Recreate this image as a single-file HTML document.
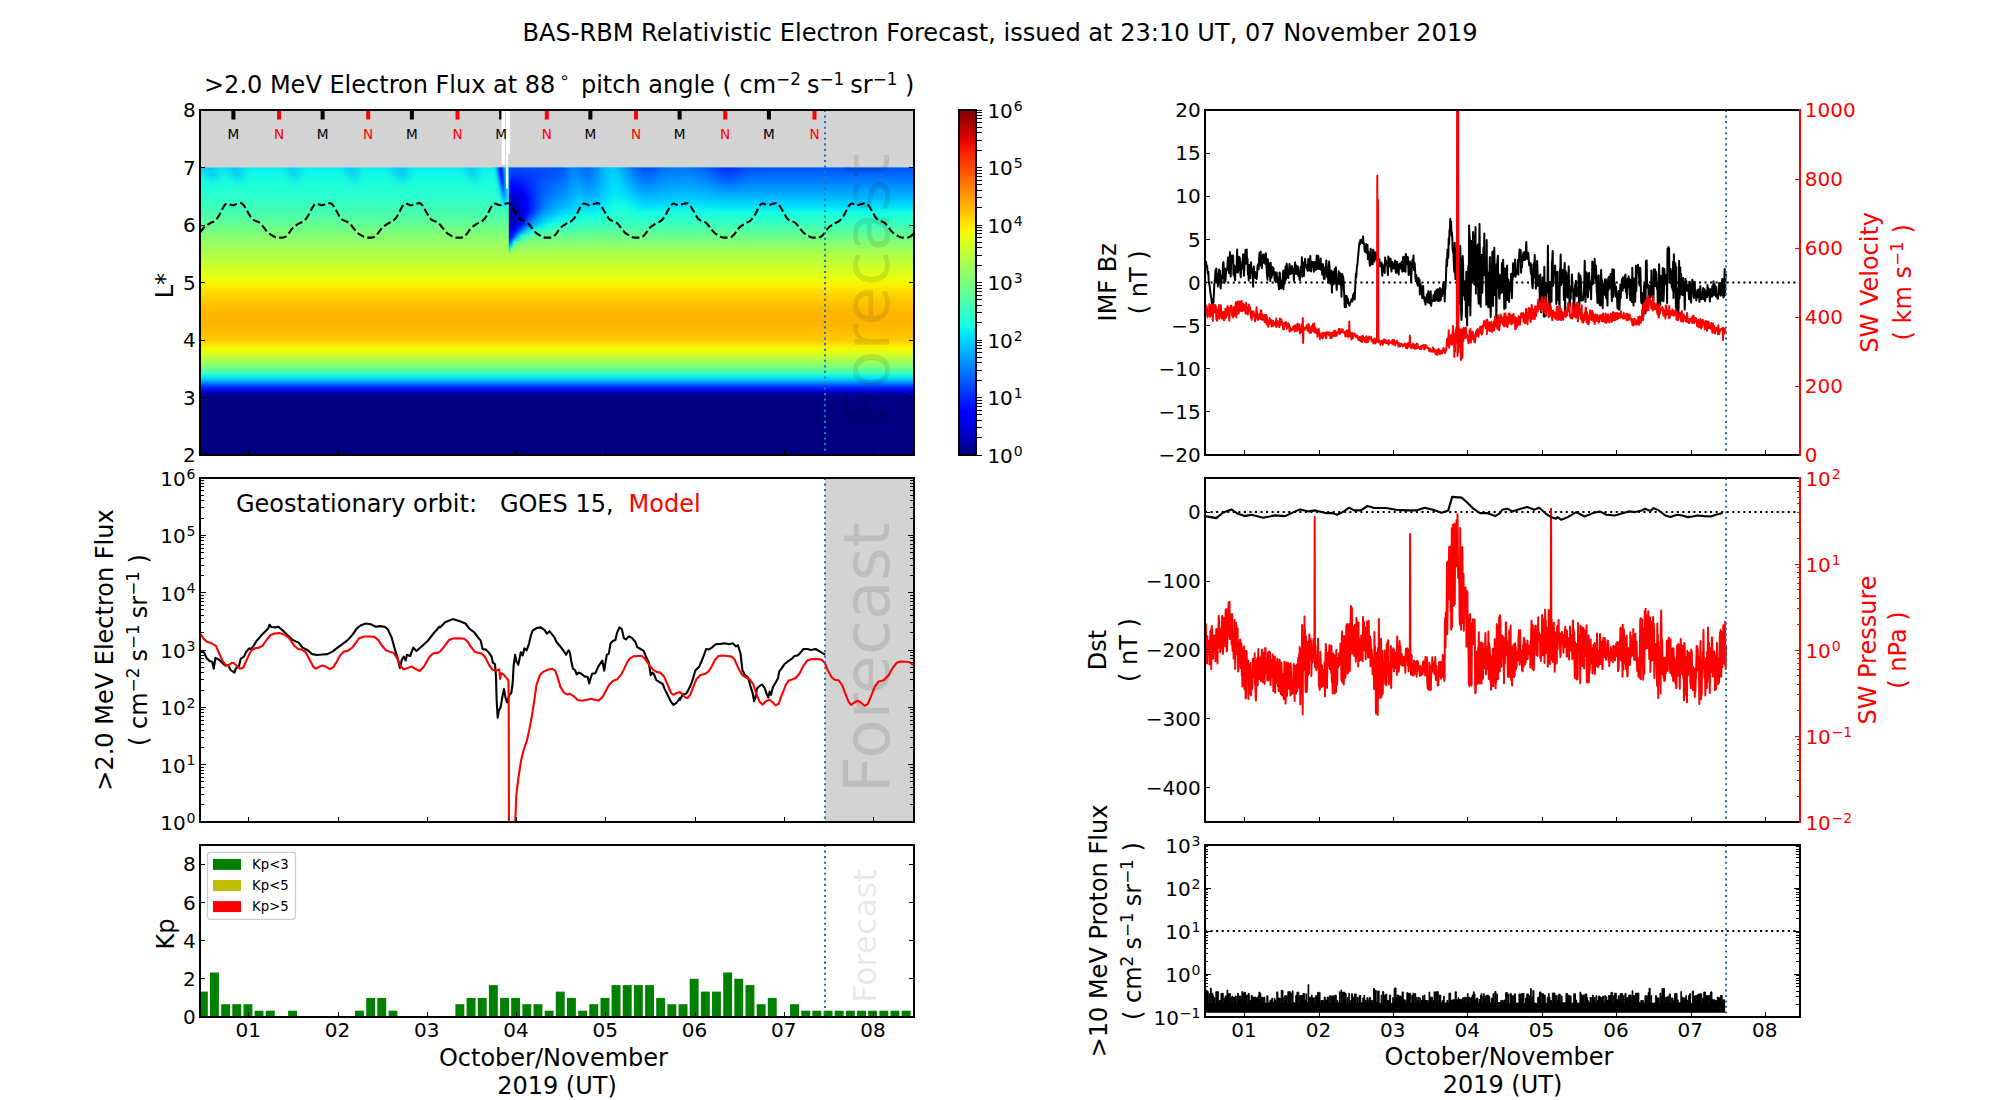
<!DOCTYPE html>
<html><head><meta charset="utf-8"><title>BAS-RBM Relativistic Electron Forecast</title>
<style>html,body{margin:0;padding:0;background:#fff}svg{display:block}text{font-family:"DejaVu Sans","Liberation Sans",sans-serif;white-space:pre}</style>
</head><body>
<svg width="2000" height="1100" viewBox="0 0 2000 1100">
<text x="1000" y="41" font-size="24.1" text-anchor="middle" fill="#000">BAS-RBM Relativistic Electron Forecast, issued at 23:10 UT, 07 November 2019</text>
<defs>
<linearGradient id="gb" x1="0" y1="0" x2="0" y2="1">
<stop offset="0.0000" stop-color="#08f0ef"/>
<stop offset="0.0167" stop-color="#0ef6e9"/>
<stop offset="0.0333" stop-color="#13fde4"/>
<stop offset="0.0500" stop-color="#19ffde"/>
<stop offset="0.0667" stop-color="#1effd9"/>
<stop offset="0.0833" stop-color="#24ffd3"/>
<stop offset="0.1000" stop-color="#29ffce"/>
<stop offset="0.1167" stop-color="#32ffc5"/>
<stop offset="0.1333" stop-color="#3affbd"/>
<stop offset="0.1500" stop-color="#43ffb4"/>
<stop offset="0.1667" stop-color="#4cffab"/>
<stop offset="0.1833" stop-color="#59ff9d"/>
<stop offset="0.2000" stop-color="#67ff90"/>
<stop offset="0.2167" stop-color="#73ff83"/>
<stop offset="0.2333" stop-color="#80ff77"/>
<stop offset="0.2500" stop-color="#8dff6a"/>
<stop offset="0.2667" stop-color="#98ff5f"/>
<stop offset="0.2833" stop-color="#a2ff54"/>
<stop offset="0.3000" stop-color="#adff4a"/>
<stop offset="0.3167" stop-color="#b7ff40"/>
<stop offset="0.3333" stop-color="#c3ff34"/>
<stop offset="0.3500" stop-color="#cfff28"/>
<stop offset="0.3667" stop-color="#dbff1c"/>
<stop offset="0.3833" stop-color="#e7ff0f"/>
<stop offset="0.4000" stop-color="#f4f903"/>
<stop offset="0.4167" stop-color="#ffeb00"/>
<stop offset="0.4333" stop-color="#ffdc00"/>
<stop offset="0.4500" stop-color="#ffcf00"/>
<stop offset="0.4667" stop-color="#ffc700"/>
<stop offset="0.4833" stop-color="#ffc000"/>
<stop offset="0.5000" stop-color="#ffb800"/>
<stop offset="0.5167" stop-color="#ffb600"/>
<stop offset="0.5333" stop-color="#ffb500"/>
<stop offset="0.5500" stop-color="#ffb600"/>
<stop offset="0.5667" stop-color="#ffbd00"/>
<stop offset="0.5833" stop-color="#ffc400"/>
<stop offset="0.6000" stop-color="#ffcb00"/>
<stop offset="0.6167" stop-color="#ffe400"/>
<stop offset="0.6333" stop-color="#f0fd06"/>
<stop offset="0.6500" stop-color="#d3ff24"/>
<stop offset="0.6667" stop-color="#b2ff45"/>
<stop offset="0.6833" stop-color="#91ff66"/>
<stop offset="0.7000" stop-color="#68ff8f"/>
<stop offset="0.7167" stop-color="#32ffc5"/>
<stop offset="0.7333" stop-color="#00defd"/>
<stop offset="0.7500" stop-color="#0082ff"/>
<stop offset="0.7667" stop-color="#001dff"/>
<stop offset="0.7833" stop-color="#0000bd"/>
<stop offset="0.8000" stop-color="#000080"/>
<stop offset="0.8167" stop-color="#000080"/>
<stop offset="0.8333" stop-color="#000080"/>
<stop offset="0.8500" stop-color="#000080"/>
<stop offset="0.8667" stop-color="#000080"/>
<stop offset="0.8833" stop-color="#000080"/>
<stop offset="0.9000" stop-color="#000080"/>
<stop offset="0.9167" stop-color="#000080"/>
<stop offset="0.9333" stop-color="#000080"/>
<stop offset="0.9500" stop-color="#000080"/>
<stop offset="0.9667" stop-color="#000080"/>
<stop offset="0.9833" stop-color="#000080"/>
<stop offset="1.0000" stop-color="#000080"/>
</linearGradient>
<linearGradient id="gcb" x1="0" y1="0" x2="0" y2="1">
<stop offset="0.000" stop-color="#800000"/>
<stop offset="0.025" stop-color="#9c0000"/>
<stop offset="0.050" stop-color="#b90000"/>
<stop offset="0.075" stop-color="#d60000"/>
<stop offset="0.100" stop-color="#f30900"/>
<stop offset="0.125" stop-color="#ff2100"/>
<stop offset="0.150" stop-color="#ff3900"/>
<stop offset="0.175" stop-color="#ff5000"/>
<stop offset="0.200" stop-color="#ff6800"/>
<stop offset="0.225" stop-color="#ff8000"/>
<stop offset="0.250" stop-color="#ff9700"/>
<stop offset="0.275" stop-color="#ffaf00"/>
<stop offset="0.300" stop-color="#ffc600"/>
<stop offset="0.325" stop-color="#ffde00"/>
<stop offset="0.350" stop-color="#f7f600"/>
<stop offset="0.375" stop-color="#e2ff15"/>
<stop offset="0.400" stop-color="#ceff29"/>
<stop offset="0.425" stop-color="#b9ff3e"/>
<stop offset="0.450" stop-color="#a5ff52"/>
<stop offset="0.475" stop-color="#90ff67"/>
<stop offset="0.500" stop-color="#7bff7b"/>
<stop offset="0.525" stop-color="#67ff90"/>
<stop offset="0.550" stop-color="#52ffa5"/>
<stop offset="0.575" stop-color="#3effb9"/>
<stop offset="0.600" stop-color="#29ffce"/>
<stop offset="0.625" stop-color="#15ffe2"/>
<stop offset="0.650" stop-color="#00e5f7"/>
<stop offset="0.675" stop-color="#00ccff"/>
<stop offset="0.700" stop-color="#00b3ff"/>
<stop offset="0.725" stop-color="#0099ff"/>
<stop offset="0.750" stop-color="#0080ff"/>
<stop offset="0.775" stop-color="#0066ff"/>
<stop offset="0.800" stop-color="#004cff"/>
<stop offset="0.825" stop-color="#0033ff"/>
<stop offset="0.850" stop-color="#001aff"/>
<stop offset="0.875" stop-color="#0000ff"/>
<stop offset="0.900" stop-color="#0000f3"/>
<stop offset="0.925" stop-color="#0000d6"/>
<stop offset="0.950" stop-color="#0000b9"/>
<stop offset="0.975" stop-color="#00009c"/>
<stop offset="1.000" stop-color="#000080"/>
</linearGradient>
</defs>
<rect x="200" y="110" width="714" height="58" fill="#d3d3d3"/>
<rect x="200" y="167.5" width="714" height="287.5" fill="url(#gb)"/>
<filter id="bl" x="-50%" y="-50%" width="200%" height="200%"><feGaussianBlur stdDeviation="4"/></filter>
<clipPath id="ch"><rect x="200" y="167.5" width="714" height="287.5"/></clipPath>
<g clip-path="url(#ch)" filter="url(#bl)" fill="#00a8ff" fill-opacity="0.6">
<ellipse cx="210" cy="169.5" rx="7" ry="13" transform="rotate(-30 210 169.5)"/>
<ellipse cx="235" cy="169.5" rx="7" ry="13" transform="rotate(-30 235 169.5)"/>
<ellipse cx="292" cy="169.5" rx="5" ry="13" transform="rotate(-30 292 169.5)"/>
<ellipse cx="351" cy="169.5" rx="5" ry="13" transform="rotate(-30 351 169.5)"/>
<ellipse cx="400" cy="169.5" rx="8" ry="13" transform="rotate(-30 400 169.5)"/>
<ellipse cx="471" cy="169.5" rx="5" ry="13" transform="rotate(-30 471 169.5)"/>
</g>
<defs><linearGradient id="s1" x1="0" y1="0" x2="0" y2="1"><stop offset="0.000" stop-color="#07eef0"/><stop offset="0.062" stop-color="#0ef7e8"/><stop offset="0.125" stop-color="#15ffe2"/><stop offset="0.187" stop-color="#1cffdb"/><stop offset="0.250" stop-color="#23ffd4"/><stop offset="0.312" stop-color="#29ffce"/><stop offset="0.375" stop-color="#33ffc3"/><stop offset="0.438" stop-color="#3effb9"/><stop offset="0.500" stop-color="#48ffaf"/><stop offset="0.563" stop-color="#57ffa0"/><stop offset="0.625" stop-color="#67ff90"/><stop offset="0.687" stop-color="#76ff81"/><stop offset="0.750" stop-color="#85ff72"/><stop offset="0.812" stop-color="#94ff63"/><stop offset="0.875" stop-color="#a0ff56"/><stop offset="0.938" stop-color="#adff4a"/><stop offset="1.000" stop-color="#b9ff3e"/></linearGradient><linearGradient id="s2" x1="0" y1="0" x2="0" y2="1"><stop offset="0.000" stop-color="#04ebf3"/><stop offset="0.062" stop-color="#0df6ea"/><stop offset="0.125" stop-color="#15ffe2"/><stop offset="0.187" stop-color="#1cffdb"/><stop offset="0.250" stop-color="#22ffd4"/><stop offset="0.312" stop-color="#29ffce"/><stop offset="0.375" stop-color="#33ffc3"/><stop offset="0.438" stop-color="#3effb9"/><stop offset="0.500" stop-color="#48ffaf"/><stop offset="0.563" stop-color="#57ffa0"/><stop offset="0.625" stop-color="#67ff90"/><stop offset="0.687" stop-color="#76ff81"/><stop offset="0.750" stop-color="#85ff72"/><stop offset="0.812" stop-color="#94ff63"/><stop offset="0.875" stop-color="#a0ff56"/><stop offset="0.938" stop-color="#adff4a"/><stop offset="1.000" stop-color="#b9ff3e"/></linearGradient><linearGradient id="s3" x1="0" y1="0" x2="0" y2="1"><stop offset="0.000" stop-color="#00e2fa"/><stop offset="0.062" stop-color="#09f1ee"/><stop offset="0.125" stop-color="#13fde4"/><stop offset="0.187" stop-color="#1bffdc"/><stop offset="0.250" stop-color="#22ffd5"/><stop offset="0.312" stop-color="#29ffce"/><stop offset="0.375" stop-color="#33ffc3"/><stop offset="0.438" stop-color="#3effb9"/><stop offset="0.500" stop-color="#48ffaf"/><stop offset="0.563" stop-color="#57ffa0"/><stop offset="0.625" stop-color="#67ff90"/><stop offset="0.687" stop-color="#76ff81"/><stop offset="0.750" stop-color="#85ff72"/><stop offset="0.812" stop-color="#94ff63"/><stop offset="0.875" stop-color="#a0ff56"/><stop offset="0.938" stop-color="#adff4a"/><stop offset="1.000" stop-color="#b9ff3e"/></linearGradient><linearGradient id="s4" x1="0" y1="0" x2="0" y2="1"><stop offset="0.000" stop-color="#00cfff"/><stop offset="0.062" stop-color="#00e6f7"/><stop offset="0.125" stop-color="#0ef7e9"/><stop offset="0.187" stop-color="#19ffde"/><stop offset="0.250" stop-color="#21ffd5"/><stop offset="0.312" stop-color="#29ffce"/><stop offset="0.375" stop-color="#33ffc3"/><stop offset="0.438" stop-color="#3effb9"/><stop offset="0.500" stop-color="#48ffaf"/><stop offset="0.563" stop-color="#57ffa0"/><stop offset="0.625" stop-color="#67ff90"/><stop offset="0.687" stop-color="#76ff81"/><stop offset="0.750" stop-color="#85ff72"/><stop offset="0.812" stop-color="#94ff63"/><stop offset="0.875" stop-color="#a0ff56"/><stop offset="0.938" stop-color="#adff4a"/><stop offset="1.000" stop-color="#b9ff3e"/></linearGradient><linearGradient id="s5" x1="0" y1="0" x2="0" y2="1"><stop offset="0.000" stop-color="#00aeff"/><stop offset="0.062" stop-color="#00cfff"/><stop offset="0.125" stop-color="#03eaf3"/><stop offset="0.187" stop-color="#14fee3"/><stop offset="0.250" stop-color="#1fffd8"/><stop offset="0.312" stop-color="#28ffcf"/><stop offset="0.375" stop-color="#33ffc4"/><stop offset="0.438" stop-color="#3effb9"/><stop offset="0.500" stop-color="#48ffaf"/><stop offset="0.563" stop-color="#57ffa0"/><stop offset="0.625" stop-color="#67ff90"/><stop offset="0.687" stop-color="#76ff81"/><stop offset="0.750" stop-color="#85ff72"/><stop offset="0.812" stop-color="#94ff63"/><stop offset="0.875" stop-color="#a0ff56"/><stop offset="0.938" stop-color="#adff4a"/><stop offset="1.000" stop-color="#b9ff3e"/></linearGradient><linearGradient id="s6" x1="0" y1="0" x2="0" y2="1"><stop offset="0.000" stop-color="#0080ff"/><stop offset="0.062" stop-color="#00aaff"/><stop offset="0.125" stop-color="#00d1ff"/><stop offset="0.187" stop-color="#08f0ef"/><stop offset="0.250" stop-color="#19ffdd"/><stop offset="0.312" stop-color="#25ffd1"/><stop offset="0.375" stop-color="#32ffc5"/><stop offset="0.438" stop-color="#3dffb9"/><stop offset="0.500" stop-color="#48ffaf"/><stop offset="0.563" stop-color="#57ffa0"/><stop offset="0.625" stop-color="#67ff90"/><stop offset="0.687" stop-color="#76ff81"/><stop offset="0.750" stop-color="#85ff72"/><stop offset="0.812" stop-color="#94ff63"/><stop offset="0.875" stop-color="#a0ff56"/><stop offset="0.938" stop-color="#adff4a"/><stop offset="1.000" stop-color="#b9ff3e"/></linearGradient><linearGradient id="s7" x1="0" y1="0" x2="0" y2="1"><stop offset="0.000" stop-color="#004bff"/><stop offset="0.062" stop-color="#0078ff"/><stop offset="0.125" stop-color="#00a9ff"/><stop offset="0.187" stop-color="#00d6ff"/><stop offset="0.250" stop-color="#0ef6e9"/><stop offset="0.312" stop-color="#20ffd7"/><stop offset="0.375" stop-color="#30ffc7"/><stop offset="0.438" stop-color="#3dffba"/><stop offset="0.500" stop-color="#48ffaf"/><stop offset="0.563" stop-color="#57ffa0"/><stop offset="0.625" stop-color="#67ff90"/><stop offset="0.687" stop-color="#76ff81"/><stop offset="0.750" stop-color="#85ff72"/><stop offset="0.812" stop-color="#94ff63"/><stop offset="0.875" stop-color="#a0ff56"/><stop offset="0.938" stop-color="#adff4a"/><stop offset="1.000" stop-color="#b9ff3e"/></linearGradient><linearGradient id="s8" x1="0" y1="0" x2="0" y2="1"><stop offset="0.000" stop-color="#0020ff"/><stop offset="0.062" stop-color="#0044ff"/><stop offset="0.125" stop-color="#0079ff"/><stop offset="0.187" stop-color="#00b1ff"/><stop offset="0.250" stop-color="#00defd"/><stop offset="0.312" stop-color="#15ffe2"/><stop offset="0.375" stop-color="#2bffcc"/><stop offset="0.438" stop-color="#3cffbb"/><stop offset="0.500" stop-color="#48ffaf"/><stop offset="0.563" stop-color="#57ffa0"/><stop offset="0.625" stop-color="#67ff90"/><stop offset="0.687" stop-color="#76ff81"/><stop offset="0.750" stop-color="#85ff72"/><stop offset="0.812" stop-color="#94ff63"/><stop offset="0.875" stop-color="#a0ff56"/><stop offset="0.938" stop-color="#adff4a"/><stop offset="1.000" stop-color="#b9ff3e"/></linearGradient><linearGradient id="s9" x1="0" y1="0" x2="0" y2="1"><stop offset="0.000" stop-color="#000fff"/><stop offset="0.062" stop-color="#0020ff"/><stop offset="0.125" stop-color="#004bff"/><stop offset="0.187" stop-color="#0086ff"/><stop offset="0.250" stop-color="#00bcff"/><stop offset="0.312" stop-color="#03e9f4"/><stop offset="0.375" stop-color="#22ffd5"/><stop offset="0.438" stop-color="#39ffbe"/><stop offset="0.500" stop-color="#48ffaf"/><stop offset="0.563" stop-color="#57ffa0"/><stop offset="0.625" stop-color="#67ff90"/><stop offset="0.687" stop-color="#76ff81"/><stop offset="0.750" stop-color="#85ff72"/><stop offset="0.812" stop-color="#94ff63"/><stop offset="0.875" stop-color="#a0ff56"/><stop offset="0.938" stop-color="#adff4a"/><stop offset="1.000" stop-color="#b9ff3e"/></linearGradient><linearGradient id="s10" x1="0" y1="0" x2="0" y2="1"><stop offset="0.000" stop-color="#0020ff"/><stop offset="0.062" stop-color="#0019ff"/><stop offset="0.125" stop-color="#002fff"/><stop offset="0.187" stop-color="#0061ff"/><stop offset="0.250" stop-color="#0099ff"/><stop offset="0.312" stop-color="#00cdff"/><stop offset="0.375" stop-color="#14ffe2"/><stop offset="0.438" stop-color="#34ffc3"/><stop offset="0.500" stop-color="#48ffaf"/><stop offset="0.563" stop-color="#57ffa0"/><stop offset="0.625" stop-color="#67ff90"/><stop offset="0.687" stop-color="#76ff81"/><stop offset="0.750" stop-color="#85ff72"/><stop offset="0.812" stop-color="#94ff63"/><stop offset="0.875" stop-color="#a0ff56"/><stop offset="0.938" stop-color="#adff4a"/><stop offset="1.000" stop-color="#b9ff3e"/></linearGradient><linearGradient id="s11" x1="0" y1="0" x2="0" y2="1"><stop offset="0.000" stop-color="#004bff"/><stop offset="0.062" stop-color="#0033ff"/><stop offset="0.125" stop-color="#0033ff"/><stop offset="0.187" stop-color="#0051ff"/><stop offset="0.250" stop-color="#007eff"/><stop offset="0.312" stop-color="#00b2ff"/><stop offset="0.375" stop-color="#04ebf3"/><stop offset="0.438" stop-color="#2dffca"/><stop offset="0.500" stop-color="#48ffaf"/><stop offset="0.563" stop-color="#57ffa0"/><stop offset="0.625" stop-color="#67ff90"/><stop offset="0.687" stop-color="#76ff81"/><stop offset="0.750" stop-color="#85ff72"/><stop offset="0.812" stop-color="#94ff63"/><stop offset="0.875" stop-color="#a0ff56"/><stop offset="0.938" stop-color="#adff4a"/><stop offset="1.000" stop-color="#b9ff3e"/></linearGradient><linearGradient id="s12" x1="0" y1="0" x2="0" y2="1"><stop offset="0.000" stop-color="#0080ff"/><stop offset="0.062" stop-color="#0063ff"/><stop offset="0.125" stop-color="#0053ff"/><stop offset="0.187" stop-color="#005cff"/><stop offset="0.250" stop-color="#0077ff"/><stop offset="0.312" stop-color="#00a1ff"/><stop offset="0.375" stop-color="#00d9ff"/><stop offset="0.438" stop-color="#26ffd1"/><stop offset="0.500" stop-color="#48ffaf"/><stop offset="0.563" stop-color="#57ffa0"/><stop offset="0.625" stop-color="#67ff90"/><stop offset="0.687" stop-color="#76ff81"/><stop offset="0.750" stop-color="#85ff72"/><stop offset="0.812" stop-color="#94ff63"/><stop offset="0.875" stop-color="#a0ff56"/><stop offset="0.938" stop-color="#adff4a"/><stop offset="1.000" stop-color="#b9ff3e"/></linearGradient><linearGradient id="s13" x1="0" y1="0" x2="0" y2="1"><stop offset="0.000" stop-color="#00aeff"/><stop offset="0.062" stop-color="#0097ff"/><stop offset="0.125" stop-color="#0083ff"/><stop offset="0.187" stop-color="#007dff"/><stop offset="0.250" stop-color="#0087ff"/><stop offset="0.312" stop-color="#00a1ff"/><stop offset="0.375" stop-color="#00d0ff"/><stop offset="0.438" stop-color="#20ffd7"/><stop offset="0.500" stop-color="#48ffaf"/><stop offset="0.563" stop-color="#57ffa0"/><stop offset="0.625" stop-color="#67ff90"/><stop offset="0.687" stop-color="#76ff81"/><stop offset="0.750" stop-color="#85ff72"/><stop offset="0.812" stop-color="#94ff63"/><stop offset="0.875" stop-color="#a0ff56"/><stop offset="0.938" stop-color="#adff4a"/><stop offset="1.000" stop-color="#b9ff3e"/></linearGradient><linearGradient id="s14" x1="0" y1="0" x2="0" y2="1"><stop offset="0.000" stop-color="#00cfff"/><stop offset="0.062" stop-color="#00c2ff"/><stop offset="0.125" stop-color="#00b2ff"/><stop offset="0.187" stop-color="#00a8ff"/><stop offset="0.250" stop-color="#00a6ff"/><stop offset="0.312" stop-color="#00b2ff"/><stop offset="0.375" stop-color="#00d4ff"/><stop offset="0.438" stop-color="#1effd9"/><stop offset="0.500" stop-color="#48ffaf"/><stop offset="0.563" stop-color="#57ffa0"/><stop offset="0.625" stop-color="#67ff90"/><stop offset="0.687" stop-color="#76ff81"/><stop offset="0.750" stop-color="#85ff72"/><stop offset="0.812" stop-color="#94ff63"/><stop offset="0.875" stop-color="#a0ff56"/><stop offset="0.938" stop-color="#adff4a"/><stop offset="1.000" stop-color="#b9ff3e"/></linearGradient><linearGradient id="s15" x1="0" y1="0" x2="0" y2="1"><stop offset="0.000" stop-color="#00e2fa"/><stop offset="0.062" stop-color="#00defd"/><stop offset="0.125" stop-color="#00d7ff"/><stop offset="0.187" stop-color="#00cfff"/><stop offset="0.250" stop-color="#00cbff"/><stop offset="0.312" stop-color="#00cdff"/><stop offset="0.375" stop-color="#00e3f9"/><stop offset="0.438" stop-color="#21ffd6"/><stop offset="0.500" stop-color="#48ffaf"/><stop offset="0.563" stop-color="#57ffa0"/><stop offset="0.625" stop-color="#67ff90"/><stop offset="0.687" stop-color="#76ff81"/><stop offset="0.750" stop-color="#85ff72"/><stop offset="0.812" stop-color="#94ff63"/><stop offset="0.875" stop-color="#a0ff56"/><stop offset="0.938" stop-color="#adff4a"/><stop offset="1.000" stop-color="#b9ff3e"/></linearGradient><linearGradient id="s16" x1="0" y1="0" x2="0" y2="1"><stop offset="0.000" stop-color="#04ebf3"/><stop offset="0.062" stop-color="#06edf0"/><stop offset="0.125" stop-color="#06edf1"/><stop offset="0.187" stop-color="#05ebf2"/><stop offset="0.250" stop-color="#03e9f4"/><stop offset="0.312" stop-color="#03e9f4"/><stop offset="0.375" stop-color="#0ef7e9"/><stop offset="0.438" stop-color="#27ffd0"/><stop offset="0.500" stop-color="#48ffaf"/><stop offset="0.563" stop-color="#57ffa0"/><stop offset="0.625" stop-color="#67ff90"/><stop offset="0.687" stop-color="#76ff81"/><stop offset="0.750" stop-color="#85ff72"/><stop offset="0.812" stop-color="#94ff63"/><stop offset="0.875" stop-color="#a0ff56"/><stop offset="0.938" stop-color="#adff4a"/><stop offset="1.000" stop-color="#b9ff3e"/></linearGradient><linearGradient id="s17" x1="0" y1="0" x2="0" y2="1"><stop offset="0.000" stop-color="#07eef0"/><stop offset="0.062" stop-color="#0bf4eb"/><stop offset="0.125" stop-color="#0ff8e8"/><stop offset="0.187" stop-color="#11fae6"/><stop offset="0.250" stop-color="#12fce5"/><stop offset="0.312" stop-color="#13fde4"/><stop offset="0.375" stop-color="#1cffdb"/><stop offset="0.438" stop-color="#2effc9"/><stop offset="0.500" stop-color="#48ffaf"/><stop offset="0.563" stop-color="#57ffa0"/><stop offset="0.625" stop-color="#67ff90"/><stop offset="0.687" stop-color="#76ff81"/><stop offset="0.750" stop-color="#85ff72"/><stop offset="0.812" stop-color="#94ff63"/><stop offset="0.875" stop-color="#a0ff56"/><stop offset="0.938" stop-color="#adff4a"/><stop offset="1.000" stop-color="#b9ff3e"/></linearGradient><linearGradient id="s18" x1="0" y1="0" x2="0" y2="1"><stop offset="0.000" stop-color="#004dff"/><stop offset="0.062" stop-color="#0038ff"/><stop offset="0.125" stop-color="#0024ff"/><stop offset="0.187" stop-color="#0009ff"/><stop offset="0.250" stop-color="#0000f6"/><stop offset="0.312" stop-color="#0000d1"/><stop offset="0.375" stop-color="#0000be"/><stop offset="0.438" stop-color="#0000ac"/><stop offset="0.500" stop-color="#0000a7"/><stop offset="0.563" stop-color="#0000b0"/><stop offset="0.625" stop-color="#0000ba"/><stop offset="0.687" stop-color="#0000e8"/><stop offset="0.750" stop-color="#0005ff"/><stop offset="0.812" stop-color="#0058ff"/><stop offset="0.875" stop-color="#00d5ff"/><stop offset="0.938" stop-color="#adff4a"/><stop offset="1.000" stop-color="#b9ff3e"/></linearGradient><linearGradient id="s19" x1="0" y1="0" x2="0" y2="1"><stop offset="0.000" stop-color="#004dff"/><stop offset="0.062" stop-color="#0038ff"/><stop offset="0.125" stop-color="#0024ff"/><stop offset="0.187" stop-color="#0009ff"/><stop offset="0.250" stop-color="#0000f6"/><stop offset="0.312" stop-color="#0000d1"/><stop offset="0.375" stop-color="#0000be"/><stop offset="0.438" stop-color="#0000ac"/><stop offset="0.500" stop-color="#0000a7"/><stop offset="0.563" stop-color="#0000b1"/><stop offset="0.625" stop-color="#0000ba"/><stop offset="0.687" stop-color="#0000e9"/><stop offset="0.750" stop-color="#000aff"/><stop offset="0.812" stop-color="#0068ff"/><stop offset="0.875" stop-color="#17ffe0"/><stop offset="0.938" stop-color="#adff4a"/><stop offset="1.000" stop-color="#b9ff3e"/></linearGradient><linearGradient id="s20" x1="0" y1="0" x2="0" y2="1"><stop offset="0.000" stop-color="#004dff"/><stop offset="0.062" stop-color="#0038ff"/><stop offset="0.125" stop-color="#0024ff"/><stop offset="0.187" stop-color="#0009ff"/><stop offset="0.250" stop-color="#0000f6"/><stop offset="0.312" stop-color="#0000d1"/><stop offset="0.375" stop-color="#0000bf"/><stop offset="0.438" stop-color="#0000ac"/><stop offset="0.500" stop-color="#0000a8"/><stop offset="0.563" stop-color="#0000b2"/><stop offset="0.625" stop-color="#0000bc"/><stop offset="0.687" stop-color="#0000ed"/><stop offset="0.750" stop-color="#0014ff"/><stop offset="0.812" stop-color="#0088ff"/><stop offset="0.875" stop-color="#44ffb2"/><stop offset="0.938" stop-color="#adff4a"/><stop offset="1.000" stop-color="#b9ff3e"/></linearGradient><linearGradient id="s21" x1="0" y1="0" x2="0" y2="1"><stop offset="0.000" stop-color="#004dff"/><stop offset="0.062" stop-color="#0038ff"/><stop offset="0.125" stop-color="#0024ff"/><stop offset="0.187" stop-color="#000aff"/><stop offset="0.250" stop-color="#0000f7"/><stop offset="0.312" stop-color="#0000d2"/><stop offset="0.375" stop-color="#0000c0"/><stop offset="0.438" stop-color="#0000ae"/><stop offset="0.500" stop-color="#0000aa"/><stop offset="0.563" stop-color="#0000b4"/><stop offset="0.625" stop-color="#0000bf"/><stop offset="0.687" stop-color="#0000f4"/><stop offset="0.750" stop-color="#0026ff"/><stop offset="0.812" stop-color="#00b4ff"/><stop offset="0.875" stop-color="#65ff92"/><stop offset="0.938" stop-color="#adff4a"/><stop offset="1.000" stop-color="#b9ff3e"/></linearGradient><linearGradient id="s22" x1="0" y1="0" x2="0" y2="1"><stop offset="0.000" stop-color="#004dff"/><stop offset="0.062" stop-color="#0038ff"/><stop offset="0.125" stop-color="#0024ff"/><stop offset="0.187" stop-color="#000aff"/><stop offset="0.250" stop-color="#0000f8"/><stop offset="0.312" stop-color="#0000d3"/><stop offset="0.375" stop-color="#0000c1"/><stop offset="0.438" stop-color="#0000af"/><stop offset="0.500" stop-color="#0000ac"/><stop offset="0.563" stop-color="#0000b7"/><stop offset="0.625" stop-color="#0000c4"/><stop offset="0.687" stop-color="#0000fe"/><stop offset="0.750" stop-color="#003eff"/><stop offset="0.812" stop-color="#00e0fb"/><stop offset="0.875" stop-color="#78ff7f"/><stop offset="0.938" stop-color="#adff4a"/><stop offset="1.000" stop-color="#b9ff3e"/></linearGradient><linearGradient id="s23" x1="0" y1="0" x2="0" y2="1"><stop offset="0.000" stop-color="#004dff"/><stop offset="0.062" stop-color="#0038ff"/><stop offset="0.125" stop-color="#0025ff"/><stop offset="0.187" stop-color="#000bff"/><stop offset="0.250" stop-color="#0000f9"/><stop offset="0.312" stop-color="#0000d5"/><stop offset="0.375" stop-color="#0000c4"/><stop offset="0.438" stop-color="#0000b2"/><stop offset="0.500" stop-color="#0000af"/><stop offset="0.563" stop-color="#0000bc"/><stop offset="0.625" stop-color="#0000ca"/><stop offset="0.687" stop-color="#0000ff"/><stop offset="0.750" stop-color="#005aff"/><stop offset="0.812" stop-color="#1affdc"/><stop offset="0.875" stop-color="#83ff74"/><stop offset="0.938" stop-color="#adff4a"/><stop offset="1.000" stop-color="#b9ff3e"/></linearGradient><linearGradient id="s24" x1="0" y1="0" x2="0" y2="1"><stop offset="0.000" stop-color="#004dff"/><stop offset="0.062" stop-color="#0039ff"/><stop offset="0.125" stop-color="#0025ff"/><stop offset="0.187" stop-color="#000cff"/><stop offset="0.250" stop-color="#0000fb"/><stop offset="0.312" stop-color="#0000d8"/><stop offset="0.375" stop-color="#0000c6"/><stop offset="0.438" stop-color="#0000b5"/><stop offset="0.500" stop-color="#0000b3"/><stop offset="0.563" stop-color="#0000c1"/><stop offset="0.625" stop-color="#0000d2"/><stop offset="0.687" stop-color="#000aff"/><stop offset="0.750" stop-color="#0078ff"/><stop offset="0.812" stop-color="#32ffc4"/><stop offset="0.875" stop-color="#89ff6e"/><stop offset="0.938" stop-color="#adff4a"/><stop offset="1.000" stop-color="#b9ff3e"/></linearGradient><linearGradient id="s25" x1="0" y1="0" x2="0" y2="1"><stop offset="0.000" stop-color="#004dff"/><stop offset="0.062" stop-color="#0039ff"/><stop offset="0.125" stop-color="#0026ff"/><stop offset="0.187" stop-color="#000dff"/><stop offset="0.250" stop-color="#0000fd"/><stop offset="0.312" stop-color="#0000db"/><stop offset="0.375" stop-color="#0000ca"/><stop offset="0.438" stop-color="#0000b9"/><stop offset="0.500" stop-color="#0000b8"/><stop offset="0.563" stop-color="#0000c8"/><stop offset="0.625" stop-color="#0000dd"/><stop offset="0.687" stop-color="#001aff"/><stop offset="0.750" stop-color="#0096ff"/><stop offset="0.812" stop-color="#44ffb2"/><stop offset="0.875" stop-color="#8dff6a"/><stop offset="0.938" stop-color="#adff4a"/><stop offset="1.000" stop-color="#b9ff3e"/></linearGradient><linearGradient id="s26" x1="0" y1="0" x2="0" y2="1"><stop offset="0.000" stop-color="#004dff"/><stop offset="0.062" stop-color="#0039ff"/><stop offset="0.125" stop-color="#0026ff"/><stop offset="0.187" stop-color="#000fff"/><stop offset="0.250" stop-color="#0000ff"/><stop offset="0.312" stop-color="#0000de"/><stop offset="0.375" stop-color="#0000ce"/><stop offset="0.438" stop-color="#0000be"/><stop offset="0.500" stop-color="#0000be"/><stop offset="0.563" stop-color="#0000d1"/><stop offset="0.625" stop-color="#0000e8"/><stop offset="0.687" stop-color="#002cff"/><stop offset="0.750" stop-color="#00b2ff"/><stop offset="0.812" stop-color="#52ffa5"/><stop offset="0.875" stop-color="#90ff67"/><stop offset="0.938" stop-color="#adff4a"/><stop offset="1.000" stop-color="#b9ff3e"/></linearGradient><linearGradient id="s27" x1="0" y1="0" x2="0" y2="1"><stop offset="0.000" stop-color="#004dff"/><stop offset="0.062" stop-color="#0039ff"/><stop offset="0.125" stop-color="#0027ff"/><stop offset="0.187" stop-color="#0010ff"/><stop offset="0.250" stop-color="#0000ff"/><stop offset="0.312" stop-color="#0000e2"/><stop offset="0.375" stop-color="#0000d3"/><stop offset="0.438" stop-color="#0000c4"/><stop offset="0.500" stop-color="#0000c5"/><stop offset="0.563" stop-color="#0000da"/><stop offset="0.625" stop-color="#0000f5"/><stop offset="0.687" stop-color="#003fff"/><stop offset="0.750" stop-color="#00cbff"/><stop offset="0.812" stop-color="#5cff9b"/><stop offset="0.875" stop-color="#92ff65"/><stop offset="0.938" stop-color="#adff4a"/><stop offset="1.000" stop-color="#b9ff3e"/></linearGradient><linearGradient id="s28" x1="0" y1="0" x2="0" y2="1"><stop offset="0.000" stop-color="#004dff"/><stop offset="0.062" stop-color="#003aff"/><stop offset="0.125" stop-color="#0028ff"/><stop offset="0.187" stop-color="#0012ff"/><stop offset="0.250" stop-color="#0000ff"/><stop offset="0.312" stop-color="#0000e7"/><stop offset="0.375" stop-color="#0000d9"/><stop offset="0.438" stop-color="#0000ca"/><stop offset="0.500" stop-color="#0000cd"/><stop offset="0.563" stop-color="#0000e5"/><stop offset="0.625" stop-color="#0000ff"/><stop offset="0.687" stop-color="#0053ff"/><stop offset="0.750" stop-color="#00e2fa"/><stop offset="0.812" stop-color="#63ff93"/><stop offset="0.875" stop-color="#93ff64"/><stop offset="0.938" stop-color="#adff4a"/><stop offset="1.000" stop-color="#b9ff3e"/></linearGradient><linearGradient id="s29" x1="0" y1="0" x2="0" y2="1"><stop offset="0.000" stop-color="#004dff"/><stop offset="0.062" stop-color="#003aff"/><stop offset="0.125" stop-color="#0029ff"/><stop offset="0.187" stop-color="#0014ff"/><stop offset="0.250" stop-color="#0000ff"/><stop offset="0.312" stop-color="#0000ec"/><stop offset="0.375" stop-color="#0000df"/><stop offset="0.438" stop-color="#0000d1"/><stop offset="0.500" stop-color="#0000d6"/><stop offset="0.563" stop-color="#0000f1"/><stop offset="0.625" stop-color="#0002ff"/><stop offset="0.687" stop-color="#0067ff"/><stop offset="0.750" stop-color="#0cf5eb"/><stop offset="0.812" stop-color="#69ff8e"/><stop offset="0.875" stop-color="#94ff63"/><stop offset="0.938" stop-color="#adff4a"/><stop offset="1.000" stop-color="#b9ff3e"/></linearGradient><linearGradient id="s30" x1="0" y1="0" x2="0" y2="1"><stop offset="0.000" stop-color="#004dff"/><stop offset="0.062" stop-color="#003aff"/><stop offset="0.125" stop-color="#002aff"/><stop offset="0.187" stop-color="#0017ff"/><stop offset="0.250" stop-color="#0000ff"/><stop offset="0.312" stop-color="#0000f2"/><stop offset="0.375" stop-color="#0000e6"/><stop offset="0.438" stop-color="#0000d9"/><stop offset="0.500" stop-color="#0000df"/><stop offset="0.563" stop-color="#0000fd"/><stop offset="0.625" stop-color="#0011ff"/><stop offset="0.687" stop-color="#0079ff"/><stop offset="0.750" stop-color="#19ffdd"/><stop offset="0.812" stop-color="#6dff89"/><stop offset="0.875" stop-color="#94ff62"/><stop offset="0.938" stop-color="#adff4a"/><stop offset="1.000" stop-color="#b9ff3e"/></linearGradient><linearGradient id="s31" x1="0" y1="0" x2="0" y2="1"><stop offset="0.000" stop-color="#004dff"/><stop offset="0.062" stop-color="#003bff"/><stop offset="0.125" stop-color="#002cff"/><stop offset="0.187" stop-color="#0019ff"/><stop offset="0.250" stop-color="#0001ff"/><stop offset="0.312" stop-color="#0000f8"/><stop offset="0.375" stop-color="#0000ed"/><stop offset="0.438" stop-color="#0000e2"/><stop offset="0.500" stop-color="#0000ea"/><stop offset="0.563" stop-color="#0000ff"/><stop offset="0.625" stop-color="#001fff"/><stop offset="0.687" stop-color="#008bff"/><stop offset="0.750" stop-color="#24ffd2"/><stop offset="0.812" stop-color="#71ff86"/><stop offset="0.875" stop-color="#95ff62"/><stop offset="0.938" stop-color="#adff4a"/><stop offset="1.000" stop-color="#b9ff3e"/></linearGradient><linearGradient id="s32" x1="0" y1="0" x2="0" y2="1"><stop offset="0.000" stop-color="#004dff"/><stop offset="0.062" stop-color="#003bff"/><stop offset="0.125" stop-color="#002dff"/><stop offset="0.187" stop-color="#001cff"/><stop offset="0.250" stop-color="#0006ff"/><stop offset="0.312" stop-color="#0000ff"/><stop offset="0.375" stop-color="#0000f5"/><stop offset="0.438" stop-color="#0000eb"/><stop offset="0.500" stop-color="#0000f5"/><stop offset="0.563" stop-color="#0006ff"/><stop offset="0.625" stop-color="#002eff"/><stop offset="0.687" stop-color="#009cff"/><stop offset="0.750" stop-color="#2effc9"/><stop offset="0.812" stop-color="#74ff83"/><stop offset="0.875" stop-color="#95ff61"/><stop offset="0.938" stop-color="#adff4a"/><stop offset="1.000" stop-color="#b9ff3e"/></linearGradient><linearGradient id="s33" x1="0" y1="0" x2="0" y2="1"><stop offset="0.000" stop-color="#004dff"/><stop offset="0.062" stop-color="#003cff"/><stop offset="0.125" stop-color="#002fff"/><stop offset="0.187" stop-color="#001fff"/><stop offset="0.250" stop-color="#000aff"/><stop offset="0.312" stop-color="#0000ff"/><stop offset="0.375" stop-color="#0000fd"/><stop offset="0.438" stop-color="#0000f4"/><stop offset="0.500" stop-color="#0000ff"/><stop offset="0.563" stop-color="#0013ff"/><stop offset="0.625" stop-color="#003dff"/><stop offset="0.687" stop-color="#00acff"/><stop offset="0.750" stop-color="#36ffc1"/><stop offset="0.812" stop-color="#76ff81"/><stop offset="0.875" stop-color="#96ff61"/><stop offset="0.938" stop-color="#adff4a"/><stop offset="1.000" stop-color="#b9ff3e"/></linearGradient><linearGradient id="s34" x1="0" y1="0" x2="0" y2="1"><stop offset="0.000" stop-color="#004dff"/><stop offset="0.062" stop-color="#003dff"/><stop offset="0.125" stop-color="#0030ff"/><stop offset="0.187" stop-color="#0022ff"/><stop offset="0.250" stop-color="#000fff"/><stop offset="0.312" stop-color="#0000ff"/><stop offset="0.375" stop-color="#0000ff"/><stop offset="0.438" stop-color="#0000fe"/><stop offset="0.500" stop-color="#0000ff"/><stop offset="0.563" stop-color="#001fff"/><stop offset="0.625" stop-color="#004bff"/><stop offset="0.687" stop-color="#00bbff"/><stop offset="0.750" stop-color="#3cffba"/><stop offset="0.812" stop-color="#77ff7f"/><stop offset="0.875" stop-color="#96ff61"/><stop offset="0.938" stop-color="#adff4a"/><stop offset="1.000" stop-color="#b9ff3e"/></linearGradient><linearGradient id="s35" x1="0" y1="0" x2="0" y2="1"><stop offset="0.000" stop-color="#004dff"/><stop offset="0.062" stop-color="#003dff"/><stop offset="0.125" stop-color="#0032ff"/><stop offset="0.187" stop-color="#0025ff"/><stop offset="0.250" stop-color="#0013ff"/><stop offset="0.312" stop-color="#0004ff"/><stop offset="0.375" stop-color="#0000ff"/><stop offset="0.438" stop-color="#0000ff"/><stop offset="0.500" stop-color="#0006ff"/><stop offset="0.563" stop-color="#002bff"/><stop offset="0.625" stop-color="#0059ff"/><stop offset="0.687" stop-color="#00c8ff"/><stop offset="0.750" stop-color="#42ffb5"/><stop offset="0.812" stop-color="#79ff7e"/><stop offset="0.875" stop-color="#96ff61"/><stop offset="0.938" stop-color="#adff4a"/><stop offset="1.000" stop-color="#b9ff3e"/></linearGradient><linearGradient id="s36" x1="0" y1="0" x2="0" y2="1"><stop offset="0.000" stop-color="#004dff"/><stop offset="0.062" stop-color="#003eff"/><stop offset="0.125" stop-color="#0034ff"/><stop offset="0.187" stop-color="#0028ff"/><stop offset="0.250" stop-color="#0018ff"/><stop offset="0.312" stop-color="#000aff"/><stop offset="0.375" stop-color="#0006ff"/><stop offset="0.438" stop-color="#0002ff"/><stop offset="0.500" stop-color="#0010ff"/><stop offset="0.563" stop-color="#0037ff"/><stop offset="0.625" stop-color="#0067ff"/><stop offset="0.687" stop-color="#00d4ff"/><stop offset="0.750" stop-color="#47ffb0"/><stop offset="0.812" stop-color="#7aff7d"/><stop offset="0.875" stop-color="#96ff60"/><stop offset="0.938" stop-color="#adff4a"/><stop offset="1.000" stop-color="#b9ff3e"/></linearGradient><linearGradient id="s37" x1="0" y1="0" x2="0" y2="1"><stop offset="0.000" stop-color="#004dff"/><stop offset="0.062" stop-color="#003fff"/><stop offset="0.125" stop-color="#0035ff"/><stop offset="0.187" stop-color="#002cff"/><stop offset="0.250" stop-color="#001dff"/><stop offset="0.312" stop-color="#0011ff"/><stop offset="0.375" stop-color="#000eff"/><stop offset="0.438" stop-color="#000bff"/><stop offset="0.500" stop-color="#001bff"/><stop offset="0.563" stop-color="#0043ff"/><stop offset="0.625" stop-color="#0074ff"/><stop offset="0.687" stop-color="#00dffc"/><stop offset="0.750" stop-color="#4bffac"/><stop offset="0.812" stop-color="#7bff7c"/><stop offset="0.875" stop-color="#96ff60"/><stop offset="0.938" stop-color="#adff4a"/><stop offset="1.000" stop-color="#b9ff3e"/></linearGradient><linearGradient id="s38" x1="0" y1="0" x2="0" y2="1"><stop offset="0.000" stop-color="#004dff"/><stop offset="0.062" stop-color="#003fff"/><stop offset="0.125" stop-color="#0037ff"/><stop offset="0.187" stop-color="#002fff"/><stop offset="0.250" stop-color="#0022ff"/><stop offset="0.312" stop-color="#0017ff"/><stop offset="0.375" stop-color="#0016ff"/><stop offset="0.438" stop-color="#0014ff"/><stop offset="0.500" stop-color="#0025ff"/><stop offset="0.563" stop-color="#004fff"/><stop offset="0.625" stop-color="#0080ff"/><stop offset="0.687" stop-color="#02e8f4"/><stop offset="0.750" stop-color="#4fffa8"/><stop offset="0.812" stop-color="#7cff7b"/><stop offset="0.875" stop-color="#97ff60"/><stop offset="0.938" stop-color="#adff4a"/><stop offset="1.000" stop-color="#b9ff3e"/></linearGradient><linearGradient id="s39" x1="0" y1="0" x2="0" y2="1"><stop offset="0.000" stop-color="#004dff"/><stop offset="0.062" stop-color="#0040ff"/><stop offset="0.125" stop-color="#0039ff"/><stop offset="0.187" stop-color="#0033ff"/><stop offset="0.250" stop-color="#0027ff"/><stop offset="0.312" stop-color="#001eff"/><stop offset="0.375" stop-color="#001dff"/><stop offset="0.438" stop-color="#001dff"/><stop offset="0.500" stop-color="#002fff"/><stop offset="0.563" stop-color="#005aff"/><stop offset="0.625" stop-color="#008bff"/><stop offset="0.687" stop-color="#09f1ed"/><stop offset="0.750" stop-color="#52ffa5"/><stop offset="0.812" stop-color="#7dff7a"/><stop offset="0.875" stop-color="#97ff60"/><stop offset="0.938" stop-color="#adff4a"/><stop offset="1.000" stop-color="#b9ff3e"/></linearGradient><linearGradient id="s40" x1="0" y1="0" x2="0" y2="1"><stop offset="0.000" stop-color="#004dff"/><stop offset="0.062" stop-color="#0041ff"/><stop offset="0.125" stop-color="#003bff"/><stop offset="0.187" stop-color="#0036ff"/><stop offset="0.250" stop-color="#002cff"/><stop offset="0.312" stop-color="#0024ff"/><stop offset="0.375" stop-color="#0025ff"/><stop offset="0.438" stop-color="#0026ff"/><stop offset="0.500" stop-color="#0039ff"/><stop offset="0.563" stop-color="#0065ff"/><stop offset="0.625" stop-color="#0096ff"/><stop offset="0.687" stop-color="#10f9e7"/><stop offset="0.750" stop-color="#54ffa2"/><stop offset="0.812" stop-color="#7dff7a"/><stop offset="0.875" stop-color="#97ff60"/><stop offset="0.938" stop-color="#adff4a"/><stop offset="1.000" stop-color="#b9ff3e"/></linearGradient><linearGradient id="s41" x1="0" y1="0" x2="0" y2="1"><stop offset="0.000" stop-color="#004dff"/><stop offset="0.062" stop-color="#0042ff"/><stop offset="0.125" stop-color="#003dff"/><stop offset="0.187" stop-color="#0039ff"/><stop offset="0.250" stop-color="#0031ff"/><stop offset="0.312" stop-color="#002bff"/><stop offset="0.375" stop-color="#002cff"/><stop offset="0.438" stop-color="#002eff"/><stop offset="0.500" stop-color="#0043ff"/><stop offset="0.563" stop-color="#006fff"/><stop offset="0.625" stop-color="#00a1ff"/><stop offset="0.687" stop-color="#16ffe1"/><stop offset="0.750" stop-color="#57ffa0"/><stop offset="0.812" stop-color="#7eff79"/><stop offset="0.875" stop-color="#97ff60"/><stop offset="0.938" stop-color="#adff4a"/><stop offset="1.000" stop-color="#b9ff3e"/></linearGradient><linearGradient id="s42" x1="0" y1="0" x2="0" y2="1"><stop offset="0.000" stop-color="#004dff"/><stop offset="0.062" stop-color="#0043ff"/><stop offset="0.125" stop-color="#003fff"/><stop offset="0.187" stop-color="#003cff"/><stop offset="0.250" stop-color="#0035ff"/><stop offset="0.312" stop-color="#0031ff"/><stop offset="0.375" stop-color="#0034ff"/><stop offset="0.438" stop-color="#0037ff"/><stop offset="0.500" stop-color="#004cff"/><stop offset="0.563" stop-color="#0079ff"/><stop offset="0.625" stop-color="#00aaff"/><stop offset="0.687" stop-color="#1bffdc"/><stop offset="0.750" stop-color="#59ff9e"/><stop offset="0.812" stop-color="#7eff79"/><stop offset="0.875" stop-color="#97ff60"/><stop offset="0.938" stop-color="#adff4a"/><stop offset="1.000" stop-color="#b9ff3e"/></linearGradient><linearGradient id="s43" x1="0" y1="0" x2="0" y2="1"><stop offset="0.000" stop-color="#004dff"/><stop offset="0.062" stop-color="#0043ff"/><stop offset="0.125" stop-color="#0041ff"/><stop offset="0.187" stop-color="#0040ff"/><stop offset="0.250" stop-color="#003aff"/><stop offset="0.312" stop-color="#0037ff"/><stop offset="0.375" stop-color="#003bff"/><stop offset="0.438" stop-color="#003fff"/><stop offset="0.500" stop-color="#0055ff"/><stop offset="0.563" stop-color="#0082ff"/><stop offset="0.625" stop-color="#00b3ff"/><stop offset="0.687" stop-color="#1fffd7"/><stop offset="0.750" stop-color="#5aff9c"/><stop offset="0.812" stop-color="#7eff78"/><stop offset="0.875" stop-color="#97ff60"/><stop offset="0.938" stop-color="#adff4a"/><stop offset="1.000" stop-color="#b9ff3e"/></linearGradient><linearGradient id="s44" x1="0" y1="0" x2="0" y2="1"><stop offset="0.000" stop-color="#004eff"/><stop offset="0.062" stop-color="#0044ff"/><stop offset="0.125" stop-color="#0043ff"/><stop offset="0.187" stop-color="#0043ff"/><stop offset="0.250" stop-color="#003eff"/><stop offset="0.312" stop-color="#003dff"/><stop offset="0.375" stop-color="#0042ff"/><stop offset="0.438" stop-color="#0047ff"/><stop offset="0.500" stop-color="#005eff"/><stop offset="0.563" stop-color="#008bff"/><stop offset="0.625" stop-color="#00bbff"/><stop offset="0.687" stop-color="#24ffd3"/><stop offset="0.750" stop-color="#5cff9b"/><stop offset="0.812" stop-color="#7fff78"/><stop offset="0.875" stop-color="#97ff60"/><stop offset="0.938" stop-color="#adff4a"/><stop offset="1.000" stop-color="#b9ff3e"/></linearGradient><linearGradient id="s45" x1="0" y1="0" x2="0" y2="1"><stop offset="0.000" stop-color="#004eff"/><stop offset="0.062" stop-color="#0045ff"/><stop offset="0.125" stop-color="#0045ff"/><stop offset="0.187" stop-color="#0046ff"/><stop offset="0.250" stop-color="#0043ff"/><stop offset="0.312" stop-color="#0042ff"/><stop offset="0.375" stop-color="#0048ff"/><stop offset="0.438" stop-color="#004eff"/><stop offset="0.500" stop-color="#0066ff"/><stop offset="0.563" stop-color="#0093ff"/><stop offset="0.625" stop-color="#00c3ff"/><stop offset="0.687" stop-color="#27ffcf"/><stop offset="0.750" stop-color="#5dff99"/><stop offset="0.812" stop-color="#7fff78"/><stop offset="0.875" stop-color="#97ff60"/><stop offset="0.938" stop-color="#adff4a"/><stop offset="1.000" stop-color="#b9ff3e"/></linearGradient><linearGradient id="s46" x1="0" y1="0" x2="0" y2="1"><stop offset="0.000" stop-color="#004eff"/><stop offset="0.062" stop-color="#0046ff"/><stop offset="0.125" stop-color="#0046ff"/><stop offset="0.187" stop-color="#0049ff"/><stop offset="0.250" stop-color="#0047ff"/><stop offset="0.312" stop-color="#0048ff"/><stop offset="0.375" stop-color="#004fff"/><stop offset="0.438" stop-color="#0056ff"/><stop offset="0.500" stop-color="#006eff"/><stop offset="0.563" stop-color="#009bff"/><stop offset="0.625" stop-color="#00caff"/><stop offset="0.687" stop-color="#2bffcc"/><stop offset="0.750" stop-color="#5fff98"/><stop offset="0.812" stop-color="#7fff77"/><stop offset="0.875" stop-color="#97ff60"/><stop offset="0.938" stop-color="#adff4a"/><stop offset="1.000" stop-color="#b9ff3e"/></linearGradient><linearGradient id="s47" x1="0" y1="0" x2="0" y2="1"><stop offset="0.000" stop-color="#004eff"/><stop offset="0.062" stop-color="#0047ff"/><stop offset="0.125" stop-color="#0048ff"/><stop offset="0.187" stop-color="#004cff"/><stop offset="0.250" stop-color="#004bff"/><stop offset="0.312" stop-color="#004dff"/><stop offset="0.375" stop-color="#0055ff"/><stop offset="0.438" stop-color="#005dff"/><stop offset="0.500" stop-color="#0076ff"/><stop offset="0.563" stop-color="#00a2ff"/><stop offset="0.625" stop-color="#00d1ff"/><stop offset="0.687" stop-color="#2effc9"/><stop offset="0.750" stop-color="#60ff97"/><stop offset="0.812" stop-color="#80ff77"/><stop offset="0.875" stop-color="#97ff60"/><stop offset="0.938" stop-color="#adff4a"/><stop offset="1.000" stop-color="#b9ff3e"/></linearGradient><linearGradient id="s48" x1="0" y1="0" x2="0" y2="1"><stop offset="0.000" stop-color="#004eff"/><stop offset="0.062" stop-color="#0048ff"/><stop offset="0.125" stop-color="#004aff"/><stop offset="0.187" stop-color="#004eff"/><stop offset="0.250" stop-color="#004fff"/><stop offset="0.312" stop-color="#0052ff"/><stop offset="0.375" stop-color="#005bff"/><stop offset="0.438" stop-color="#0064ff"/><stop offset="0.500" stop-color="#007dff"/><stop offset="0.563" stop-color="#00a9ff"/><stop offset="0.625" stop-color="#00d7ff"/><stop offset="0.687" stop-color="#31ffc6"/><stop offset="0.750" stop-color="#61ff96"/><stop offset="0.812" stop-color="#80ff77"/><stop offset="0.875" stop-color="#97ff60"/><stop offset="0.938" stop-color="#adff4a"/><stop offset="1.000" stop-color="#b9ff3e"/></linearGradient><linearGradient id="s49" x1="0" y1="0" x2="0" y2="1"><stop offset="0.000" stop-color="#004eff"/><stop offset="0.062" stop-color="#0049ff"/><stop offset="0.125" stop-color="#004cff"/><stop offset="0.187" stop-color="#0051ff"/><stop offset="0.250" stop-color="#0052ff"/><stop offset="0.312" stop-color="#0057ff"/><stop offset="0.375" stop-color="#0060ff"/><stop offset="0.438" stop-color="#006aff"/><stop offset="0.500" stop-color="#0084ff"/><stop offset="0.563" stop-color="#00afff"/><stop offset="0.625" stop-color="#00ddfe"/><stop offset="0.687" stop-color="#33ffc3"/><stop offset="0.750" stop-color="#61ff95"/><stop offset="0.812" stop-color="#80ff77"/><stop offset="0.875" stop-color="#97ff60"/><stop offset="0.938" stop-color="#adff4a"/><stop offset="1.000" stop-color="#b9ff3e"/></linearGradient><linearGradient id="s50" x1="0" y1="0" x2="0" y2="1"><stop offset="0.000" stop-color="#004eff"/><stop offset="0.062" stop-color="#0049ff"/><stop offset="0.125" stop-color="#004dff"/><stop offset="0.187" stop-color="#0054ff"/><stop offset="0.250" stop-color="#0056ff"/><stop offset="0.312" stop-color="#005bff"/><stop offset="0.375" stop-color="#0066ff"/><stop offset="0.438" stop-color="#0070ff"/><stop offset="0.500" stop-color="#008aff"/><stop offset="0.563" stop-color="#00b5ff"/><stop offset="0.625" stop-color="#00e2fa"/><stop offset="0.687" stop-color="#36ffc1"/><stop offset="0.750" stop-color="#62ff95"/><stop offset="0.812" stop-color="#80ff77"/><stop offset="0.875" stop-color="#97ff60"/><stop offset="0.938" stop-color="#adff4a"/><stop offset="1.000" stop-color="#b9ff3e"/></linearGradient><linearGradient id="s51" x1="0" y1="0" x2="0" y2="1"><stop offset="0.000" stop-color="#004eff"/><stop offset="0.062" stop-color="#004aff"/><stop offset="0.125" stop-color="#004fff"/><stop offset="0.187" stop-color="#0056ff"/><stop offset="0.250" stop-color="#0059ff"/><stop offset="0.312" stop-color="#005fff"/><stop offset="0.375" stop-color="#006bff"/><stop offset="0.438" stop-color="#0076ff"/><stop offset="0.500" stop-color="#0090ff"/><stop offset="0.563" stop-color="#00bbff"/><stop offset="0.625" stop-color="#01e7f6"/><stop offset="0.687" stop-color="#38ffbf"/><stop offset="0.750" stop-color="#63ff94"/><stop offset="0.812" stop-color="#80ff77"/><stop offset="0.875" stop-color="#97ff60"/><stop offset="0.938" stop-color="#adff4a"/><stop offset="1.000" stop-color="#b9ff3e"/></linearGradient><linearGradient id="s52" x1="0" y1="0" x2="0" y2="1"><stop offset="0.000" stop-color="#004eff"/><stop offset="0.062" stop-color="#004bff"/><stop offset="0.125" stop-color="#0051ff"/><stop offset="0.187" stop-color="#0058ff"/><stop offset="0.250" stop-color="#005dff"/><stop offset="0.312" stop-color="#0063ff"/><stop offset="0.375" stop-color="#006fff"/><stop offset="0.438" stop-color="#007bff"/><stop offset="0.500" stop-color="#0096ff"/><stop offset="0.563" stop-color="#00c0ff"/><stop offset="0.625" stop-color="#05ebf2"/><stop offset="0.687" stop-color="#3affbd"/><stop offset="0.750" stop-color="#64ff93"/><stop offset="0.812" stop-color="#80ff76"/><stop offset="0.875" stop-color="#97ff60"/><stop offset="0.938" stop-color="#adff4a"/><stop offset="1.000" stop-color="#b9ff3e"/></linearGradient><linearGradient id="s53" x1="0" y1="0" x2="0" y2="1"><stop offset="0.000" stop-color="#004eff"/><stop offset="0.062" stop-color="#004cff"/><stop offset="0.125" stop-color="#0052ff"/><stop offset="0.187" stop-color="#005bff"/><stop offset="0.250" stop-color="#0060ff"/><stop offset="0.312" stop-color="#0067ff"/><stop offset="0.375" stop-color="#0074ff"/><stop offset="0.438" stop-color="#0081ff"/><stop offset="0.500" stop-color="#009bff"/><stop offset="0.563" stop-color="#00c5ff"/><stop offset="0.625" stop-color="#08efef"/><stop offset="0.687" stop-color="#3bffbb"/><stop offset="0.750" stop-color="#64ff93"/><stop offset="0.812" stop-color="#80ff76"/><stop offset="0.875" stop-color="#97ff60"/><stop offset="0.938" stop-color="#adff4a"/><stop offset="1.000" stop-color="#b9ff3e"/></linearGradient><linearGradient id="s54" x1="0" y1="0" x2="0" y2="1"><stop offset="0.000" stop-color="#004eff"/><stop offset="0.062" stop-color="#004dff"/><stop offset="0.125" stop-color="#0054ff"/><stop offset="0.187" stop-color="#005dff"/><stop offset="0.250" stop-color="#0063ff"/><stop offset="0.312" stop-color="#006bff"/><stop offset="0.375" stop-color="#0078ff"/><stop offset="0.438" stop-color="#0086ff"/><stop offset="0.500" stop-color="#00a0ff"/><stop offset="0.563" stop-color="#00c9ff"/><stop offset="0.625" stop-color="#0bf3ec"/><stop offset="0.687" stop-color="#3dffba"/><stop offset="0.750" stop-color="#65ff92"/><stop offset="0.812" stop-color="#81ff76"/><stop offset="0.875" stop-color="#97ff60"/><stop offset="0.938" stop-color="#adff4a"/><stop offset="1.000" stop-color="#b9ff3e"/></linearGradient><linearGradient id="s55" x1="0" y1="0" x2="0" y2="1"><stop offset="0.000" stop-color="#004fff"/><stop offset="0.062" stop-color="#004dff"/><stop offset="0.125" stop-color="#0055ff"/><stop offset="0.187" stop-color="#005fff"/><stop offset="0.250" stop-color="#0065ff"/><stop offset="0.312" stop-color="#006eff"/><stop offset="0.375" stop-color="#007cff"/><stop offset="0.438" stop-color="#008aff"/><stop offset="0.500" stop-color="#00a5ff"/><stop offset="0.563" stop-color="#00ceff"/><stop offset="0.625" stop-color="#0ef7e9"/><stop offset="0.687" stop-color="#3fffb8"/><stop offset="0.750" stop-color="#65ff92"/><stop offset="0.812" stop-color="#81ff76"/><stop offset="0.875" stop-color="#97ff60"/><stop offset="0.938" stop-color="#adff4a"/><stop offset="1.000" stop-color="#b9ff3e"/></linearGradient><linearGradient id="s56" x1="0" y1="0" x2="0" y2="1"><stop offset="0.000" stop-color="#004fff"/><stop offset="0.062" stop-color="#004eff"/><stop offset="0.125" stop-color="#0056ff"/><stop offset="0.187" stop-color="#0061ff"/><stop offset="0.250" stop-color="#0068ff"/><stop offset="0.312" stop-color="#0071ff"/><stop offset="0.375" stop-color="#0080ff"/><stop offset="0.438" stop-color="#008fff"/><stop offset="0.500" stop-color="#00aaff"/><stop offset="0.563" stop-color="#00d2ff"/><stop offset="0.625" stop-color="#11fae6"/><stop offset="0.687" stop-color="#40ffb7"/><stop offset="0.750" stop-color="#66ff91"/><stop offset="0.812" stop-color="#81ff76"/><stop offset="0.875" stop-color="#97ff60"/><stop offset="0.938" stop-color="#adff4a"/><stop offset="1.000" stop-color="#b9ff3e"/></linearGradient><linearGradient id="s57" x1="0" y1="0" x2="0" y2="1"><stop offset="0.000" stop-color="#004fff"/><stop offset="0.062" stop-color="#004fff"/><stop offset="0.125" stop-color="#0058ff"/><stop offset="0.187" stop-color="#0063ff"/><stop offset="0.250" stop-color="#006aff"/><stop offset="0.312" stop-color="#0075ff"/><stop offset="0.375" stop-color="#0084ff"/><stop offset="0.438" stop-color="#0093ff"/><stop offset="0.500" stop-color="#00aeff"/><stop offset="0.563" stop-color="#00d5ff"/><stop offset="0.625" stop-color="#13fde4"/><stop offset="0.687" stop-color="#41ffb6"/><stop offset="0.750" stop-color="#66ff91"/><stop offset="0.812" stop-color="#81ff76"/><stop offset="0.875" stop-color="#97ff60"/><stop offset="0.938" stop-color="#adff4a"/><stop offset="1.000" stop-color="#b9ff3e"/></linearGradient><linearGradient id="s58" x1="0" y1="0" x2="0" y2="1"><stop offset="0.000" stop-color="#004fff"/><stop offset="0.062" stop-color="#0050ff"/><stop offset="0.125" stop-color="#0059ff"/><stop offset="0.187" stop-color="#0064ff"/><stop offset="0.250" stop-color="#006dff"/><stop offset="0.312" stop-color="#0077ff"/><stop offset="0.375" stop-color="#0087ff"/><stop offset="0.438" stop-color="#0097ff"/><stop offset="0.500" stop-color="#00b2ff"/><stop offset="0.563" stop-color="#00d9ff"/><stop offset="0.625" stop-color="#15ffe1"/><stop offset="0.687" stop-color="#42ffb4"/><stop offset="0.750" stop-color="#66ff90"/><stop offset="0.812" stop-color="#81ff76"/><stop offset="0.875" stop-color="#97ff60"/><stop offset="0.938" stop-color="#adff4a"/><stop offset="1.000" stop-color="#b9ff3e"/></linearGradient><linearGradient id="s59" x1="0" y1="0" x2="0" y2="1"><stop offset="0.000" stop-color="#004fff"/><stop offset="0.062" stop-color="#0050ff"/><stop offset="0.125" stop-color="#005aff"/><stop offset="0.187" stop-color="#0066ff"/><stop offset="0.250" stop-color="#006fff"/><stop offset="0.312" stop-color="#007aff"/><stop offset="0.375" stop-color="#008aff"/><stop offset="0.438" stop-color="#009bff"/><stop offset="0.500" stop-color="#00b6ff"/><stop offset="0.563" stop-color="#00dcfe"/><stop offset="0.625" stop-color="#18ffdf"/><stop offset="0.687" stop-color="#43ffb3"/><stop offset="0.750" stop-color="#67ff90"/><stop offset="0.812" stop-color="#81ff76"/><stop offset="0.875" stop-color="#97ff60"/><stop offset="0.938" stop-color="#adff4a"/><stop offset="1.000" stop-color="#b9ff3e"/></linearGradient><linearGradient id="s60" x1="0" y1="0" x2="0" y2="1"><stop offset="0.000" stop-color="#004fff"/><stop offset="0.062" stop-color="#0051ff"/><stop offset="0.125" stop-color="#005bff"/><stop offset="0.187" stop-color="#0067ff"/><stop offset="0.250" stop-color="#0071ff"/><stop offset="0.312" stop-color="#007dff"/><stop offset="0.375" stop-color="#008dff"/><stop offset="0.438" stop-color="#009eff"/><stop offset="0.500" stop-color="#00b9ff"/><stop offset="0.563" stop-color="#00dffc"/><stop offset="0.625" stop-color="#1affdd"/><stop offset="0.687" stop-color="#44ffb2"/><stop offset="0.750" stop-color="#67ff90"/><stop offset="0.812" stop-color="#81ff76"/><stop offset="0.875" stop-color="#97ff60"/><stop offset="0.938" stop-color="#adff4a"/><stop offset="1.000" stop-color="#b9ff3e"/></linearGradient><linearGradient id="s61" x1="0" y1="0" x2="0" y2="1"><stop offset="0.000" stop-color="#004fff"/><stop offset="0.062" stop-color="#0052ff"/><stop offset="0.125" stop-color="#005cff"/><stop offset="0.187" stop-color="#0069ff"/><stop offset="0.250" stop-color="#0073ff"/><stop offset="0.312" stop-color="#007fff"/><stop offset="0.375" stop-color="#0090ff"/><stop offset="0.438" stop-color="#00a2ff"/><stop offset="0.500" stop-color="#00bdff"/><stop offset="0.563" stop-color="#00e2f9"/><stop offset="0.625" stop-color="#1bffdb"/><stop offset="0.687" stop-color="#45ffb2"/><stop offset="0.750" stop-color="#67ff90"/><stop offset="0.812" stop-color="#81ff76"/><stop offset="0.875" stop-color="#97ff60"/><stop offset="0.938" stop-color="#adff4a"/><stop offset="1.000" stop-color="#b9ff3e"/></linearGradient><linearGradient id="s62" x1="0" y1="0" x2="0" y2="1"><stop offset="0.000" stop-color="#004fff"/><stop offset="0.062" stop-color="#0052ff"/><stop offset="0.125" stop-color="#005dff"/><stop offset="0.187" stop-color="#006aff"/><stop offset="0.250" stop-color="#0075ff"/><stop offset="0.312" stop-color="#0082ff"/><stop offset="0.375" stop-color="#0093ff"/><stop offset="0.438" stop-color="#00a5ff"/><stop offset="0.500" stop-color="#00c0ff"/><stop offset="0.563" stop-color="#00e5f7"/><stop offset="0.625" stop-color="#1dffda"/><stop offset="0.687" stop-color="#46ffb1"/><stop offset="0.750" stop-color="#67ff8f"/><stop offset="0.812" stop-color="#81ff76"/><stop offset="0.875" stop-color="#97ff60"/><stop offset="0.938" stop-color="#adff4a"/><stop offset="1.000" stop-color="#b9ff3e"/></linearGradient><linearGradient id="s63" x1="0" y1="0" x2="0" y2="1"><stop offset="0.000" stop-color="#0050ff"/><stop offset="0.062" stop-color="#0053ff"/><stop offset="0.125" stop-color="#005eff"/><stop offset="0.187" stop-color="#006cff"/><stop offset="0.250" stop-color="#0077ff"/><stop offset="0.312" stop-color="#0084ff"/><stop offset="0.375" stop-color="#0096ff"/><stop offset="0.438" stop-color="#00a8ff"/><stop offset="0.500" stop-color="#00c3ff"/><stop offset="0.563" stop-color="#02e7f5"/><stop offset="0.625" stop-color="#1fffd8"/><stop offset="0.687" stop-color="#47ffb0"/><stop offset="0.750" stop-color="#68ff8f"/><stop offset="0.812" stop-color="#81ff76"/><stop offset="0.875" stop-color="#97ff60"/><stop offset="0.938" stop-color="#adff4a"/><stop offset="1.000" stop-color="#b9ff3e"/></linearGradient><linearGradient id="s64" x1="0" y1="0" x2="0" y2="1"><stop offset="0.000" stop-color="#0050ff"/><stop offset="0.062" stop-color="#0054ff"/><stop offset="0.125" stop-color="#005fff"/><stop offset="0.187" stop-color="#006dff"/><stop offset="0.250" stop-color="#0079ff"/><stop offset="0.312" stop-color="#0086ff"/><stop offset="0.375" stop-color="#0098ff"/><stop offset="0.438" stop-color="#00abff"/><stop offset="0.500" stop-color="#00c6ff"/><stop offset="0.563" stop-color="#04eaf3"/><stop offset="0.625" stop-color="#20ffd6"/><stop offset="0.687" stop-color="#48ffaf"/><stop offset="0.750" stop-color="#68ff8f"/><stop offset="0.812" stop-color="#81ff76"/><stop offset="0.875" stop-color="#97ff60"/><stop offset="0.938" stop-color="#adff4a"/><stop offset="1.000" stop-color="#b9ff3e"/></linearGradient><linearGradient id="s65" x1="0" y1="0" x2="0" y2="1"><stop offset="0.000" stop-color="#0051ff"/><stop offset="0.062" stop-color="#0055ff"/><stop offset="0.125" stop-color="#0061ff"/><stop offset="0.187" stop-color="#006eff"/><stop offset="0.250" stop-color="#007aff"/><stop offset="0.312" stop-color="#0088ff"/><stop offset="0.375" stop-color="#009aff"/><stop offset="0.438" stop-color="#00adff"/><stop offset="0.500" stop-color="#00c8ff"/><stop offset="0.563" stop-color="#05ecf1"/><stop offset="0.625" stop-color="#22ffd5"/><stop offset="0.687" stop-color="#48ffae"/><stop offset="0.750" stop-color="#68ff8f"/><stop offset="0.812" stop-color="#81ff76"/><stop offset="0.875" stop-color="#97ff60"/><stop offset="0.938" stop-color="#adff4a"/><stop offset="1.000" stop-color="#b9ff3e"/></linearGradient><linearGradient id="s66" x1="0" y1="0" x2="0" y2="1"><stop offset="0.000" stop-color="#0052ff"/><stop offset="0.062" stop-color="#0056ff"/><stop offset="0.125" stop-color="#0062ff"/><stop offset="0.187" stop-color="#0070ff"/><stop offset="0.250" stop-color="#007cff"/><stop offset="0.312" stop-color="#008aff"/><stop offset="0.375" stop-color="#009dff"/><stop offset="0.438" stop-color="#00b0ff"/><stop offset="0.500" stop-color="#00cbff"/><stop offset="0.563" stop-color="#07eef0"/><stop offset="0.625" stop-color="#23ffd4"/><stop offset="0.687" stop-color="#49ffae"/><stop offset="0.750" stop-color="#68ff8e"/><stop offset="0.812" stop-color="#81ff75"/><stop offset="0.875" stop-color="#97ff60"/><stop offset="0.938" stop-color="#adff4a"/><stop offset="1.000" stop-color="#b9ff3e"/></linearGradient><linearGradient id="s67" x1="0" y1="0" x2="0" y2="1"><stop offset="0.000" stop-color="#0053ff"/><stop offset="0.062" stop-color="#0057ff"/><stop offset="0.125" stop-color="#0063ff"/><stop offset="0.187" stop-color="#0071ff"/><stop offset="0.250" stop-color="#007eff"/><stop offset="0.312" stop-color="#008cff"/><stop offset="0.375" stop-color="#009fff"/><stop offset="0.438" stop-color="#00b2ff"/><stop offset="0.500" stop-color="#00cdff"/><stop offset="0.563" stop-color="#09f0ee"/><stop offset="0.625" stop-color="#24ffd2"/><stop offset="0.687" stop-color="#4affad"/><stop offset="0.750" stop-color="#68ff8e"/><stop offset="0.812" stop-color="#81ff75"/><stop offset="0.875" stop-color="#97ff60"/><stop offset="0.938" stop-color="#adff4a"/><stop offset="1.000" stop-color="#b9ff3e"/></linearGradient><linearGradient id="s68" x1="0" y1="0" x2="0" y2="1"><stop offset="0.000" stop-color="#0055ff"/><stop offset="0.062" stop-color="#0059ff"/><stop offset="0.125" stop-color="#0064ff"/><stop offset="0.187" stop-color="#0073ff"/><stop offset="0.250" stop-color="#007fff"/><stop offset="0.312" stop-color="#008dff"/><stop offset="0.375" stop-color="#00a1ff"/><stop offset="0.438" stop-color="#00b4ff"/><stop offset="0.500" stop-color="#00d0ff"/><stop offset="0.563" stop-color="#0af2ed"/><stop offset="0.625" stop-color="#26ffd1"/><stop offset="0.687" stop-color="#4affad"/><stop offset="0.750" stop-color="#69ff8e"/><stop offset="0.812" stop-color="#81ff75"/><stop offset="0.875" stop-color="#97ff5f"/><stop offset="0.938" stop-color="#adff4a"/><stop offset="1.000" stop-color="#b9ff3e"/></linearGradient><linearGradient id="s69" x1="0" y1="0" x2="0" y2="1"><stop offset="0.000" stop-color="#0057ff"/><stop offset="0.062" stop-color="#005aff"/><stop offset="0.125" stop-color="#0066ff"/><stop offset="0.187" stop-color="#0074ff"/><stop offset="0.250" stop-color="#0081ff"/><stop offset="0.312" stop-color="#008fff"/><stop offset="0.375" stop-color="#00a3ff"/><stop offset="0.438" stop-color="#00b7ff"/><stop offset="0.500" stop-color="#00d2ff"/><stop offset="0.563" stop-color="#0cf4eb"/><stop offset="0.625" stop-color="#27ffd0"/><stop offset="0.687" stop-color="#4bffac"/><stop offset="0.750" stop-color="#69ff8e"/><stop offset="0.812" stop-color="#81ff75"/><stop offset="0.875" stop-color="#97ff5f"/><stop offset="0.938" stop-color="#adff4a"/><stop offset="1.000" stop-color="#b9ff3e"/></linearGradient><linearGradient id="s70" x1="0" y1="0" x2="0" y2="1"><stop offset="0.000" stop-color="#0059ff"/><stop offset="0.062" stop-color="#005dff"/><stop offset="0.125" stop-color="#0068ff"/><stop offset="0.187" stop-color="#0076ff"/><stop offset="0.250" stop-color="#0082ff"/><stop offset="0.312" stop-color="#0091ff"/><stop offset="0.375" stop-color="#00a5ff"/><stop offset="0.438" stop-color="#00b9ff"/><stop offset="0.500" stop-color="#00d4ff"/><stop offset="0.563" stop-color="#0df5ea"/><stop offset="0.625" stop-color="#28ffcf"/><stop offset="0.687" stop-color="#4bffac"/><stop offset="0.750" stop-color="#69ff8e"/><stop offset="0.812" stop-color="#81ff75"/><stop offset="0.875" stop-color="#97ff5f"/><stop offset="0.938" stop-color="#adff4a"/><stop offset="1.000" stop-color="#b9ff3e"/></linearGradient><linearGradient id="s71" x1="0" y1="0" x2="0" y2="1"><stop offset="0.000" stop-color="#005cff"/><stop offset="0.062" stop-color="#005fff"/><stop offset="0.125" stop-color="#006aff"/><stop offset="0.187" stop-color="#0078ff"/><stop offset="0.250" stop-color="#0084ff"/><stop offset="0.312" stop-color="#0093ff"/><stop offset="0.375" stop-color="#00a7ff"/><stop offset="0.438" stop-color="#00bbff"/><stop offset="0.500" stop-color="#00d6ff"/><stop offset="0.563" stop-color="#0ef7e9"/><stop offset="0.625" stop-color="#29ffce"/><stop offset="0.687" stop-color="#4bffab"/><stop offset="0.750" stop-color="#69ff8e"/><stop offset="0.812" stop-color="#81ff75"/><stop offset="0.875" stop-color="#97ff5f"/><stop offset="0.938" stop-color="#adff4a"/><stop offset="1.000" stop-color="#b9ff3e"/></linearGradient><linearGradient id="s72" x1="0" y1="0" x2="0" y2="1"><stop offset="0.000" stop-color="#0062ff"/><stop offset="0.062" stop-color="#0064ff"/><stop offset="0.125" stop-color="#006eff"/><stop offset="0.187" stop-color="#007bff"/><stop offset="0.250" stop-color="#0087ff"/><stop offset="0.312" stop-color="#0095ff"/><stop offset="0.375" stop-color="#00a9ff"/><stop offset="0.438" stop-color="#00beff"/><stop offset="0.500" stop-color="#00d8ff"/><stop offset="0.563" stop-color="#10f9e7"/><stop offset="0.625" stop-color="#2affcd"/><stop offset="0.687" stop-color="#4cffab"/><stop offset="0.750" stop-color="#69ff8e"/><stop offset="0.812" stop-color="#81ff75"/><stop offset="0.875" stop-color="#97ff5f"/><stop offset="0.938" stop-color="#adff4a"/><stop offset="1.000" stop-color="#b9ff3e"/></linearGradient><linearGradient id="s73" x1="0" y1="0" x2="0" y2="1"><stop offset="0.000" stop-color="#006bff"/><stop offset="0.062" stop-color="#006dff"/><stop offset="0.125" stop-color="#0075ff"/><stop offset="0.187" stop-color="#0081ff"/><stop offset="0.250" stop-color="#008cff"/><stop offset="0.312" stop-color="#009aff"/><stop offset="0.375" stop-color="#00adff"/><stop offset="0.438" stop-color="#00c2ff"/><stop offset="0.500" stop-color="#00dcff"/><stop offset="0.563" stop-color="#12fce5"/><stop offset="0.625" stop-color="#2cffcb"/><stop offset="0.687" stop-color="#4dffaa"/><stop offset="0.750" stop-color="#69ff8d"/><stop offset="0.812" stop-color="#82ff75"/><stop offset="0.875" stop-color="#97ff5f"/><stop offset="0.938" stop-color="#adff4a"/><stop offset="1.000" stop-color="#b9ff3e"/></linearGradient><linearGradient id="s74" x1="0" y1="0" x2="0" y2="1"><stop offset="0.000" stop-color="#0075ff"/><stop offset="0.062" stop-color="#0076ff"/><stop offset="0.125" stop-color="#007dff"/><stop offset="0.187" stop-color="#0088ff"/><stop offset="0.250" stop-color="#0092ff"/><stop offset="0.312" stop-color="#009fff"/><stop offset="0.375" stop-color="#00b2ff"/><stop offset="0.438" stop-color="#00c6ff"/><stop offset="0.500" stop-color="#00dffc"/><stop offset="0.563" stop-color="#14fee3"/><stop offset="0.625" stop-color="#2dffca"/><stop offset="0.687" stop-color="#4effa9"/><stop offset="0.750" stop-color="#6aff8d"/><stop offset="0.812" stop-color="#82ff75"/><stop offset="0.875" stop-color="#97ff5f"/><stop offset="0.938" stop-color="#adff4a"/><stop offset="1.000" stop-color="#b9ff3e"/></linearGradient><linearGradient id="s75" x1="0" y1="0" x2="0" y2="1"><stop offset="0.000" stop-color="#007eff"/><stop offset="0.062" stop-color="#007fff"/><stop offset="0.125" stop-color="#0086ff"/><stop offset="0.187" stop-color="#0090ff"/><stop offset="0.250" stop-color="#0099ff"/><stop offset="0.312" stop-color="#00a5ff"/><stop offset="0.375" stop-color="#00b7ff"/><stop offset="0.438" stop-color="#00caff"/><stop offset="0.500" stop-color="#00e3f9"/><stop offset="0.563" stop-color="#16ffe1"/><stop offset="0.625" stop-color="#2effc8"/><stop offset="0.687" stop-color="#4effa9"/><stop offset="0.750" stop-color="#6aff8d"/><stop offset="0.812" stop-color="#82ff75"/><stop offset="0.875" stop-color="#97ff5f"/><stop offset="0.938" stop-color="#adff4a"/><stop offset="1.000" stop-color="#b9ff3e"/></linearGradient><linearGradient id="s76" x1="0" y1="0" x2="0" y2="1"><stop offset="0.000" stop-color="#0083ff"/><stop offset="0.062" stop-color="#0086ff"/><stop offset="0.125" stop-color="#008eff"/><stop offset="0.187" stop-color="#0097ff"/><stop offset="0.250" stop-color="#00a0ff"/><stop offset="0.312" stop-color="#00abff"/><stop offset="0.375" stop-color="#00bcff"/><stop offset="0.438" stop-color="#00cfff"/><stop offset="0.500" stop-color="#01e6f6"/><stop offset="0.563" stop-color="#18ffdf"/><stop offset="0.625" stop-color="#30ffc7"/><stop offset="0.687" stop-color="#4fffa8"/><stop offset="0.750" stop-color="#6aff8d"/><stop offset="0.812" stop-color="#82ff75"/><stop offset="0.875" stop-color="#97ff5f"/><stop offset="0.938" stop-color="#adff4a"/><stop offset="1.000" stop-color="#b9ff3e"/></linearGradient><linearGradient id="s77" x1="0" y1="0" x2="0" y2="1"><stop offset="0.000" stop-color="#0084ff"/><stop offset="0.062" stop-color="#008aff"/><stop offset="0.125" stop-color="#0093ff"/><stop offset="0.187" stop-color="#009eff"/><stop offset="0.250" stop-color="#00a7ff"/><stop offset="0.312" stop-color="#00b2ff"/><stop offset="0.375" stop-color="#00c2ff"/><stop offset="0.438" stop-color="#00d4ff"/><stop offset="0.500" stop-color="#04eaf3"/><stop offset="0.563" stop-color="#1affdd"/><stop offset="0.625" stop-color="#31ffc6"/><stop offset="0.687" stop-color="#4fffa8"/><stop offset="0.750" stop-color="#6aff8d"/><stop offset="0.812" stop-color="#82ff75"/><stop offset="0.875" stop-color="#97ff5f"/><stop offset="0.938" stop-color="#adff4a"/><stop offset="1.000" stop-color="#b9ff3e"/></linearGradient><linearGradient id="s78" x1="0" y1="0" x2="0" y2="1"><stop offset="0.000" stop-color="#0080ff"/><stop offset="0.062" stop-color="#0089ff"/><stop offset="0.125" stop-color="#0095ff"/><stop offset="0.187" stop-color="#00a1ff"/><stop offset="0.250" stop-color="#00acff"/><stop offset="0.312" stop-color="#00b7ff"/><stop offset="0.375" stop-color="#00c7ff"/><stop offset="0.438" stop-color="#00d9ff"/><stop offset="0.500" stop-color="#07eef0"/><stop offset="0.563" stop-color="#1cffdb"/><stop offset="0.625" stop-color="#32ffc5"/><stop offset="0.687" stop-color="#4fffa7"/><stop offset="0.750" stop-color="#6aff8d"/><stop offset="0.812" stop-color="#82ff75"/><stop offset="0.875" stop-color="#97ff5f"/><stop offset="0.938" stop-color="#adff4a"/><stop offset="1.000" stop-color="#b9ff3e"/></linearGradient><linearGradient id="s79" x1="0" y1="0" x2="0" y2="1"><stop offset="0.000" stop-color="#007aff"/><stop offset="0.062" stop-color="#0085ff"/><stop offset="0.125" stop-color="#0093ff"/><stop offset="0.187" stop-color="#00a1ff"/><stop offset="0.250" stop-color="#00aeff"/><stop offset="0.312" stop-color="#00baff"/><stop offset="0.375" stop-color="#00ccff"/><stop offset="0.438" stop-color="#00ddfe"/><stop offset="0.500" stop-color="#0af2ed"/><stop offset="0.563" stop-color="#1effd9"/><stop offset="0.625" stop-color="#32ffc4"/><stop offset="0.687" stop-color="#50ffa7"/><stop offset="0.750" stop-color="#6aff8c"/><stop offset="0.812" stop-color="#82ff75"/><stop offset="0.875" stop-color="#97ff5f"/><stop offset="0.938" stop-color="#adff4a"/><stop offset="1.000" stop-color="#b9ff3e"/></linearGradient><linearGradient id="s80" x1="0" y1="0" x2="0" y2="1"><stop offset="0.000" stop-color="#0072ff"/><stop offset="0.062" stop-color="#007eff"/><stop offset="0.125" stop-color="#008eff"/><stop offset="0.187" stop-color="#009eff"/><stop offset="0.250" stop-color="#00adff"/><stop offset="0.312" stop-color="#00bbff"/><stop offset="0.375" stop-color="#00ceff"/><stop offset="0.438" stop-color="#00e0fb"/><stop offset="0.500" stop-color="#0cf5ea"/><stop offset="0.563" stop-color="#20ffd7"/><stop offset="0.625" stop-color="#33ffc4"/><stop offset="0.687" stop-color="#50ffa7"/><stop offset="0.750" stop-color="#6aff8c"/><stop offset="0.812" stop-color="#82ff75"/><stop offset="0.875" stop-color="#97ff5f"/><stop offset="0.938" stop-color="#adff4a"/><stop offset="1.000" stop-color="#b9ff3e"/></linearGradient><linearGradient id="s81" x1="0" y1="0" x2="0" y2="1"><stop offset="0.000" stop-color="#006bff"/><stop offset="0.062" stop-color="#0078ff"/><stop offset="0.125" stop-color="#0089ff"/><stop offset="0.187" stop-color="#009aff"/><stop offset="0.250" stop-color="#00aaff"/><stop offset="0.312" stop-color="#00baff"/><stop offset="0.375" stop-color="#00ceff"/><stop offset="0.438" stop-color="#00e1fa"/><stop offset="0.500" stop-color="#0ef7e9"/><stop offset="0.563" stop-color="#21ffd6"/><stop offset="0.625" stop-color="#34ffc3"/><stop offset="0.687" stop-color="#51ffa6"/><stop offset="0.750" stop-color="#6bff8c"/><stop offset="0.812" stop-color="#82ff75"/><stop offset="0.875" stop-color="#97ff5f"/><stop offset="0.938" stop-color="#adff4a"/><stop offset="1.000" stop-color="#b9ff3e"/></linearGradient><linearGradient id="s82" x1="0" y1="0" x2="0" y2="1"><stop offset="0.000" stop-color="#0067ff"/><stop offset="0.062" stop-color="#0074ff"/><stop offset="0.125" stop-color="#0084ff"/><stop offset="0.187" stop-color="#0095ff"/><stop offset="0.250" stop-color="#00a6ff"/><stop offset="0.312" stop-color="#00b7ff"/><stop offset="0.375" stop-color="#00ccff"/><stop offset="0.438" stop-color="#00e1fa"/><stop offset="0.500" stop-color="#0ef7e8"/><stop offset="0.563" stop-color="#22ffd5"/><stop offset="0.625" stop-color="#35ffc2"/><stop offset="0.687" stop-color="#51ffa6"/><stop offset="0.750" stop-color="#6bff8c"/><stop offset="0.812" stop-color="#82ff75"/><stop offset="0.875" stop-color="#97ff5f"/><stop offset="0.938" stop-color="#adff4a"/><stop offset="1.000" stop-color="#b9ff3e"/></linearGradient><linearGradient id="s83" x1="0" y1="0" x2="0" y2="1"><stop offset="0.000" stop-color="#0067ff"/><stop offset="0.062" stop-color="#0072ff"/><stop offset="0.125" stop-color="#0081ff"/><stop offset="0.187" stop-color="#0092ff"/><stop offset="0.250" stop-color="#00a3ff"/><stop offset="0.312" stop-color="#00b4ff"/><stop offset="0.375" stop-color="#00caff"/><stop offset="0.438" stop-color="#00e0fb"/><stop offset="0.500" stop-color="#0ef7e8"/><stop offset="0.563" stop-color="#22ffd5"/><stop offset="0.625" stop-color="#35ffc2"/><stop offset="0.687" stop-color="#51ffa6"/><stop offset="0.750" stop-color="#6bff8c"/><stop offset="0.812" stop-color="#82ff75"/><stop offset="0.875" stop-color="#97ff5f"/><stop offset="0.938" stop-color="#adff4a"/><stop offset="1.000" stop-color="#b9ff3e"/></linearGradient><linearGradient id="s84" x1="0" y1="0" x2="0" y2="1"><stop offset="0.000" stop-color="#006aff"/><stop offset="0.062" stop-color="#0073ff"/><stop offset="0.125" stop-color="#0081ff"/><stop offset="0.187" stop-color="#0091ff"/><stop offset="0.250" stop-color="#00a1ff"/><stop offset="0.312" stop-color="#00b2ff"/><stop offset="0.375" stop-color="#00c9ff"/><stop offset="0.438" stop-color="#00dffc"/><stop offset="0.500" stop-color="#0ef7e9"/><stop offset="0.563" stop-color="#22ffd4"/><stop offset="0.625" stop-color="#36ffc1"/><stop offset="0.687" stop-color="#51ffa5"/><stop offset="0.750" stop-color="#6bff8c"/><stop offset="0.812" stop-color="#82ff75"/><stop offset="0.875" stop-color="#97ff5f"/><stop offset="0.938" stop-color="#adff4a"/><stop offset="1.000" stop-color="#b9ff3e"/></linearGradient><linearGradient id="s85" x1="0" y1="0" x2="0" y2="1"><stop offset="0.000" stop-color="#006fff"/><stop offset="0.062" stop-color="#0077ff"/><stop offset="0.125" stop-color="#0083ff"/><stop offset="0.187" stop-color="#0092ff"/><stop offset="0.250" stop-color="#00a1ff"/><stop offset="0.312" stop-color="#00b1ff"/><stop offset="0.375" stop-color="#00c8ff"/><stop offset="0.438" stop-color="#00defd"/><stop offset="0.500" stop-color="#0ef7e9"/><stop offset="0.563" stop-color="#22ffd4"/><stop offset="0.625" stop-color="#36ffc1"/><stop offset="0.687" stop-color="#52ffa5"/><stop offset="0.750" stop-color="#6bff8c"/><stop offset="0.812" stop-color="#82ff75"/><stop offset="0.875" stop-color="#97ff5f"/><stop offset="0.938" stop-color="#adff4a"/><stop offset="1.000" stop-color="#b9ff3e"/></linearGradient><linearGradient id="s86" x1="0" y1="0" x2="0" y2="1"><stop offset="0.000" stop-color="#0077ff"/><stop offset="0.062" stop-color="#007dff"/><stop offset="0.125" stop-color="#0088ff"/><stop offset="0.187" stop-color="#0095ff"/><stop offset="0.250" stop-color="#00a3ff"/><stop offset="0.312" stop-color="#00b2ff"/><stop offset="0.375" stop-color="#00c8ff"/><stop offset="0.438" stop-color="#00defd"/><stop offset="0.500" stop-color="#0ef7e9"/><stop offset="0.563" stop-color="#23ffd4"/><stop offset="0.625" stop-color="#37ffc0"/><stop offset="0.687" stop-color="#52ffa5"/><stop offset="0.750" stop-color="#6bff8c"/><stop offset="0.812" stop-color="#82ff75"/><stop offset="0.875" stop-color="#97ff5f"/><stop offset="0.938" stop-color="#adff4a"/><stop offset="1.000" stop-color="#b9ff3e"/></linearGradient><linearGradient id="s87" x1="0" y1="0" x2="0" y2="1"><stop offset="0.000" stop-color="#0080ff"/><stop offset="0.062" stop-color="#0085ff"/><stop offset="0.125" stop-color="#008eff"/><stop offset="0.187" stop-color="#009aff"/><stop offset="0.250" stop-color="#00a6ff"/><stop offset="0.312" stop-color="#00b5ff"/><stop offset="0.375" stop-color="#00caff"/><stop offset="0.438" stop-color="#00dffc"/><stop offset="0.500" stop-color="#0ef7e9"/><stop offset="0.563" stop-color="#23ffd4"/><stop offset="0.625" stop-color="#37ffc0"/><stop offset="0.687" stop-color="#52ffa5"/><stop offset="0.750" stop-color="#6bff8c"/><stop offset="0.812" stop-color="#82ff75"/><stop offset="0.875" stop-color="#97ff5f"/><stop offset="0.938" stop-color="#adff4a"/><stop offset="1.000" stop-color="#b9ff3e"/></linearGradient><linearGradient id="s88" x1="0" y1="0" x2="0" y2="1"><stop offset="0.000" stop-color="#008bff"/><stop offset="0.062" stop-color="#008eff"/><stop offset="0.125" stop-color="#0096ff"/><stop offset="0.187" stop-color="#00a0ff"/><stop offset="0.250" stop-color="#00abff"/><stop offset="0.312" stop-color="#00b8ff"/><stop offset="0.375" stop-color="#00ccff"/><stop offset="0.438" stop-color="#00e1fa"/><stop offset="0.500" stop-color="#0ff8e8"/><stop offset="0.563" stop-color="#23ffd3"/><stop offset="0.625" stop-color="#37ffbf"/><stop offset="0.687" stop-color="#52ffa5"/><stop offset="0.750" stop-color="#6bff8c"/><stop offset="0.812" stop-color="#82ff75"/><stop offset="0.875" stop-color="#97ff5f"/><stop offset="0.938" stop-color="#adff4a"/><stop offset="1.000" stop-color="#b9ff3e"/></linearGradient><linearGradient id="s89" x1="0" y1="0" x2="0" y2="1"><stop offset="0.000" stop-color="#0096ff"/><stop offset="0.062" stop-color="#0098ff"/><stop offset="0.125" stop-color="#009fff"/><stop offset="0.187" stop-color="#00a7ff"/><stop offset="0.250" stop-color="#00b1ff"/><stop offset="0.312" stop-color="#00bdff"/><stop offset="0.375" stop-color="#00d0ff"/><stop offset="0.438" stop-color="#00e4f8"/><stop offset="0.500" stop-color="#10fae6"/><stop offset="0.563" stop-color="#24ffd3"/><stop offset="0.625" stop-color="#38ffbf"/><stop offset="0.687" stop-color="#52ffa5"/><stop offset="0.750" stop-color="#6bff8c"/><stop offset="0.812" stop-color="#82ff75"/><stop offset="0.875" stop-color="#97ff5f"/><stop offset="0.938" stop-color="#adff4a"/><stop offset="1.000" stop-color="#b9ff3e"/></linearGradient><linearGradient id="s90" x1="0" y1="0" x2="0" y2="1"><stop offset="0.000" stop-color="#00a2ff"/><stop offset="0.062" stop-color="#00a3ff"/><stop offset="0.125" stop-color="#00a8ff"/><stop offset="0.187" stop-color="#00afff"/><stop offset="0.250" stop-color="#00b8ff"/><stop offset="0.312" stop-color="#00c3ff"/><stop offset="0.375" stop-color="#00d4ff"/><stop offset="0.438" stop-color="#01e7f6"/><stop offset="0.500" stop-color="#12fce5"/><stop offset="0.563" stop-color="#25ffd2"/><stop offset="0.625" stop-color="#38ffbf"/><stop offset="0.687" stop-color="#52ffa4"/><stop offset="0.750" stop-color="#6bff8c"/><stop offset="0.812" stop-color="#82ff75"/><stop offset="0.875" stop-color="#97ff5f"/><stop offset="0.938" stop-color="#adff4a"/><stop offset="1.000" stop-color="#b9ff3e"/></linearGradient><linearGradient id="s91" x1="0" y1="0" x2="0" y2="1"><stop offset="0.000" stop-color="#00aeff"/><stop offset="0.062" stop-color="#00aeff"/><stop offset="0.125" stop-color="#00b2ff"/><stop offset="0.187" stop-color="#00b8ff"/><stop offset="0.250" stop-color="#00bfff"/><stop offset="0.312" stop-color="#00c9ff"/><stop offset="0.375" stop-color="#00d9ff"/><stop offset="0.438" stop-color="#04eaf3"/><stop offset="0.500" stop-color="#14fee3"/><stop offset="0.563" stop-color="#26ffd1"/><stop offset="0.625" stop-color="#38ffbe"/><stop offset="0.687" stop-color="#52ffa4"/><stop offset="0.750" stop-color="#6bff8c"/><stop offset="0.812" stop-color="#82ff75"/><stop offset="0.875" stop-color="#97ff5f"/><stop offset="0.938" stop-color="#adff4a"/><stop offset="1.000" stop-color="#b9ff3e"/></linearGradient><linearGradient id="s92" x1="0" y1="0" x2="0" y2="1"><stop offset="0.000" stop-color="#00b8ff"/><stop offset="0.062" stop-color="#00b8ff"/><stop offset="0.125" stop-color="#00bbff"/><stop offset="0.187" stop-color="#00c0ff"/><stop offset="0.250" stop-color="#00c7ff"/><stop offset="0.312" stop-color="#00cfff"/><stop offset="0.375" stop-color="#00defd"/><stop offset="0.438" stop-color="#07eef0"/><stop offset="0.500" stop-color="#16ffe0"/><stop offset="0.563" stop-color="#27ffd0"/><stop offset="0.625" stop-color="#39ffbe"/><stop offset="0.687" stop-color="#53ffa4"/><stop offset="0.750" stop-color="#6bff8c"/><stop offset="0.812" stop-color="#82ff75"/><stop offset="0.875" stop-color="#97ff5f"/><stop offset="0.938" stop-color="#adff4a"/><stop offset="1.000" stop-color="#b9ff3e"/></linearGradient><linearGradient id="s93" x1="0" y1="0" x2="0" y2="1"><stop offset="0.000" stop-color="#00c1ff"/><stop offset="0.062" stop-color="#00c1ff"/><stop offset="0.125" stop-color="#00c4ff"/><stop offset="0.187" stop-color="#00c8ff"/><stop offset="0.250" stop-color="#00ceff"/><stop offset="0.312" stop-color="#00d5ff"/><stop offset="0.375" stop-color="#00e3f9"/><stop offset="0.438" stop-color="#0af2ec"/><stop offset="0.500" stop-color="#19ffde"/><stop offset="0.563" stop-color="#28ffce"/><stop offset="0.625" stop-color="#39ffbe"/><stop offset="0.687" stop-color="#53ffa4"/><stop offset="0.750" stop-color="#6bff8c"/><stop offset="0.812" stop-color="#82ff75"/><stop offset="0.875" stop-color="#97ff5f"/><stop offset="0.938" stop-color="#adff4a"/><stop offset="1.000" stop-color="#b9ff3e"/></linearGradient><linearGradient id="s94" x1="0" y1="0" x2="0" y2="1"><stop offset="0.000" stop-color="#00c7ff"/><stop offset="0.062" stop-color="#00c8ff"/><stop offset="0.125" stop-color="#00cbff"/><stop offset="0.187" stop-color="#00cfff"/><stop offset="0.250" stop-color="#00d5ff"/><stop offset="0.312" stop-color="#00dbff"/><stop offset="0.375" stop-color="#02e8f5"/><stop offset="0.438" stop-color="#0ef7e9"/><stop offset="0.500" stop-color="#1bffdc"/><stop offset="0.563" stop-color="#2affcd"/><stop offset="0.625" stop-color="#39ffbe"/><stop offset="0.687" stop-color="#53ffa4"/><stop offset="0.750" stop-color="#6bff8c"/><stop offset="0.812" stop-color="#82ff75"/><stop offset="0.875" stop-color="#97ff5f"/><stop offset="0.938" stop-color="#adff4a"/><stop offset="1.000" stop-color="#b9ff3e"/></linearGradient><linearGradient id="s95" x1="0" y1="0" x2="0" y2="1"><stop offset="0.000" stop-color="#00cbff"/><stop offset="0.062" stop-color="#00cdff"/><stop offset="0.125" stop-color="#00d0ff"/><stop offset="0.187" stop-color="#00d5ff"/><stop offset="0.250" stop-color="#00daff"/><stop offset="0.312" stop-color="#00e0fb"/><stop offset="0.375" stop-color="#06edf1"/><stop offset="0.438" stop-color="#11fae6"/><stop offset="0.500" stop-color="#1dffda"/><stop offset="0.563" stop-color="#2bffcc"/><stop offset="0.625" stop-color="#39ffbd"/><stop offset="0.687" stop-color="#53ffa4"/><stop offset="0.750" stop-color="#6bff8c"/><stop offset="0.812" stop-color="#82ff75"/><stop offset="0.875" stop-color="#97ff5f"/><stop offset="0.938" stop-color="#adff4a"/><stop offset="1.000" stop-color="#b9ff3e"/></linearGradient><linearGradient id="s96" x1="0" y1="0" x2="0" y2="1"><stop offset="0.000" stop-color="#00ccff"/><stop offset="0.062" stop-color="#00cfff"/><stop offset="0.125" stop-color="#00d4ff"/><stop offset="0.187" stop-color="#00d9ff"/><stop offset="0.250" stop-color="#00dffc"/><stop offset="0.312" stop-color="#00e5f7"/><stop offset="0.375" stop-color="#09f1ee"/><stop offset="0.438" stop-color="#14fee3"/><stop offset="0.500" stop-color="#1fffd8"/><stop offset="0.563" stop-color="#2cffcb"/><stop offset="0.625" stop-color="#3affbd"/><stop offset="0.687" stop-color="#53ffa4"/><stop offset="0.750" stop-color="#6bff8c"/><stop offset="0.812" stop-color="#82ff75"/><stop offset="0.875" stop-color="#97ff5f"/><stop offset="0.938" stop-color="#adff4a"/><stop offset="1.000" stop-color="#b9ff3e"/></linearGradient><linearGradient id="s97" x1="0" y1="0" x2="0" y2="1"><stop offset="0.000" stop-color="#00caff"/><stop offset="0.062" stop-color="#00cfff"/><stop offset="0.125" stop-color="#00d5ff"/><stop offset="0.187" stop-color="#00dbff"/><stop offset="0.250" stop-color="#00e1fa"/><stop offset="0.312" stop-color="#02e8f5"/><stop offset="0.375" stop-color="#0cf4eb"/><stop offset="0.438" stop-color="#16ffe1"/><stop offset="0.500" stop-color="#21ffd6"/><stop offset="0.563" stop-color="#2dffca"/><stop offset="0.625" stop-color="#3affbd"/><stop offset="0.687" stop-color="#53ffa4"/><stop offset="0.750" stop-color="#6bff8b"/><stop offset="0.812" stop-color="#82ff75"/><stop offset="0.875" stop-color="#97ff5f"/><stop offset="0.938" stop-color="#adff4a"/><stop offset="1.000" stop-color="#b9ff3e"/></linearGradient><linearGradient id="s98" x1="0" y1="0" x2="0" y2="1"><stop offset="0.000" stop-color="#00c4ff"/><stop offset="0.062" stop-color="#00ccff"/><stop offset="0.125" stop-color="#00d3ff"/><stop offset="0.187" stop-color="#00dbff"/><stop offset="0.250" stop-color="#00e2f9"/><stop offset="0.312" stop-color="#03eaf4"/><stop offset="0.375" stop-color="#0df6e9"/><stop offset="0.438" stop-color="#18ffdf"/><stop offset="0.500" stop-color="#23ffd4"/><stop offset="0.563" stop-color="#2effc9"/><stop offset="0.625" stop-color="#3affbd"/><stop offset="0.687" stop-color="#53ffa4"/><stop offset="0.750" stop-color="#6bff8b"/><stop offset="0.812" stop-color="#82ff75"/><stop offset="0.875" stop-color="#97ff5f"/><stop offset="0.938" stop-color="#adff4a"/><stop offset="1.000" stop-color="#b9ff3e"/></linearGradient><linearGradient id="s99" x1="0" y1="0" x2="0" y2="1"><stop offset="0.000" stop-color="#00bdff"/><stop offset="0.062" stop-color="#00c6ff"/><stop offset="0.125" stop-color="#00d0ff"/><stop offset="0.187" stop-color="#00d9ff"/><stop offset="0.250" stop-color="#00e2fa"/><stop offset="0.312" stop-color="#03eaf3"/><stop offset="0.375" stop-color="#0ef7e9"/><stop offset="0.438" stop-color="#19ffde"/><stop offset="0.500" stop-color="#24ffd3"/><stop offset="0.563" stop-color="#2fffc8"/><stop offset="0.625" stop-color="#3affbd"/><stop offset="0.687" stop-color="#53ffa4"/><stop offset="0.750" stop-color="#6bff8b"/><stop offset="0.812" stop-color="#82ff75"/><stop offset="0.875" stop-color="#97ff5f"/><stop offset="0.938" stop-color="#adff4a"/><stop offset="1.000" stop-color="#b9ff3e"/></linearGradient><linearGradient id="s100" x1="0" y1="0" x2="0" y2="1"><stop offset="0.000" stop-color="#00b3ff"/><stop offset="0.062" stop-color="#00bfff"/><stop offset="0.125" stop-color="#00caff"/><stop offset="0.187" stop-color="#00d5ff"/><stop offset="0.250" stop-color="#00dffc"/><stop offset="0.312" stop-color="#02e8f4"/><stop offset="0.375" stop-color="#0ef7e9"/><stop offset="0.438" stop-color="#19ffde"/><stop offset="0.500" stop-color="#24ffd3"/><stop offset="0.563" stop-color="#2fffc8"/><stop offset="0.625" stop-color="#3affbc"/><stop offset="0.687" stop-color="#53ffa3"/><stop offset="0.750" stop-color="#6bff8b"/><stop offset="0.812" stop-color="#82ff75"/><stop offset="0.875" stop-color="#97ff5f"/><stop offset="0.938" stop-color="#adff4a"/><stop offset="1.000" stop-color="#b9ff3e"/></linearGradient><linearGradient id="s101" x1="0" y1="0" x2="0" y2="1"><stop offset="0.000" stop-color="#00a9ff"/><stop offset="0.062" stop-color="#00b6ff"/><stop offset="0.125" stop-color="#00c2ff"/><stop offset="0.187" stop-color="#00cfff"/><stop offset="0.250" stop-color="#00dbff"/><stop offset="0.312" stop-color="#00e6f7"/><stop offset="0.375" stop-color="#0df5ea"/><stop offset="0.438" stop-color="#19ffde"/><stop offset="0.500" stop-color="#24ffd3"/><stop offset="0.563" stop-color="#2fffc7"/><stop offset="0.625" stop-color="#3affbc"/><stop offset="0.687" stop-color="#53ffa3"/><stop offset="0.750" stop-color="#6bff8b"/><stop offset="0.812" stop-color="#82ff75"/><stop offset="0.875" stop-color="#97ff5f"/><stop offset="0.938" stop-color="#adff4a"/><stop offset="1.000" stop-color="#b9ff3e"/></linearGradient><linearGradient id="s102" x1="0" y1="0" x2="0" y2="1"><stop offset="0.000" stop-color="#009dff"/><stop offset="0.062" stop-color="#00acff"/><stop offset="0.125" stop-color="#00baff"/><stop offset="0.187" stop-color="#00c8ff"/><stop offset="0.250" stop-color="#00d6ff"/><stop offset="0.312" stop-color="#00e2fa"/><stop offset="0.375" stop-color="#0bf3ec"/><stop offset="0.438" stop-color="#17ffdf"/><stop offset="0.500" stop-color="#24ffd3"/><stop offset="0.563" stop-color="#2fffc7"/><stop offset="0.625" stop-color="#3bffbc"/><stop offset="0.687" stop-color="#53ffa3"/><stop offset="0.750" stop-color="#6bff8b"/><stop offset="0.812" stop-color="#82ff75"/><stop offset="0.875" stop-color="#97ff5f"/><stop offset="0.938" stop-color="#adff4a"/><stop offset="1.000" stop-color="#b9ff3e"/></linearGradient><linearGradient id="s103" x1="0" y1="0" x2="0" y2="1"><stop offset="0.000" stop-color="#0092ff"/><stop offset="0.062" stop-color="#00a2ff"/><stop offset="0.125" stop-color="#00b1ff"/><stop offset="0.187" stop-color="#00c1ff"/><stop offset="0.250" stop-color="#00cfff"/><stop offset="0.312" stop-color="#00ddfe"/><stop offset="0.375" stop-color="#08efef"/><stop offset="0.438" stop-color="#16ffe1"/><stop offset="0.500" stop-color="#23ffd4"/><stop offset="0.563" stop-color="#2fffc8"/><stop offset="0.625" stop-color="#3bffbc"/><stop offset="0.687" stop-color="#53ffa3"/><stop offset="0.750" stop-color="#6bff8b"/><stop offset="0.812" stop-color="#82ff75"/><stop offset="0.875" stop-color="#97ff5f"/><stop offset="0.938" stop-color="#adff4a"/><stop offset="1.000" stop-color="#b9ff3e"/></linearGradient><linearGradient id="s104" x1="0" y1="0" x2="0" y2="1"><stop offset="0.000" stop-color="#0087ff"/><stop offset="0.062" stop-color="#0098ff"/><stop offset="0.125" stop-color="#00a8ff"/><stop offset="0.187" stop-color="#00b9ff"/><stop offset="0.250" stop-color="#00c9ff"/><stop offset="0.312" stop-color="#00d8ff"/><stop offset="0.375" stop-color="#05ebf2"/><stop offset="0.438" stop-color="#14fee3"/><stop offset="0.500" stop-color="#22ffd5"/><stop offset="0.563" stop-color="#2fffc8"/><stop offset="0.625" stop-color="#3bffbc"/><stop offset="0.687" stop-color="#54ffa3"/><stop offset="0.750" stop-color="#6bff8b"/><stop offset="0.812" stop-color="#82ff75"/><stop offset="0.875" stop-color="#97ff5f"/><stop offset="0.938" stop-color="#adff4a"/><stop offset="1.000" stop-color="#b9ff3e"/></linearGradient><linearGradient id="s105" x1="0" y1="0" x2="0" y2="1"><stop offset="0.000" stop-color="#007dff"/><stop offset="0.062" stop-color="#008eff"/><stop offset="0.125" stop-color="#00a0ff"/><stop offset="0.187" stop-color="#00b1ff"/><stop offset="0.250" stop-color="#00c2ff"/><stop offset="0.312" stop-color="#00d2ff"/><stop offset="0.375" stop-color="#01e7f5"/><stop offset="0.438" stop-color="#11fbe6"/><stop offset="0.500" stop-color="#20ffd7"/><stop offset="0.563" stop-color="#2effc9"/><stop offset="0.625" stop-color="#3bffbc"/><stop offset="0.687" stop-color="#54ffa3"/><stop offset="0.750" stop-color="#6bff8b"/><stop offset="0.812" stop-color="#82ff75"/><stop offset="0.875" stop-color="#97ff5f"/><stop offset="0.938" stop-color="#adff4a"/><stop offset="1.000" stop-color="#b9ff3e"/></linearGradient><linearGradient id="s106" x1="0" y1="0" x2="0" y2="1"><stop offset="0.000" stop-color="#0075ff"/><stop offset="0.062" stop-color="#0086ff"/><stop offset="0.125" stop-color="#0097ff"/><stop offset="0.187" stop-color="#00aaff"/><stop offset="0.250" stop-color="#00bcff"/><stop offset="0.312" stop-color="#00cdff"/><stop offset="0.375" stop-color="#00e3f9"/><stop offset="0.438" stop-color="#0ff8e8"/><stop offset="0.500" stop-color="#1effd8"/><stop offset="0.563" stop-color="#2dffc9"/><stop offset="0.625" stop-color="#3bffbc"/><stop offset="0.687" stop-color="#54ffa3"/><stop offset="0.750" stop-color="#6bff8b"/><stop offset="0.812" stop-color="#82ff75"/><stop offset="0.875" stop-color="#97ff5f"/><stop offset="0.938" stop-color="#adff4a"/><stop offset="1.000" stop-color="#b9ff3e"/></linearGradient><linearGradient id="s107" x1="0" y1="0" x2="0" y2="1"><stop offset="0.000" stop-color="#006cff"/><stop offset="0.062" stop-color="#007eff"/><stop offset="0.125" stop-color="#0090ff"/><stop offset="0.187" stop-color="#00a3ff"/><stop offset="0.250" stop-color="#00b6ff"/><stop offset="0.312" stop-color="#00c8ff"/><stop offset="0.375" stop-color="#00dffc"/><stop offset="0.438" stop-color="#0cf5eb"/><stop offset="0.500" stop-color="#1dffda"/><stop offset="0.563" stop-color="#2dffca"/><stop offset="0.625" stop-color="#3bffbc"/><stop offset="0.687" stop-color="#54ffa3"/><stop offset="0.750" stop-color="#6bff8b"/><stop offset="0.812" stop-color="#82ff75"/><stop offset="0.875" stop-color="#97ff5f"/><stop offset="0.938" stop-color="#adff4a"/><stop offset="1.000" stop-color="#b9ff3e"/></linearGradient><linearGradient id="s108" x1="0" y1="0" x2="0" y2="1"><stop offset="0.000" stop-color="#0065ff"/><stop offset="0.062" stop-color="#0077ff"/><stop offset="0.125" stop-color="#0089ff"/><stop offset="0.187" stop-color="#009dff"/><stop offset="0.250" stop-color="#00b0ff"/><stop offset="0.312" stop-color="#00c3ff"/><stop offset="0.375" stop-color="#00dbff"/><stop offset="0.438" stop-color="#0af2ed"/><stop offset="0.500" stop-color="#1bffdc"/><stop offset="0.563" stop-color="#2cffcb"/><stop offset="0.625" stop-color="#3bffbb"/><stop offset="0.687" stop-color="#54ffa3"/><stop offset="0.750" stop-color="#6bff8b"/><stop offset="0.812" stop-color="#82ff75"/><stop offset="0.875" stop-color="#97ff5f"/><stop offset="0.938" stop-color="#adff4a"/><stop offset="1.000" stop-color="#b9ff3e"/></linearGradient><linearGradient id="s109" x1="0" y1="0" x2="0" y2="1"><stop offset="0.000" stop-color="#005eff"/><stop offset="0.062" stop-color="#0070ff"/><stop offset="0.125" stop-color="#0083ff"/><stop offset="0.187" stop-color="#0097ff"/><stop offset="0.250" stop-color="#00acff"/><stop offset="0.312" stop-color="#00c0ff"/><stop offset="0.375" stop-color="#00d8ff"/><stop offset="0.438" stop-color="#08efef"/><stop offset="0.500" stop-color="#1affdd"/><stop offset="0.563" stop-color="#2bffcc"/><stop offset="0.625" stop-color="#3bffbb"/><stop offset="0.687" stop-color="#54ffa3"/><stop offset="0.750" stop-color="#6bff8b"/><stop offset="0.812" stop-color="#82ff75"/><stop offset="0.875" stop-color="#97ff5f"/><stop offset="0.938" stop-color="#adff4a"/><stop offset="1.000" stop-color="#b9ff3e"/></linearGradient><linearGradient id="s110" x1="0" y1="0" x2="0" y2="1"><stop offset="0.000" stop-color="#0058ff"/><stop offset="0.062" stop-color="#006aff"/><stop offset="0.125" stop-color="#007eff"/><stop offset="0.187" stop-color="#0093ff"/><stop offset="0.250" stop-color="#00a8ff"/><stop offset="0.312" stop-color="#00bdff"/><stop offset="0.375" stop-color="#00d5ff"/><stop offset="0.438" stop-color="#06edf1"/><stop offset="0.500" stop-color="#19ffde"/><stop offset="0.563" stop-color="#2affcc"/><stop offset="0.625" stop-color="#3bffbb"/><stop offset="0.687" stop-color="#54ffa3"/><stop offset="0.750" stop-color="#6bff8b"/><stop offset="0.812" stop-color="#82ff75"/><stop offset="0.875" stop-color="#97ff5f"/><stop offset="0.938" stop-color="#adff4a"/><stop offset="1.000" stop-color="#b9ff3e"/></linearGradient><linearGradient id="s111" x1="0" y1="0" x2="0" y2="1"><stop offset="0.000" stop-color="#0052ff"/><stop offset="0.062" stop-color="#0065ff"/><stop offset="0.125" stop-color="#0079ff"/><stop offset="0.187" stop-color="#008fff"/><stop offset="0.250" stop-color="#00a4ff"/><stop offset="0.312" stop-color="#00baff"/><stop offset="0.375" stop-color="#00d3ff"/><stop offset="0.438" stop-color="#04ebf2"/><stop offset="0.500" stop-color="#18ffdf"/><stop offset="0.563" stop-color="#2affcd"/><stop offset="0.625" stop-color="#3cffbb"/><stop offset="0.687" stop-color="#54ffa3"/><stop offset="0.750" stop-color="#6cff8b"/><stop offset="0.812" stop-color="#82ff75"/><stop offset="0.875" stop-color="#97ff5f"/><stop offset="0.938" stop-color="#adff4a"/><stop offset="1.000" stop-color="#b9ff3e"/></linearGradient><linearGradient id="s112" x1="0" y1="0" x2="0" y2="1"><stop offset="0.000" stop-color="#004eff"/><stop offset="0.062" stop-color="#0062ff"/><stop offset="0.125" stop-color="#0076ff"/><stop offset="0.187" stop-color="#008cff"/><stop offset="0.250" stop-color="#00a2ff"/><stop offset="0.312" stop-color="#00b9ff"/><stop offset="0.375" stop-color="#00d1ff"/><stop offset="0.438" stop-color="#03eaf3"/><stop offset="0.500" stop-color="#17ffe0"/><stop offset="0.563" stop-color="#29ffcd"/><stop offset="0.625" stop-color="#3cffbb"/><stop offset="0.687" stop-color="#54ffa3"/><stop offset="0.750" stop-color="#6cff8b"/><stop offset="0.812" stop-color="#82ff75"/><stop offset="0.875" stop-color="#97ff5f"/><stop offset="0.938" stop-color="#adff4a"/><stop offset="1.000" stop-color="#b9ff3e"/></linearGradient><linearGradient id="s113" x1="0" y1="0" x2="0" y2="1"><stop offset="0.000" stop-color="#004cff"/><stop offset="0.062" stop-color="#0060ff"/><stop offset="0.125" stop-color="#0074ff"/><stop offset="0.187" stop-color="#008aff"/><stop offset="0.250" stop-color="#00a1ff"/><stop offset="0.312" stop-color="#00b8ff"/><stop offset="0.375" stop-color="#00d0ff"/><stop offset="0.438" stop-color="#03e9f4"/><stop offset="0.500" stop-color="#16ffe1"/><stop offset="0.563" stop-color="#29ffce"/><stop offset="0.625" stop-color="#3cffbb"/><stop offset="0.687" stop-color="#54ffa3"/><stop offset="0.750" stop-color="#6cff8b"/><stop offset="0.812" stop-color="#82ff75"/><stop offset="0.875" stop-color="#97ff5f"/><stop offset="0.938" stop-color="#adff4a"/><stop offset="1.000" stop-color="#b9ff3e"/></linearGradient><linearGradient id="s114" x1="0" y1="0" x2="0" y2="1"><stop offset="0.000" stop-color="#004dff"/><stop offset="0.062" stop-color="#0060ff"/><stop offset="0.125" stop-color="#0074ff"/><stop offset="0.187" stop-color="#008aff"/><stop offset="0.250" stop-color="#00a0ff"/><stop offset="0.312" stop-color="#00b7ff"/><stop offset="0.375" stop-color="#00d0ff"/><stop offset="0.438" stop-color="#02e8f5"/><stop offset="0.500" stop-color="#16ffe1"/><stop offset="0.563" stop-color="#29ffce"/><stop offset="0.625" stop-color="#3cffbb"/><stop offset="0.687" stop-color="#54ffa3"/><stop offset="0.750" stop-color="#6cff8b"/><stop offset="0.812" stop-color="#82ff75"/><stop offset="0.875" stop-color="#97ff5f"/><stop offset="0.938" stop-color="#adff4a"/><stop offset="1.000" stop-color="#b9ff3e"/></linearGradient><linearGradient id="s115" x1="0" y1="0" x2="0" y2="1"><stop offset="0.000" stop-color="#0050ff"/><stop offset="0.062" stop-color="#0062ff"/><stop offset="0.125" stop-color="#0076ff"/><stop offset="0.187" stop-color="#008bff"/><stop offset="0.250" stop-color="#00a1ff"/><stop offset="0.312" stop-color="#00b7ff"/><stop offset="0.375" stop-color="#00cfff"/><stop offset="0.438" stop-color="#02e8f5"/><stop offset="0.500" stop-color="#16ffe1"/><stop offset="0.563" stop-color="#29ffce"/><stop offset="0.625" stop-color="#3cffbb"/><stop offset="0.687" stop-color="#54ffa3"/><stop offset="0.750" stop-color="#6cff8b"/><stop offset="0.812" stop-color="#82ff75"/><stop offset="0.875" stop-color="#97ff5f"/><stop offset="0.938" stop-color="#adff4a"/><stop offset="1.000" stop-color="#b9ff3e"/></linearGradient><linearGradient id="s116" x1="0" y1="0" x2="0" y2="1"><stop offset="0.000" stop-color="#0054ff"/><stop offset="0.062" stop-color="#0066ff"/><stop offset="0.125" stop-color="#0079ff"/><stop offset="0.187" stop-color="#008dff"/><stop offset="0.250" stop-color="#00a2ff"/><stop offset="0.312" stop-color="#00b7ff"/><stop offset="0.375" stop-color="#00d0ff"/><stop offset="0.438" stop-color="#02e8f5"/><stop offset="0.500" stop-color="#16ffe1"/><stop offset="0.563" stop-color="#29ffce"/><stop offset="0.625" stop-color="#3cffbb"/><stop offset="0.687" stop-color="#54ffa3"/><stop offset="0.750" stop-color="#6cff8b"/><stop offset="0.812" stop-color="#82ff75"/><stop offset="0.875" stop-color="#97ff5f"/><stop offset="0.938" stop-color="#adff4a"/><stop offset="1.000" stop-color="#b9ff3e"/></linearGradient><linearGradient id="s117" x1="0" y1="0" x2="0" y2="1"><stop offset="0.000" stop-color="#005aff"/><stop offset="0.062" stop-color="#006bff"/><stop offset="0.125" stop-color="#007cff"/><stop offset="0.187" stop-color="#008fff"/><stop offset="0.250" stop-color="#00a3ff"/><stop offset="0.312" stop-color="#00b8ff"/><stop offset="0.375" stop-color="#00d0ff"/><stop offset="0.438" stop-color="#02e8f5"/><stop offset="0.500" stop-color="#16ffe1"/><stop offset="0.563" stop-color="#29ffce"/><stop offset="0.625" stop-color="#3cffbb"/><stop offset="0.687" stop-color="#54ffa3"/><stop offset="0.750" stop-color="#6cff8b"/><stop offset="0.812" stop-color="#82ff75"/><stop offset="0.875" stop-color="#97ff5f"/><stop offset="0.938" stop-color="#adff4a"/><stop offset="1.000" stop-color="#b9ff3e"/></linearGradient><linearGradient id="s118" x1="0" y1="0" x2="0" y2="1"><stop offset="0.000" stop-color="#005fff"/><stop offset="0.062" stop-color="#006fff"/><stop offset="0.125" stop-color="#0080ff"/><stop offset="0.187" stop-color="#0092ff"/><stop offset="0.250" stop-color="#00a5ff"/><stop offset="0.312" stop-color="#00b8ff"/><stop offset="0.375" stop-color="#00d0ff"/><stop offset="0.438" stop-color="#02e9f4"/><stop offset="0.500" stop-color="#16ffe1"/><stop offset="0.563" stop-color="#29ffce"/><stop offset="0.625" stop-color="#3cffbb"/><stop offset="0.687" stop-color="#54ffa3"/><stop offset="0.750" stop-color="#6cff8b"/><stop offset="0.812" stop-color="#82ff75"/><stop offset="0.875" stop-color="#97ff5f"/><stop offset="0.938" stop-color="#adff4a"/><stop offset="1.000" stop-color="#b9ff3e"/></linearGradient><linearGradient id="s119" x1="0" y1="0" x2="0" y2="1"><stop offset="0.000" stop-color="#0064ff"/><stop offset="0.062" stop-color="#0073ff"/><stop offset="0.125" stop-color="#0083ff"/><stop offset="0.187" stop-color="#0094ff"/><stop offset="0.250" stop-color="#00a7ff"/><stop offset="0.312" stop-color="#00b9ff"/><stop offset="0.375" stop-color="#00d1ff"/><stop offset="0.438" stop-color="#03e9f4"/><stop offset="0.500" stop-color="#16ffe1"/><stop offset="0.563" stop-color="#29ffce"/><stop offset="0.625" stop-color="#3cffbb"/><stop offset="0.687" stop-color="#54ffa3"/><stop offset="0.750" stop-color="#6cff8b"/><stop offset="0.812" stop-color="#82ff75"/><stop offset="0.875" stop-color="#97ff5f"/><stop offset="0.938" stop-color="#adff4a"/><stop offset="1.000" stop-color="#b9ff3e"/></linearGradient><linearGradient id="s120" x1="0" y1="0" x2="0" y2="1"><stop offset="0.000" stop-color="#0068ff"/><stop offset="0.062" stop-color="#0077ff"/><stop offset="0.125" stop-color="#0086ff"/><stop offset="0.187" stop-color="#0097ff"/><stop offset="0.250" stop-color="#00a8ff"/><stop offset="0.312" stop-color="#00baff"/><stop offset="0.375" stop-color="#00d2ff"/><stop offset="0.438" stop-color="#03eaf3"/><stop offset="0.500" stop-color="#16ffe0"/><stop offset="0.563" stop-color="#29ffce"/><stop offset="0.625" stop-color="#3cffbb"/><stop offset="0.687" stop-color="#54ffa3"/><stop offset="0.750" stop-color="#6cff8b"/><stop offset="0.812" stop-color="#82ff75"/><stop offset="0.875" stop-color="#97ff5f"/><stop offset="0.938" stop-color="#adff4a"/><stop offset="1.000" stop-color="#b9ff3e"/></linearGradient><linearGradient id="s121" x1="0" y1="0" x2="0" y2="1"><stop offset="0.000" stop-color="#006bff"/><stop offset="0.062" stop-color="#0079ff"/><stop offset="0.125" stop-color="#0088ff"/><stop offset="0.187" stop-color="#0098ff"/><stop offset="0.250" stop-color="#00aaff"/><stop offset="0.312" stop-color="#00bbff"/><stop offset="0.375" stop-color="#00d3ff"/><stop offset="0.438" stop-color="#04eaf3"/><stop offset="0.500" stop-color="#17ffe0"/><stop offset="0.563" stop-color="#29ffcd"/><stop offset="0.625" stop-color="#3cffbb"/><stop offset="0.687" stop-color="#54ffa3"/><stop offset="0.750" stop-color="#6cff8b"/><stop offset="0.812" stop-color="#82ff75"/><stop offset="0.875" stop-color="#97ff5f"/><stop offset="0.938" stop-color="#adff4a"/><stop offset="1.000" stop-color="#b9ff3e"/></linearGradient><linearGradient id="s122" x1="0" y1="0" x2="0" y2="1"><stop offset="0.000" stop-color="#006eff"/><stop offset="0.062" stop-color="#007cff"/><stop offset="0.125" stop-color="#008aff"/><stop offset="0.187" stop-color="#009aff"/><stop offset="0.250" stop-color="#00abff"/><stop offset="0.312" stop-color="#00bcff"/><stop offset="0.375" stop-color="#00d3ff"/><stop offset="0.438" stop-color="#04ebf2"/><stop offset="0.500" stop-color="#17ffe0"/><stop offset="0.563" stop-color="#2affcd"/><stop offset="0.625" stop-color="#3cffbb"/><stop offset="0.687" stop-color="#54ffa3"/><stop offset="0.750" stop-color="#6cff8b"/><stop offset="0.812" stop-color="#82ff75"/><stop offset="0.875" stop-color="#97ff5f"/><stop offset="0.938" stop-color="#adff4a"/><stop offset="1.000" stop-color="#b9ff3e"/></linearGradient><linearGradient id="s123" x1="0" y1="0" x2="0" y2="1"><stop offset="0.000" stop-color="#0070ff"/><stop offset="0.062" stop-color="#007dff"/><stop offset="0.125" stop-color="#008cff"/><stop offset="0.187" stop-color="#009cff"/><stop offset="0.250" stop-color="#00acff"/><stop offset="0.312" stop-color="#00bdff"/><stop offset="0.375" stop-color="#00d4ff"/><stop offset="0.438" stop-color="#05ecf2"/><stop offset="0.500" stop-color="#17ffdf"/><stop offset="0.563" stop-color="#2affcd"/><stop offset="0.625" stop-color="#3cffba"/><stop offset="0.687" stop-color="#54ffa3"/><stop offset="0.750" stop-color="#6cff8b"/><stop offset="0.812" stop-color="#82ff75"/><stop offset="0.875" stop-color="#97ff5f"/><stop offset="0.938" stop-color="#adff4a"/><stop offset="1.000" stop-color="#b9ff3e"/></linearGradient><linearGradient id="s124" x1="0" y1="0" x2="0" y2="1"><stop offset="0.000" stop-color="#0071ff"/><stop offset="0.062" stop-color="#007fff"/><stop offset="0.125" stop-color="#008dff"/><stop offset="0.187" stop-color="#009dff"/><stop offset="0.250" stop-color="#00adff"/><stop offset="0.312" stop-color="#00beff"/><stop offset="0.375" stop-color="#00d5ff"/><stop offset="0.438" stop-color="#05ecf1"/><stop offset="0.500" stop-color="#18ffdf"/><stop offset="0.563" stop-color="#2affcd"/><stop offset="0.625" stop-color="#3cffba"/><stop offset="0.687" stop-color="#54ffa3"/><stop offset="0.750" stop-color="#6cff8b"/><stop offset="0.812" stop-color="#82ff75"/><stop offset="0.875" stop-color="#97ff5f"/><stop offset="0.938" stop-color="#adff4a"/><stop offset="1.000" stop-color="#b9ff3e"/></linearGradient><linearGradient id="s125" x1="0" y1="0" x2="0" y2="1"><stop offset="0.000" stop-color="#0073ff"/><stop offset="0.062" stop-color="#0080ff"/><stop offset="0.125" stop-color="#008fff"/><stop offset="0.187" stop-color="#009eff"/><stop offset="0.250" stop-color="#00aeff"/><stop offset="0.312" stop-color="#00bfff"/><stop offset="0.375" stop-color="#00d6ff"/><stop offset="0.438" stop-color="#06edf1"/><stop offset="0.500" stop-color="#18ffdf"/><stop offset="0.563" stop-color="#2affcd"/><stop offset="0.625" stop-color="#3cffba"/><stop offset="0.687" stop-color="#54ffa3"/><stop offset="0.750" stop-color="#6cff8b"/><stop offset="0.812" stop-color="#82ff75"/><stop offset="0.875" stop-color="#97ff5f"/><stop offset="0.938" stop-color="#adff4a"/><stop offset="1.000" stop-color="#b9ff3e"/></linearGradient><linearGradient id="s126" x1="0" y1="0" x2="0" y2="1"><stop offset="0.000" stop-color="#0074ff"/><stop offset="0.062" stop-color="#0081ff"/><stop offset="0.125" stop-color="#0090ff"/><stop offset="0.187" stop-color="#009fff"/><stop offset="0.250" stop-color="#00afff"/><stop offset="0.312" stop-color="#00c0ff"/><stop offset="0.375" stop-color="#00d7ff"/><stop offset="0.438" stop-color="#06edf0"/><stop offset="0.500" stop-color="#19ffde"/><stop offset="0.563" stop-color="#2affcc"/><stop offset="0.625" stop-color="#3cffba"/><stop offset="0.687" stop-color="#54ffa3"/><stop offset="0.750" stop-color="#6cff8b"/><stop offset="0.812" stop-color="#82ff75"/><stop offset="0.875" stop-color="#97ff5f"/><stop offset="0.938" stop-color="#adff4a"/><stop offset="1.000" stop-color="#b9ff3e"/></linearGradient><linearGradient id="s127" x1="0" y1="0" x2="0" y2="1"><stop offset="0.000" stop-color="#0074ff"/><stop offset="0.062" stop-color="#0082ff"/><stop offset="0.125" stop-color="#0090ff"/><stop offset="0.187" stop-color="#00a0ff"/><stop offset="0.250" stop-color="#00b0ff"/><stop offset="0.312" stop-color="#00c1ff"/><stop offset="0.375" stop-color="#00d7ff"/><stop offset="0.438" stop-color="#07eef0"/><stop offset="0.500" stop-color="#19ffde"/><stop offset="0.563" stop-color="#2bffcc"/><stop offset="0.625" stop-color="#3cffba"/><stop offset="0.687" stop-color="#54ffa3"/><stop offset="0.750" stop-color="#6cff8b"/><stop offset="0.812" stop-color="#82ff75"/><stop offset="0.875" stop-color="#97ff5f"/><stop offset="0.938" stop-color="#adff4a"/><stop offset="1.000" stop-color="#b9ff3e"/></linearGradient><linearGradient id="s128" x1="0" y1="0" x2="0" y2="1"><stop offset="0.000" stop-color="#0075ff"/><stop offset="0.062" stop-color="#0083ff"/><stop offset="0.125" stop-color="#0091ff"/><stop offset="0.187" stop-color="#00a1ff"/><stop offset="0.250" stop-color="#00b1ff"/><stop offset="0.312" stop-color="#00c1ff"/><stop offset="0.375" stop-color="#00d8ff"/><stop offset="0.438" stop-color="#07eff0"/><stop offset="0.500" stop-color="#19ffde"/><stop offset="0.563" stop-color="#2bffcc"/><stop offset="0.625" stop-color="#3dffba"/><stop offset="0.687" stop-color="#54ffa3"/><stop offset="0.750" stop-color="#6cff8b"/><stop offset="0.812" stop-color="#82ff75"/><stop offset="0.875" stop-color="#97ff5f"/><stop offset="0.938" stop-color="#adff4a"/><stop offset="1.000" stop-color="#b9ff3e"/></linearGradient><linearGradient id="s129" x1="0" y1="0" x2="0" y2="1"><stop offset="0.000" stop-color="#0075ff"/><stop offset="0.062" stop-color="#0083ff"/><stop offset="0.125" stop-color="#0092ff"/><stop offset="0.187" stop-color="#00a1ff"/><stop offset="0.250" stop-color="#00b1ff"/><stop offset="0.312" stop-color="#00c2ff"/><stop offset="0.375" stop-color="#00d8ff"/><stop offset="0.438" stop-color="#08efef"/><stop offset="0.500" stop-color="#1affdd"/><stop offset="0.563" stop-color="#2bffcc"/><stop offset="0.625" stop-color="#3dffba"/><stop offset="0.687" stop-color="#54ffa3"/><stop offset="0.750" stop-color="#6cff8b"/><stop offset="0.812" stop-color="#82ff75"/><stop offset="0.875" stop-color="#97ff5f"/><stop offset="0.938" stop-color="#adff4a"/><stop offset="1.000" stop-color="#b9ff3e"/></linearGradient><linearGradient id="s130" x1="0" y1="0" x2="0" y2="1"><stop offset="0.000" stop-color="#0075ff"/><stop offset="0.062" stop-color="#0083ff"/><stop offset="0.125" stop-color="#0092ff"/><stop offset="0.187" stop-color="#00a1ff"/><stop offset="0.250" stop-color="#00b2ff"/><stop offset="0.312" stop-color="#00c2ff"/><stop offset="0.375" stop-color="#00d9ff"/><stop offset="0.438" stop-color="#08efef"/><stop offset="0.500" stop-color="#1affdd"/><stop offset="0.563" stop-color="#2bffcc"/><stop offset="0.625" stop-color="#3dffba"/><stop offset="0.687" stop-color="#54ffa3"/><stop offset="0.750" stop-color="#6cff8b"/><stop offset="0.812" stop-color="#82ff75"/><stop offset="0.875" stop-color="#97ff5f"/><stop offset="0.938" stop-color="#adff4a"/><stop offset="1.000" stop-color="#b9ff3e"/></linearGradient><linearGradient id="s131" x1="0" y1="0" x2="0" y2="1"><stop offset="0.000" stop-color="#0075ff"/><stop offset="0.062" stop-color="#0083ff"/><stop offset="0.125" stop-color="#0092ff"/><stop offset="0.187" stop-color="#00a1ff"/><stop offset="0.250" stop-color="#00b2ff"/><stop offset="0.312" stop-color="#00c2ff"/><stop offset="0.375" stop-color="#00d9ff"/><stop offset="0.438" stop-color="#08f0ef"/><stop offset="0.500" stop-color="#1affdd"/><stop offset="0.563" stop-color="#2bffcc"/><stop offset="0.625" stop-color="#3dffba"/><stop offset="0.687" stop-color="#54ffa3"/><stop offset="0.750" stop-color="#6cff8b"/><stop offset="0.812" stop-color="#82ff75"/><stop offset="0.875" stop-color="#97ff5f"/><stop offset="0.938" stop-color="#adff4a"/><stop offset="1.000" stop-color="#b9ff3e"/></linearGradient><linearGradient id="s132" x1="0" y1="0" x2="0" y2="1"><stop offset="0.000" stop-color="#0074ff"/><stop offset="0.062" stop-color="#0083ff"/><stop offset="0.125" stop-color="#0091ff"/><stop offset="0.187" stop-color="#00a1ff"/><stop offset="0.250" stop-color="#00b2ff"/><stop offset="0.312" stop-color="#00c3ff"/><stop offset="0.375" stop-color="#00d9ff"/><stop offset="0.438" stop-color="#08f0ee"/><stop offset="0.500" stop-color="#1affdd"/><stop offset="0.563" stop-color="#2bffcb"/><stop offset="0.625" stop-color="#3dffba"/><stop offset="0.687" stop-color="#54ffa2"/><stop offset="0.750" stop-color="#6cff8b"/><stop offset="0.812" stop-color="#82ff75"/><stop offset="0.875" stop-color="#97ff5f"/><stop offset="0.938" stop-color="#adff4a"/><stop offset="1.000" stop-color="#b9ff3e"/></linearGradient><linearGradient id="s133" x1="0" y1="0" x2="0" y2="1"><stop offset="0.000" stop-color="#0073ff"/><stop offset="0.062" stop-color="#0082ff"/><stop offset="0.125" stop-color="#0091ff"/><stop offset="0.187" stop-color="#00a1ff"/><stop offset="0.250" stop-color="#00b2ff"/><stop offset="0.312" stop-color="#00c3ff"/><stop offset="0.375" stop-color="#00d9ff"/><stop offset="0.438" stop-color="#08f0ee"/><stop offset="0.500" stop-color="#1affdd"/><stop offset="0.563" stop-color="#2bffcb"/><stop offset="0.625" stop-color="#3dffba"/><stop offset="0.687" stop-color="#54ffa2"/><stop offset="0.750" stop-color="#6cff8b"/><stop offset="0.812" stop-color="#82ff75"/><stop offset="0.875" stop-color="#97ff5f"/><stop offset="0.938" stop-color="#adff4a"/><stop offset="1.000" stop-color="#b9ff3e"/></linearGradient><linearGradient id="s134" x1="0" y1="0" x2="0" y2="1"><stop offset="0.000" stop-color="#0072ff"/><stop offset="0.062" stop-color="#0081ff"/><stop offset="0.125" stop-color="#0090ff"/><stop offset="0.187" stop-color="#00a1ff"/><stop offset="0.250" stop-color="#00b1ff"/><stop offset="0.312" stop-color="#00c2ff"/><stop offset="0.375" stop-color="#00d9ff"/><stop offset="0.438" stop-color="#08f0ee"/><stop offset="0.500" stop-color="#1affdd"/><stop offset="0.563" stop-color="#2bffcb"/><stop offset="0.625" stop-color="#3dffba"/><stop offset="0.687" stop-color="#54ffa2"/><stop offset="0.750" stop-color="#6cff8b"/><stop offset="0.812" stop-color="#82ff75"/><stop offset="0.875" stop-color="#97ff5f"/><stop offset="0.938" stop-color="#adff4a"/><stop offset="1.000" stop-color="#b9ff3e"/></linearGradient><linearGradient id="s135" x1="0" y1="0" x2="0" y2="1"><stop offset="0.000" stop-color="#0070ff"/><stop offset="0.062" stop-color="#0080ff"/><stop offset="0.125" stop-color="#008fff"/><stop offset="0.187" stop-color="#00a0ff"/><stop offset="0.250" stop-color="#00b1ff"/><stop offset="0.312" stop-color="#00c2ff"/><stop offset="0.375" stop-color="#00d9ff"/><stop offset="0.438" stop-color="#08f0ee"/><stop offset="0.500" stop-color="#1affdd"/><stop offset="0.563" stop-color="#2cffcb"/><stop offset="0.625" stop-color="#3dffba"/><stop offset="0.687" stop-color="#54ffa2"/><stop offset="0.750" stop-color="#6cff8b"/><stop offset="0.812" stop-color="#82ff75"/><stop offset="0.875" stop-color="#97ff5f"/><stop offset="0.938" stop-color="#adff4a"/><stop offset="1.000" stop-color="#b9ff3e"/></linearGradient><linearGradient id="s136" x1="0" y1="0" x2="0" y2="1"><stop offset="0.000" stop-color="#006fff"/><stop offset="0.062" stop-color="#007eff"/><stop offset="0.125" stop-color="#008eff"/><stop offset="0.187" stop-color="#009fff"/><stop offset="0.250" stop-color="#00b0ff"/><stop offset="0.312" stop-color="#00c2ff"/><stop offset="0.375" stop-color="#00d9ff"/><stop offset="0.438" stop-color="#08f0ef"/><stop offset="0.500" stop-color="#1affdd"/><stop offset="0.563" stop-color="#2cffcb"/><stop offset="0.625" stop-color="#3dffba"/><stop offset="0.687" stop-color="#54ffa2"/><stop offset="0.750" stop-color="#6cff8b"/><stop offset="0.812" stop-color="#82ff75"/><stop offset="0.875" stop-color="#97ff5f"/><stop offset="0.938" stop-color="#adff4a"/><stop offset="1.000" stop-color="#b9ff3e"/></linearGradient><linearGradient id="s137" x1="0" y1="0" x2="0" y2="1"><stop offset="0.000" stop-color="#006dff"/><stop offset="0.062" stop-color="#007dff"/><stop offset="0.125" stop-color="#008dff"/><stop offset="0.187" stop-color="#009eff"/><stop offset="0.250" stop-color="#00afff"/><stop offset="0.312" stop-color="#00c1ff"/><stop offset="0.375" stop-color="#00d8ff"/><stop offset="0.438" stop-color="#08efef"/><stop offset="0.500" stop-color="#1affdd"/><stop offset="0.563" stop-color="#2cffcb"/><stop offset="0.625" stop-color="#3dffba"/><stop offset="0.687" stop-color="#54ffa2"/><stop offset="0.750" stop-color="#6cff8b"/><stop offset="0.812" stop-color="#82ff75"/><stop offset="0.875" stop-color="#97ff5f"/><stop offset="0.938" stop-color="#adff4a"/><stop offset="1.000" stop-color="#b9ff3e"/></linearGradient><linearGradient id="s138" x1="0" y1="0" x2="0" y2="1"><stop offset="0.000" stop-color="#006bff"/><stop offset="0.062" stop-color="#007bff"/><stop offset="0.125" stop-color="#008bff"/><stop offset="0.187" stop-color="#009dff"/><stop offset="0.250" stop-color="#00afff"/><stop offset="0.312" stop-color="#00c0ff"/><stop offset="0.375" stop-color="#00d8ff"/><stop offset="0.438" stop-color="#08efef"/><stop offset="0.500" stop-color="#1affdd"/><stop offset="0.563" stop-color="#2bffcb"/><stop offset="0.625" stop-color="#3dffba"/><stop offset="0.687" stop-color="#54ffa2"/><stop offset="0.750" stop-color="#6cff8b"/><stop offset="0.812" stop-color="#82ff75"/><stop offset="0.875" stop-color="#97ff5f"/><stop offset="0.938" stop-color="#adff4a"/><stop offset="1.000" stop-color="#b9ff3e"/></linearGradient><linearGradient id="s139" x1="0" y1="0" x2="0" y2="1"><stop offset="0.000" stop-color="#0068ff"/><stop offset="0.062" stop-color="#0079ff"/><stop offset="0.125" stop-color="#008aff"/><stop offset="0.187" stop-color="#009bff"/><stop offset="0.250" stop-color="#00adff"/><stop offset="0.312" stop-color="#00c0ff"/><stop offset="0.375" stop-color="#00d7ff"/><stop offset="0.438" stop-color="#07efef"/><stop offset="0.500" stop-color="#1affdd"/><stop offset="0.563" stop-color="#2bffcb"/><stop offset="0.625" stop-color="#3dffba"/><stop offset="0.687" stop-color="#54ffa2"/><stop offset="0.750" stop-color="#6cff8b"/><stop offset="0.812" stop-color="#82ff75"/><stop offset="0.875" stop-color="#97ff5f"/><stop offset="0.938" stop-color="#adff4a"/><stop offset="1.000" stop-color="#b9ff3e"/></linearGradient><linearGradient id="s140" x1="0" y1="0" x2="0" y2="1"><stop offset="0.000" stop-color="#0066ff"/><stop offset="0.062" stop-color="#0077ff"/><stop offset="0.125" stop-color="#0088ff"/><stop offset="0.187" stop-color="#009aff"/><stop offset="0.250" stop-color="#00acff"/><stop offset="0.312" stop-color="#00bfff"/><stop offset="0.375" stop-color="#00d7ff"/><stop offset="0.438" stop-color="#07eef0"/><stop offset="0.500" stop-color="#1affdd"/><stop offset="0.563" stop-color="#2bffcb"/><stop offset="0.625" stop-color="#3dffba"/><stop offset="0.687" stop-color="#54ffa2"/><stop offset="0.750" stop-color="#6cff8b"/><stop offset="0.812" stop-color="#82ff75"/><stop offset="0.875" stop-color="#97ff5f"/><stop offset="0.938" stop-color="#adff4a"/><stop offset="1.000" stop-color="#b9ff3e"/></linearGradient><linearGradient id="s141" x1="0" y1="0" x2="0" y2="1"><stop offset="0.000" stop-color="#0063ff"/><stop offset="0.062" stop-color="#0074ff"/><stop offset="0.125" stop-color="#0086ff"/><stop offset="0.187" stop-color="#0098ff"/><stop offset="0.250" stop-color="#00abff"/><stop offset="0.312" stop-color="#00beff"/><stop offset="0.375" stop-color="#00d6ff"/><stop offset="0.438" stop-color="#07eef0"/><stop offset="0.500" stop-color="#19ffdd"/><stop offset="0.563" stop-color="#2bffcc"/><stop offset="0.625" stop-color="#3dffba"/><stop offset="0.687" stop-color="#54ffa2"/><stop offset="0.750" stop-color="#6cff8b"/><stop offset="0.812" stop-color="#82ff75"/><stop offset="0.875" stop-color="#97ff5f"/><stop offset="0.938" stop-color="#adff4a"/><stop offset="1.000" stop-color="#b9ff3e"/></linearGradient><linearGradient id="s142" x1="0" y1="0" x2="0" y2="1"><stop offset="0.000" stop-color="#0060ff"/><stop offset="0.062" stop-color="#0071ff"/><stop offset="0.125" stop-color="#0083ff"/><stop offset="0.187" stop-color="#0096ff"/><stop offset="0.250" stop-color="#00aaff"/><stop offset="0.312" stop-color="#00bdff"/><stop offset="0.375" stop-color="#00d5ff"/><stop offset="0.438" stop-color="#06edf0"/><stop offset="0.500" stop-color="#19ffde"/><stop offset="0.563" stop-color="#2bffcc"/><stop offset="0.625" stop-color="#3dffba"/><stop offset="0.687" stop-color="#54ffa2"/><stop offset="0.750" stop-color="#6cff8b"/><stop offset="0.812" stop-color="#82ff75"/><stop offset="0.875" stop-color="#97ff5f"/><stop offset="0.938" stop-color="#adff4a"/><stop offset="1.000" stop-color="#b9ff3e"/></linearGradient><linearGradient id="s143" x1="0" y1="0" x2="0" y2="1"><stop offset="0.000" stop-color="#005cff"/><stop offset="0.062" stop-color="#006eff"/><stop offset="0.125" stop-color="#0081ff"/><stop offset="0.187" stop-color="#0094ff"/><stop offset="0.250" stop-color="#00a8ff"/><stop offset="0.312" stop-color="#00bcff"/><stop offset="0.375" stop-color="#00d4ff"/><stop offset="0.438" stop-color="#06edf1"/><stop offset="0.500" stop-color="#19ffde"/><stop offset="0.563" stop-color="#2bffcc"/><stop offset="0.625" stop-color="#3dffba"/><stop offset="0.687" stop-color="#54ffa2"/><stop offset="0.750" stop-color="#6cff8b"/><stop offset="0.812" stop-color="#82ff75"/><stop offset="0.875" stop-color="#97ff5f"/><stop offset="0.938" stop-color="#adff4a"/><stop offset="1.000" stop-color="#b9ff3e"/></linearGradient><linearGradient id="s144" x1="0" y1="0" x2="0" y2="1"><stop offset="0.000" stop-color="#0057ff"/><stop offset="0.062" stop-color="#006aff"/><stop offset="0.125" stop-color="#007dff"/><stop offset="0.187" stop-color="#0092ff"/><stop offset="0.250" stop-color="#00a6ff"/><stop offset="0.312" stop-color="#00bbff"/><stop offset="0.375" stop-color="#00d4ff"/><stop offset="0.438" stop-color="#05ecf1"/><stop offset="0.500" stop-color="#19ffde"/><stop offset="0.563" stop-color="#2bffcc"/><stop offset="0.625" stop-color="#3dffba"/><stop offset="0.687" stop-color="#54ffa2"/><stop offset="0.750" stop-color="#6cff8b"/><stop offset="0.812" stop-color="#82ff75"/><stop offset="0.875" stop-color="#97ff5f"/><stop offset="0.938" stop-color="#adff4a"/><stop offset="1.000" stop-color="#b9ff3e"/></linearGradient><linearGradient id="s145" x1="0" y1="0" x2="0" y2="1"><stop offset="0.000" stop-color="#0052ff"/><stop offset="0.062" stop-color="#0066ff"/><stop offset="0.125" stop-color="#007aff"/><stop offset="0.187" stop-color="#008fff"/><stop offset="0.250" stop-color="#00a5ff"/><stop offset="0.312" stop-color="#00baff"/><stop offset="0.375" stop-color="#00d3ff"/><stop offset="0.438" stop-color="#05ecf2"/><stop offset="0.500" stop-color="#18ffdf"/><stop offset="0.563" stop-color="#2bffcc"/><stop offset="0.625" stop-color="#3dffba"/><stop offset="0.687" stop-color="#54ffa2"/><stop offset="0.750" stop-color="#6cff8b"/><stop offset="0.812" stop-color="#82ff75"/><stop offset="0.875" stop-color="#97ff5f"/><stop offset="0.938" stop-color="#adff4a"/><stop offset="1.000" stop-color="#b9ff3e"/></linearGradient><linearGradient id="s146" x1="0" y1="0" x2="0" y2="1"><stop offset="0.000" stop-color="#004cff"/><stop offset="0.062" stop-color="#0061ff"/><stop offset="0.125" stop-color="#0076ff"/><stop offset="0.187" stop-color="#008cff"/><stop offset="0.250" stop-color="#00a3ff"/><stop offset="0.312" stop-color="#00b9ff"/><stop offset="0.375" stop-color="#00d2ff"/><stop offset="0.438" stop-color="#05ebf2"/><stop offset="0.500" stop-color="#18ffdf"/><stop offset="0.563" stop-color="#2bffcc"/><stop offset="0.625" stop-color="#3dffba"/><stop offset="0.687" stop-color="#54ffa2"/><stop offset="0.750" stop-color="#6cff8b"/><stop offset="0.812" stop-color="#82ff75"/><stop offset="0.875" stop-color="#97ff5f"/><stop offset="0.938" stop-color="#adff4a"/><stop offset="1.000" stop-color="#b9ff3e"/></linearGradient><linearGradient id="s147" x1="0" y1="0" x2="0" y2="1"><stop offset="0.000" stop-color="#0046ff"/><stop offset="0.062" stop-color="#005cff"/><stop offset="0.125" stop-color="#0072ff"/><stop offset="0.187" stop-color="#0089ff"/><stop offset="0.250" stop-color="#00a1ff"/><stop offset="0.312" stop-color="#00b8ff"/><stop offset="0.375" stop-color="#00d2ff"/><stop offset="0.438" stop-color="#04ebf3"/><stop offset="0.500" stop-color="#18ffdf"/><stop offset="0.563" stop-color="#2affcc"/><stop offset="0.625" stop-color="#3dffba"/><stop offset="0.687" stop-color="#54ffa2"/><stop offset="0.750" stop-color="#6cff8b"/><stop offset="0.812" stop-color="#82ff75"/><stop offset="0.875" stop-color="#97ff5f"/><stop offset="0.938" stop-color="#adff4a"/><stop offset="1.000" stop-color="#b9ff3e"/></linearGradient><linearGradient id="s148" x1="0" y1="0" x2="0" y2="1"><stop offset="0.000" stop-color="#0040ff"/><stop offset="0.062" stop-color="#0057ff"/><stop offset="0.125" stop-color="#006eff"/><stop offset="0.187" stop-color="#0086ff"/><stop offset="0.250" stop-color="#009fff"/><stop offset="0.312" stop-color="#00b7ff"/><stop offset="0.375" stop-color="#00d1ff"/><stop offset="0.438" stop-color="#04eaf3"/><stop offset="0.500" stop-color="#17ffdf"/><stop offset="0.563" stop-color="#2affcc"/><stop offset="0.625" stop-color="#3dffba"/><stop offset="0.687" stop-color="#54ffa2"/><stop offset="0.750" stop-color="#6cff8b"/><stop offset="0.812" stop-color="#82ff75"/><stop offset="0.875" stop-color="#97ff5f"/><stop offset="0.938" stop-color="#adff4a"/><stop offset="1.000" stop-color="#b9ff3e"/></linearGradient><linearGradient id="s149" x1="0" y1="0" x2="0" y2="1"><stop offset="0.000" stop-color="#003aff"/><stop offset="0.062" stop-color="#0052ff"/><stop offset="0.125" stop-color="#006aff"/><stop offset="0.187" stop-color="#0083ff"/><stop offset="0.250" stop-color="#009dff"/><stop offset="0.312" stop-color="#00b7ff"/><stop offset="0.375" stop-color="#00d0ff"/><stop offset="0.438" stop-color="#03eaf3"/><stop offset="0.500" stop-color="#17ffe0"/><stop offset="0.563" stop-color="#2affcd"/><stop offset="0.625" stop-color="#3dffba"/><stop offset="0.687" stop-color="#54ffa2"/><stop offset="0.750" stop-color="#6cff8b"/><stop offset="0.812" stop-color="#82ff75"/><stop offset="0.875" stop-color="#97ff5f"/><stop offset="0.938" stop-color="#adff4a"/><stop offset="1.000" stop-color="#b9ff3e"/></linearGradient><linearGradient id="s150" x1="0" y1="0" x2="0" y2="1"><stop offset="0.000" stop-color="#0034ff"/><stop offset="0.062" stop-color="#004dff"/><stop offset="0.125" stop-color="#0066ff"/><stop offset="0.187" stop-color="#0080ff"/><stop offset="0.250" stop-color="#009bff"/><stop offset="0.312" stop-color="#00b6ff"/><stop offset="0.375" stop-color="#00d0ff"/><stop offset="0.438" stop-color="#03e9f4"/><stop offset="0.500" stop-color="#17ffe0"/><stop offset="0.563" stop-color="#2affcd"/><stop offset="0.625" stop-color="#3dffba"/><stop offset="0.687" stop-color="#54ffa2"/><stop offset="0.750" stop-color="#6cff8b"/><stop offset="0.812" stop-color="#82ff75"/><stop offset="0.875" stop-color="#97ff5f"/><stop offset="0.938" stop-color="#adff4a"/><stop offset="1.000" stop-color="#b9ff3e"/></linearGradient><linearGradient id="s151" x1="0" y1="0" x2="0" y2="1"><stop offset="0.000" stop-color="#002eff"/><stop offset="0.062" stop-color="#0048ff"/><stop offset="0.125" stop-color="#0062ff"/><stop offset="0.187" stop-color="#007eff"/><stop offset="0.250" stop-color="#009aff"/><stop offset="0.312" stop-color="#00b5ff"/><stop offset="0.375" stop-color="#00cfff"/><stop offset="0.438" stop-color="#03e9f4"/><stop offset="0.500" stop-color="#17ffe0"/><stop offset="0.563" stop-color="#2affcd"/><stop offset="0.625" stop-color="#3dffba"/><stop offset="0.687" stop-color="#54ffa2"/><stop offset="0.750" stop-color="#6cff8b"/><stop offset="0.812" stop-color="#82ff75"/><stop offset="0.875" stop-color="#97ff5f"/><stop offset="0.938" stop-color="#adff4a"/><stop offset="1.000" stop-color="#b9ff3e"/></linearGradient><linearGradient id="s152" x1="0" y1="0" x2="0" y2="1"><stop offset="0.000" stop-color="#002aff"/><stop offset="0.062" stop-color="#0045ff"/><stop offset="0.125" stop-color="#0060ff"/><stop offset="0.187" stop-color="#007cff"/><stop offset="0.250" stop-color="#0098ff"/><stop offset="0.312" stop-color="#00b5ff"/><stop offset="0.375" stop-color="#00cfff"/><stop offset="0.438" stop-color="#02e9f4"/><stop offset="0.500" stop-color="#17ffe0"/><stop offset="0.563" stop-color="#2affcd"/><stop offset="0.625" stop-color="#3dffba"/><stop offset="0.687" stop-color="#54ffa2"/><stop offset="0.750" stop-color="#6cff8b"/><stop offset="0.812" stop-color="#82ff75"/><stop offset="0.875" stop-color="#97ff5f"/><stop offset="0.938" stop-color="#adff4a"/><stop offset="1.000" stop-color="#b9ff3e"/></linearGradient><linearGradient id="s153" x1="0" y1="0" x2="0" y2="1"><stop offset="0.000" stop-color="#0028ff"/><stop offset="0.062" stop-color="#0043ff"/><stop offset="0.125" stop-color="#005eff"/><stop offset="0.187" stop-color="#007aff"/><stop offset="0.250" stop-color="#0097ff"/><stop offset="0.312" stop-color="#00b4ff"/><stop offset="0.375" stop-color="#00ceff"/><stop offset="0.438" stop-color="#02e8f5"/><stop offset="0.500" stop-color="#16ffe0"/><stop offset="0.563" stop-color="#2affcd"/><stop offset="0.625" stop-color="#3dffba"/><stop offset="0.687" stop-color="#54ffa2"/><stop offset="0.750" stop-color="#6cff8b"/><stop offset="0.812" stop-color="#82ff75"/><stop offset="0.875" stop-color="#97ff5f"/><stop offset="0.938" stop-color="#adff4a"/><stop offset="1.000" stop-color="#b9ff3e"/></linearGradient><linearGradient id="s154" x1="0" y1="0" x2="0" y2="1"><stop offset="0.000" stop-color="#0027ff"/><stop offset="0.062" stop-color="#0042ff"/><stop offset="0.125" stop-color="#005dff"/><stop offset="0.187" stop-color="#0079ff"/><stop offset="0.250" stop-color="#0097ff"/><stop offset="0.312" stop-color="#00b4ff"/><stop offset="0.375" stop-color="#00ceff"/><stop offset="0.438" stop-color="#02e8f5"/><stop offset="0.500" stop-color="#16ffe1"/><stop offset="0.563" stop-color="#2affcd"/><stop offset="0.625" stop-color="#3dffba"/><stop offset="0.687" stop-color="#54ffa2"/><stop offset="0.750" stop-color="#6cff8b"/><stop offset="0.812" stop-color="#82ff75"/><stop offset="0.875" stop-color="#97ff5f"/><stop offset="0.938" stop-color="#adff4a"/><stop offset="1.000" stop-color="#b9ff3e"/></linearGradient><linearGradient id="s155" x1="0" y1="0" x2="0" y2="1"><stop offset="0.000" stop-color="#0027ff"/><stop offset="0.062" stop-color="#0042ff"/><stop offset="0.125" stop-color="#005dff"/><stop offset="0.187" stop-color="#0079ff"/><stop offset="0.250" stop-color="#0097ff"/><stop offset="0.312" stop-color="#00b4ff"/><stop offset="0.375" stop-color="#00ceff"/><stop offset="0.438" stop-color="#02e8f5"/><stop offset="0.500" stop-color="#16ffe1"/><stop offset="0.563" stop-color="#2affcd"/><stop offset="0.625" stop-color="#3dffba"/><stop offset="0.687" stop-color="#54ffa2"/><stop offset="0.750" stop-color="#6cff8b"/><stop offset="0.812" stop-color="#82ff75"/><stop offset="0.875" stop-color="#97ff5f"/><stop offset="0.938" stop-color="#adff4a"/><stop offset="1.000" stop-color="#b9ff3e"/></linearGradient><linearGradient id="s156" x1="0" y1="0" x2="0" y2="1"><stop offset="0.000" stop-color="#0029ff"/><stop offset="0.062" stop-color="#0044ff"/><stop offset="0.125" stop-color="#005eff"/><stop offset="0.187" stop-color="#007aff"/><stop offset="0.250" stop-color="#0097ff"/><stop offset="0.312" stop-color="#00b3ff"/><stop offset="0.375" stop-color="#00cdff"/><stop offset="0.438" stop-color="#02e7f5"/><stop offset="0.500" stop-color="#16ffe1"/><stop offset="0.563" stop-color="#2affcd"/><stop offset="0.625" stop-color="#3dffba"/><stop offset="0.687" stop-color="#54ffa2"/><stop offset="0.750" stop-color="#6cff8b"/><stop offset="0.812" stop-color="#82ff75"/><stop offset="0.875" stop-color="#97ff5f"/><stop offset="0.938" stop-color="#adff4a"/><stop offset="1.000" stop-color="#b9ff3e"/></linearGradient><linearGradient id="s157" x1="0" y1="0" x2="0" y2="1"><stop offset="0.000" stop-color="#002dff"/><stop offset="0.062" stop-color="#0047ff"/><stop offset="0.125" stop-color="#0060ff"/><stop offset="0.187" stop-color="#007bff"/><stop offset="0.250" stop-color="#0097ff"/><stop offset="0.312" stop-color="#00b3ff"/><stop offset="0.375" stop-color="#00cdff"/><stop offset="0.438" stop-color="#01e7f5"/><stop offset="0.500" stop-color="#16ffe1"/><stop offset="0.563" stop-color="#2affcd"/><stop offset="0.625" stop-color="#3dffba"/><stop offset="0.687" stop-color="#54ffa2"/><stop offset="0.750" stop-color="#6cff8b"/><stop offset="0.812" stop-color="#82ff75"/><stop offset="0.875" stop-color="#97ff5f"/><stop offset="0.938" stop-color="#adff4a"/><stop offset="1.000" stop-color="#b9ff3e"/></linearGradient><linearGradient id="s158" x1="0" y1="0" x2="0" y2="1"><stop offset="0.000" stop-color="#0031ff"/><stop offset="0.062" stop-color="#004aff"/><stop offset="0.125" stop-color="#0063ff"/><stop offset="0.187" stop-color="#007dff"/><stop offset="0.250" stop-color="#0098ff"/><stop offset="0.312" stop-color="#00b3ff"/><stop offset="0.375" stop-color="#00cdff"/><stop offset="0.438" stop-color="#01e7f5"/><stop offset="0.500" stop-color="#16ffe1"/><stop offset="0.563" stop-color="#2affcd"/><stop offset="0.625" stop-color="#3dffba"/><stop offset="0.687" stop-color="#55ffa2"/><stop offset="0.750" stop-color="#6cff8b"/><stop offset="0.812" stop-color="#82ff75"/><stop offset="0.875" stop-color="#97ff5f"/><stop offset="0.938" stop-color="#adff4a"/><stop offset="1.000" stop-color="#b9ff3e"/></linearGradient><linearGradient id="s159" x1="0" y1="0" x2="0" y2="1"><stop offset="0.000" stop-color="#0036ff"/><stop offset="0.062" stop-color="#004eff"/><stop offset="0.125" stop-color="#0066ff"/><stop offset="0.187" stop-color="#007fff"/><stop offset="0.250" stop-color="#0099ff"/><stop offset="0.312" stop-color="#00b2ff"/><stop offset="0.375" stop-color="#00cdff"/><stop offset="0.438" stop-color="#01e7f6"/><stop offset="0.500" stop-color="#16ffe1"/><stop offset="0.563" stop-color="#29ffcd"/><stop offset="0.625" stop-color="#3dffba"/><stop offset="0.687" stop-color="#55ffa2"/><stop offset="0.750" stop-color="#6cff8b"/><stop offset="0.812" stop-color="#82ff75"/><stop offset="0.875" stop-color="#97ff5f"/><stop offset="0.938" stop-color="#adff4a"/><stop offset="1.000" stop-color="#b9ff3e"/></linearGradient><linearGradient id="s160" x1="0" y1="0" x2="0" y2="1"><stop offset="0.000" stop-color="#003bff"/><stop offset="0.062" stop-color="#0052ff"/><stop offset="0.125" stop-color="#0069ff"/><stop offset="0.187" stop-color="#0081ff"/><stop offset="0.250" stop-color="#0099ff"/><stop offset="0.312" stop-color="#00b2ff"/><stop offset="0.375" stop-color="#00cdff"/><stop offset="0.438" stop-color="#01e7f6"/><stop offset="0.500" stop-color="#16ffe1"/><stop offset="0.563" stop-color="#29ffcd"/><stop offset="0.625" stop-color="#3dffba"/><stop offset="0.687" stop-color="#55ffa2"/><stop offset="0.750" stop-color="#6cff8b"/><stop offset="0.812" stop-color="#82ff75"/><stop offset="0.875" stop-color="#97ff5f"/><stop offset="0.938" stop-color="#adff4a"/><stop offset="1.000" stop-color="#b9ff3e"/></linearGradient><linearGradient id="s161" x1="0" y1="0" x2="0" y2="1"><stop offset="0.000" stop-color="#0040ff"/><stop offset="0.062" stop-color="#0055ff"/><stop offset="0.125" stop-color="#006bff"/><stop offset="0.187" stop-color="#0082ff"/><stop offset="0.250" stop-color="#009aff"/><stop offset="0.312" stop-color="#00b2ff"/><stop offset="0.375" stop-color="#00cdff"/><stop offset="0.438" stop-color="#01e7f6"/><stop offset="0.500" stop-color="#16ffe1"/><stop offset="0.563" stop-color="#29ffcd"/><stop offset="0.625" stop-color="#3dffba"/><stop offset="0.687" stop-color="#55ffa2"/><stop offset="0.750" stop-color="#6cff8b"/><stop offset="0.812" stop-color="#82ff75"/><stop offset="0.875" stop-color="#97ff5f"/><stop offset="0.938" stop-color="#adff4a"/><stop offset="1.000" stop-color="#b9ff3e"/></linearGradient><linearGradient id="s162" x1="0" y1="0" x2="0" y2="1"><stop offset="0.000" stop-color="#0044ff"/><stop offset="0.062" stop-color="#0059ff"/><stop offset="0.125" stop-color="#006eff"/><stop offset="0.187" stop-color="#0084ff"/><stop offset="0.250" stop-color="#009bff"/><stop offset="0.312" stop-color="#00b2ff"/><stop offset="0.375" stop-color="#00ccff"/><stop offset="0.438" stop-color="#01e7f6"/><stop offset="0.500" stop-color="#16ffe1"/><stop offset="0.563" stop-color="#29ffcd"/><stop offset="0.625" stop-color="#3dffba"/><stop offset="0.687" stop-color="#55ffa2"/><stop offset="0.750" stop-color="#6cff8b"/><stop offset="0.812" stop-color="#82ff75"/><stop offset="0.875" stop-color="#97ff5f"/><stop offset="0.938" stop-color="#adff4a"/><stop offset="1.000" stop-color="#b9ff3e"/></linearGradient><linearGradient id="s163" x1="0" y1="0" x2="0" y2="1"><stop offset="0.000" stop-color="#0048ff"/><stop offset="0.062" stop-color="#005cff"/><stop offset="0.125" stop-color="#0070ff"/><stop offset="0.187" stop-color="#0085ff"/><stop offset="0.250" stop-color="#009cff"/><stop offset="0.312" stop-color="#00b2ff"/><stop offset="0.375" stop-color="#00ccff"/><stop offset="0.438" stop-color="#01e7f6"/><stop offset="0.500" stop-color="#16ffe1"/><stop offset="0.563" stop-color="#29ffcd"/><stop offset="0.625" stop-color="#3dffba"/><stop offset="0.687" stop-color="#55ffa2"/><stop offset="0.750" stop-color="#6cff8b"/><stop offset="0.812" stop-color="#82ff75"/><stop offset="0.875" stop-color="#97ff5f"/><stop offset="0.938" stop-color="#adff4a"/><stop offset="1.000" stop-color="#b9ff3e"/></linearGradient><linearGradient id="s164" x1="0" y1="0" x2="0" y2="1"><stop offset="0.000" stop-color="#004aff"/><stop offset="0.062" stop-color="#005eff"/><stop offset="0.125" stop-color="#0072ff"/><stop offset="0.187" stop-color="#0087ff"/><stop offset="0.250" stop-color="#009cff"/><stop offset="0.312" stop-color="#00b2ff"/><stop offset="0.375" stop-color="#00ccff"/><stop offset="0.438" stop-color="#01e7f6"/><stop offset="0.500" stop-color="#16ffe1"/><stop offset="0.563" stop-color="#29ffcd"/><stop offset="0.625" stop-color="#3dffba"/><stop offset="0.687" stop-color="#55ffa2"/><stop offset="0.750" stop-color="#6cff8b"/><stop offset="0.812" stop-color="#82ff75"/><stop offset="0.875" stop-color="#97ff5f"/><stop offset="0.938" stop-color="#adff4a"/><stop offset="1.000" stop-color="#b9ff3e"/></linearGradient><linearGradient id="s165" x1="0" y1="0" x2="0" y2="1"><stop offset="0.000" stop-color="#004dff"/><stop offset="0.062" stop-color="#0060ff"/><stop offset="0.125" stop-color="#0073ff"/><stop offset="0.187" stop-color="#0087ff"/><stop offset="0.250" stop-color="#009dff"/><stop offset="0.312" stop-color="#00b2ff"/><stop offset="0.375" stop-color="#00ccff"/><stop offset="0.438" stop-color="#01e7f6"/><stop offset="0.500" stop-color="#16ffe1"/><stop offset="0.563" stop-color="#29ffcd"/><stop offset="0.625" stop-color="#3dffba"/><stop offset="0.687" stop-color="#55ffa2"/><stop offset="0.750" stop-color="#6cff8b"/><stop offset="0.812" stop-color="#82ff75"/><stop offset="0.875" stop-color="#97ff5f"/><stop offset="0.938" stop-color="#adff4a"/><stop offset="1.000" stop-color="#b9ff3e"/></linearGradient><linearGradient id="s166" x1="0" y1="0" x2="0" y2="1"><stop offset="0.000" stop-color="#004eff"/><stop offset="0.062" stop-color="#0061ff"/><stop offset="0.125" stop-color="#0074ff"/><stop offset="0.187" stop-color="#0088ff"/><stop offset="0.250" stop-color="#009dff"/><stop offset="0.312" stop-color="#00b2ff"/><stop offset="0.375" stop-color="#00ccff"/><stop offset="0.438" stop-color="#01e7f6"/><stop offset="0.500" stop-color="#15ffe1"/><stop offset="0.563" stop-color="#29ffcd"/><stop offset="0.625" stop-color="#3dffba"/><stop offset="0.687" stop-color="#55ffa2"/><stop offset="0.750" stop-color="#6cff8b"/><stop offset="0.812" stop-color="#82ff75"/><stop offset="0.875" stop-color="#97ff5f"/><stop offset="0.938" stop-color="#adff4a"/><stop offset="1.000" stop-color="#b9ff3e"/></linearGradient><linearGradient id="s167" x1="0" y1="0" x2="0" y2="1"><stop offset="0.000" stop-color="#004fff"/><stop offset="0.062" stop-color="#0062ff"/><stop offset="0.125" stop-color="#0075ff"/><stop offset="0.187" stop-color="#0088ff"/><stop offset="0.250" stop-color="#009dff"/><stop offset="0.312" stop-color="#00b2ff"/><stop offset="0.375" stop-color="#00ccff"/><stop offset="0.438" stop-color="#01e7f6"/><stop offset="0.500" stop-color="#15ffe1"/><stop offset="0.563" stop-color="#29ffcd"/><stop offset="0.625" stop-color="#3dffba"/><stop offset="0.687" stop-color="#55ffa2"/><stop offset="0.750" stop-color="#6cff8b"/><stop offset="0.812" stop-color="#82ff75"/><stop offset="0.875" stop-color="#97ff5f"/><stop offset="0.938" stop-color="#adff4a"/><stop offset="1.000" stop-color="#b9ff3e"/></linearGradient><linearGradient id="s168" x1="0" y1="0" x2="0" y2="1"><stop offset="0.000" stop-color="#0050ff"/><stop offset="0.062" stop-color="#0063ff"/><stop offset="0.125" stop-color="#0075ff"/><stop offset="0.187" stop-color="#0089ff"/><stop offset="0.250" stop-color="#009dff"/><stop offset="0.312" stop-color="#00b2ff"/><stop offset="0.375" stop-color="#00ccff"/><stop offset="0.438" stop-color="#01e7f6"/><stop offset="0.500" stop-color="#15ffe1"/><stop offset="0.563" stop-color="#29ffcd"/><stop offset="0.625" stop-color="#3dffba"/><stop offset="0.687" stop-color="#55ffa2"/><stop offset="0.750" stop-color="#6cff8b"/><stop offset="0.812" stop-color="#82ff75"/><stop offset="0.875" stop-color="#97ff5f"/><stop offset="0.938" stop-color="#adff4a"/><stop offset="1.000" stop-color="#b9ff3e"/></linearGradient><linearGradient id="s169" x1="0" y1="0" x2="0" y2="1"><stop offset="0.000" stop-color="#0051ff"/><stop offset="0.062" stop-color="#0063ff"/><stop offset="0.125" stop-color="#0075ff"/><stop offset="0.187" stop-color="#0089ff"/><stop offset="0.250" stop-color="#009dff"/><stop offset="0.312" stop-color="#00b2ff"/><stop offset="0.375" stop-color="#00ccff"/><stop offset="0.438" stop-color="#01e7f6"/><stop offset="0.500" stop-color="#16ffe1"/><stop offset="0.563" stop-color="#29ffcd"/><stop offset="0.625" stop-color="#3dffb9"/><stop offset="0.687" stop-color="#55ffa2"/><stop offset="0.750" stop-color="#6cff8b"/><stop offset="0.812" stop-color="#82ff75"/><stop offset="0.875" stop-color="#97ff5f"/><stop offset="0.938" stop-color="#adff4a"/><stop offset="1.000" stop-color="#b9ff3e"/></linearGradient><linearGradient id="s170" x1="0" y1="0" x2="0" y2="1"><stop offset="0.000" stop-color="#0051ff"/><stop offset="0.062" stop-color="#0063ff"/><stop offset="0.125" stop-color="#0076ff"/><stop offset="0.187" stop-color="#0089ff"/><stop offset="0.250" stop-color="#009eff"/><stop offset="0.312" stop-color="#00b2ff"/><stop offset="0.375" stop-color="#00ccff"/><stop offset="0.438" stop-color="#01e7f6"/><stop offset="0.500" stop-color="#16ffe1"/><stop offset="0.563" stop-color="#29ffcd"/><stop offset="0.625" stop-color="#3dffb9"/><stop offset="0.687" stop-color="#55ffa2"/><stop offset="0.750" stop-color="#6cff8b"/><stop offset="0.812" stop-color="#82ff75"/><stop offset="0.875" stop-color="#97ff5f"/><stop offset="0.938" stop-color="#adff4a"/><stop offset="1.000" stop-color="#b9ff3e"/></linearGradient><linearGradient id="s171" x1="0" y1="0" x2="0" y2="1"><stop offset="0.000" stop-color="#0052ff"/><stop offset="0.062" stop-color="#0064ff"/><stop offset="0.125" stop-color="#0076ff"/><stop offset="0.187" stop-color="#0089ff"/><stop offset="0.250" stop-color="#009eff"/><stop offset="0.312" stop-color="#00b2ff"/><stop offset="0.375" stop-color="#00ccff"/><stop offset="0.438" stop-color="#01e7f6"/><stop offset="0.500" stop-color="#16ffe1"/><stop offset="0.563" stop-color="#29ffcd"/><stop offset="0.625" stop-color="#3dffb9"/><stop offset="0.687" stop-color="#55ffa2"/><stop offset="0.750" stop-color="#6cff8b"/><stop offset="0.812" stop-color="#82ff75"/><stop offset="0.875" stop-color="#97ff5f"/><stop offset="0.938" stop-color="#adff4a"/><stop offset="1.000" stop-color="#b9ff3e"/></linearGradient><linearGradient id="s172" x1="0" y1="0" x2="0" y2="1"><stop offset="0.000" stop-color="#0052ff"/><stop offset="0.062" stop-color="#0064ff"/><stop offset="0.125" stop-color="#0076ff"/><stop offset="0.187" stop-color="#0089ff"/><stop offset="0.250" stop-color="#009eff"/><stop offset="0.312" stop-color="#00b2ff"/><stop offset="0.375" stop-color="#00ccff"/><stop offset="0.438" stop-color="#01e7f6"/><stop offset="0.500" stop-color="#16ffe1"/><stop offset="0.563" stop-color="#29ffcd"/><stop offset="0.625" stop-color="#3dffb9"/><stop offset="0.687" stop-color="#55ffa2"/><stop offset="0.750" stop-color="#6cff8b"/><stop offset="0.812" stop-color="#82ff75"/><stop offset="0.875" stop-color="#97ff5f"/><stop offset="0.938" stop-color="#adff4a"/><stop offset="1.000" stop-color="#b9ff3e"/></linearGradient><linearGradient id="s173" x1="0" y1="0" x2="0" y2="1"><stop offset="0.000" stop-color="#0052ff"/><stop offset="0.062" stop-color="#0064ff"/><stop offset="0.125" stop-color="#0076ff"/><stop offset="0.187" stop-color="#0089ff"/><stop offset="0.250" stop-color="#009eff"/><stop offset="0.312" stop-color="#00b2ff"/><stop offset="0.375" stop-color="#00ccff"/><stop offset="0.438" stop-color="#01e7f6"/><stop offset="0.500" stop-color="#16ffe1"/><stop offset="0.563" stop-color="#29ffcd"/><stop offset="0.625" stop-color="#3dffb9"/><stop offset="0.687" stop-color="#55ffa2"/><stop offset="0.750" stop-color="#6cff8b"/><stop offset="0.812" stop-color="#82ff75"/><stop offset="0.875" stop-color="#97ff5f"/><stop offset="0.938" stop-color="#adff4a"/><stop offset="1.000" stop-color="#b9ff3e"/></linearGradient><linearGradient id="s174" x1="0" y1="0" x2="0" y2="1"><stop offset="0.000" stop-color="#0052ff"/><stop offset="0.062" stop-color="#0064ff"/><stop offset="0.125" stop-color="#0076ff"/><stop offset="0.187" stop-color="#0089ff"/><stop offset="0.250" stop-color="#009eff"/><stop offset="0.312" stop-color="#00b2ff"/><stop offset="0.375" stop-color="#00ccff"/><stop offset="0.438" stop-color="#01e7f6"/><stop offset="0.500" stop-color="#16ffe1"/><stop offset="0.563" stop-color="#2affcd"/><stop offset="0.625" stop-color="#3dffb9"/><stop offset="0.687" stop-color="#55ffa2"/><stop offset="0.750" stop-color="#6cff8b"/><stop offset="0.812" stop-color="#82ff75"/><stop offset="0.875" stop-color="#97ff5f"/><stop offset="0.938" stop-color="#adff4a"/><stop offset="1.000" stop-color="#b9ff3e"/></linearGradient><linearGradient id="s175" x1="0" y1="0" x2="0" y2="1"><stop offset="0.000" stop-color="#0052ff"/><stop offset="0.062" stop-color="#0064ff"/><stop offset="0.125" stop-color="#0076ff"/><stop offset="0.187" stop-color="#0089ff"/><stop offset="0.250" stop-color="#009eff"/><stop offset="0.312" stop-color="#00b2ff"/><stop offset="0.375" stop-color="#00ccff"/><stop offset="0.438" stop-color="#01e7f6"/><stop offset="0.500" stop-color="#16ffe1"/><stop offset="0.563" stop-color="#2affcd"/><stop offset="0.625" stop-color="#3dffb9"/><stop offset="0.687" stop-color="#55ffa2"/><stop offset="0.750" stop-color="#6cff8b"/><stop offset="0.812" stop-color="#82ff75"/><stop offset="0.875" stop-color="#97ff5f"/><stop offset="0.938" stop-color="#adff4a"/><stop offset="1.000" stop-color="#b9ff3e"/></linearGradient><linearGradient id="s176" x1="0" y1="0" x2="0" y2="1"><stop offset="0.000" stop-color="#0052ff"/><stop offset="0.062" stop-color="#0064ff"/><stop offset="0.125" stop-color="#0076ff"/><stop offset="0.187" stop-color="#0089ff"/><stop offset="0.250" stop-color="#009eff"/><stop offset="0.312" stop-color="#00b2ff"/><stop offset="0.375" stop-color="#00ccff"/><stop offset="0.438" stop-color="#01e7f6"/><stop offset="0.500" stop-color="#16ffe1"/><stop offset="0.563" stop-color="#2affcd"/><stop offset="0.625" stop-color="#3dffb9"/><stop offset="0.687" stop-color="#55ffa2"/><stop offset="0.750" stop-color="#6cff8b"/><stop offset="0.812" stop-color="#82ff75"/><stop offset="0.875" stop-color="#97ff5f"/><stop offset="0.938" stop-color="#adff4a"/><stop offset="1.000" stop-color="#b9ff3e"/></linearGradient><linearGradient id="s177" x1="0" y1="0" x2="0" y2="1"><stop offset="0.000" stop-color="#0052ff"/><stop offset="0.062" stop-color="#0064ff"/><stop offset="0.125" stop-color="#0076ff"/><stop offset="0.187" stop-color="#0089ff"/><stop offset="0.250" stop-color="#009eff"/><stop offset="0.312" stop-color="#00b2ff"/><stop offset="0.375" stop-color="#00ccff"/><stop offset="0.438" stop-color="#01e7f6"/><stop offset="0.500" stop-color="#16ffe1"/><stop offset="0.563" stop-color="#2affcd"/><stop offset="0.625" stop-color="#3dffb9"/><stop offset="0.687" stop-color="#55ffa2"/><stop offset="0.750" stop-color="#6cff8b"/><stop offset="0.812" stop-color="#82ff75"/><stop offset="0.875" stop-color="#97ff5f"/><stop offset="0.938" stop-color="#adff4a"/><stop offset="1.000" stop-color="#b9ff3e"/></linearGradient><linearGradient id="s178" x1="0" y1="0" x2="0" y2="1"><stop offset="0.000" stop-color="#0052ff"/><stop offset="0.062" stop-color="#0064ff"/><stop offset="0.125" stop-color="#0076ff"/><stop offset="0.187" stop-color="#0089ff"/><stop offset="0.250" stop-color="#009eff"/><stop offset="0.312" stop-color="#00b2ff"/><stop offset="0.375" stop-color="#00cdff"/><stop offset="0.438" stop-color="#01e7f6"/><stop offset="0.500" stop-color="#16ffe1"/><stop offset="0.563" stop-color="#2affcd"/><stop offset="0.625" stop-color="#3dffb9"/><stop offset="0.687" stop-color="#55ffa2"/><stop offset="0.750" stop-color="#6cff8b"/><stop offset="0.812" stop-color="#82ff75"/><stop offset="0.875" stop-color="#97ff5f"/><stop offset="0.938" stop-color="#adff4a"/><stop offset="1.000" stop-color="#b9ff3e"/></linearGradient><linearGradient id="s179" x1="0" y1="0" x2="0" y2="1"><stop offset="0.000" stop-color="#0052ff"/><stop offset="0.062" stop-color="#0064ff"/><stop offset="0.125" stop-color="#0076ff"/><stop offset="0.187" stop-color="#0089ff"/><stop offset="0.250" stop-color="#009eff"/><stop offset="0.312" stop-color="#00b2ff"/><stop offset="0.375" stop-color="#00cdff"/><stop offset="0.438" stop-color="#01e7f6"/><stop offset="0.500" stop-color="#16ffe1"/><stop offset="0.563" stop-color="#2affcd"/><stop offset="0.625" stop-color="#3dffb9"/><stop offset="0.687" stop-color="#55ffa2"/><stop offset="0.750" stop-color="#6cff8b"/><stop offset="0.812" stop-color="#82ff75"/><stop offset="0.875" stop-color="#97ff5f"/><stop offset="0.938" stop-color="#adff4a"/><stop offset="1.000" stop-color="#b9ff3e"/></linearGradient><linearGradient id="s180" x1="0" y1="0" x2="0" y2="1"><stop offset="0.000" stop-color="#0052ff"/><stop offset="0.062" stop-color="#0064ff"/><stop offset="0.125" stop-color="#0076ff"/><stop offset="0.187" stop-color="#0089ff"/><stop offset="0.250" stop-color="#009eff"/><stop offset="0.312" stop-color="#00b2ff"/><stop offset="0.375" stop-color="#00cdff"/><stop offset="0.438" stop-color="#01e7f6"/><stop offset="0.500" stop-color="#16ffe1"/><stop offset="0.563" stop-color="#2affcd"/><stop offset="0.625" stop-color="#3dffb9"/><stop offset="0.687" stop-color="#55ffa2"/><stop offset="0.750" stop-color="#6cff8b"/><stop offset="0.812" stop-color="#82ff75"/><stop offset="0.875" stop-color="#97ff5f"/><stop offset="0.938" stop-color="#adff4a"/><stop offset="1.000" stop-color="#b9ff3e"/></linearGradient><linearGradient id="s181" x1="0" y1="0" x2="0" y2="1"><stop offset="0.000" stop-color="#0052ff"/><stop offset="0.062" stop-color="#0064ff"/><stop offset="0.125" stop-color="#0076ff"/><stop offset="0.187" stop-color="#0089ff"/><stop offset="0.250" stop-color="#009eff"/><stop offset="0.312" stop-color="#00b2ff"/><stop offset="0.375" stop-color="#00cdff"/><stop offset="0.438" stop-color="#01e7f6"/><stop offset="0.500" stop-color="#16ffe1"/><stop offset="0.563" stop-color="#2affcd"/><stop offset="0.625" stop-color="#3dffb9"/><stop offset="0.687" stop-color="#55ffa2"/><stop offset="0.750" stop-color="#6cff8b"/><stop offset="0.812" stop-color="#82ff75"/><stop offset="0.875" stop-color="#97ff5f"/><stop offset="0.938" stop-color="#adff4a"/><stop offset="1.000" stop-color="#b9ff3e"/></linearGradient><linearGradient id="s182" x1="0" y1="0" x2="0" y2="1"><stop offset="0.000" stop-color="#0052ff"/><stop offset="0.062" stop-color="#0064ff"/><stop offset="0.125" stop-color="#0076ff"/><stop offset="0.187" stop-color="#0089ff"/><stop offset="0.250" stop-color="#009eff"/><stop offset="0.312" stop-color="#00b2ff"/><stop offset="0.375" stop-color="#00cdff"/><stop offset="0.438" stop-color="#01e7f6"/><stop offset="0.500" stop-color="#16ffe1"/><stop offset="0.563" stop-color="#2affcd"/><stop offset="0.625" stop-color="#3dffb9"/><stop offset="0.687" stop-color="#55ffa2"/><stop offset="0.750" stop-color="#6cff8b"/><stop offset="0.812" stop-color="#82ff75"/><stop offset="0.875" stop-color="#97ff5f"/><stop offset="0.938" stop-color="#adff4a"/><stop offset="1.000" stop-color="#b9ff3e"/></linearGradient><linearGradient id="s183" x1="0" y1="0" x2="0" y2="1"><stop offset="0.000" stop-color="#0052ff"/><stop offset="0.062" stop-color="#0064ff"/><stop offset="0.125" stop-color="#0076ff"/><stop offset="0.187" stop-color="#0089ff"/><stop offset="0.250" stop-color="#009eff"/><stop offset="0.312" stop-color="#00b2ff"/><stop offset="0.375" stop-color="#00cdff"/><stop offset="0.438" stop-color="#01e7f6"/><stop offset="0.500" stop-color="#16ffe1"/><stop offset="0.563" stop-color="#2affcd"/><stop offset="0.625" stop-color="#3dffb9"/><stop offset="0.687" stop-color="#55ffa2"/><stop offset="0.750" stop-color="#6cff8b"/><stop offset="0.812" stop-color="#82ff75"/><stop offset="0.875" stop-color="#97ff5f"/><stop offset="0.938" stop-color="#adff4a"/><stop offset="1.000" stop-color="#b9ff3e"/></linearGradient><linearGradient id="s184" x1="0" y1="0" x2="0" y2="1"><stop offset="0.000" stop-color="#0052ff"/><stop offset="0.062" stop-color="#0064ff"/><stop offset="0.125" stop-color="#0076ff"/><stop offset="0.187" stop-color="#0089ff"/><stop offset="0.250" stop-color="#009eff"/><stop offset="0.312" stop-color="#00b2ff"/><stop offset="0.375" stop-color="#00cdff"/><stop offset="0.438" stop-color="#01e7f5"/><stop offset="0.500" stop-color="#16ffe1"/><stop offset="0.563" stop-color="#2affcd"/><stop offset="0.625" stop-color="#3effb9"/><stop offset="0.687" stop-color="#55ffa2"/><stop offset="0.750" stop-color="#6cff8b"/><stop offset="0.812" stop-color="#82ff75"/><stop offset="0.875" stop-color="#97ff5f"/><stop offset="0.938" stop-color="#adff4a"/><stop offset="1.000" stop-color="#b9ff3e"/></linearGradient><linearGradient id="s185" x1="0" y1="0" x2="0" y2="1"><stop offset="0.000" stop-color="#0052ff"/><stop offset="0.062" stop-color="#0064ff"/><stop offset="0.125" stop-color="#0076ff"/><stop offset="0.187" stop-color="#0089ff"/><stop offset="0.250" stop-color="#009eff"/><stop offset="0.312" stop-color="#00b2ff"/><stop offset="0.375" stop-color="#00cdff"/><stop offset="0.438" stop-color="#01e7f5"/><stop offset="0.500" stop-color="#16ffe1"/><stop offset="0.563" stop-color="#2affcd"/><stop offset="0.625" stop-color="#3effb9"/><stop offset="0.687" stop-color="#55ffa2"/><stop offset="0.750" stop-color="#6cff8b"/><stop offset="0.812" stop-color="#82ff75"/><stop offset="0.875" stop-color="#97ff5f"/><stop offset="0.938" stop-color="#adff4a"/><stop offset="1.000" stop-color="#b9ff3e"/></linearGradient><linearGradient id="s186" x1="0" y1="0" x2="0" y2="1"><stop offset="0.000" stop-color="#0052ff"/><stop offset="0.062" stop-color="#0064ff"/><stop offset="0.125" stop-color="#0076ff"/><stop offset="0.187" stop-color="#008aff"/><stop offset="0.250" stop-color="#009eff"/><stop offset="0.312" stop-color="#00b2ff"/><stop offset="0.375" stop-color="#00cdff"/><stop offset="0.438" stop-color="#01e7f5"/><stop offset="0.500" stop-color="#16ffe1"/><stop offset="0.563" stop-color="#2affcd"/><stop offset="0.625" stop-color="#3effb9"/><stop offset="0.687" stop-color="#55ffa2"/><stop offset="0.750" stop-color="#6cff8b"/><stop offset="0.812" stop-color="#82ff75"/><stop offset="0.875" stop-color="#97ff5f"/><stop offset="0.938" stop-color="#adff4a"/><stop offset="1.000" stop-color="#b9ff3e"/></linearGradient><linearGradient id="s187" x1="0" y1="0" x2="0" y2="1"><stop offset="0.000" stop-color="#0052ff"/><stop offset="0.062" stop-color="#0064ff"/><stop offset="0.125" stop-color="#0076ff"/><stop offset="0.187" stop-color="#008aff"/><stop offset="0.250" stop-color="#009eff"/><stop offset="0.312" stop-color="#00b2ff"/><stop offset="0.375" stop-color="#00cdff"/><stop offset="0.438" stop-color="#01e7f5"/><stop offset="0.500" stop-color="#16ffe1"/><stop offset="0.563" stop-color="#2affcd"/><stop offset="0.625" stop-color="#3effb9"/><stop offset="0.687" stop-color="#55ffa2"/><stop offset="0.750" stop-color="#6cff8b"/><stop offset="0.812" stop-color="#82ff75"/><stop offset="0.875" stop-color="#97ff5f"/><stop offset="0.938" stop-color="#adff4a"/><stop offset="1.000" stop-color="#b9ff3e"/></linearGradient><linearGradient id="s188" x1="0" y1="0" x2="0" y2="1"><stop offset="0.000" stop-color="#0052ff"/><stop offset="0.062" stop-color="#0064ff"/><stop offset="0.125" stop-color="#0076ff"/><stop offset="0.187" stop-color="#008aff"/><stop offset="0.250" stop-color="#009eff"/><stop offset="0.312" stop-color="#00b2ff"/><stop offset="0.375" stop-color="#00cdff"/><stop offset="0.438" stop-color="#01e7f5"/><stop offset="0.500" stop-color="#16ffe1"/><stop offset="0.563" stop-color="#2affcd"/><stop offset="0.625" stop-color="#3effb9"/><stop offset="0.687" stop-color="#55ffa2"/><stop offset="0.750" stop-color="#6cff8b"/><stop offset="0.812" stop-color="#82ff75"/><stop offset="0.875" stop-color="#97ff5f"/><stop offset="0.938" stop-color="#adff4a"/><stop offset="1.000" stop-color="#b9ff3e"/></linearGradient><linearGradient id="s189" x1="0" y1="0" x2="0" y2="1"><stop offset="0.000" stop-color="#0052ff"/><stop offset="0.062" stop-color="#0064ff"/><stop offset="0.125" stop-color="#0076ff"/><stop offset="0.187" stop-color="#008aff"/><stop offset="0.250" stop-color="#009eff"/><stop offset="0.312" stop-color="#00b2ff"/><stop offset="0.375" stop-color="#00cdff"/><stop offset="0.438" stop-color="#01e7f5"/><stop offset="0.500" stop-color="#16ffe1"/><stop offset="0.563" stop-color="#2affcd"/><stop offset="0.625" stop-color="#3effb9"/><stop offset="0.687" stop-color="#55ffa2"/><stop offset="0.750" stop-color="#6cff8b"/><stop offset="0.812" stop-color="#82ff75"/><stop offset="0.875" stop-color="#97ff5f"/><stop offset="0.938" stop-color="#adff4a"/><stop offset="1.000" stop-color="#b9ff3e"/></linearGradient><linearGradient id="s190" x1="0" y1="0" x2="0" y2="1"><stop offset="0.000" stop-color="#0052ff"/><stop offset="0.062" stop-color="#0064ff"/><stop offset="0.125" stop-color="#0076ff"/><stop offset="0.187" stop-color="#008aff"/><stop offset="0.250" stop-color="#009eff"/><stop offset="0.312" stop-color="#00b2ff"/><stop offset="0.375" stop-color="#00cdff"/><stop offset="0.438" stop-color="#01e7f5"/><stop offset="0.500" stop-color="#16ffe1"/><stop offset="0.563" stop-color="#2affcd"/><stop offset="0.625" stop-color="#3effb9"/><stop offset="0.687" stop-color="#55ffa2"/><stop offset="0.750" stop-color="#6cff8b"/><stop offset="0.812" stop-color="#82ff75"/><stop offset="0.875" stop-color="#97ff5f"/><stop offset="0.938" stop-color="#adff4a"/><stop offset="1.000" stop-color="#b9ff3e"/></linearGradient><linearGradient id="s191" x1="0" y1="0" x2="0" y2="1"><stop offset="0.000" stop-color="#0052ff"/><stop offset="0.062" stop-color="#0064ff"/><stop offset="0.125" stop-color="#0076ff"/><stop offset="0.187" stop-color="#008aff"/><stop offset="0.250" stop-color="#009eff"/><stop offset="0.312" stop-color="#00b2ff"/><stop offset="0.375" stop-color="#00cdff"/><stop offset="0.438" stop-color="#01e7f5"/><stop offset="0.500" stop-color="#16ffe1"/><stop offset="0.563" stop-color="#2affcd"/><stop offset="0.625" stop-color="#3effb9"/><stop offset="0.687" stop-color="#55ffa2"/><stop offset="0.750" stop-color="#6cff8b"/><stop offset="0.812" stop-color="#82ff75"/><stop offset="0.875" stop-color="#97ff5f"/><stop offset="0.938" stop-color="#adff4a"/><stop offset="1.000" stop-color="#b9ff3e"/></linearGradient><linearGradient id="s192" x1="0" y1="0" x2="0" y2="1"><stop offset="0.000" stop-color="#0052ff"/><stop offset="0.062" stop-color="#0064ff"/><stop offset="0.125" stop-color="#0076ff"/><stop offset="0.187" stop-color="#008aff"/><stop offset="0.250" stop-color="#009eff"/><stop offset="0.312" stop-color="#00b2ff"/><stop offset="0.375" stop-color="#00cdff"/><stop offset="0.438" stop-color="#01e7f5"/><stop offset="0.500" stop-color="#16ffe1"/><stop offset="0.563" stop-color="#2affcd"/><stop offset="0.625" stop-color="#3effb9"/><stop offset="0.687" stop-color="#55ffa2"/><stop offset="0.750" stop-color="#6cff8b"/><stop offset="0.812" stop-color="#82ff75"/><stop offset="0.875" stop-color="#97ff5f"/><stop offset="0.938" stop-color="#adff4a"/><stop offset="1.000" stop-color="#b9ff3e"/></linearGradient><linearGradient id="s193" x1="0" y1="0" x2="0" y2="1"><stop offset="0.000" stop-color="#0052ff"/><stop offset="0.062" stop-color="#0064ff"/><stop offset="0.125" stop-color="#0076ff"/><stop offset="0.187" stop-color="#008aff"/><stop offset="0.250" stop-color="#009eff"/><stop offset="0.312" stop-color="#00b2ff"/><stop offset="0.375" stop-color="#00cdff"/><stop offset="0.438" stop-color="#01e7f5"/><stop offset="0.500" stop-color="#16ffe1"/><stop offset="0.563" stop-color="#2affcd"/><stop offset="0.625" stop-color="#3effb9"/><stop offset="0.687" stop-color="#55ffa2"/><stop offset="0.750" stop-color="#6cff8b"/><stop offset="0.812" stop-color="#82ff75"/><stop offset="0.875" stop-color="#97ff5f"/><stop offset="0.938" stop-color="#adff4a"/><stop offset="1.000" stop-color="#b9ff3e"/></linearGradient><linearGradient id="s194" x1="0" y1="0" x2="0" y2="1"><stop offset="0.000" stop-color="#0052ff"/><stop offset="0.062" stop-color="#0064ff"/><stop offset="0.125" stop-color="#0076ff"/><stop offset="0.187" stop-color="#008aff"/><stop offset="0.250" stop-color="#009eff"/><stop offset="0.312" stop-color="#00b2ff"/><stop offset="0.375" stop-color="#00cdff"/><stop offset="0.438" stop-color="#01e7f5"/><stop offset="0.500" stop-color="#16ffe1"/><stop offset="0.563" stop-color="#2affcd"/><stop offset="0.625" stop-color="#3effb9"/><stop offset="0.687" stop-color="#55ffa2"/><stop offset="0.750" stop-color="#6cff8b"/><stop offset="0.812" stop-color="#82ff75"/><stop offset="0.875" stop-color="#97ff5f"/><stop offset="0.938" stop-color="#adff4a"/><stop offset="1.000" stop-color="#b9ff3e"/></linearGradient><linearGradient id="s195" x1="0" y1="0" x2="0" y2="1"><stop offset="0.000" stop-color="#0052ff"/><stop offset="0.062" stop-color="#0064ff"/><stop offset="0.125" stop-color="#0076ff"/><stop offset="0.187" stop-color="#008aff"/><stop offset="0.250" stop-color="#009eff"/><stop offset="0.312" stop-color="#00b2ff"/><stop offset="0.375" stop-color="#00cdff"/><stop offset="0.438" stop-color="#01e7f5"/><stop offset="0.500" stop-color="#16ffe1"/><stop offset="0.563" stop-color="#2affcd"/><stop offset="0.625" stop-color="#3effb9"/><stop offset="0.687" stop-color="#55ffa2"/><stop offset="0.750" stop-color="#6cff8b"/><stop offset="0.812" stop-color="#82ff75"/><stop offset="0.875" stop-color="#97ff5f"/><stop offset="0.938" stop-color="#adff4a"/><stop offset="1.000" stop-color="#b9ff3e"/></linearGradient></defs>
<rect x="492" y="167.5" width="1.5" height="92" fill="url(#s1)"/>
<rect x="493" y="167.5" width="1.5" height="92" fill="url(#s2)"/>
<rect x="494" y="167.5" width="1.5" height="92" fill="url(#s3)"/>
<rect x="495" y="167.5" width="1.5" height="92" fill="url(#s4)"/>
<rect x="496" y="167.5" width="1.5" height="92" fill="url(#s5)"/>
<rect x="497" y="167.5" width="1.5" height="92" fill="url(#s6)"/>
<rect x="498" y="167.5" width="1.5" height="92" fill="url(#s7)"/>
<rect x="499" y="167.5" width="1.5" height="92" fill="url(#s8)"/>
<rect x="500" y="167.5" width="1.5" height="92" fill="url(#s9)"/>
<rect x="501" y="167.5" width="1.5" height="92" fill="url(#s10)"/>
<rect x="502" y="167.5" width="1.5" height="92" fill="url(#s11)"/>
<rect x="503" y="167.5" width="1.5" height="92" fill="url(#s12)"/>
<rect x="504" y="167.5" width="1.5" height="92" fill="url(#s13)"/>
<rect x="505" y="167.5" width="1.5" height="92" fill="url(#s14)"/>
<rect x="506" y="167.5" width="1.5" height="92" fill="url(#s15)"/>
<rect x="507" y="167.5" width="1.5" height="92" fill="url(#s16)"/>
<rect x="508" y="167.5" width="1.3" height="92" fill="url(#s17)"/>
<rect x="508.8" y="167.5" width="1.7" height="92" fill="url(#s18)"/>
<rect x="510" y="167.5" width="1.5" height="92" fill="url(#s19)"/>
<rect x="511" y="167.5" width="1.5" height="92" fill="url(#s20)"/>
<rect x="512" y="167.5" width="1.5" height="92" fill="url(#s21)"/>
<rect x="513" y="167.5" width="1.5" height="92" fill="url(#s22)"/>
<rect x="514" y="167.5" width="1.5" height="92" fill="url(#s23)"/>
<rect x="515" y="167.5" width="1.5" height="92" fill="url(#s24)"/>
<rect x="516" y="167.5" width="1.5" height="92" fill="url(#s25)"/>
<rect x="517" y="167.5" width="1.5" height="92" fill="url(#s26)"/>
<rect x="518" y="167.5" width="1.5" height="92" fill="url(#s27)"/>
<rect x="519" y="167.5" width="1.5" height="92" fill="url(#s28)"/>
<rect x="520" y="167.5" width="1.5" height="92" fill="url(#s29)"/>
<rect x="521" y="167.5" width="1.5" height="92" fill="url(#s30)"/>
<rect x="522" y="167.5" width="1.5" height="92" fill="url(#s31)"/>
<rect x="523" y="167.5" width="1.5" height="92" fill="url(#s32)"/>
<rect x="524" y="167.5" width="1.5" height="92" fill="url(#s33)"/>
<rect x="525" y="167.5" width="1.5" height="92" fill="url(#s34)"/>
<rect x="526" y="167.5" width="1.5" height="92" fill="url(#s35)"/>
<rect x="527" y="167.5" width="1.5" height="92" fill="url(#s36)"/>
<rect x="528" y="167.5" width="1.5" height="92" fill="url(#s37)"/>
<rect x="529" y="167.5" width="1.5" height="92" fill="url(#s38)"/>
<rect x="530" y="167.5" width="1.5" height="92" fill="url(#s39)"/>
<rect x="531" y="167.5" width="1.5" height="92" fill="url(#s40)"/>
<rect x="532" y="167.5" width="1.5" height="92" fill="url(#s41)"/>
<rect x="533" y="167.5" width="1.5" height="92" fill="url(#s42)"/>
<rect x="534" y="167.5" width="1.5" height="92" fill="url(#s43)"/>
<rect x="535" y="167.5" width="1.5" height="92" fill="url(#s44)"/>
<rect x="536" y="167.5" width="1.5" height="92" fill="url(#s45)"/>
<rect x="537" y="167.5" width="1.5" height="92" fill="url(#s46)"/>
<rect x="538" y="167.5" width="1.5" height="92" fill="url(#s47)"/>
<rect x="539" y="167.5" width="1.5" height="92" fill="url(#s48)"/>
<rect x="540" y="167.5" width="1.5" height="92" fill="url(#s49)"/>
<rect x="541" y="167.5" width="1.5" height="92" fill="url(#s50)"/>
<rect x="542" y="167.5" width="1.5" height="92" fill="url(#s51)"/>
<rect x="543" y="167.5" width="1.5" height="92" fill="url(#s52)"/>
<rect x="544" y="167.5" width="1.5" height="92" fill="url(#s53)"/>
<rect x="545" y="167.5" width="1.5" height="92" fill="url(#s54)"/>
<rect x="546" y="167.5" width="1.5" height="92" fill="url(#s55)"/>
<rect x="547" y="167.5" width="1.5" height="92" fill="url(#s56)"/>
<rect x="548" y="167.5" width="1.5" height="92" fill="url(#s57)"/>
<rect x="549" y="167.5" width="1.5" height="92" fill="url(#s58)"/>
<rect x="550" y="167.5" width="1.5" height="92" fill="url(#s59)"/>
<rect x="551" y="167.5" width="1.5" height="92" fill="url(#s60)"/>
<rect x="552" y="167.5" width="1.5" height="92" fill="url(#s61)"/>
<rect x="553" y="167.5" width="1.5" height="92" fill="url(#s62)"/>
<rect x="554" y="167.5" width="1.5" height="92" fill="url(#s63)"/>
<rect x="555" y="167.5" width="1.5" height="92" fill="url(#s64)"/>
<rect x="556" y="167.5" width="1.5" height="92" fill="url(#s65)"/>
<rect x="557" y="167.5" width="1.5" height="92" fill="url(#s66)"/>
<rect x="558" y="167.5" width="1.5" height="92" fill="url(#s67)"/>
<rect x="559" y="167.5" width="1.5" height="92" fill="url(#s68)"/>
<rect x="560" y="167.5" width="1.5" height="92" fill="url(#s69)"/>
<rect x="561" y="167.5" width="1.5" height="92" fill="url(#s70)"/>
<rect x="562" y="167.5" width="1.5" height="92" fill="url(#s71)"/>
<rect x="563" y="167.5" width="2.5" height="92" fill="url(#s72)"/>
<rect x="565" y="167.5" width="2.5" height="92" fill="url(#s73)"/>
<rect x="567" y="167.5" width="2.5" height="92" fill="url(#s74)"/>
<rect x="569" y="167.5" width="2.5" height="92" fill="url(#s75)"/>
<rect x="571" y="167.5" width="2.5" height="92" fill="url(#s76)"/>
<rect x="573" y="167.5" width="2.5" height="92" fill="url(#s77)"/>
<rect x="575" y="167.5" width="2.5" height="92" fill="url(#s78)"/>
<rect x="577" y="167.5" width="2.5" height="92" fill="url(#s79)"/>
<rect x="579" y="167.5" width="2.5" height="92" fill="url(#s80)"/>
<rect x="581" y="167.5" width="2.5" height="92" fill="url(#s81)"/>
<rect x="583" y="167.5" width="2.5" height="92" fill="url(#s82)"/>
<rect x="585" y="167.5" width="2.5" height="92" fill="url(#s83)"/>
<rect x="587" y="167.5" width="2.5" height="92" fill="url(#s84)"/>
<rect x="589" y="167.5" width="2.5" height="92" fill="url(#s85)"/>
<rect x="591" y="167.5" width="2.5" height="92" fill="url(#s86)"/>
<rect x="593" y="167.5" width="2.5" height="92" fill="url(#s87)"/>
<rect x="595" y="167.5" width="2.5" height="92" fill="url(#s88)"/>
<rect x="597" y="167.5" width="2.5" height="92" fill="url(#s89)"/>
<rect x="599" y="167.5" width="2.5" height="92" fill="url(#s90)"/>
<rect x="601" y="167.5" width="2.5" height="92" fill="url(#s91)"/>
<rect x="603" y="167.5" width="2.5" height="92" fill="url(#s92)"/>
<rect x="605" y="167.5" width="2.5" height="92" fill="url(#s93)"/>
<rect x="607" y="167.5" width="2.5" height="92" fill="url(#s94)"/>
<rect x="609" y="167.5" width="2.5" height="92" fill="url(#s95)"/>
<rect x="611" y="167.5" width="2.5" height="92" fill="url(#s96)"/>
<rect x="613" y="167.5" width="2.5" height="92" fill="url(#s97)"/>
<rect x="615" y="167.5" width="2.5" height="92" fill="url(#s98)"/>
<rect x="617" y="167.5" width="2.5" height="92" fill="url(#s99)"/>
<rect x="619" y="167.5" width="2.5" height="92" fill="url(#s100)"/>
<rect x="621" y="167.5" width="2.5" height="92" fill="url(#s101)"/>
<rect x="623" y="167.5" width="2.5" height="92" fill="url(#s102)"/>
<rect x="625" y="167.5" width="2.5" height="92" fill="url(#s103)"/>
<rect x="627" y="167.5" width="2.5" height="92" fill="url(#s104)"/>
<rect x="629" y="167.5" width="2.5" height="92" fill="url(#s105)"/>
<rect x="631" y="167.5" width="2.5" height="92" fill="url(#s106)"/>
<rect x="633" y="167.5" width="2.5" height="92" fill="url(#s107)"/>
<rect x="635" y="167.5" width="2.5" height="92" fill="url(#s108)"/>
<rect x="637" y="167.5" width="2.5" height="92" fill="url(#s109)"/>
<rect x="639" y="167.5" width="2.5" height="92" fill="url(#s110)"/>
<rect x="641" y="167.5" width="2.5" height="92" fill="url(#s111)"/>
<rect x="643" y="167.5" width="2.5" height="92" fill="url(#s112)"/>
<rect x="645" y="167.5" width="2.5" height="92" fill="url(#s113)"/>
<rect x="647" y="167.5" width="2.5" height="92" fill="url(#s114)"/>
<rect x="649" y="167.5" width="2.5" height="92" fill="url(#s115)"/>
<rect x="651" y="167.5" width="2.5" height="92" fill="url(#s116)"/>
<rect x="653" y="167.5" width="2.5" height="92" fill="url(#s117)"/>
<rect x="655" y="167.5" width="2.5" height="92" fill="url(#s118)"/>
<rect x="657" y="167.5" width="2.5" height="92" fill="url(#s119)"/>
<rect x="659" y="167.5" width="2.5" height="92" fill="url(#s120)"/>
<rect x="661" y="167.5" width="2.5" height="92" fill="url(#s121)"/>
<rect x="663" y="167.5" width="2.5" height="92" fill="url(#s122)"/>
<rect x="665" y="167.5" width="2.5" height="92" fill="url(#s123)"/>
<rect x="667" y="167.5" width="2.5" height="92" fill="url(#s124)"/>
<rect x="669" y="167.5" width="2.5" height="92" fill="url(#s125)"/>
<rect x="671" y="167.5" width="2.5" height="92" fill="url(#s126)"/>
<rect x="673" y="167.5" width="2.5" height="92" fill="url(#s127)"/>
<rect x="675" y="167.5" width="2.5" height="92" fill="url(#s128)"/>
<rect x="677" y="167.5" width="2.5" height="92" fill="url(#s129)"/>
<rect x="679" y="167.5" width="2.5" height="92" fill="url(#s130)"/>
<rect x="681" y="167.5" width="2.5" height="92" fill="url(#s131)"/>
<rect x="683" y="167.5" width="2.5" height="92" fill="url(#s132)"/>
<rect x="685" y="167.5" width="2.5" height="92" fill="url(#s133)"/>
<rect x="687" y="167.5" width="2.5" height="92" fill="url(#s134)"/>
<rect x="689" y="167.5" width="2.5" height="92" fill="url(#s135)"/>
<rect x="691" y="167.5" width="2.5" height="92" fill="url(#s136)"/>
<rect x="693" y="167.5" width="2.5" height="92" fill="url(#s137)"/>
<rect x="695" y="167.5" width="2.5" height="92" fill="url(#s138)"/>
<rect x="697" y="167.5" width="2.5" height="92" fill="url(#s139)"/>
<rect x="699" y="167.5" width="2.5" height="92" fill="url(#s140)"/>
<rect x="701" y="167.5" width="2.5" height="92" fill="url(#s141)"/>
<rect x="703" y="167.5" width="2.5" height="92" fill="url(#s142)"/>
<rect x="705" y="167.5" width="2.5" height="92" fill="url(#s143)"/>
<rect x="707" y="167.5" width="2.5" height="92" fill="url(#s144)"/>
<rect x="709" y="167.5" width="2.5" height="92" fill="url(#s145)"/>
<rect x="711" y="167.5" width="2.5" height="92" fill="url(#s146)"/>
<rect x="713" y="167.5" width="2.5" height="92" fill="url(#s147)"/>
<rect x="715" y="167.5" width="2.5" height="92" fill="url(#s148)"/>
<rect x="717" y="167.5" width="2.5" height="92" fill="url(#s149)"/>
<rect x="719" y="167.5" width="2.5" height="92" fill="url(#s150)"/>
<rect x="721" y="167.5" width="2.5" height="92" fill="url(#s151)"/>
<rect x="723" y="167.5" width="2.5" height="92" fill="url(#s152)"/>
<rect x="725" y="167.5" width="2.5" height="92" fill="url(#s153)"/>
<rect x="727" y="167.5" width="2.5" height="92" fill="url(#s154)"/>
<rect x="729" y="167.5" width="2.5" height="92" fill="url(#s155)"/>
<rect x="731" y="167.5" width="2.5" height="92" fill="url(#s156)"/>
<rect x="733" y="167.5" width="2.5" height="92" fill="url(#s157)"/>
<rect x="735" y="167.5" width="2.5" height="92" fill="url(#s158)"/>
<rect x="737" y="167.5" width="2.5" height="92" fill="url(#s159)"/>
<rect x="739" y="167.5" width="2.5" height="92" fill="url(#s160)"/>
<rect x="741" y="167.5" width="2.5" height="92" fill="url(#s161)"/>
<rect x="743" y="167.5" width="2.5" height="92" fill="url(#s162)"/>
<rect x="745" y="167.5" width="2.5" height="92" fill="url(#s163)"/>
<rect x="747" y="167.5" width="2.5" height="92" fill="url(#s164)"/>
<rect x="749" y="167.5" width="2.5" height="92" fill="url(#s165)"/>
<rect x="751" y="167.5" width="2.5" height="92" fill="url(#s166)"/>
<rect x="753" y="167.5" width="2.5" height="92" fill="url(#s167)"/>
<rect x="755" y="167.5" width="2.5" height="92" fill="url(#s168)"/>
<rect x="757" y="167.5" width="2.5" height="92" fill="url(#s169)"/>
<rect x="759" y="167.5" width="6.5" height="92" fill="url(#s170)"/>
<rect x="765" y="167.5" width="6.5" height="92" fill="url(#s171)"/>
<rect x="771" y="167.5" width="6.5" height="92" fill="url(#s172)"/>
<rect x="777" y="167.5" width="6.5" height="92" fill="url(#s173)"/>
<rect x="783" y="167.5" width="6.5" height="92" fill="url(#s174)"/>
<rect x="789" y="167.5" width="6.5" height="92" fill="url(#s175)"/>
<rect x="795" y="167.5" width="6.5" height="92" fill="url(#s176)"/>
<rect x="801" y="167.5" width="6.5" height="92" fill="url(#s177)"/>
<rect x="807" y="167.5" width="6.5" height="92" fill="url(#s178)"/>
<rect x="813" y="167.5" width="6.5" height="92" fill="url(#s179)"/>
<rect x="819" y="167.5" width="6.5" height="92" fill="url(#s180)"/>
<rect x="825" y="167.5" width="6.5" height="92" fill="url(#s181)"/>
<rect x="831" y="167.5" width="6.5" height="92" fill="url(#s182)"/>
<rect x="837" y="167.5" width="6.5" height="92" fill="url(#s183)"/>
<rect x="843" y="167.5" width="6.5" height="92" fill="url(#s184)"/>
<rect x="849" y="167.5" width="6.5" height="92" fill="url(#s185)"/>
<rect x="855" y="167.5" width="6.5" height="92" fill="url(#s186)"/>
<rect x="861" y="167.5" width="6.5" height="92" fill="url(#s187)"/>
<rect x="867" y="167.5" width="6.5" height="92" fill="url(#s188)"/>
<rect x="873" y="167.5" width="6.5" height="92" fill="url(#s189)"/>
<rect x="879" y="167.5" width="6.5" height="92" fill="url(#s190)"/>
<rect x="885" y="167.5" width="6.5" height="92" fill="url(#s191)"/>
<rect x="891" y="167.5" width="6.5" height="92" fill="url(#s192)"/>
<rect x="897" y="167.5" width="6.5" height="92" fill="url(#s193)"/>
<rect x="903" y="167.5" width="6.5" height="92" fill="url(#s194)"/>
<rect x="909" y="167.5" width="5" height="92" fill="url(#s195)"/>
<rect x="501.7" y="110" width="3.5" height="54.7" fill="#fff"/>
<rect x="506" y="110" width="4" height="43.8" fill="#fff"/>
<rect x="506" y="110" width="2.1" height="78.7" fill="#fff"/>
<rect x="236.2" y="110" width="0" height="0" fill="#fff"/>
<rect x="231.4" y="110" width="4" height="9.5" fill="#000"/>
<rect x="277" y="110" width="4" height="9.5" fill="#f00"/>
<text x="233.4" y="138.8" font-size="13.6" text-anchor="middle" fill="#000">M</text>
<text x="279" y="138.8" font-size="13.6" text-anchor="middle" fill="#f00">N</text>
<rect x="320.6" y="110" width="4" height="9.5" fill="#000"/>
<rect x="366.2" y="110" width="4" height="9.5" fill="#f00"/>
<text x="322.6" y="138.8" font-size="13.6" text-anchor="middle" fill="#000">M</text>
<text x="368.2" y="138.8" font-size="13.6" text-anchor="middle" fill="#f00">N</text>
<rect x="409.9" y="110" width="4" height="9.5" fill="#000"/>
<rect x="455.5" y="110" width="4" height="9.5" fill="#f00"/>
<text x="411.9" y="138.8" font-size="13.6" text-anchor="middle" fill="#000">M</text>
<text x="457.5" y="138.8" font-size="13.6" text-anchor="middle" fill="#f00">N</text>
<rect x="499.1" y="110" width="2.3" height="9.5" fill="#000"/>
<rect x="544.8" y="110" width="4" height="9.5" fill="#f00"/>
<text x="501.1" y="138.8" font-size="13.6" text-anchor="middle" fill="#000">M</text>
<text x="546.8" y="138.8" font-size="13.6" text-anchor="middle" fill="#f00">N</text>
<rect x="588.4" y="110" width="4" height="9.5" fill="#000"/>
<rect x="634" y="110" width="4" height="9.5" fill="#f00"/>
<text x="590.4" y="138.8" font-size="13.6" text-anchor="middle" fill="#000">M</text>
<text x="636" y="138.8" font-size="13.6" text-anchor="middle" fill="#f00">N</text>
<rect x="677.6" y="110" width="4" height="9.5" fill="#000"/>
<rect x="723.2" y="110" width="4" height="9.5" fill="#f00"/>
<text x="679.6" y="138.8" font-size="13.6" text-anchor="middle" fill="#000">M</text>
<text x="725.2" y="138.8" font-size="13.6" text-anchor="middle" fill="#f00">N</text>
<rect x="766.9" y="110" width="4" height="9.5" fill="#000"/>
<rect x="812.5" y="110" width="4" height="9.5" fill="#f00"/>
<text x="768.9" y="138.8" font-size="13.6" text-anchor="middle" fill="#000">M</text>
<text x="814.5" y="138.8" font-size="13.6" text-anchor="middle" fill="#f00">N</text>
<path d="M200,232.7 L201.5,230.5 L203,228.5 L204.5,226.9 L206,225.8 L207.5,224.8 L209,223.9 L210.5,223 L212,222.3 L213.5,221.7 L215,220.6 L216.5,219.1 L218,217.2 L219.5,214.7 L221,211.8 L222.5,208.7 L224,206.1 L225.5,204.2 L227,203.6 L228.5,203.8 L230,204.6 L231.5,205.1 L233,205.2 L234.5,204.8 L236,204.3 L237.5,203.8 L239,203.4 L240.5,203.1 L242,203.5 L243.5,204.9 L245,207.2 L246.5,209.7 L248,212.4 L249.5,215 L251,217.6 L252.5,219.3 L254,220.3 L255.5,220.9 L257,221.4 L258.5,222 L260,223 L261.5,224.6 L263,226.5 L264.5,228.4 L266,230.4 L267.5,232.2 L269,233.5 L270.5,234.4 L272,235.3 L273.5,236.2 L275,237 L276.5,237.5 L278,237.6 L279.5,237.6 L281,237.6 L282.5,237.6 L284,237.3 L285.5,236.7 L287,235.5 L288.5,233.7 L290,231.6 L291.5,229.4 L293,227.6 L294.5,226.3 L296,225.3 L297.5,224.3 L299,223.4 L300.5,222.7 L302,222 L303.5,221.2 L305,219.9 L306.5,218.2 L308,216 L309.5,213.3 L311,210.2 L312.5,207.3 L314,205.1 L315.5,203.8 L317,203.6 L318.5,204.2 L320,204.9 L321.5,205.2 L323,205 L324.5,204.5 L326,204 L327.5,203.6 L329,203.3 L330.5,203.2 L332,204.1 L333.5,206 L335,208.4 L336.5,211 L338,213.7 L339.5,216.4 L341,218.6 L342.5,219.9 L344,220.6 L345.5,221.1 L347,221.7 L348.5,222.4 L350,223.7 L351.5,225.5 L353,227.5 L354.5,229.4 L356,231.3 L357.5,232.9 L359,234 L360.5,234.9 L362,235.7 L363.5,236.6 L365,237.3 L366.5,237.6 L368,237.6 L369.5,237.6 L371,237.6 L372.5,237.5 L374,237 L375.5,236.1 L377,234.7 L378.5,232.7 L380,230.5 L381.5,228.5 L383,226.9 L384.5,225.8 L386,224.8 L387.5,223.9 L389,223 L390.5,222.3 L392,221.7 L393.5,220.6 L395,219.1 L396.5,217.2 L398,214.7 L399.5,211.8 L401,208.7 L402.5,206.1 L404,204.2 L405.5,203.6 L407,203.8 L408.5,204.6 L410,205.1 L411.5,205.2 L413,204.8 L414.5,204.3 L416,203.8 L417.5,203.4 L419,203.1 L420.5,203.5 L422,204.9 L423.5,207.2 L425,209.7 L426.5,212.4 L428,215 L429.5,217.6 L431,219.3 L432.5,220.3 L434,220.9 L435.5,221.4 L437,222 L438.5,223 L440,224.6 L441.5,226.5 L443,228.4 L444.5,230.4 L446,232.2 L447.5,233.5 L449,234.4 L450.5,235.3 L452,236.2 L453.5,237 L455,237.5 L456.5,237.6 L458,237.6 L459.5,237.6 L461,237.6 L462.5,237.3 L464,236.7 L465.5,235.5 L467,233.7 L468.5,231.6 L470,229.4 L471.5,227.6 L473,226.3 L474.5,225.3 L476,224.3 L477.5,223.4 L479,222.7 L480.5,222 L482,221.2 L483.5,219.9 L485,218.2 L486.5,216 L488,213.3 L489.5,210.2 L491,207.3 L492.5,205.1 L494,203.8 L495.5,203.6 L497,204.2 L498.5,204.9 L500,205.2 L501.5,205 L503,204.5 L504.5,204 L506,203.6 L507.5,203.3 L509,203.2 L510.5,204.1 L512,206 L513.5,208.4 L515,211 L516.5,213.7 L518,216.4 L519.5,218.6 L521,219.9 L522.5,220.6 L524,221.1 L525.5,221.7 L527,222.4 L528.5,223.7 L530,225.5 L531.5,227.5 L533,229.4 L534.5,231.3 L536,232.9 L537.5,234 L539,234.9 L540.5,235.7 L542,236.6 L543.5,237.3 L545,237.6 L546.5,237.6 L548,237.6 L549.5,237.6 L551,237.5 L552.5,237 L554,236.1 L555.5,234.7 L557,232.7 L558.5,230.5 L560,228.5 L561.5,226.9 L563,225.8 L564.5,224.8 L566,223.9 L567.5,223 L569,222.3 L570.5,221.7 L572,220.6 L573.5,219.1 L575,217.2 L576.5,214.7 L578,211.8 L579.5,208.6 L581,206.1 L582.5,204.2 L584,203.6 L585.5,203.8 L587,204.6 L588.5,205.1 L590,205.2 L591.5,204.8 L593,204.3 L594.5,203.8 L596,203.4 L597.5,203.1 L599,203.5 L600.5,204.9 L602,207.2 L603.5,209.7 L605,212.4 L606.5,215 L608,217.6 L609.5,219.3 L611,220.3 L612.5,220.9 L614,221.4 L615.5,222 L617,223 L618.5,224.6 L620,226.5 L621.5,228.5 L623,230.4 L624.5,232.2 L626,233.5 L627.5,234.4 L629,235.3 L630.5,236.2 L632,237 L633.5,237.5 L635,237.6 L636.5,237.6 L638,237.6 L639.5,237.6 L641,237.3 L642.5,236.7 L644,235.5 L645.5,233.7 L647,231.6 L648.5,229.4 L650,227.6 L651.5,226.3 L653,225.3 L654.5,224.3 L656,223.4 L657.5,222.7 L659,222 L660.5,221.2 L662,219.9 L663.5,218.2 L665,216 L666.5,213.3 L668,210.2 L669.5,207.3 L671,205.1 L672.5,203.8 L674,203.6 L675.5,204.2 L677,204.9 L678.5,205.2 L680,205 L681.5,204.5 L683,204 L684.5,203.6 L686,203.3 L687.5,203.2 L689,204.1 L690.5,206 L692,208.4 L693.5,211 L695,213.7 L696.5,216.4 L698,218.6 L699.5,219.9 L701,220.6 L702.5,221.1 L704,221.7 L705.5,222.4 L707,223.7 L708.5,225.5 L710,227.5 L711.5,229.4 L713,231.3 L714.5,232.9 L716,234 L717.5,234.9 L719,235.7 L720.5,236.6 L722,237.3 L723.5,237.6 L725,237.6 L726.5,237.6 L728,237.6 L729.5,237.5 L731,237 L732.5,236.1 L734,234.7 L735.5,232.7 L737,230.5 L738.5,228.5 L740,226.9 L741.5,225.8 L743,224.8 L744.5,223.9 L746,223 L747.5,222.3 L749,221.7 L750.5,220.6 L752,219.1 L753.5,217.2 L755,214.7 L756.5,211.8 L758,208.6 L759.5,206.1 L761,204.2 L762.5,203.6 L764,203.8 L765.5,204.6 L767,205.1 L768.5,205.2 L770,204.8 L771.5,204.3 L773,203.8 L774.5,203.4 L776,203.1 L777.5,203.5 L779,204.9 L780.5,207.2 L782,209.7 L783.5,212.4 L785,215 L786.5,217.6 L788,219.3 L789.5,220.3 L791,220.9 L792.5,221.4 L794,222 L795.5,223 L797,224.6 L798.5,226.5 L800,228.5 L801.5,230.4 L803,232.2 L804.5,233.5 L806,234.4 L807.5,235.3 L809,236.2 L810.5,237 L812,237.5 L813.5,237.6 L815,237.6 L816.5,237.6 L818,237.6 L819.5,237.3 L821,236.7 L822.5,235.5 L824,233.7 L825.5,231.6 L827,229.4 L828.5,227.6 L830,226.3 L831.5,225.3 L833,224.3 L834.5,223.4 L836,222.7 L837.5,222 L839,221.2 L840.5,219.9 L842,218.2 L843.5,216 L845,213.3 L846.5,210.2 L848,207.3 L849.5,205.1 L851,203.8 L852.5,203.6 L854,204.2 L855.5,204.9 L857,205.2 L858.5,205 L860,204.5 L861.5,204 L863,203.6 L864.5,203.3 L866,203.2 L867.5,204.1 L869,206 L870.5,208.4 L872,211 L873.5,213.7 L875,216.4 L876.5,218.6 L878,219.9 L879.5,220.6 L881,221.1 L882.5,221.7 L884,222.4 L885.5,223.7 L887,225.5 L888.5,227.5 L890,229.4 L891.5,231.3 L893,232.9 L894.5,234 L896,234.9 L897.5,235.7 L899,236.6 L900.5,237.3 L902,237.6 L903.5,237.6 L905,237.6 L906.5,237.6 L908,237.5 L909.5,237 L911,236.1 L912.5,234.7 L914,232.7" fill="none" stroke="#000" stroke-width="2.1" stroke-linejoin="round" stroke-dasharray="7.6 3.3"/>
<line x1="825" y1="110" x2="825" y2="455" stroke="#1f77b4" stroke-width="2.0" stroke-dasharray="2.08 3.47"/>
<text x="0" y="0" font-size="64" fill="#000" fill-opacity="0.1" transform="translate(889,424.3) rotate(-90)">Forecast</text>
<rect x="200" y="110" width="714" height="345" fill="none" stroke="#000" stroke-width="2.0"/>
<rect x="248" y="450" width="1" height="4" fill="#000"/>
<rect x="338" y="450" width="1" height="4" fill="#000"/>
<rect x="427" y="450" width="1" height="4" fill="#000"/>
<rect x="516" y="450" width="1" height="4" fill="#000"/>
<rect x="605" y="450" width="1" height="4" fill="#000"/>
<rect x="695" y="450" width="1" height="4" fill="#000"/>
<rect x="784" y="450" width="1" height="4" fill="#000"/>
<rect x="873" y="450" width="1" height="4" fill="#000"/>
<text x="195.7" y="462.2" font-size="20.0" text-anchor="end" fill="#000">2</text>
<rect x="201" y="397" width="4" height="1" fill="#000"/>
<rect x="909" y="397" width="4" height="1" fill="#000"/>
<text x="195.7" y="404.7" font-size="20.0" text-anchor="end" fill="#000">3</text>
<rect x="201" y="340" width="4" height="1" fill="#000"/>
<rect x="909" y="340" width="4" height="1" fill="#000"/>
<text x="195.7" y="347.2" font-size="20.0" text-anchor="end" fill="#000">4</text>
<rect x="201" y="282" width="4" height="1" fill="#000"/>
<rect x="909" y="282" width="4" height="1" fill="#000"/>
<text x="195.7" y="289.7" font-size="20.0" text-anchor="end" fill="#000">5</text>
<rect x="201" y="225" width="4" height="1" fill="#000"/>
<rect x="909" y="225" width="4" height="1" fill="#000"/>
<text x="195.7" y="232.2" font-size="20.0" text-anchor="end" fill="#000">6</text>
<rect x="201" y="167" width="4" height="1" fill="#000"/>
<rect x="909" y="167" width="4" height="1" fill="#000"/>
<text x="195.7" y="174.7" font-size="20.0" text-anchor="end" fill="#000">7</text>
<text x="195.7" y="117.2" font-size="20.0" text-anchor="end" fill="#000">8</text>
<text x="173" y="285.6" font-size="24.0" text-anchor="middle" fill="#000" transform="rotate(-90 173 285.6)">L*</text>
<text x="204" y="93" font-size="24.0" text-anchor="start" fill="#000">&gt;2.0 MeV Electron Flux at 88<tspan dx="4" dy="-10.5" font-size="16.8">∘</tspan><tspan dx="3.5" dy="10.5"> pitch angle ( cm</tspan><tspan dy="-8.4" font-size="16.8">−2</tspan><tspan dx="-1.5" dy="8.4"> s</tspan><tspan dy="-8.4" font-size="16.8">−1</tspan><tspan dx="-1.5" dy="8.4"> sr</tspan><tspan dy="-8.4" font-size="16.8">−1</tspan><tspan dy="8.4"> )</tspan></text>
<rect x="959" y="110" width="17" height="345" fill="url(#gcb)"/>
<rect x="959" y="110" width="17" height="345" fill="none" stroke="#000" stroke-width="2.0"/>
<rect x="977" y="455" width="5" height="1" fill="#000"/>
<text x="987.4" y="462.8" font-size="20.0" text-anchor="start" fill="#000">10<tspan dx="0.8" dy="-7.2" font-size="14">0</tspan></text>
<rect x="977" y="437" width="5" height="1" fill="#000"/>
<rect x="977" y="427" width="5" height="1" fill="#000"/>
<rect x="977" y="420" width="5" height="1" fill="#000"/>
<rect x="977" y="414" width="5" height="1" fill="#000"/>
<rect x="977" y="410" width="5" height="1" fill="#000"/>
<rect x="977" y="406" width="5" height="1" fill="#000"/>
<rect x="977" y="403" width="5" height="1" fill="#000"/>
<rect x="977" y="400" width="5" height="1" fill="#000"/>
<rect x="977" y="397" width="5" height="1" fill="#000"/>
<text x="987.4" y="405.3" font-size="20.0" text-anchor="start" fill="#000">10<tspan dx="0.8" dy="-7.2" font-size="14">1</tspan></text>
<rect x="977" y="380" width="5" height="1" fill="#000"/>
<rect x="977" y="370" width="5" height="1" fill="#000"/>
<rect x="977" y="362" width="5" height="1" fill="#000"/>
<rect x="977" y="357" width="5" height="1" fill="#000"/>
<rect x="977" y="352" width="5" height="1" fill="#000"/>
<rect x="977" y="348" width="5" height="1" fill="#000"/>
<rect x="977" y="345" width="5" height="1" fill="#000"/>
<rect x="977" y="342" width="5" height="1" fill="#000"/>
<rect x="977" y="340" width="5" height="1" fill="#000"/>
<text x="987.4" y="347.8" font-size="20.0" text-anchor="start" fill="#000">10<tspan dx="0.8" dy="-7.2" font-size="14">2</tspan></text>
<rect x="977" y="322" width="5" height="1" fill="#000"/>
<rect x="977" y="312" width="5" height="1" fill="#000"/>
<rect x="977" y="305" width="5" height="1" fill="#000"/>
<rect x="977" y="299" width="5" height="1" fill="#000"/>
<rect x="977" y="295" width="5" height="1" fill="#000"/>
<rect x="977" y="291" width="5" height="1" fill="#000"/>
<rect x="977" y="288" width="5" height="1" fill="#000"/>
<rect x="977" y="285" width="5" height="1" fill="#000"/>
<rect x="977" y="282" width="5" height="1" fill="#000"/>
<text x="987.4" y="290.3" font-size="20.0" text-anchor="start" fill="#000">10<tspan dx="0.8" dy="-7.2" font-size="14">3</tspan></text>
<rect x="977" y="265" width="5" height="1" fill="#000"/>
<rect x="977" y="255" width="5" height="1" fill="#000"/>
<rect x="977" y="247" width="5" height="1" fill="#000"/>
<rect x="977" y="242" width="5" height="1" fill="#000"/>
<rect x="977" y="237" width="5" height="1" fill="#000"/>
<rect x="977" y="233" width="5" height="1" fill="#000"/>
<rect x="977" y="230" width="5" height="1" fill="#000"/>
<rect x="977" y="227" width="5" height="1" fill="#000"/>
<rect x="977" y="225" width="5" height="1" fill="#000"/>
<text x="987.4" y="232.8" font-size="20.0" text-anchor="start" fill="#000">10<tspan dx="0.8" dy="-7.2" font-size="14">4</tspan></text>
<rect x="977" y="207" width="5" height="1" fill="#000"/>
<rect x="977" y="197" width="5" height="1" fill="#000"/>
<rect x="977" y="190" width="5" height="1" fill="#000"/>
<rect x="977" y="184" width="5" height="1" fill="#000"/>
<rect x="977" y="180" width="5" height="1" fill="#000"/>
<rect x="977" y="176" width="5" height="1" fill="#000"/>
<rect x="977" y="173" width="5" height="1" fill="#000"/>
<rect x="977" y="170" width="5" height="1" fill="#000"/>
<rect x="977" y="167" width="5" height="1" fill="#000"/>
<text x="987.4" y="175.3" font-size="20.0" text-anchor="start" fill="#000">10<tspan dx="0.8" dy="-7.2" font-size="14">5</tspan></text>
<rect x="977" y="150" width="5" height="1" fill="#000"/>
<rect x="977" y="140" width="5" height="1" fill="#000"/>
<rect x="977" y="132" width="5" height="1" fill="#000"/>
<rect x="977" y="127" width="5" height="1" fill="#000"/>
<rect x="977" y="122" width="5" height="1" fill="#000"/>
<rect x="977" y="118" width="5" height="1" fill="#000"/>
<rect x="977" y="115" width="5" height="1" fill="#000"/>
<rect x="977" y="112" width="5" height="1" fill="#000"/>
<rect x="977" y="110" width="5" height="1" fill="#000"/>
<text x="987.4" y="117.8" font-size="20.0" text-anchor="start" fill="#000">10<tspan dx="0.8" dy="-7.2" font-size="14">6</tspan></text>
<rect x="825" y="478" width="89" height="344" fill="#d3d3d3"/>
<clipPath id="cm"><rect x="200" y="478" width="714" height="344"/></clipPath>
<g clip-path="url(#cm)">
<text x="0" y="0" font-size="64" fill="#000" fill-opacity="0.1" transform="translate(889,793) rotate(-90)">Forecast</text>
<path d="M200.7,650.9 L203.9,652.2 L206.5,657.9 L209.6,661.1 L212.2,661.7 L213.8,668.7 L215.4,657.9 L219.2,659.8 L222.4,663 L225.5,665.6 L228.1,664.9 L230.6,670 L234.5,672.6 L235.7,668.7 L238.9,666.2 L240.8,658.6 L244,656.6 L245.9,652.2 L249.1,648.4 L251,649 L253.6,645.8 L256.7,640.7 L261.2,635.6 L265,631.8 L268.2,628.6 L269.5,624.8 L271.4,627 L275.2,627.4 L278.4,626.7 L282.8,630.5 L287.9,635.6 L293,640.1 L298.7,642.6 L302.6,647.7 L307.7,650.3 L312.1,654.1 L317.2,655 L322.3,654.5 L327.4,654.1 L332.5,651.6 L337.6,647.7 L342.7,643.9 L347.7,640.1 L352.8,634.4 L356.7,628.6 L360.5,625.5 L365.6,623.5 L370.7,624.2 L375.8,626.7 L379.6,626.1 L384.7,626.7 L387.8,629.3 L391.7,637.6 L394.2,647.1 L397.4,657.3 L399.9,668.1 L401.8,659.8 L403.8,656.6 L405.7,660.5 L406.9,654.7 L410.1,656 L413.3,647.7 L416.5,650.9 L421.6,646.5 L427.9,640.7 L434.3,632.5 L439.4,626.7 L440,627.4 L445.1,622.3 L452.7,619.1 L459.1,621 L465.5,623.5 L469.3,628.6 L474.4,632.5 L478.2,637.6 L480.7,640.7 L482.6,649 L485.8,649.6 L489,652.8 L491.6,656.6 L492.8,662.4 L495,664.3 L496,676.4 L496.6,699.3 L497.7,717.7 L498.8,710.7 L500.5,707.6 L502.4,696.7 L504,689.1 L505.6,698 L507.1,702.5 L509.4,694.8 L511.3,692.9 L512.6,684 L513.6,666.2 L515.1,654.7 L516.4,661.1 L518.3,664.9 L520.8,652.2 L522.7,655.4 L524.3,648.4 L526.6,650.3 L529.1,643.3 L531,635 L532.7,630.5 L536.7,628 L540.6,627.4 L544.4,629.9 L546.9,633.7 L549.5,631.2 L552,634.4 L554.6,637.6 L556.5,642 L559.7,645.8 L562.8,649.6 L566,654.7 L568.6,650.3 L569.8,652.2 L571.1,660.5 L573,668.7 L574.9,670 L576.8,674.5 L578.7,672.6 L581.3,673.8 L584.5,676.4 L587.7,677 L589.2,683.4 L590.8,677.6 L592.1,673.8 L595.3,673.2 L598.5,666.2 L602.3,660.5 L604.2,670.6 L606.8,654.7 L608.7,654.1 L610.6,643.3 L613.1,640.7 L615.4,640.1 L616.9,633.1 L619.5,627.4 L621.8,629.3 L623.9,638.2 L625.8,639.5 L629,636.3 L632.2,638.2 L635.4,642 L637.3,647.1 L640.5,649 L643.7,650.9 L646.2,657.3 L648.8,662.4 L650.7,675.1 L652.3,672.6 L653.8,673.8 L656.4,680.2 L659.6,682.1 L662.8,684 L664.7,689.1 L667.9,695.5 L671,701.8 L673.6,705 L676.8,702.5 L679.9,698 L680,699.9 L682.5,694.8 L686.4,693.6 L689.5,687.8 L692.1,681.5 L695.3,670.6 L699.1,666.8 L702.9,657.9 L706.1,649 L708.6,649.6 L711.8,647.7 L715.6,644.3 L720.7,643.9 L724.6,643.3 L729,644.3 L732.8,643.3 L736,646.5 L737.9,645.2 L740.5,653.5 L742.4,670 L744.9,675.1 L748.1,677.6 L750.6,686.6 L752.6,692.9 L754.1,701.2 L755.4,698 L757,688.5 L759.6,685.9 L762.1,684.6 L764.6,687.8 L766.6,693.6 L768.2,697.4 L769.7,691.6 L771,694.8 L772.9,687.2 L775.5,682.7 L778,678.3 L779.3,671.3 L781.8,668.1 L784.4,664.3 L788.2,661.1 L792,658.6 L794.6,656 L797.7,655.4 L800.9,652.2 L803.5,649 L807.3,649 L811.1,650 L815.6,649 L820,651.6 L825.1,654.7" fill="none" stroke="#000" stroke-width="2.1" stroke-linejoin="round"/>
<path d="M200.7,634.4 L203.3,638.2 L206.5,641.4 L211.5,643.3 L216,645.8 L219.2,653.5 L222.4,660.5 L225.5,664.9 L228.7,665.6 L231.3,663 L233.8,663 L237,666.2 L240.2,668.7 L243.4,667.5 L247.2,658.6 L251,650.9 L254.8,648.4 L258.6,647.7 L262.5,645.8 L266.9,639.5 L270.7,635 L274.6,633.5 L279,633.1 L284.1,634.4 L289.2,638.2 L294.3,645.8 L298.1,649 L301.9,649.6 L305.7,652.2 L309.6,659.8 L313.4,666.8 L315.9,668.7 L319.1,666.8 L322.3,665.6 L326.1,666.8 L329.9,669.1 L333.1,667.5 L336.3,662.4 L340.1,655.4 L343.9,651.6 L347.7,650.9 L352.2,647.7 L356,642.6 L359.2,638.2 L364.3,636.5 L369.4,636.5 L374.5,636.9 L378.3,640.1 L382.1,645.8 L385.9,650.3 L389.8,651.9 L393.6,652.8 L397.4,658.6 L400.6,666.2 L403.8,669.4 L407.6,668.1 L411.4,666.4 L415.2,668.7 L419.7,671 L424.1,666.2 L429.2,657.3 L433,653.5 L438.1,652.6 L440,651.6 L443.8,647.1 L448.9,640.1 L454,638.2 L459.1,638.4 L464.2,638.8 L467.4,641.4 L471.2,647.1 L475,651.9 L478.2,652.8 L482,653.7 L485.2,657.3 L489,664.9 L492.2,669.4 L496,670.6 L499.2,669.4 L500.1,678.9 L501.1,673.2 L503.6,674.5 L506.2,677.6 L508.4,680.2 L508.7,701.8 L508.9,825 L515.1,825 L516.3,795.4 L518.4,778.2 L521,760.9 L523.5,750.5 L527,740.2 L529.6,728.1 L532.2,714.3 L534.8,697 L536.5,684.9 L539.9,675.1 L543.1,671.9 L547.6,669.8 L552,668.7 L555.2,670.6 L557.7,677.6 L560.3,686.6 L564.1,692.9 L567.3,694.5 L569.8,693.8 L573.7,696.1 L577.5,699.9 L581.3,700.8 L586.4,699.9 L590.8,698.7 L594.7,699.7 L598.5,700.6 L602.3,697.4 L605.5,691.6 L609.3,684.6 L613.1,680.8 L616.9,679.6 L620.8,675.1 L623.9,669.4 L627.1,662.4 L629.7,658.6 L633.5,656.4 L637.9,656 L641.8,656 L644.9,658.6 L648.8,664.3 L652.6,669.4 L656.4,671.9 L660.2,672.6 L664,676.4 L667.9,685.3 L671,692.9 L673.6,694.8 L676.8,692.9 L679.9,691.9 L680,692.3 L682.5,694.2 L685.1,697.4 L687.6,698 L690.2,694.8 L693.4,686.6 L696.5,678.9 L700.4,675.1 L705.5,673.8 L708.6,671.3 L711.8,666.2 L715,659.8 L718.2,656.3 L722,655.5 L727.1,656 L731.6,656.6 L734.7,659.8 L738.6,668.7 L742.4,675.1 L746.2,677.6 L750,679.6 L753.2,684 L756.4,694.2 L759.6,701.8 L762.7,704.6 L765.9,701.2 L769.1,699.7 L772.3,701.8 L775.5,705.4 L778.7,703.7 L781.8,694.8 L785.7,685.3 L788.8,680.4 L792,679.6 L795.8,678 L799.7,673.2 L803.5,665.6 L807.3,660.5 L811.1,659.2 L816.2,658.9 L821.3,659.6 L824.5,662.4 L827.7,670 L831.5,677 L834.7,679.8 L838.5,680.2 L842.3,685.3 L845.5,694.2 L848.7,701.8 L851.2,705 L854.4,702.5 L857.6,700.8 L860.8,702.5 L864.6,705.7 L867.8,704.1 L870.9,696.7 L874.8,686.6 L878.6,681.5 L883.7,680.2 L888.8,675.1 L892.6,668.1 L896.4,663 L900.2,661.5 L905.3,661.7 L909.1,662 L912.9,664.9" fill="none" stroke="#f00" stroke-width="2.1" stroke-linejoin="round"/>
</g>
<line x1="825" y1="478" x2="825" y2="822" stroke="#1f77b4" stroke-width="2.0" stroke-dasharray="2.08 3.47"/>
<rect x="200" y="478" width="714" height="344" fill="none" stroke="#000" stroke-width="2.0"/>
<rect x="248" y="817" width="1" height="4" fill="#000"/>
<rect x="338" y="817" width="1" height="4" fill="#000"/>
<rect x="427" y="817" width="1" height="4" fill="#000"/>
<rect x="516" y="817" width="1" height="4" fill="#000"/>
<rect x="605" y="817" width="1" height="4" fill="#000"/>
<rect x="695" y="817" width="1" height="4" fill="#000"/>
<rect x="784" y="817" width="1" height="4" fill="#000"/>
<rect x="873" y="817" width="1" height="4" fill="#000"/>
<text x="195.4" y="829.8" font-size="20.0" text-anchor="end" fill="#000">10<tspan dx="0.8" dy="-7.2" font-size="14">0</tspan></text>
<rect x="201" y="804" width="3" height="1" fill="#000"/>
<rect x="910" y="804" width="3" height="1" fill="#000"/>
<rect x="201" y="794" width="3" height="1" fill="#000"/>
<rect x="910" y="794" width="3" height="1" fill="#000"/>
<rect x="201" y="787" width="3" height="1" fill="#000"/>
<rect x="910" y="787" width="3" height="1" fill="#000"/>
<rect x="201" y="781" width="3" height="1" fill="#000"/>
<rect x="910" y="781" width="3" height="1" fill="#000"/>
<rect x="201" y="777" width="3" height="1" fill="#000"/>
<rect x="910" y="777" width="3" height="1" fill="#000"/>
<rect x="201" y="773" width="3" height="1" fill="#000"/>
<rect x="910" y="773" width="3" height="1" fill="#000"/>
<rect x="201" y="770" width="3" height="1" fill="#000"/>
<rect x="910" y="770" width="3" height="1" fill="#000"/>
<rect x="201" y="767" width="3" height="1" fill="#000"/>
<rect x="910" y="767" width="3" height="1" fill="#000"/>
<rect x="201" y="764" width="5" height="1" fill="#000"/>
<rect x="908" y="764" width="5" height="1" fill="#000"/>
<text x="195.4" y="772.5" font-size="20.0" text-anchor="end" fill="#000">10<tspan dx="0.8" dy="-7.2" font-size="14">1</tspan></text>
<rect x="201" y="747" width="3" height="1" fill="#000"/>
<rect x="910" y="747" width="3" height="1" fill="#000"/>
<rect x="201" y="737" width="3" height="1" fill="#000"/>
<rect x="910" y="737" width="3" height="1" fill="#000"/>
<rect x="201" y="730" width="3" height="1" fill="#000"/>
<rect x="910" y="730" width="3" height="1" fill="#000"/>
<rect x="201" y="724" width="3" height="1" fill="#000"/>
<rect x="910" y="724" width="3" height="1" fill="#000"/>
<rect x="201" y="720" width="3" height="1" fill="#000"/>
<rect x="910" y="720" width="3" height="1" fill="#000"/>
<rect x="201" y="716" width="3" height="1" fill="#000"/>
<rect x="910" y="716" width="3" height="1" fill="#000"/>
<rect x="201" y="712" width="3" height="1" fill="#000"/>
<rect x="910" y="712" width="3" height="1" fill="#000"/>
<rect x="201" y="709" width="3" height="1" fill="#000"/>
<rect x="910" y="709" width="3" height="1" fill="#000"/>
<rect x="201" y="707" width="5" height="1" fill="#000"/>
<rect x="908" y="707" width="5" height="1" fill="#000"/>
<text x="195.4" y="715.1" font-size="20.0" text-anchor="end" fill="#000">10<tspan dx="0.8" dy="-7.2" font-size="14">2</tspan></text>
<rect x="201" y="690" width="3" height="1" fill="#000"/>
<rect x="910" y="690" width="3" height="1" fill="#000"/>
<rect x="201" y="679" width="3" height="1" fill="#000"/>
<rect x="910" y="679" width="3" height="1" fill="#000"/>
<rect x="201" y="672" width="3" height="1" fill="#000"/>
<rect x="910" y="672" width="3" height="1" fill="#000"/>
<rect x="201" y="667" width="3" height="1" fill="#000"/>
<rect x="910" y="667" width="3" height="1" fill="#000"/>
<rect x="201" y="662" width="3" height="1" fill="#000"/>
<rect x="910" y="662" width="3" height="1" fill="#000"/>
<rect x="201" y="658" width="3" height="1" fill="#000"/>
<rect x="910" y="658" width="3" height="1" fill="#000"/>
<rect x="201" y="655" width="3" height="1" fill="#000"/>
<rect x="910" y="655" width="3" height="1" fill="#000"/>
<rect x="201" y="652" width="3" height="1" fill="#000"/>
<rect x="910" y="652" width="3" height="1" fill="#000"/>
<rect x="201" y="650" width="5" height="1" fill="#000"/>
<rect x="908" y="650" width="5" height="1" fill="#000"/>
<text x="195.4" y="657.8" font-size="20.0" text-anchor="end" fill="#000">10<tspan dx="0.8" dy="-7.2" font-size="14">3</tspan></text>
<rect x="201" y="632" width="3" height="1" fill="#000"/>
<rect x="910" y="632" width="3" height="1" fill="#000"/>
<rect x="201" y="622" width="3" height="1" fill="#000"/>
<rect x="910" y="622" width="3" height="1" fill="#000"/>
<rect x="201" y="615" width="3" height="1" fill="#000"/>
<rect x="910" y="615" width="3" height="1" fill="#000"/>
<rect x="201" y="609" width="3" height="1" fill="#000"/>
<rect x="910" y="609" width="3" height="1" fill="#000"/>
<rect x="201" y="605" width="3" height="1" fill="#000"/>
<rect x="910" y="605" width="3" height="1" fill="#000"/>
<rect x="201" y="601" width="3" height="1" fill="#000"/>
<rect x="910" y="601" width="3" height="1" fill="#000"/>
<rect x="201" y="598" width="3" height="1" fill="#000"/>
<rect x="910" y="598" width="3" height="1" fill="#000"/>
<rect x="201" y="595" width="3" height="1" fill="#000"/>
<rect x="910" y="595" width="3" height="1" fill="#000"/>
<rect x="201" y="592" width="5" height="1" fill="#000"/>
<rect x="908" y="592" width="5" height="1" fill="#000"/>
<text x="195.4" y="600.5" font-size="20.0" text-anchor="end" fill="#000">10<tspan dx="0.8" dy="-7.2" font-size="14">4</tspan></text>
<rect x="201" y="575" width="3" height="1" fill="#000"/>
<rect x="910" y="575" width="3" height="1" fill="#000"/>
<rect x="201" y="565" width="3" height="1" fill="#000"/>
<rect x="910" y="565" width="3" height="1" fill="#000"/>
<rect x="201" y="558" width="3" height="1" fill="#000"/>
<rect x="910" y="558" width="3" height="1" fill="#000"/>
<rect x="201" y="552" width="3" height="1" fill="#000"/>
<rect x="910" y="552" width="3" height="1" fill="#000"/>
<rect x="201" y="548" width="3" height="1" fill="#000"/>
<rect x="910" y="548" width="3" height="1" fill="#000"/>
<rect x="201" y="544" width="3" height="1" fill="#000"/>
<rect x="910" y="544" width="3" height="1" fill="#000"/>
<rect x="201" y="540" width="3" height="1" fill="#000"/>
<rect x="910" y="540" width="3" height="1" fill="#000"/>
<rect x="201" y="537" width="3" height="1" fill="#000"/>
<rect x="910" y="537" width="3" height="1" fill="#000"/>
<rect x="201" y="535" width="5" height="1" fill="#000"/>
<rect x="908" y="535" width="5" height="1" fill="#000"/>
<text x="195.4" y="543.1" font-size="20.0" text-anchor="end" fill="#000">10<tspan dx="0.8" dy="-7.2" font-size="14">5</tspan></text>
<rect x="201" y="518" width="3" height="1" fill="#000"/>
<rect x="910" y="518" width="3" height="1" fill="#000"/>
<rect x="201" y="507" width="3" height="1" fill="#000"/>
<rect x="910" y="507" width="3" height="1" fill="#000"/>
<rect x="201" y="500" width="3" height="1" fill="#000"/>
<rect x="910" y="500" width="3" height="1" fill="#000"/>
<rect x="201" y="495" width="3" height="1" fill="#000"/>
<rect x="910" y="495" width="3" height="1" fill="#000"/>
<rect x="201" y="490" width="3" height="1" fill="#000"/>
<rect x="910" y="490" width="3" height="1" fill="#000"/>
<rect x="201" y="486" width="3" height="1" fill="#000"/>
<rect x="910" y="486" width="3" height="1" fill="#000"/>
<rect x="201" y="483" width="3" height="1" fill="#000"/>
<rect x="910" y="483" width="3" height="1" fill="#000"/>
<rect x="201" y="480" width="3" height="1" fill="#000"/>
<rect x="910" y="480" width="3" height="1" fill="#000"/>
<text x="195.4" y="485.8" font-size="20.0" text-anchor="end" fill="#000">10<tspan dx="0.8" dy="-7.2" font-size="14">6</tspan></text>
<text x="236" y="512.2" font-size="24.0" text-anchor="start" fill="#000">Geostationary orbit:   GOES 15,</text>
<text x="628.5" y="512.2" font-size="24.0" text-anchor="start" fill="#f00">Model</text>
<text x="113" y="650" font-size="24.0" text-anchor="middle" fill="#000" transform="rotate(-90 113 650)">&gt;2.0 MeV Electron Flux</text>
<text x="147" y="650" font-size="24.0" text-anchor="middle" fill="#000" transform="rotate(-90 147 650)">( cm<tspan dy="-8.4" font-size="16.8">−2</tspan><tspan dx="-1.5" dy="8.4"> s</tspan><tspan dy="-8.4" font-size="16.8">−1</tspan><tspan dx="-1.5" dy="8.4"> sr</tspan><tspan dy="-8.4" font-size="16.8">−1</tspan><tspan dy="8.4"> )</tspan></text>
<clipPath id="cb"><rect x="200" y="845" width="714" height="172"/></clipPath>
<g clip-path="url(#cb)" fill="#008000">
<rect x="198.9" y="991.6" width="8.9" height="25.4"/>
<rect x="210" y="972.5" width="8.9" height="44.5"/>
<rect x="221.2" y="1004.2" width="8.9" height="12.8"/>
<rect x="232.3" y="1004.2" width="8.9" height="12.8"/>
<rect x="243.5" y="1004.2" width="8.9" height="12.8"/>
<rect x="254.6" y="1010.7" width="8.9" height="6.3"/>
<rect x="265.8" y="1010.7" width="8.9" height="6.3"/>
<rect x="288.1" y="1010.7" width="8.9" height="6.3"/>
<rect x="355" y="1010.7" width="8.9" height="6.3"/>
<rect x="366.2" y="997.9" width="8.9" height="19.1"/>
<rect x="377.3" y="997.9" width="8.9" height="19.1"/>
<rect x="388.5" y="1010.7" width="8.9" height="6.3"/>
<rect x="455.4" y="1004.2" width="8.9" height="12.8"/>
<rect x="466.6" y="997.9" width="8.9" height="19.1"/>
<rect x="477.8" y="997.9" width="8.9" height="19.1"/>
<rect x="488.9" y="985.1" width="8.9" height="31.9"/>
<rect x="500.1" y="997.9" width="8.9" height="19.1"/>
<rect x="511.2" y="997.9" width="8.9" height="19.1"/>
<rect x="522.4" y="1004.2" width="8.9" height="12.8"/>
<rect x="533.5" y="1004.2" width="8.9" height="12.8"/>
<rect x="544.7" y="1010.7" width="8.9" height="6.3"/>
<rect x="555.8" y="991.6" width="8.9" height="25.4"/>
<rect x="567" y="997.9" width="8.9" height="19.1"/>
<rect x="578.2" y="1010.7" width="8.9" height="6.3"/>
<rect x="589.3" y="1004.2" width="8.9" height="12.8"/>
<rect x="600.5" y="997.9" width="8.9" height="19.1"/>
<rect x="611.6" y="985.1" width="8.9" height="31.9"/>
<rect x="622.8" y="985.1" width="8.9" height="31.9"/>
<rect x="633.9" y="985.1" width="8.9" height="31.9"/>
<rect x="645.1" y="985.1" width="8.9" height="31.9"/>
<rect x="656.2" y="997.9" width="8.9" height="19.1"/>
<rect x="667.4" y="1004.2" width="8.9" height="12.8"/>
<rect x="678.6" y="1004.2" width="8.9" height="12.8"/>
<rect x="689.7" y="978.8" width="8.9" height="38.2"/>
<rect x="700.9" y="991.6" width="8.9" height="25.4"/>
<rect x="712" y="991.6" width="8.9" height="25.4"/>
<rect x="723.2" y="972.5" width="8.9" height="44.5"/>
<rect x="734.3" y="978.8" width="8.9" height="38.2"/>
<rect x="745.5" y="985.1" width="8.9" height="31.9"/>
<rect x="756.7" y="1004.2" width="8.9" height="12.8"/>
<rect x="767.8" y="997.9" width="8.9" height="19.1"/>
<rect x="790.1" y="1004.2" width="8.9" height="12.8"/>
<rect x="801.3" y="1010.7" width="8.9" height="6.3"/>
<rect x="812.4" y="1010.7" width="8.9" height="6.3"/>
<rect x="823.6" y="1010.7" width="8.9" height="6.3"/>
<rect x="834.7" y="1010.7" width="8.9" height="6.3"/>
<rect x="845.9" y="1010.7" width="8.9" height="6.3"/>
<rect x="857.1" y="1010.7" width="8.9" height="6.3"/>
<rect x="868.2" y="1010.7" width="8.9" height="6.3"/>
<rect x="879.4" y="1010.7" width="8.9" height="6.3"/>
<rect x="890.5" y="1010.7" width="8.9" height="6.3"/>
<rect x="901.7" y="1010.7" width="8.9" height="6.3"/>
</g>
<text x="0" y="0" font-size="31.5" fill="#000" fill-opacity="0.1" transform="translate(875.8,1002.7) rotate(-90)">Forecast</text>
<line x1="825" y1="845" x2="825" y2="1017" stroke="#1f77b4" stroke-width="2.0" stroke-dasharray="2.08 3.47"/>
<rect x="200" y="845" width="714" height="172" fill="none" stroke="#000" stroke-width="2.0"/>
<rect x="248" y="1012" width="1" height="4" fill="#000"/>
<text x="248.2" y="1037.4" font-size="20.0" text-anchor="middle" fill="#000">01</text>
<rect x="338" y="1012" width="1" height="4" fill="#000"/>
<text x="337.4" y="1037.4" font-size="20.0" text-anchor="middle" fill="#000">02</text>
<rect x="427" y="1012" width="1" height="4" fill="#000"/>
<text x="426.7" y="1037.4" font-size="20.0" text-anchor="middle" fill="#000">03</text>
<rect x="516" y="1012" width="1" height="4" fill="#000"/>
<text x="515.9" y="1037.4" font-size="20.0" text-anchor="middle" fill="#000">04</text>
<rect x="605" y="1012" width="1" height="4" fill="#000"/>
<text x="605.2" y="1037.4" font-size="20.0" text-anchor="middle" fill="#000">05</text>
<rect x="695" y="1012" width="1" height="4" fill="#000"/>
<text x="694.4" y="1037.4" font-size="20.0" text-anchor="middle" fill="#000">06</text>
<rect x="784" y="1012" width="1" height="4" fill="#000"/>
<text x="783.7" y="1037.4" font-size="20.0" text-anchor="middle" fill="#000">07</text>
<rect x="873" y="1012" width="1" height="4" fill="#000"/>
<text x="872.9" y="1037.4" font-size="20.0" text-anchor="middle" fill="#000">08</text>
<text x="195.7" y="1024.2" font-size="20.0" text-anchor="end" fill="#000">0</text>
<rect x="201" y="978" width="4" height="1" fill="#000"/>
<rect x="909" y="978" width="4" height="1" fill="#000"/>
<text x="195.7" y="986" font-size="20.0" text-anchor="end" fill="#000">2</text>
<rect x="201" y="940" width="4" height="1" fill="#000"/>
<rect x="909" y="940" width="4" height="1" fill="#000"/>
<text x="195.7" y="947.8" font-size="20.0" text-anchor="end" fill="#000">4</text>
<rect x="201" y="902" width="4" height="1" fill="#000"/>
<rect x="909" y="902" width="4" height="1" fill="#000"/>
<text x="195.7" y="909.5" font-size="20.0" text-anchor="end" fill="#000">6</text>
<rect x="201" y="864" width="4" height="1" fill="#000"/>
<rect x="909" y="864" width="4" height="1" fill="#000"/>
<text x="195.7" y="871.3" font-size="20.0" text-anchor="end" fill="#000">8</text>
<text x="173.5" y="934" font-size="24.0" text-anchor="middle" fill="#000" transform="rotate(-90 173.5 934)">Kp</text>
<text x="553.4" y="1066" font-size="24.0" text-anchor="middle" fill="#000">October/November</text>
<text x="557" y="1093.5" font-size="24.0" text-anchor="middle" fill="#000">2019 (UT)</text>
<rect x="207.5" y="852.3" width="88" height="67" rx="2.7" fill="#fff" fill-opacity="0.8" stroke="#ccc" stroke-width="1.2"/>
<rect x="213" y="858.9" width="28" height="11" fill="#008000"/>
<text x="252" y="869.1" font-size="13.3" text-anchor="start" fill="#000">Kp&lt;3</text>
<rect x="213" y="880" width="28" height="11" fill="#bfbf00"/>
<text x="252" y="890.2" font-size="13.3" text-anchor="start" fill="#000">Kp&lt;5</text>
<rect x="213" y="901.1" width="28" height="11" fill="#ff0000"/>
<text x="252" y="911.3" font-size="13.3" text-anchor="start" fill="#000">Kp&gt;5</text>
<clipPath id="ct"><rect x="1205" y="110" width="595" height="345"/></clipPath>
<line x1="1205" y1="282.5" x2="1800" y2="282.5" stroke="#000" stroke-width="2.0" stroke-dasharray="2.08 3.47"/>
<g clip-path="url(#ct)">
<path d="M1205.5,263.6 L1205.9,261.6 L1206.3,263.4 L1206.7,267.5 L1207.1,265.9 L1207.5,270.7 L1207.9,273.8 L1208.3,271.7 L1208.7,280.9 L1209.1,283.5 L1209.5,285.1 L1209.9,287.8 L1210.3,292.3 L1210.7,294.4 L1211.1,297.4 L1211.5,298.8 L1211.9,303.8 L1212.3,304.5 L1212.7,302.4 L1213.1,298.7 L1213.5,302.6 L1213.9,293.7 L1214.3,284.2 L1214.7,283.1 L1215.1,277.2 L1215.5,270 L1215.9,274 L1216.3,268.6 L1216.7,281.8 L1217.1,278 L1217.5,276.1 L1217.9,286.4 L1218.3,273.2 L1218.7,282.3 L1219.1,269.4 L1219.5,273.5 L1219.9,270.8 L1220.3,285.1 L1220.7,288.5 L1221.1,277.4 L1221.5,281.2 L1221.9,275.6 L1222.3,278.2 L1222.7,270.6 L1223.1,263.1 L1223.5,262.1 L1223.9,272.1 L1224.3,282.9 L1224.7,275.5 L1225.1,268.5 L1225.5,281.2 L1225.9,273.4 L1226.3,270.5 L1226.7,270.5 L1227.1,269.8 L1227.5,265.5 L1227.9,257.6 L1228.3,267.8 L1228.7,265.6 L1229.1,273.1 L1229.5,264.6 L1229.9,252.1 L1230.3,262.1 L1230.7,276.6 L1231.1,265 L1231.5,259 L1231.9,255.4 L1232.3,255.6 L1232.7,261.2 L1233.1,255.6 L1233.5,275.1 L1233.9,265.2 L1234.3,266.3 L1234.7,277.3 L1235.1,280.2 L1235.5,266.7 L1235.9,268.5 L1236.3,272.4 L1236.7,264.9 L1237.1,249.5 L1237.5,267.1 L1237.9,272.4 L1238.3,269.1 L1238.7,256.7 L1239.1,260.2 L1239.5,257.2 L1239.9,258.9 L1240.3,272.7 L1240.7,277.2 L1241.1,270.5 L1241.5,267.8 L1241.9,268.2 L1242.3,262 L1242.7,260 L1243.1,254.2 L1243.5,258.1 L1243.9,275.7 L1244.3,270.4 L1244.7,258.1 L1245.1,254.3 L1245.5,250 L1245.9,260.7 L1246.3,263.7 L1246.7,249.5 L1247.1,263.7 L1247.5,258.4 L1247.9,274.7 L1248.3,268.1 L1248.7,280.4 L1249.1,265.6 L1249.5,264.8 L1249.9,270.1 L1250.3,278.1 L1250.7,272.7 L1251.1,262.2 L1251.5,271.5 L1251.9,272.8 L1252.3,270.2 L1252.7,268.7 L1253.1,286.8 L1253.5,273.2 L1253.9,266.6 L1254.3,276.6 L1254.7,274.3 L1255.1,271.9 L1255.5,277.9 L1255.9,276.5 L1256.3,274.8 L1256.7,279 L1257.1,274.1 L1257.5,265.7 L1257.9,265.7 L1258.3,264.1 L1258.7,269.3 L1259.1,259.8 L1259.5,252.8 L1259.9,264.8 L1260.3,263.1 L1260.7,251.6 L1261.1,265.6 L1261.5,260 L1261.9,268.2 L1262.3,262 L1262.7,256.3 L1263.1,254.4 L1263.5,259.7 L1263.9,262.7 L1264.3,259.3 L1264.7,262.8 L1265.1,254.5 L1265.5,264.1 L1265.9,253.3 L1266.3,262.6 L1266.7,270.7 L1267.1,275.1 L1267.5,279.7 L1267.9,259.2 L1268.3,270.6 L1268.7,275.7 L1269.1,275.3 L1269.5,263.5 L1269.9,270.2 L1270.3,280.9 L1270.7,262.8 L1271.1,271.8 L1271.5,277.8 L1271.9,268.7 L1272.3,274.9 L1272.7,267.1 L1273.1,267.6 L1273.5,268.2 L1273.9,274.4 L1274.3,274.6 L1274.7,280.7 L1275.1,272.3 L1275.5,275.4 L1275.9,282.1 L1276.3,281.8 L1276.7,272.6 L1277.1,281.1 L1277.5,277.3 L1277.9,281.3 L1278.3,281.9 L1278.7,287 L1279.1,289.3 L1279.5,272.4 L1279.9,273 L1280.3,284.1 L1280.7,281.6 L1281.1,288.5 L1281.5,285.8 L1281.9,280.2 L1282.3,287.6 L1282.7,278.6 L1283.1,270.9 L1283.5,289.2 L1283.9,270.6 L1284.3,280.5 L1284.7,283.7 L1285.1,279.1 L1285.5,266.6 L1285.9,279.7 L1286.3,266.6 L1286.7,263.7 L1287.1,268.7 L1287.5,276.8 L1287.9,275.2 L1288.3,278 L1288.7,270.3 L1289.1,270.4 L1289.5,264 L1289.9,267.8 L1290.3,274.3 L1290.7,269.7 L1291.1,273.6 L1291.5,267.5 L1291.9,266 L1292.3,269.6 L1292.7,268.6 L1293.1,273.4 L1293.5,271.5 L1293.9,281 L1294.3,270.1 L1294.7,267.8 L1295.1,262.2 L1295.5,268.1 L1295.9,273.7 L1296.3,265.5 L1296.7,268.5 L1297.1,274.3 L1297.5,269.9 L1297.9,266.4 L1298.3,276 L1298.7,272 L1299.1,273.3 L1299.5,279.1 L1299.9,280.2 L1300.3,270.1 L1300.7,266.8 L1301.1,272 L1301.5,270.1 L1301.9,257.3 L1302.3,276.7 L1302.7,271.4 L1303.1,274.9 L1303.5,262.4 L1303.9,275.9 L1304.3,266 L1304.7,266.9 L1305.1,258.7 L1305.5,264.5 L1305.9,264.9 L1306.3,265 L1306.7,268.3 L1307.1,266.4 L1307.5,270.7 L1307.9,268.6 L1308.3,258.9 L1308.7,262.8 L1309.1,266.6 L1309.5,270.6 L1309.9,269.3 L1310.3,256.1 L1310.7,264.3 L1311.1,271.4 L1311.5,265.9 L1311.9,262 L1312.3,265.4 L1312.7,262.1 L1313.1,267.2 L1313.5,265 L1313.9,271.7 L1314.3,268.6 L1314.7,261.9 L1315.1,267.5 L1315.5,270.1 L1315.9,263.2 L1316.3,265.1 L1316.7,255.6 L1317.1,269.1 L1317.5,262.8 L1317.9,255.9 L1318.3,256 L1318.7,262.3 L1319.1,269.1 L1319.5,266.3 L1319.9,268.8 L1320.3,265.2 L1320.7,258.6 L1321.1,270 L1321.5,270.4 L1321.9,267.8 L1322.3,274.6 L1322.7,263.9 L1323.1,264.8 L1323.5,273.2 L1323.9,278.9 L1324.3,270.8 L1324.7,278.7 L1325.1,267.5 L1325.5,270.8 L1325.9,269 L1326.3,260.4 L1326.7,270.4 L1327.1,277.2 L1327.5,272.1 L1327.9,271.9 L1328.3,282.4 L1328.7,266.6 L1329.1,261.4 L1329.5,267.2 L1329.9,270.4 L1330.3,283.7 L1330.7,280.2 L1331.1,270.5 L1331.5,270.8 L1331.9,292.6 L1332.3,277.2 L1332.7,271.8 L1333.1,279.8 L1333.5,284.5 L1333.9,282.3 L1334.3,272.8 L1334.7,269 L1335.1,283.3 L1335.5,281.1 L1335.9,267.3 L1336.3,281.1 L1336.7,290 L1337.1,281.7 L1337.5,280.1 L1337.9,284 L1338.3,277.5 L1338.7,271.3 L1339.1,283.8 L1339.5,272.4 L1339.9,284.4 L1340.3,273.2 L1340.7,281.2 L1341.1,282.7 L1341.5,296.7 L1341.9,279.6 L1342.3,274.1 L1342.7,278.5 L1343.1,276.5 L1343.5,279.8 L1343.9,289.1 L1344.3,295.2 L1344.7,306.9 L1345.1,295.6 L1345.5,306.8 L1345.9,307.1 L1346.3,302.2 L1346.7,296 L1347.1,300.9 L1347.5,303 L1347.9,298.7 L1348.3,303.3 L1348.7,304.2 L1349.1,303.6 L1349.5,305.8 L1349.9,303.6 L1350.3,302.8 L1350.7,301.6 L1351.1,300.6 L1351.5,299.2 L1351.9,300.5 L1352.3,301.4 L1352.7,298.2 L1353.1,294.8 L1353.5,298.4 L1353.9,293.1 L1354.3,296.2 L1354.7,299.5 L1355.1,290.3 L1355.5,280.8 L1355.9,273.8 L1356.3,276.9 L1356.7,269.6 L1357.1,266 L1357.5,264.1 L1357.9,258.6 L1358.3,254.7 L1358.7,250.1 L1359.1,245 L1359.5,242.8 L1359.9,244.6 L1360.3,240.1 L1360.7,242.2 L1361.1,240 L1361.5,240.8 L1361.9,242.9 L1362.3,238.9 L1362.7,239.9 L1363.1,236.3 L1363.5,243.7 L1363.9,243.2 L1364.3,245.6 L1364.7,251.1 L1365.1,251.7 L1365.5,248.3 L1365.9,252.2 L1366.3,244.1 L1366.7,251.9 L1367.1,253.1 L1367.5,245.1 L1367.9,259.1 L1368.3,251.8 L1368.7,258.3 L1369.1,254.1 L1369.5,261.7 L1369.9,265.7 L1370.3,254.7 L1370.7,248.7 L1371.1,256.3 L1371.5,264.4 L1371.9,259.1 L1372.3,256.9 L1372.7,264.1 L1373.1,249.7 L1373.5,254.2 L1373.9,251.6 L1374.3,261.6 L1374.7,257.2 L1375.1,254 L1375.5,258.1 L1375.9,252.2 L1376.3,259.8 L1376.7,257.4 L1377.1,258.6 L1377.5,257 L1377.9,266.1 L1378.3,262.2 L1378.7,265.4 L1379.1,266 L1379.5,259.3 L1379.9,265.9 L1380.3,266.3 L1380.7,266.5 L1381.1,263 L1381.5,262.5 L1381.9,269.1 L1382.3,275.8 L1382.7,264.5 L1383.1,269.1 L1383.5,265.8 L1383.9,270.9 L1384.3,270 L1384.7,272.9 L1385.1,257.4 L1385.5,261.2 L1385.9,260.6 L1386.3,264.8 L1386.7,262.5 L1387.1,262.4 L1387.5,268.9 L1387.9,275 L1388.3,256.6 L1388.7,262 L1389.1,266.7 L1389.5,266 L1389.9,264 L1390.3,258.5 L1390.7,259.3 L1391.1,267.9 L1391.5,271.5 L1391.9,267.3 L1392.3,261.9 L1392.7,265.5 L1393.1,264.6 L1393.5,268.5 L1393.9,267.1 L1394.3,263.2 L1394.7,266.6 L1395.1,260.4 L1395.5,269.3 L1395.9,273 L1396.3,261.9 L1396.7,267.8 L1397.1,261.9 L1397.5,271.2 L1397.9,272.3 L1398.3,266.9 L1398.7,274.5 L1399.1,265.9 L1399.5,263.7 L1399.9,263.7 L1400.3,265.6 L1400.7,264.8 L1401.1,269 L1401.5,262 L1401.9,267.4 L1402.3,271.6 L1402.7,263.8 L1403.1,257.1 L1403.5,266.9 L1403.9,271 L1404.3,264.5 L1404.7,256.8 L1405.1,263.5 L1405.5,271.7 L1405.9,254 L1406.3,263.5 L1406.7,263 L1407.1,256.7 L1407.5,264.5 L1407.9,257.2 L1408.3,266.2 L1408.7,275.1 L1409.1,271.7 L1409.5,266.2 L1409.9,261.5 L1410.3,264.3 L1410.7,264.7 L1411.1,282 L1411.5,273.1 L1411.9,265.3 L1412.3,260.8 L1412.7,259.6 L1413.1,261.5 L1413.5,255.4 L1413.9,270.1 L1414.3,263 L1414.7,263.1 L1415.1,270.1 L1415.5,278.5 L1415.9,281.1 L1416.3,274.9 L1416.7,278.8 L1417.1,280.7 L1417.5,284.4 L1417.9,285.6 L1418.3,281.6 L1418.7,278.1 L1419.1,285.2 L1419.5,279.7 L1419.9,294.4 L1420.3,290.3 L1420.7,284.3 L1421.1,287.8 L1421.5,288.3 L1421.9,291.3 L1422.3,298.3 L1422.7,288.1 L1423.1,286 L1423.5,296 L1423.9,296.5 L1424.3,299 L1424.7,301.5 L1425.1,299.9 L1425.5,304.6 L1425.9,297.6 L1426.3,300.2 L1426.7,296.6 L1427.1,294.3 L1427.5,301.7 L1427.9,302.4 L1428.3,291.3 L1428.7,292.4 L1429.1,298.7 L1429.5,303.2 L1429.9,295.5 L1430.3,296.7 L1430.7,291.2 L1431.1,305.8 L1431.5,301.2 L1431.9,301.7 L1432.3,300.5 L1432.7,301.2 L1433.1,299.8 L1433.5,295 L1433.9,298.6 L1434.3,296.1 L1434.7,301 L1435.1,292.2 L1435.5,291 L1435.9,296.3 L1436.3,300.2 L1436.7,295.2 L1437.1,289.6 L1437.5,291.2 L1437.9,289.2 L1438.3,301.1 L1438.7,298.1 L1439.1,299.2 L1439.5,300.8 L1439.9,288 L1440.3,290.6 L1440.7,300.3 L1441.1,295.1 L1441.5,290.5 L1441.9,296.1 L1442.3,288.4 L1442.7,293.8 L1443.1,285.6 L1443.5,282.1 L1443.9,291.2 L1444.3,291.5 L1444.7,301.5 L1445.1,289.4 L1445.5,288.8 L1445.9,279.3 L1446.3,266.4 L1446.7,258.9 L1447.1,265.9 L1447.5,249.5 L1447.9,258.3 L1448.3,256.9 L1448.7,238.3 L1449.1,244.4 L1449.5,230.4 L1449.9,228.8 L1450.3,218.7 L1450.7,229.6 L1451.1,221.4 L1451.5,235.5 L1451.9,232.5 L1452.3,238.1 L1452.7,250.7 L1453.1,252.1 L1453.5,252.8 L1453.9,265.2 L1454.3,271.8 L1454.7,242.7 L1455.1,268.8 L1455.5,279.1 L1455.9,257.8 L1456.3,276.8 L1456.7,248.2 L1457.1,303.2 L1457.5,280.4 L1457.9,281.5 L1458.3,316.4 L1458.7,290.8 L1459.1,304.1 L1459.5,263.2 L1459.9,267.2 L1460.3,245.8 L1460.7,272.6 L1461.1,310.6 L1461.5,319.9 L1461.9,311 L1462.3,262.3 L1462.7,256 L1463.1,265.6 L1463.5,295.4 L1463.9,295.2 L1464.3,284.7 L1464.7,299.7 L1465.1,281.3 L1465.5,280.8 L1465.9,317 L1466.3,271.7 L1466.7,283.6 L1467.1,325.4 L1467.5,291.5 L1467.9,301.3 L1468.3,266.1 L1468.7,305.3 L1469.1,225.4 L1469.5,235.7 L1469.9,239.9 L1470.3,315.4 L1470.7,295 L1471.1,273.6 L1471.5,240.9 L1471.9,280 L1472.3,280.8 L1472.7,258.5 L1473.1,232 L1473.5,237.4 L1473.9,274.6 L1474.3,284.5 L1474.7,279.9 L1475.1,272.7 L1475.5,227.1 L1475.9,293.5 L1476.3,246 L1476.7,270.8 L1477.1,287.1 L1477.5,259.4 L1477.9,244.5 L1478.3,295.7 L1478.7,303.8 L1479.1,260.5 L1479.5,224.1 L1479.9,256.6 L1480.3,287.6 L1480.7,306.7 L1481.1,262.6 L1481.5,254.7 L1481.9,291.7 L1482.3,292.7 L1482.7,277.2 L1483.1,265.1 L1483.5,247.4 L1483.9,275.1 L1484.3,233.4 L1484.7,275.3 L1485.1,261.6 L1485.5,266.1 L1485.9,285.8 L1486.3,304.8 L1486.7,240.1 L1487.1,292.1 L1487.5,291.9 L1487.9,272.2 L1488.3,307.3 L1488.7,286.7 L1489.1,307.2 L1489.5,269.9 L1489.9,257.1 L1490.3,299.4 L1490.7,317.1 L1491.1,300.7 L1491.5,300.7 L1491.9,273.5 L1492.3,252.1 L1492.7,269.7 L1493.1,305.9 L1493.5,251.1 L1493.9,265.9 L1494.3,247.7 L1494.7,276 L1495.1,295.3 L1495.5,264.4 L1495.9,272.5 L1496.3,320.6 L1496.7,285.6 L1497.1,265.3 L1497.5,260.4 L1497.9,255.7 L1498.3,288.1 L1498.7,273.8 L1499.1,296.9 L1499.5,298.8 L1499.9,277.6 L1500.3,275.4 L1500.7,293.2 L1501.1,288.1 L1501.5,288.7 L1501.9,263.1 L1502.3,292.2 L1502.7,274.5 L1503.1,259.8 L1503.5,270.4 L1503.9,287.4 L1504.3,308.9 L1504.7,285.6 L1505.1,268.6 L1505.5,308 L1505.9,291.7 L1506.3,283.4 L1506.7,272.1 L1507.1,265.5 L1507.5,299.9 L1507.9,285.3 L1508.3,279.4 L1508.7,286.3 L1509.1,302 L1509.5,282.6 L1509.9,291.2 L1510.3,288.2 L1510.7,286.6 L1511.1,273.7 L1511.5,286.6 L1511.9,298.2 L1512.3,282.5 L1512.7,277.5 L1513.1,263.2 L1513.5,275.9 L1513.9,273.1 L1514.3,273.5 L1514.7,274 L1515.1,259.4 L1515.5,276.9 L1515.9,274.5 L1516.3,270.5 L1516.7,271.7 L1517.1,272.4 L1517.5,270 L1517.9,260.1 L1518.3,274.6 L1518.7,263.3 L1519.1,257.9 L1519.5,249.5 L1519.9,259.9 L1520.3,253.1 L1520.7,250.3 L1521.1,272.8 L1521.5,260.8 L1521.9,267.4 L1522.3,262.7 L1522.7,255.9 L1523.1,254.6 L1523.5,252.5 L1523.9,260.1 L1524.3,256.5 L1524.7,252.2 L1525.1,259.8 L1525.5,255.4 L1525.9,250.1 L1526.3,242.1 L1526.7,256 L1527.1,258.6 L1527.5,258.9 L1527.9,255.9 L1528.3,252.8 L1528.7,258.6 L1529.1,265.2 L1529.5,264.3 L1529.9,265 L1530.3,262.9 L1530.7,272.1 L1531.1,274.1 L1531.5,264.5 L1531.9,281.1 L1532.3,286.2 L1532.7,288.3 L1533.1,277.7 L1533.5,275.3 L1533.9,263.1 L1534.3,277.5 L1534.7,255 L1535.1,269.7 L1535.5,274.2 L1535.9,288.6 L1536.3,284.2 L1536.7,270 L1537.1,261.1 L1537.5,269.4 L1537.9,283.4 L1538.3,286 L1538.7,283.4 L1539.1,276.2 L1539.5,282.2 L1539.9,302.1 L1540.3,274.5 L1540.7,285.9 L1541.1,312.2 L1541.5,301.2 L1541.9,283.4 L1542.3,296.9 L1542.7,277.6 L1543.1,285.4 L1543.5,311 L1543.9,316.6 L1544.3,266.8 L1544.7,293.6 L1545.1,316.5 L1545.5,284.1 L1545.9,289.8 L1546.3,310.9 L1546.7,282.8 L1547.1,292.4 L1547.5,285.9 L1547.9,245.7 L1548.3,284.5 L1548.7,281.8 L1549.1,299.5 L1549.5,316 L1549.9,303.4 L1550.3,282 L1550.7,291.3 L1551.1,288.8 L1551.5,301.7 L1551.9,263 L1552.3,259.5 L1552.7,251 L1553.1,285.8 L1553.5,283.5 L1553.9,272.6 L1554.3,269.1 L1554.7,271 L1555.1,265.5 L1555.5,274.5 L1555.9,273.5 L1556.3,304 L1556.7,292.7 L1557.1,272 L1557.5,271.8 L1557.9,300.1 L1558.3,293.8 L1558.7,290.1 L1559.1,295.9 L1559.5,310.4 L1559.9,270 L1560.3,269.3 L1560.7,254.5 L1561.1,285 L1561.5,278 L1561.9,272.2 L1562.3,269.8 L1562.7,281.9 L1563.1,282.8 L1563.5,275.5 L1563.9,299.9 L1564.3,271.6 L1564.7,263 L1565.1,310.2 L1565.5,270.7 L1565.9,276.4 L1566.3,272.6 L1566.7,280.4 L1567.1,294.8 L1567.5,297.4 L1567.9,295.4 L1568.3,284.4 L1568.7,266.6 L1569.1,286.7 L1569.5,306.9 L1569.9,305.3 L1570.3,289.5 L1570.7,298.9 L1571.1,286.2 L1571.5,288.1 L1571.9,274.4 L1572.3,283.3 L1572.7,290.9 L1573.1,289 L1573.5,300 L1573.9,313.7 L1574.3,312 L1574.7,293 L1575.1,284.8 L1575.5,284.5 L1575.9,280.7 L1576.3,290.6 L1576.7,296.5 L1577.1,294.6 L1577.5,293.9 L1577.9,293 L1578.3,289 L1578.7,273.2 L1579.1,307.1 L1579.5,304.2 L1579.9,280.6 L1580.3,275.4 L1580.7,277.6 L1581.1,284.9 L1581.5,300.4 L1581.9,300.3 L1582.3,300.5 L1582.7,300.4 L1583.1,300.2 L1583.5,295.4 L1583.9,290.8 L1584.3,282.5 L1584.7,260.7 L1585.1,275.7 L1585.5,302.1 L1585.9,278.3 L1586.3,272.2 L1586.7,291 L1587.1,294.4 L1587.5,273.8 L1587.9,297.2 L1588.3,289.9 L1588.7,289.8 L1589.1,272.8 L1589.5,282.5 L1589.9,282.7 L1590.3,287.5 L1590.7,284.2 L1591.1,299.3 L1591.5,281 L1591.9,284.9 L1592.3,261.6 L1592.7,279.8 L1593.1,283.7 L1593.5,270.1 L1593.9,263 L1594.3,271.4 L1594.7,258.8 L1595.1,276.7 L1595.5,280.1 L1595.9,265.5 L1596.3,275.7 L1596.7,290.9 L1597.1,294.2 L1597.5,302.9 L1597.9,281 L1598.3,276.5 L1598.7,275.4 L1599.1,287.5 L1599.5,304.6 L1599.9,305.1 L1600.3,305.5 L1600.7,304.2 L1601.1,269.9 L1601.5,279.9 L1601.9,279.7 L1602.3,299.3 L1602.7,308.2 L1603.1,284.4 L1603.5,287.9 L1603.9,294.5 L1604.3,284.1 L1604.7,280.5 L1605.1,279.2 L1605.5,295.8 L1605.9,279.6 L1606.3,298.4 L1606.7,290.7 L1607.1,296.3 L1607.5,305.7 L1607.9,283.9 L1608.3,277.9 L1608.7,289.8 L1609.1,276.8 L1609.5,277.3 L1609.9,283.8 L1610.3,287.8 L1610.7,274 L1611.1,280.1 L1611.5,291.2 L1611.9,301.1 L1612.3,269.2 L1612.7,296.1 L1613.1,297 L1613.5,277.2 L1613.9,269.4 L1614.3,287.3 L1614.7,282.9 L1615.1,287.9 L1615.5,296.4 L1615.9,286.5 L1616.3,290.1 L1616.7,294.2 L1617.1,299.3 L1617.5,308.3 L1617.9,308.7 L1618.3,297.5 L1618.7,290.9 L1619.1,309.8 L1619.5,308.8 L1619.9,299.3 L1620.3,284.6 L1620.7,298.3 L1621.1,286.8 L1621.5,287.1 L1621.9,279 L1622.3,284.5 L1622.7,290.6 L1623.1,277.4 L1623.5,280 L1623.9,287.8 L1624.3,278.2 L1624.7,276.1 L1625.1,279.3 L1625.5,274.4 L1625.9,291.8 L1626.3,288.5 L1626.7,294 L1627.1,298.1 L1627.5,279.1 L1627.9,286.9 L1628.3,283.5 L1628.7,276.3 L1629.1,282.7 L1629.5,284.8 L1629.9,294.9 L1630.3,300.3 L1630.7,279.4 L1631.1,282.3 L1631.5,292.8 L1631.9,302 L1632.3,267.8 L1632.7,297.7 L1633.1,288.4 L1633.5,305.6 L1633.9,287.1 L1634.3,278.6 L1634.7,287 L1635.1,301.8 L1635.5,291.5 L1635.9,265.8 L1636.3,291.1 L1636.7,269.4 L1637.1,272.6 L1637.5,270.8 L1637.9,264.7 L1638.3,267.2 L1638.7,271.5 L1639.1,277.1 L1639.5,285.5 L1639.9,283.4 L1640.3,267.8 L1640.7,281.8 L1641.1,299.9 L1641.5,303.2 L1641.9,292.9 L1642.3,297.3 L1642.7,301.8 L1643.1,309 L1643.5,313.4 L1643.9,288.7 L1644.3,284 L1644.7,306.8 L1645.1,312.6 L1645.5,313.3 L1645.9,260.9 L1646.3,278.5 L1646.7,260.5 L1647.1,287.5 L1647.5,287.6 L1647.9,287.5 L1648.3,284.7 L1648.7,304.4 L1649.1,285.7 L1649.5,300.7 L1649.9,296.8 L1650.3,293.2 L1650.7,293.9 L1651.1,289 L1651.5,270.6 L1651.9,292.8 L1652.3,297.2 L1652.7,285.6 L1653.1,295.9 L1653.5,300.4 L1653.9,269.3 L1654.3,279.6 L1654.7,277 L1655.1,269.4 L1655.5,286 L1655.9,271.7 L1656.3,274.8 L1656.7,285.5 L1657.1,289.2 L1657.5,289.3 L1657.9,312.2 L1658.3,282.2 L1658.7,286.4 L1659.1,264.3 L1659.5,286.2 L1659.9,301.1 L1660.3,304.9 L1660.7,276.1 L1661.1,275.8 L1661.5,300.5 L1661.9,281.4 L1662.3,296.9 L1662.7,267.9 L1663.1,300.6 L1663.5,301.3 L1663.9,292 L1664.3,268.9 L1664.7,274.8 L1665.1,281 L1665.5,284 L1665.9,278.2 L1666.3,274.9 L1666.7,281.1 L1667.1,303 L1667.5,248.8 L1667.9,249.4 L1668.3,247 L1668.7,261.4 L1669.1,248 L1669.5,282.7 L1669.9,282.4 L1670.3,276.8 L1670.7,269.1 L1671.1,281.4 L1671.5,284.4 L1671.9,287.6 L1672.3,271.7 L1672.7,290.5 L1673.1,261.5 L1673.5,298.1 L1673.9,254.3 L1674.3,278.2 L1674.7,262.2 L1675.1,291.7 L1675.5,263.9 L1675.9,307.5 L1676.3,267 L1676.7,311.2 L1677.1,297.2 L1677.5,288.7 L1677.9,293 L1678.3,313.1 L1678.7,305.6 L1679.1,261.1 L1679.5,298.4 L1679.9,293.1 L1680.3,267.4 L1680.7,294.4 L1681.1,273.8 L1681.5,288 L1681.9,291.5 L1682.3,281.2 L1682.7,295.2 L1683.1,277.9 L1683.5,289 L1683.9,282.7 L1684.3,285.7 L1684.7,309.6 L1685.1,294.4 L1685.5,278.8 L1685.9,286 L1686.3,281 L1686.7,288 L1687.1,290.8 L1687.5,290.6 L1687.9,290.6 L1688.3,285 L1688.7,292.7 L1689.1,299.3 L1689.5,286.6 L1689.9,281.7 L1690.3,290.3 L1690.7,299.6 L1691.1,302.5 L1691.5,286.8 L1691.9,290.1 L1692.3,279.7 L1692.7,281.5 L1693.1,288.8 L1693.5,294.6 L1693.9,297.9 L1694.3,290 L1694.7,281.7 L1695.1,291.6 L1695.5,289.9 L1695.9,293.5 L1696.3,300.4 L1696.7,295.8 L1697.1,296.1 L1697.5,297.3 L1697.9,289.7 L1698.3,296.9 L1698.7,289.6 L1699.1,291.6 L1699.5,302 L1699.9,295.7 L1700.3,286.1 L1700.7,298.7 L1701.1,298.5 L1701.5,299.2 L1701.9,294.3 L1702.3,294.2 L1702.7,291.1 L1703.1,288.1 L1703.5,299.1 L1703.9,291.5 L1704.3,289.4 L1704.7,289.2 L1705.1,301 L1705.5,298.3 L1705.9,291.4 L1706.3,291.7 L1706.7,294.6 L1707.1,297.1 L1707.5,285 L1707.9,295.3 L1708.3,291.7 L1708.7,288.6 L1709.1,289.5 L1709.5,295.6 L1709.9,301.6 L1710.3,294.9 L1710.7,295.5 L1711.1,288.9 L1711.5,294.1 L1711.9,296.7 L1712.3,286 L1712.7,288.6 L1713.1,295.5 L1713.5,281.3 L1713.9,289.1 L1714.3,294.7 L1714.7,284.7 L1715.1,288.9 L1715.5,291.8 L1715.9,296.5 L1716.3,286.7 L1716.7,296.4 L1717.1,294.4 L1717.5,298.4 L1717.9,299 L1718.3,294.9 L1718.7,294.8 L1719.1,283.3 L1719.5,282.9 L1719.9,284.5 L1720.3,288.2 L1720.7,295.6 L1721.1,282.7 L1721.5,287.8 L1721.9,283 L1722.3,279.1 L1722.7,295.2 L1723.1,289.4 L1723.5,297.5 L1723.9,295.7 L1724.3,279.4 L1724.7,269.1 L1725.1,295.3 L1725.5,282 L1725.9,273.6" fill="none" stroke="#000" stroke-width="2.0" stroke-linejoin="round"/>
<path d="M1205.5,312.7 L1205.8,310.5 L1206.2,305.7 L1206.5,309.6 L1206.9,307.5 L1207.2,313.9 L1207.6,317.3 L1207.9,314.3 L1208.3,314.3 L1208.6,311.6 L1209,313.3 L1209.3,304.2 L1209.7,312.3 L1210,316.7 L1210.4,310 L1210.7,315.6 L1211.1,305.3 L1211.4,312.2 L1211.8,311.5 L1212.1,314.6 L1212.5,313.2 L1212.8,321 L1213.2,304.5 L1213.5,304.8 L1213.9,308.8 L1214.2,312.6 L1214.6,309.4 L1214.9,309.1 L1215.3,304.9 L1215.6,305.7 L1216,308 L1216.3,319.1 L1216.7,309 L1217,320.7 L1217.4,317.8 L1217.7,311.3 L1218.1,316 L1218.4,317.2 L1218.8,307.2 L1219.1,304.9 L1219.5,318.7 L1219.8,308.5 L1220.2,316.2 L1220.5,315.8 L1220.9,305.2 L1221.2,315.1 L1221.6,315.3 L1221.9,318.5 L1222.3,312.8 L1222.6,314.7 L1223,314.5 L1223.3,311.7 L1223.7,320.1 L1224,317.5 L1224.4,320 L1224.7,314.8 L1225.1,318.2 L1225.4,308.8 L1225.8,309.9 L1226.1,317.3 L1226.5,312.1 L1226.8,311.1 L1227.2,313.6 L1227.5,305.9 L1227.9,313.4 L1228.2,315.2 L1228.6,311.7 L1228.9,307.9 L1229.3,320.7 L1229.6,315.4 L1230,308.6 L1230.3,310.3 L1230.7,305.7 L1231,305.7 L1231.4,305.7 L1231.7,309 L1232.1,314.9 L1232.4,316.7 L1232.8,312.9 L1233.1,317.4 L1233.5,315.2 L1233.8,307 L1234.2,307.6 L1234.5,309.7 L1234.9,314 L1235.2,315.5 L1235.6,304.1 L1235.9,302.2 L1236.3,317.5 L1236.6,308.1 L1237,313 L1237.3,308.5 L1237.7,301.5 L1238,313.4 L1238.4,309.4 L1238.7,313.4 L1239.1,309.3 L1239.4,301.5 L1239.8,305 L1240.1,309.8 L1240.5,302.6 L1240.8,306.3 L1241.2,311.1 L1241.5,300.7 L1241.9,304.2 L1242.2,307.1 L1242.6,310.9 L1242.9,306.5 L1243.3,303.7 L1243.6,309.5 L1244,304.6 L1244.3,309.2 L1244.7,309.3 L1245,307 L1245.4,311.8 L1245.7,313.7 L1246.1,302.7 L1246.4,310.6 L1246.8,308 L1247.1,307.5 L1247.5,309.4 L1247.8,314.6 L1248.2,309.3 L1248.5,308.5 L1248.9,304.6 L1249.2,309.4 L1249.6,310.7 L1249.9,306.9 L1250.3,309.8 L1250.6,313.5 L1251,317.8 L1251.3,311.2 L1251.7,319.7 L1252,316.1 L1252.4,316.7 L1252.7,315.8 L1253.1,314 L1253.4,311.2 L1253.8,313.6 L1254.1,314.5 L1254.5,315.2 L1254.8,320.6 L1255.2,321.2 L1255.5,316.8 L1255.9,318.2 L1256.2,311.6 L1256.6,307.2 L1256.9,313.1 L1257.3,314.7 L1257.6,319 L1258,319.9 L1258.3,314.9 L1258.7,318.2 L1259,317.5 L1259.4,314.1 L1259.7,316 L1260.1,314.6 L1260.4,319.1 L1260.8,310.5 L1261.1,310.2 L1261.5,315 L1261.8,318.6 L1262.2,319.7 L1262.5,314.6 L1262.9,318.6 L1263.2,315.1 L1263.6,319.9 L1263.9,315.8 L1264.3,315 L1264.6,322.1 L1265,315.7 L1265.3,315.1 L1265.7,322.6 L1266,320.9 L1266.4,314.9 L1266.7,324.2 L1267.1,317.3 L1267.4,319.6 L1267.8,320.9 L1268.1,326.8 L1268.5,322 L1268.8,324.7 L1269.2,321.8 L1269.5,323.8 L1269.9,318.3 L1270.2,322.4 L1270.6,320.9 L1270.9,319.9 L1271.3,323.8 L1271.6,326.6 L1272,325 L1272.3,322.8 L1272.7,325.9 L1273,320.7 L1273.4,324.6 L1273.7,325.4 L1274.1,323.7 L1274.4,323.1 L1274.8,324.1 L1275.1,322.2 L1275.5,323.1 L1275.8,325.9 L1276.2,318.6 L1276.5,327.1 L1276.9,325.3 L1277.2,324.5 L1277.6,321 L1277.9,322.5 L1278.3,322 L1278.6,325.7 L1279,325.7 L1279.3,327.2 L1279.7,324.2 L1280,318.4 L1280.4,320.7 L1280.7,322.6 L1281.1,324.7 L1281.4,319.5 L1281.8,323 L1282.1,324 L1282.5,322.3 L1282.8,323.5 L1283.2,329.2 L1283.5,324.7 L1283.9,329.4 L1284.2,325.7 L1284.6,322.9 L1284.9,326.4 L1285.3,324 L1285.6,324 L1286,322 L1286.3,326.2 L1286.7,324.1 L1287,328.8 L1287.4,326.4 L1287.7,325 L1288.1,323.3 L1288.4,326.2 L1288.8,325.4 L1289.1,324.4 L1289.5,331.5 L1289.8,326.7 L1290.2,329.4 L1290.5,331.2 L1290.9,328.6 L1291.2,329.8 L1291.6,328.9 L1291.9,330.1 L1292.3,329.2 L1292.6,329 L1293,328.1 L1293.3,326.4 L1293.7,326.5 L1294,326 L1294.4,328.3 L1294.7,331.4 L1295.1,325.6 L1295.4,326.3 L1295.8,325.4 L1296.1,327.9 L1296.5,330.9 L1296.8,327.5 L1297.2,329.1 L1297.5,323.7 L1297.9,327.7 L1298.2,329.8 L1298.6,327 L1298.9,324.2 L1299.3,329.7 L1299.6,328.5 L1300,333.5 L1300.3,327.5 L1300.7,328.4 L1301,327.9 L1301.4,329.2 L1301.7,324.4 L1302.1,332.4 L1302.4,330.9 L1302.8,318 L1303.1,343 L1303.5,330.3 L1303.8,329.9 L1304.2,327.8 L1304.5,328.4 L1304.9,329.7 L1305.2,327.7 L1305.6,327.9 L1305.9,327.6 L1306.3,327.7 L1306.6,325.3 L1307,326.1 L1307.3,329.4 L1307.7,330.7 L1308,328.5 L1308.4,324 L1308.7,324.3 L1309.1,329.3 L1309.4,332.8 L1309.8,331.7 L1310.1,328 L1310.5,327.5 L1310.8,327.2 L1311.2,332.6 L1311.5,329.1 L1311.9,326 L1312.2,330.5 L1312.6,330.4 L1312.9,324 L1313.3,326.9 L1313.6,331.4 L1314,331.7 L1314.3,323.5 L1314.7,329.8 L1315,332.4 L1315.4,331.5 L1315.7,328.3 L1316.1,330.6 L1316.4,333.1 L1316.8,333.1 L1317.1,329.8 L1317.5,336.7 L1317.8,333.5 L1318.2,329.3 L1318.5,332.3 L1318.9,329.2 L1319.2,331.9 L1319.6,334 L1319.9,338.9 L1320.3,335.4 L1320.6,335.6 L1321,336.5 L1321.3,335.2 L1321.7,333.2 L1322,337.8 L1322.4,336 L1322.7,338.4 L1323.1,337.3 L1323.4,332.5 L1323.8,333.4 L1324.1,333.6 L1324.5,333.7 L1324.8,335.6 L1325.2,334.3 L1325.5,332.8 L1325.9,338 L1326.2,338 L1326.6,334.9 L1326.9,332.2 L1327.3,333.1 L1327.6,332.8 L1328,332.9 L1328.3,332.2 L1328.7,334.9 L1329,335.2 L1329.4,335.4 L1329.7,332.4 L1330.1,334.9 L1330.4,338.2 L1330.8,335 L1331.1,333.4 L1331.5,338.1 L1331.8,335.2 L1332.2,332.8 L1332.5,336 L1332.9,332.6 L1333.2,333.2 L1333.6,336.2 L1333.9,332.8 L1334.3,330.7 L1334.6,335.3 L1335,335.7 L1335.3,331 L1335.7,332.9 L1336,336 L1336.4,334.4 L1336.7,335.4 L1337.1,333.4 L1337.4,332.1 L1337.8,332 L1338.1,332.5 L1338.5,333.4 L1338.8,329 L1339.2,328.9 L1339.5,332.5 L1339.9,334 L1340.2,332.2 L1340.6,332.3 L1340.9,330 L1341.3,329.1 L1341.6,332.2 L1342,331.9 L1342.3,331 L1342.7,329.4 L1343,332.3 L1343.4,332.2 L1343.7,331.9 L1344.1,332.3 L1344.4,331.8 L1344.8,333.8 L1345.1,333.7 L1345.5,336.5 L1345.8,336.1 L1346.2,333.1 L1346.5,330.5 L1346.9,334.4 L1347.2,332.1 L1347.6,336.5 L1347.9,330.5 L1348.3,332.5 L1348.6,336.8 L1349,333.9 L1349.3,321.5 L1349.7,335.5 L1350,333.3 L1350.4,336.1 L1350.7,332.8 L1351.1,334 L1351.4,339.4 L1351.8,334.9 L1352.1,336 L1352.5,333.2 L1352.8,338.3 L1353.2,334 L1353.5,334.3 L1353.9,334.8 L1354.2,334.2 L1354.6,333.4 L1354.9,335.9 L1355.3,335.7 L1355.6,336.7 L1356,335.1 L1356.3,335.3 L1356.7,336.6 L1357,337.5 L1357.4,335.6 L1357.7,337.5 L1358.1,337.2 L1358.4,340 L1358.8,339.4 L1359.1,339.1 L1359.5,340.3 L1359.8,337 L1360.2,341 L1360.5,338.9 L1360.9,337.4 L1361.2,339.3 L1361.6,336.4 L1361.9,342.3 L1362.3,339.5 L1362.6,335.8 L1363,336.5 L1363.3,337.9 L1363.7,337.9 L1364,340.1 L1364.4,341.2 L1364.7,341.6 L1365.1,340.7 L1365.4,337.6 L1365.8,341.8 L1366.1,342.3 L1366.5,336.2 L1366.8,338.4 L1367.2,339 L1367.5,338.2 L1367.9,342.1 L1368.2,341.1 L1368.6,340.3 L1368.9,337.6 L1369.3,336.5 L1369.6,338.1 L1370,338.5 L1370.3,338.5 L1370.7,336.7 L1371,337.1 L1371.4,339.6 L1371.7,341.4 L1372.1,339.7 L1372.4,340.3 L1372.8,340.7 L1373.1,340.8 L1373.5,343.4 L1373.8,339.5 L1374.2,341.4 L1374.5,338.4 L1374.9,343.3 L1375.2,342.7 L1375.6,343.2 L1375.9,341.5 L1376.3,341 L1376.6,338.8 L1377,341.8 L1377.3,175.5 L1377.7,341 L1378,200 L1378.4,338 L1378.7,342.3 L1379.1,340.1 L1379.4,341.2 L1379.8,343.1 L1380.1,341.4 L1380.5,344.9 L1380.8,341.9 L1381.2,342.9 L1381.5,340.8 L1381.9,340.9 L1382.2,341.1 L1382.6,342.6 L1382.9,344.7 L1383.3,342 L1383.6,339.6 L1384,340.7 L1384.3,339.4 L1384.7,342.5 L1385,341.9 L1385.4,340 L1385.7,341.1 L1386.1,343.3 L1386.4,342.7 L1386.8,340.9 L1387.1,343 L1387.5,342.5 L1387.8,341 L1388.2,342.1 L1388.5,344.7 L1388.9,340.2 L1389.2,343.4 L1389.6,341.7 L1389.9,342.8 L1390.3,342.5 L1390.6,342.3 L1391,341.6 L1391.3,341.9 L1391.7,343.1 L1392,342.9 L1392.4,340 L1392.7,343 L1393.1,344.6 L1393.4,344.1 L1393.8,343.1 L1394.1,340 L1394.5,343.7 L1394.8,344.1 L1395.2,345.5 L1395.5,341.8 L1395.9,342.9 L1396.2,342.6 L1396.6,343.1 L1396.9,340.9 L1397.3,342.9 L1397.6,343.1 L1398,342.5 L1398.3,346.5 L1398.7,343.3 L1399,343.5 L1399.4,346.1 L1399.7,343.7 L1400.1,346.4 L1400.4,345.5 L1400.8,343.8 L1401.1,343.7 L1401.5,345.2 L1401.8,344.8 L1402.2,345.4 L1402.5,344.5 L1402.9,346.4 L1403.2,344.6 L1403.6,344.9 L1403.9,345.5 L1404.3,343.9 L1404.6,345.5 L1405,345.8 L1405.3,344 L1405.7,343.5 L1406,348 L1406.4,345.8 L1406.7,345.9 L1407.1,345 L1407.4,348.4 L1407.8,345.7 L1408.1,343.1 L1408.5,346.5 L1408.8,344.3 L1409.2,346.3 L1409.5,345.5 L1409.9,335.5 L1410.2,346.4 L1410.6,344.9 L1410.9,347.7 L1411.3,348.3 L1411.6,344.9 L1412,347.3 L1412.3,346.3 L1412.7,346.4 L1413,343.8 L1413.4,344.1 L1413.7,348 L1414.1,346.2 L1414.4,345.1 L1414.8,348.8 L1415.1,348.1 L1415.5,347.3 L1415.8,344.6 L1416.2,346 L1416.5,348.5 L1416.9,343.4 L1417.2,343.6 L1417.6,344.9 L1417.9,347.8 L1418.3,346.8 L1418.6,347.2 L1419,346.8 L1419.3,346.7 L1419.7,348.4 L1420,349.3 L1420.4,347.6 L1420.7,348.7 L1421.1,346.1 L1421.4,349.1 L1421.8,347 L1422.1,347 L1422.5,346.1 L1422.8,345.6 L1423.2,345.9 L1423.5,345.3 L1423.9,344.9 L1424.2,349.6 L1424.6,347.8 L1424.9,348.5 L1425.3,347.8 L1425.6,345 L1426,347.2 L1426.3,346 L1426.7,346.2 L1427,347.4 L1427.4,348 L1427.7,348.1 L1428.1,348.3 L1428.4,347.8 L1428.8,348.4 L1429.1,350.5 L1429.5,351.4 L1429.8,350.7 L1430.2,348.7 L1430.5,349.7 L1430.9,350.8 L1431.2,351 L1431.6,351.6 L1431.9,351.8 L1432.3,350.5 L1432.6,349.5 L1433,347.5 L1433.3,351.8 L1433.7,351.4 L1434,349.1 L1434.4,350.6 L1434.7,350.1 L1435.1,350.1 L1435.4,353.9 L1435.8,350.7 L1436.1,354.3 L1436.5,351.4 L1436.8,350.3 L1437.2,351.9 L1437.5,354.9 L1437.9,351.9 L1438.2,353 L1438.6,348.9 L1438.9,352.8 L1439.3,349.5 L1439.6,351.5 L1440,354.3 L1440.3,351.4 L1440.7,353 L1441,351.3 L1441.4,350.9 L1441.7,352 L1442.1,353.5 L1442.4,351.7 L1442.8,351.3 L1443.1,349.4 L1443.5,347.9 L1443.8,351.2 L1444.2,350.7 L1444.5,351.5 L1444.9,353.1 L1445.2,352.7 L1445.6,349.2 L1445.9,350.8 L1446.3,349.5 L1446.6,346.4 L1447,338.7 L1447.3,339.8 L1447.7,341.7 L1448,345.1 L1448.4,337.6 L1448.7,330.3 L1449.1,347.7 L1449.4,339.5 L1449.8,336.2 L1450.1,342.7 L1450.5,344.2 L1450.8,338.9 L1451.2,335.1 L1451.5,334.9 L1451.9,344.8 L1452.2,338.5 L1452.6,342.9 L1452.9,326.1 L1453.3,334.7 L1453.6,336 L1454,334 L1454.3,357 L1454.7,334.8 L1455,351.8 L1455.4,342.3 L1455.7,330.3 L1456.1,332.8 L1456.4,327.2 L1456.8,340.5 L1457.1,100 L1457.5,356 L1457.8,346.3 L1458.2,100 L1458.5,352 L1458.9,328.4 L1459.2,333.2 L1459.6,346.9 L1459.9,329.5 L1460.3,346.6 L1460.6,330 L1461,360 L1461.3,334.8 L1461.7,329.3 L1462,338 L1462.4,358 L1462.7,335.2 L1463.1,329.2 L1463.4,340.9 L1463.8,327.8 L1464.1,334.9 L1464.5,337.8 L1464.8,337.5 L1465.2,338 L1465.5,335.3 L1465.9,327.5 L1466.2,335.9 L1466.6,335.2 L1466.9,334.5 L1467.3,337.6 L1467.6,339 L1468,336.7 L1468.3,342.2 L1468.7,343.3 L1469,337.4 L1469.4,334.4 L1469.7,330.3 L1470.1,338 L1470.4,328.9 L1470.8,342.5 L1471.1,340.3 L1471.5,334.1 L1471.8,338.7 L1472.2,332.8 L1472.5,331.7 L1472.9,338.9 L1473.2,332.5 L1473.6,337 L1473.9,335.9 L1474.3,342.2 L1474.6,337.9 L1475,342.3 L1475.3,340 L1475.7,334 L1476,332.3 L1476.4,330.7 L1476.7,336 L1477.1,329.8 L1477.4,332 L1477.8,328.9 L1478.1,331.9 L1478.5,336.6 L1478.8,330.6 L1479.2,331.1 L1479.5,331.1 L1479.9,333.4 L1480.2,326.6 L1480.6,331.8 L1480.9,330.9 L1481.3,326.9 L1481.6,326.5 L1482,334.6 L1482.3,332.7 L1482.7,331.1 L1483,325.6 L1483.4,326.9 L1483.7,322.7 L1484.1,320.9 L1484.4,325.2 L1484.8,324.8 L1485.1,322 L1485.5,321.9 L1485.8,328.2 L1486.2,325 L1486.5,320.1 L1486.9,334.1 L1487.2,319.7 L1487.6,326.9 L1487.9,322.1 L1488.3,328.7 L1488.6,326.4 L1489,330.1 L1489.3,325.6 L1489.7,322.4 L1490,331.3 L1490.4,325.4 L1490.7,324.3 L1491.1,324.4 L1491.4,321.8 L1491.8,326.1 L1492.1,331.9 L1492.5,331.3 L1492.8,326 L1493.2,327.2 L1493.5,327.5 L1493.9,321.5 L1494.2,330.2 L1494.6,325.2 L1494.9,316.4 L1495.3,325.8 L1495.6,319.6 L1496,324.4 L1496.3,326.2 L1496.7,321.8 L1497,324.1 L1497.4,328.8 L1497.7,316.9 L1498.1,315.2 L1498.4,319.2 L1498.8,321.2 L1499.1,330.3 L1499.5,326.9 L1499.8,324.5 L1500.2,321.4 L1500.5,314.4 L1500.9,315.1 L1501.2,319.6 L1501.6,322 L1501.9,319.2 L1502.3,321.5 L1502.6,324.3 L1503,318.1 L1503.3,319 L1503.7,316.6 L1504,326.4 L1504.4,313.6 L1504.7,323.4 L1505.1,324.7 L1505.4,313.6 L1505.8,318.4 L1506.1,325.9 L1506.5,317.2 L1506.8,318.3 L1507.2,320.7 L1507.5,327 L1507.9,324.2 L1508.2,318.1 L1508.6,314.7 L1508.9,313.9 L1509.3,322.2 L1509.6,313.6 L1510,317.9 L1510.3,323.6 L1510.7,315.7 L1511,319.3 L1511.4,320.4 L1511.7,324.4 L1512.1,315.1 L1512.4,321 L1512.8,320.7 L1513.1,321.5 L1513.5,313.9 L1513.8,322.9 L1514.2,317.3 L1514.5,320.3 L1514.9,317 L1515.2,329.2 L1515.6,321.3 L1515.9,328.9 L1516.3,318 L1516.6,318.8 L1517,326.7 L1517.3,318.6 L1517.7,321.7 L1518,325 L1518.4,318.1 L1518.7,316.2 L1519.1,317.9 L1519.4,323.6 L1519.8,321.1 L1520.1,324.8 L1520.5,317.8 L1520.8,316.3 L1521.2,313.2 L1521.5,316.6 L1521.9,315.4 L1522.2,317.3 L1522.6,313.5 L1522.9,313 L1523.3,316 L1523.6,321.7 L1524,316 L1524.3,314.5 L1524.7,321.5 L1525,323.2 L1525.4,315.7 L1525.7,315.4 L1526.1,309 L1526.4,308.9 L1526.8,315.6 L1527.1,322.3 L1527.5,324.2 L1527.8,319.7 L1528.2,313.3 L1528.5,317.2 L1528.9,308.1 L1529.2,313.7 L1529.6,308.6 L1529.9,313.6 L1530.3,320.2 L1530.6,321.9 L1531,314.5 L1531.3,314.7 L1531.7,304.8 L1532,308.7 L1532.4,318.9 L1532.7,317.5 L1533.1,315.6 L1533.4,313.4 L1533.8,318.8 L1534.1,309.7 L1534.5,309.3 L1534.8,318.9 L1535.2,306.2 L1535.5,311.4 L1535.9,307.4 L1536.2,316 L1536.6,307.6 L1536.9,306.5 L1537.3,306.3 L1537.6,311.6 L1538,302.6 L1538.3,299.5 L1538.7,305.9 L1539,304.7 L1539.4,308.9 L1539.7,304.4 L1540.1,302.6 L1540.4,307 L1540.8,308 L1541.1,311.1 L1541.5,306.3 L1541.8,297.3 L1542.2,305 L1542.5,305.7 L1542.9,305.2 L1543.2,308.5 L1543.6,304.4 L1543.9,311.6 L1544.3,304.5 L1544.6,313.1 L1545,300.1 L1545.3,296.9 L1545.7,299.9 L1546,315.7 L1546.4,305.1 L1546.7,305.1 L1547.1,307.2 L1547.4,303.5 L1547.8,307.2 L1548.1,307.1 L1548.5,317 L1548.8,314.5 L1549.2,309.7 L1549.5,312.2 L1549.9,312.3 L1550.2,303.4 L1550.6,315.6 L1550.9,306.9 L1551.3,314.9 L1551.6,312.1 L1552,316.7 L1552.3,320.2 L1552.7,316.2 L1553,310.5 L1553.4,311.6 L1553.7,317 L1554.1,312.3 L1554.4,312.6 L1554.8,314.6 L1555.1,313.8 L1555.5,318.8 L1555.8,313.5 L1556.2,316 L1556.5,311.6 L1556.9,306.5 L1557.2,318.8 L1557.6,320.1 L1557.9,312.5 L1558.3,318.5 L1558.6,316.2 L1559,308.8 L1559.3,319.5 L1559.7,306.1 L1560,313.1 L1560.4,316.9 L1560.7,308.7 L1561.1,320.1 L1561.4,310.9 L1561.8,318.2 L1562.1,312.3 L1562.5,315.4 L1562.8,312.4 L1563.2,319.7 L1563.5,314.5 L1563.9,316.7 L1564.2,315.6 L1564.6,313.2 L1564.9,311.1 L1565.3,313.9 L1565.6,316.7 L1566,316.4 L1566.3,314.7 L1566.7,311.4 L1567,315.2 L1567.4,307.1 L1567.7,311.4 L1568.1,303 L1568.4,307.6 L1568.8,310.6 L1569.1,304.1 L1569.5,305 L1569.8,316.2 L1570.2,314.4 L1570.5,317.6 L1570.9,318.2 L1571.2,315.3 L1571.6,316 L1571.9,313.3 L1572.3,318.6 L1572.6,303.3 L1573,310.1 L1573.3,317.1 L1573.7,316.4 L1574,312.1 L1574.4,309.7 L1574.7,316 L1575.1,310.8 L1575.4,305.2 L1575.8,317.6 L1576.1,309.9 L1576.5,312.7 L1576.8,303.2 L1577.2,302.6 L1577.5,313.9 L1577.9,321.3 L1578.2,303.2 L1578.6,309.4 L1578.9,315.6 L1579.3,314.1 L1579.6,313.5 L1580,313.1 L1580.3,308.5 L1580.7,318.8 L1581,318.8 L1581.4,315.9 L1581.7,305.3 L1582.1,321.8 L1582.4,314.4 L1582.8,317 L1583.1,322.8 L1583.5,321.4 L1583.8,314.8 L1584.2,320 L1584.5,318.2 L1584.9,312.7 L1585.2,315.9 L1585.6,307.5 L1585.9,308.2 L1586.3,316.4 L1586.6,322.4 L1587,312.1 L1587.3,321.4 L1587.7,317.4 L1588,324 L1588.4,315.6 L1588.7,324.2 L1589.1,319.6 L1589.4,316.3 L1589.8,318.4 L1590.1,310.2 L1590.5,318.7 L1590.8,316.1 L1591.2,319.8 L1591.5,316.7 L1591.9,310.9 L1592.2,311 L1592.6,314.9 L1592.9,312.9 L1593.3,321.2 L1593.6,314.1 L1594,319.6 L1594.3,317.6 L1594.7,323.9 L1595,318.8 L1595.4,319 L1595.7,314.6 L1596.1,319.4 L1596.4,320.8 L1596.8,318 L1597.1,320.9 L1597.5,314.9 L1597.8,317.5 L1598.2,319.8 L1598.5,317.5 L1598.9,322.7 L1599.2,321 L1599.6,316.7 L1599.9,315.4 L1600.3,318.5 L1600.6,316.3 L1601,317.3 L1601.3,315.1 L1601.7,321.1 L1602,319.5 L1602.4,319.9 L1602.7,321.5 L1603.1,313.6 L1603.4,318.8 L1603.8,318.2 L1604.1,320.9 L1604.5,320.5 L1604.8,320.4 L1605.2,322.6 L1605.5,313.4 L1605.9,315.1 L1606.2,321.8 L1606.6,322.8 L1606.9,316.1 L1607.3,321.3 L1607.6,320.8 L1608,314.2 L1608.3,316 L1608.7,318.7 L1609,317.6 L1609.4,322.6 L1609.7,319.6 L1610.1,320.2 L1610.4,315.7 L1610.8,313.8 L1611.1,315.4 L1611.5,321 L1611.8,321.9 L1612.2,315.1 L1612.5,316.5 L1612.9,312.1 L1613.2,320 L1613.6,313.4 L1613.9,318.9 L1614.3,320.1 L1614.6,313 L1615,313.9 L1615.3,318.1 L1615.7,319.9 L1616,314.9 L1616.4,313.2 L1616.7,316.7 L1617.1,319.2 L1617.4,313.1 L1617.8,313.5 L1618.1,318.5 L1618.5,314.7 L1618.8,313.4 L1619.2,315.3 L1619.5,316.5 L1619.9,317.9 L1620.2,316.1 L1620.6,315.4 L1620.9,311.2 L1621.3,316.7 L1621.6,317 L1622,316.3 L1622.3,315.9 L1622.7,316.2 L1623,318.5 L1623.4,315.3 L1623.7,313.1 L1624.1,318.5 L1624.4,315.5 L1624.8,315.7 L1625.1,317.7 L1625.5,316.1 L1625.8,316.6 L1626.2,314 L1626.5,320.3 L1626.9,313.7 L1627.2,320.5 L1627.6,314.1 L1627.9,315.3 L1628.3,316.3 L1628.6,319.8 L1629,318.3 L1629.3,316.6 L1629.7,314.5 L1630,319 L1630.4,318.4 L1630.7,319.9 L1631.1,319 L1631.4,318.6 L1631.8,322.3 L1632.1,322.1 L1632.5,324.9 L1632.8,323.1 L1633.2,319.2 L1633.5,325.4 L1633.9,323.9 L1634.2,323 L1634.6,318.7 L1634.9,320.6 L1635.3,323.6 L1635.6,321.5 L1636,323.8 L1636.3,324.8 L1636.7,323 L1637,320.1 L1637.4,324 L1637.7,323.9 L1638.1,321.9 L1638.4,317.1 L1638.8,318.2 L1639.1,324.7 L1639.5,321.5 L1639.8,316.5 L1640.2,321.2 L1640.5,321.6 L1640.9,322.7 L1641.2,321.1 L1641.6,319.9 L1641.9,314.3 L1642.3,309.2 L1642.6,312.2 L1643,320 L1643.3,304.2 L1643.7,315.8 L1644,304 L1644.4,303.1 L1644.7,309 L1645.1,303.5 L1645.4,305.3 L1645.8,300.4 L1646.1,306.9 L1646.5,311 L1646.8,298.5 L1647.2,308.6 L1647.5,308.1 L1647.9,310.2 L1648.2,296.1 L1648.6,309.9 L1648.9,299.1 L1649.3,303.4 L1649.6,302.4 L1650,299 L1650.3,299.5 L1650.7,300.1 L1651,305.2 L1651.4,308.6 L1651.7,302.6 L1652.1,308.5 L1652.4,305 L1652.8,310.6 L1653.1,296.1 L1653.5,303.9 L1653.8,303.1 L1654.2,303 L1654.5,306.3 L1654.9,309.3 L1655.2,306.1 L1655.6,308.4 L1655.9,304.6 L1656.3,305.6 L1656.6,303.6 L1657,312.5 L1657.3,311.8 L1657.7,314.6 L1658,306.7 L1658.4,308.1 L1658.7,317.6 L1659.1,315.2 L1659.4,304.4 L1659.8,313.6 L1660.1,312.8 L1660.5,310.4 L1660.8,310.6 L1661.2,308.4 L1661.5,309.6 L1661.9,308.7 L1662.2,307.1 L1662.6,310.1 L1662.9,308.3 L1663.3,314.3 L1663.6,315.8 L1664,311.4 L1664.3,310.5 L1664.7,314.1 L1665,311.5 L1665.4,318.4 L1665.7,305.6 L1666.1,305.6 L1666.4,307.4 L1666.8,313.3 L1667.1,314.6 L1667.5,310.3 L1667.8,311.8 L1668.2,310.8 L1668.5,313.5 L1668.9,318 L1669.2,306 L1669.6,317.9 L1669.9,315.8 L1670.3,311 L1670.6,313.5 L1671,312 L1671.3,313.7 L1671.7,313.9 L1672,315 L1672.4,309.4 L1672.7,314.5 L1673.1,310.7 L1673.4,311.8 L1673.8,315.6 L1674.1,311.9 L1674.5,314.2 L1674.8,314.5 L1675.2,314 L1675.5,309.8 L1675.9,315.2 L1676.2,314.6 L1676.6,319.8 L1676.9,311.3 L1677.3,317.6 L1677.6,313.4 L1678,313.7 L1678.3,320.1 L1678.7,314.8 L1679,317.6 L1679.4,315.7 L1679.7,312.6 L1680.1,314.7 L1680.4,314.2 L1680.8,315 L1681.1,321.3 L1681.5,317.7 L1681.8,310.9 L1682.2,321.6 L1682.5,317.8 L1682.9,319.3 L1683.2,321.5 L1683.6,314.6 L1683.9,317.8 L1684.3,316.7 L1684.6,316.2 L1685,316.4 L1685.3,317.8 L1685.7,321.1 L1686,320.3 L1686.4,318.9 L1686.7,321.7 L1687.1,313.1 L1687.4,318.1 L1687.8,319.5 L1688.1,319.6 L1688.5,323 L1688.8,319.6 L1689.2,323.1 L1689.5,318.9 L1689.9,321.3 L1690.2,319.9 L1690.6,319 L1690.9,321.2 L1691.3,321.6 L1691.6,317.6 L1692,322.8 L1692.3,319.7 L1692.7,320.7 L1693,315.7 L1693.4,320.3 L1693.7,316 L1694.1,323.2 L1694.4,319.1 L1694.8,320 L1695.1,320.9 L1695.5,317.9 L1695.8,321.6 L1696.2,318.5 L1696.5,321.3 L1696.9,324.5 L1697.2,325.9 L1697.6,326.5 L1697.9,322.2 L1698.3,320.1 L1698.6,324.1 L1699,327.3 L1699.3,321 L1699.7,326.8 L1700,323.2 L1700.4,318.9 L1700.7,323.5 L1701.1,328.5 L1701.4,326.1 L1701.8,327.1 L1702.1,325.5 L1702.5,319.9 L1702.8,319.8 L1703.2,322.3 L1703.5,323.6 L1703.9,323.6 L1704.2,322.7 L1704.6,327.1 L1704.9,329.3 L1705.3,321.1 L1705.6,322.5 L1706,325.3 L1706.3,325.2 L1706.7,321.3 L1707,330.7 L1707.4,328.5 L1707.7,327.4 L1708.1,321.8 L1708.4,327.1 L1708.8,322.1 L1709.1,328.1 L1709.5,327.8 L1709.8,327.3 L1710.2,328.4 L1710.5,325.9 L1710.9,327.9 L1711.2,323 L1711.6,329.4 L1711.9,327.5 L1712.3,332.7 L1712.6,328.8 L1713,323.6 L1713.3,332.2 L1713.7,326.8 L1714,325.6 L1714.4,328.5 L1714.7,332.3 L1715.1,333.6 L1715.4,328.3 L1715.8,329.8 L1716.1,329.9 L1716.5,327.7 L1716.8,328.1 L1717.2,329.2 L1717.5,329.5 L1717.9,334.1 L1718.2,325.3 L1718.6,331 L1718.9,331.2 L1719.3,333.9 L1719.6,329.5 L1720,329.4 L1720.3,330.7 L1720.7,329.1 L1721,329 L1721.4,328.9 L1721.7,329 L1722.1,328.2 L1722.4,329.3 L1722.8,329 L1723.1,340 L1723.5,327.7 L1723.8,333.8 L1724.2,332.5 L1724.5,331.6 L1724.9,328.9 L1725.2,333.4 L1725.6,331.4 L1725.9,331.8" fill="none" stroke="#f00" stroke-width="2.0" stroke-linejoin="round"/>
</g>
<line x1="1726" y1="110" x2="1726" y2="455" stroke="#1f77b4" stroke-width="2.0" stroke-dasharray="2.08 3.47"/>
<path d="M1800,110 H1205 V455 H1800" fill="none" stroke="#000" stroke-width="2"/>
<line x1="1800" y1="109" x2="1800" y2="456" stroke="#f00" stroke-width="2.0"/>
<rect x="1244" y="450" width="1" height="4" fill="#000"/>
<rect x="1319" y="450" width="1" height="4" fill="#000"/>
<rect x="1393" y="450" width="1" height="4" fill="#000"/>
<rect x="1467" y="450" width="1" height="4" fill="#000"/>
<rect x="1542" y="450" width="1" height="4" fill="#000"/>
<rect x="1616" y="450" width="1" height="4" fill="#000"/>
<rect x="1691" y="450" width="1" height="4" fill="#000"/>
<rect x="1765" y="450" width="1" height="4" fill="#000"/>
<text x="1200.7" y="462.2" font-size="20.0" text-anchor="end" fill="#000">−20</text>
<rect x="1206" y="411" width="4" height="1" fill="#000"/>
<text x="1200.7" y="419.1" font-size="20.0" text-anchor="end" fill="#000">−15</text>
<rect x="1206" y="368" width="4" height="1" fill="#000"/>
<text x="1200.7" y="375.9" font-size="20.0" text-anchor="end" fill="#000">−10</text>
<rect x="1206" y="325" width="4" height="1" fill="#000"/>
<text x="1200.7" y="332.8" font-size="20.0" text-anchor="end" fill="#000">−5</text>
<rect x="1206" y="282" width="4" height="1" fill="#000"/>
<text x="1200.7" y="289.7" font-size="20.0" text-anchor="end" fill="#000">0</text>
<rect x="1206" y="239" width="4" height="1" fill="#000"/>
<text x="1200.7" y="246.6" font-size="20.0" text-anchor="end" fill="#000">5</text>
<rect x="1206" y="196" width="4" height="1" fill="#000"/>
<text x="1200.7" y="203.4" font-size="20.0" text-anchor="end" fill="#000">10</text>
<rect x="1206" y="153" width="4" height="1" fill="#000"/>
<text x="1200.7" y="160.3" font-size="20.0" text-anchor="end" fill="#000">15</text>
<text x="1200.7" y="117.2" font-size="20.0" text-anchor="end" fill="#000">20</text>
<text x="1804.8" y="462.2" font-size="20.0" text-anchor="start" fill="#f00">0</text>
<rect x="1795" y="386" width="4" height="1" fill="#f00"/>
<text x="1804.8" y="393.2" font-size="20.0" text-anchor="start" fill="#f00">200</text>
<rect x="1795" y="317" width="4" height="1" fill="#f00"/>
<text x="1804.8" y="324.2" font-size="20.0" text-anchor="start" fill="#f00">400</text>
<rect x="1795" y="248" width="4" height="1" fill="#f00"/>
<text x="1804.8" y="255.2" font-size="20.0" text-anchor="start" fill="#f00">600</text>
<rect x="1795" y="179" width="4" height="1" fill="#f00"/>
<text x="1804.8" y="186.2" font-size="20.0" text-anchor="start" fill="#f00">800</text>
<text x="1804.8" y="117.2" font-size="20.0" text-anchor="start" fill="#f00">1000</text>
<text x="1116" y="282.3" font-size="24.0" text-anchor="middle" fill="#000" transform="rotate(-90 1116 282.3)">IMF Bz</text>
<text x="1147" y="282.3" font-size="24.0" text-anchor="middle" fill="#000" transform="rotate(-90 1147 282.3)">( nT )</text>
<text x="1878.2" y="282.3" font-size="24.0" text-anchor="middle" fill="#f00" transform="rotate(-90 1878.2 282.3)">SW Velocity</text>
<text x="1911.2" y="282.3" font-size="24.0" text-anchor="middle" fill="#f00" transform="rotate(-90 1911.2 282.3)">( km s<tspan dy="-8.4" font-size="16.8">−1</tspan><tspan dy="8.4"> )</tspan></text>
<clipPath id="cr"><rect x="1205" y="478" width="595" height="344"/></clipPath>
<line x1="1205" y1="512.1" x2="1800" y2="512.1" stroke="#000" stroke-width="2.0" stroke-dasharray="2.08 3.47"/>
<g clip-path="url(#cr)">
<path d="M1205.5,648 L1205.8,624.1 L1206.1,638 L1206.4,642.6 L1206.7,637.1 L1207,663.4 L1207.3,636.2 L1207.6,650.6 L1207.9,650.1 L1208.2,644.2 L1208.5,654.3 L1208.8,652.7 L1209.1,641.1 L1209.4,664.6 L1209.7,645.5 L1210,654.6 L1210.3,631.3 L1210.6,630.6 L1210.9,646.1 L1211.2,668.9 L1211.5,630 L1211.8,626.1 L1212.1,631.7 L1212.4,636.8 L1212.7,644.3 L1213,658.7 L1213.3,643 L1213.6,652 L1213.9,644.7 L1214.2,635.5 L1214.5,635.7 L1214.8,649.1 L1215.1,645.8 L1215.4,661.3 L1215.7,646.8 L1216,640.7 L1216.3,629.3 L1216.6,629 L1216.9,644.9 L1217.2,645.5 L1217.5,663.4 L1217.8,633.9 L1218.1,648.3 L1218.4,639.4 L1218.7,615.8 L1219,620 L1219.3,640.4 L1219.6,633.6 L1219.9,628.4 L1220.2,652.3 L1220.5,636 L1220.8,641.2 L1221.1,648.1 L1221.4,631.4 L1221.7,644.7 L1222,617.2 L1222.3,616 L1222.6,648.4 L1222.9,653.9 L1223.2,646.1 L1223.5,624.1 L1223.8,627.3 L1224.1,619 L1224.4,617.7 L1224.7,632.1 L1225,624.6 L1225.3,646.2 L1225.6,610 L1225.9,620.5 L1226.2,611.4 L1226.5,608.9 L1226.8,651.3 L1227.1,650.9 L1227.4,635.7 L1227.7,635.2 L1228,635.7 L1228.3,627.5 L1228.6,602.6 L1228.9,602.3 L1229.2,628.8 L1229.5,601.8 L1229.8,639 L1230.1,635.5 L1230.4,628 L1230.7,627.6 L1231,631.3 L1231.3,614.5 L1231.6,644.6 L1231.9,623.6 L1232.2,613.9 L1232.5,650.7 L1232.8,634.2 L1233.1,636.7 L1233.4,650.8 L1233.7,658.8 L1234,639.7 L1234.3,640.5 L1234.6,619.9 L1234.9,640.5 L1235.2,669 L1235.5,636.1 L1235.8,631.6 L1236.1,622.8 L1236.4,626.5 L1236.7,627.6 L1237,647.9 L1237.3,654.5 L1237.6,628.8 L1237.9,655.7 L1238.2,671.4 L1238.5,667.6 L1238.8,646.5 L1239.1,666.1 L1239.4,651.5 L1239.7,643.2 L1240,639.8 L1240.3,639.6 L1240.6,654.7 L1240.9,668.3 L1241.2,643.3 L1241.5,644.1 L1241.8,675.7 L1242.1,654.2 L1242.4,686.4 L1242.7,673.9 L1243,648.8 L1243.3,678.2 L1243.6,683.3 L1243.9,646.4 L1244.2,663.5 L1244.5,689.5 L1244.8,650.2 L1245.1,675.8 L1245.4,677.8 L1245.7,698.6 L1246,697.5 L1246.3,670.2 L1246.6,650.9 L1246.9,667.2 L1247.2,676.9 L1247.5,676.5 L1247.8,669.8 L1248.1,660.5 L1248.4,698.9 L1248.7,673.5 L1249,664.7 L1249.3,679.2 L1249.6,688.5 L1249.9,678.2 L1250.2,693.4 L1250.5,663.1 L1250.8,681.2 L1251.1,695.6 L1251.4,672.4 L1251.7,680.1 L1252,689.2 L1252.3,688 L1252.6,679.6 L1252.9,658.7 L1253.2,662.1 L1253.5,677.1 L1253.8,673.6 L1254.1,673.2 L1254.4,669.6 L1254.7,653.3 L1255,684.7 L1255.3,660.5 L1255.6,698.9 L1255.9,700.4 L1256.2,691.4 L1256.5,683.2 L1256.8,665.9 L1257.1,658.7 L1257.4,665.6 L1257.7,685.4 L1258,673.2 L1258.3,648.9 L1258.6,678.7 L1258.9,663.6 L1259.2,679 L1259.5,669.2 L1259.8,657.5 L1260.1,660 L1260.4,674.6 L1260.7,659.2 L1261,680.9 L1261.3,656.1 L1261.6,679.6 L1261.9,649.7 L1262.2,649.8 L1262.5,669.7 L1262.8,682.3 L1263.1,662.9 L1263.4,673.7 L1263.7,655.3 L1264,652.7 L1264.3,664.4 L1264.6,684.1 L1264.9,665.2 L1265.2,648.1 L1265.5,648.2 L1265.8,662.6 L1266.1,673 L1266.4,663.5 L1266.7,668.5 L1267,658.9 L1267.3,680.2 L1267.6,674.3 L1267.9,652.7 L1268.2,660 L1268.5,680.4 L1268.8,669.3 L1269.1,651.6 L1269.4,662.1 L1269.7,663 L1270,652.3 L1270.3,671.6 L1270.6,685.1 L1270.9,665.6 L1271.2,660 L1271.5,667 L1271.8,665.1 L1272.1,669.5 L1272.4,676.7 L1272.7,654.4 L1273,661.7 L1273.3,690.9 L1273.6,672.5 L1273.9,673.5 L1274.2,676.4 L1274.5,663.9 L1274.8,656.4 L1275.1,692.8 L1275.4,676.2 L1275.7,662.5 L1276,682.9 L1276.3,670.5 L1276.6,663.5 L1276.9,667.7 L1277.2,658.7 L1277.5,661.9 L1277.8,686.1 L1278.1,677.7 L1278.4,673.1 L1278.7,691.1 L1279,686.3 L1279.3,674.1 L1279.6,659.4 L1279.9,669.2 L1280.2,691.8 L1280.5,662.7 L1280.8,694 L1281.1,678.2 L1281.4,662.4 L1281.7,671.8 L1282,695.6 L1282.3,673.5 L1282.6,684.3 L1282.9,689.2 L1283.2,675.3 L1283.5,692.5 L1283.8,699.1 L1284.1,692.3 L1284.4,661.8 L1284.7,682.7 L1285,690.6 L1285.3,693.7 L1285.6,703.6 L1285.9,688.2 L1286.2,683.4 L1286.5,662.6 L1286.8,664.7 L1287.1,695.7 L1287.4,669.2 L1287.7,678.6 L1288,663.1 L1288.3,677.4 L1288.6,666.7 L1288.9,688.5 L1289.2,683.5 L1289.5,689 L1289.8,664 L1290.1,679.8 L1290.4,695.6 L1290.7,663.2 L1291,671 L1291.3,680.7 L1291.6,694.1 L1291.9,692.1 L1292.2,692 L1292.5,687.7 L1292.8,693.1 L1293.1,680.3 L1293.4,679.4 L1293.7,664.1 L1294,675.8 L1294.3,676 L1294.6,701.1 L1294.9,665.9 L1295.2,681.5 L1295.5,675 L1295.8,678.9 L1296.1,693.6 L1296.4,678.6 L1296.7,664.6 L1297,677.5 L1297.3,690.9 L1297.6,682.7 L1297.9,687.1 L1298.2,657.7 L1298.5,687.4 L1298.8,669.1 L1299.1,654.2 L1299.4,677.1 L1299.7,647 L1300,674.9 L1300.3,704.4 L1300.6,662.2 L1300.9,649 L1301.2,693.5 L1301.5,687.3 L1301.8,692.2 L1302.1,625 L1302.4,637.6 L1302.7,714.2 L1303,645.2 L1303.3,647.7 L1303.6,665.6 L1303.9,669.7 L1304.2,657.2 L1304.5,616.6 L1304.8,669 L1305.1,630.3 L1305.4,681.6 L1305.7,692 L1306,636.5 L1306.3,659.3 L1306.6,692.2 L1306.9,690.5 L1307.2,678.5 L1307.5,649.5 L1307.8,662.2 L1308.1,641.6 L1308.4,675 L1308.7,661.1 L1309,673.6 L1309.3,634.4 L1309.6,644.7 L1309.9,647.4 L1310.2,649.4 L1310.5,639.1 L1310.8,659.7 L1311.1,640.4 L1311.4,676 L1311.7,653.6 L1312,650.3 L1312.3,647.2 L1312.6,662.5 L1312.9,661.2 L1313.2,651.4 L1313.5,638.9 L1313.8,649.5 L1314.1,647 L1314.4,656.4 L1314.7,517.1 L1315,666.7 L1315.3,645.6 L1315.6,659.9 L1315.9,656.3 L1316.2,670.1 L1316.5,657.8 L1316.8,667.9 L1317.1,657.9 L1317.4,658.5 L1317.7,652.7 L1318,638.7 L1318.3,663.6 L1318.6,663.2 L1318.9,685.9 L1319.2,673.3 L1319.5,688.9 L1319.8,689.9 L1320.1,673.4 L1320.4,651.9 L1320.7,662.3 L1321,683.5 L1321.3,669.1 L1321.6,687 L1321.9,665.3 L1322.2,671.1 L1322.5,685.6 L1322.8,682.6 L1323.1,676.8 L1323.4,674.9 L1323.7,682 L1324,669.7 L1324.3,686.5 L1324.6,662.2 L1324.9,696.4 L1325.2,678.8 L1325.5,657.5 L1325.8,644.1 L1326.1,652.8 L1326.4,671 L1326.7,662.8 L1327,687.9 L1327.3,666.3 L1327.6,653.1 L1327.9,663.4 L1328.2,660.8 L1328.5,666 L1328.8,651.6 L1329.1,665.9 L1329.4,645.1 L1329.7,669.1 L1330,667.8 L1330.3,667.3 L1330.6,657.2 L1330.9,667.8 L1331.2,672.8 L1331.5,645.7 L1331.8,682.1 L1332.1,668.9 L1332.4,677.1 L1332.7,693.5 L1333,653.9 L1333.3,653.6 L1333.6,654.2 L1333.9,669.1 L1334.2,655.2 L1334.5,655.9 L1334.8,693.5 L1335.1,668.9 L1335.4,675.9 L1335.7,685 L1336,692.1 L1336.3,650 L1336.6,671.9 L1336.9,679.3 L1337.2,684.7 L1337.5,658.2 L1337.8,658.5 L1338.1,667.3 L1338.4,665.5 L1338.7,659.1 L1339,653.5 L1339.3,659.9 L1339.6,657.5 L1339.9,665 L1340.2,651.6 L1340.5,643.4 L1340.8,650.9 L1341.1,654.9 L1341.4,680 L1341.7,653.3 L1342,631.5 L1342.3,682.4 L1342.6,679 L1342.9,667.5 L1343.2,664.1 L1343.5,656 L1343.8,684.4 L1344.1,636.1 L1344.4,663.5 L1344.7,665.9 L1345,678 L1345.3,653.7 L1345.6,676.7 L1345.9,659.6 L1346.2,631.6 L1346.5,625.2 L1346.8,666 L1347.1,624.1 L1347.4,635.7 L1347.7,673.5 L1348,625.1 L1348.3,650.2 L1348.6,672 L1348.9,671.5 L1349.2,658.4 L1349.5,624.1 L1349.8,670.9 L1350.1,652.5 L1350.4,641.1 L1350.7,616.8 L1351,606 L1351.3,642.4 L1351.6,630.8 L1351.9,608 L1352.2,653.8 L1352.5,646.2 L1352.8,629.6 L1353.1,632 L1353.4,650.1 L1353.7,651.3 L1354,626.4 L1354.3,656 L1354.6,640 L1354.9,624.9 L1355.2,638.5 L1355.5,642.8 L1355.8,661.7 L1356.1,655.7 L1356.4,617.8 L1356.7,621.4 L1357,653.5 L1357.3,649.1 L1357.6,630.7 L1357.9,635.9 L1358.2,666.6 L1358.5,622.4 L1358.8,659.1 L1359.1,661.1 L1359.4,638.6 L1359.7,640.3 L1360,648.7 L1360.3,645.4 L1360.6,649.4 L1360.9,660.1 L1361.2,635.6 L1361.5,641.5 L1361.8,648.2 L1362.1,636 L1362.4,640 L1362.7,661.2 L1363,616.9 L1363.3,641.2 L1363.6,631.9 L1363.9,621.8 L1364.2,633.6 L1364.5,643.2 L1364.8,650.4 L1365.1,627.5 L1365.4,645.7 L1365.7,659.2 L1366,641.3 L1366.3,647.3 L1366.6,643.7 L1366.9,646 L1367.2,621.4 L1367.5,651.7 L1367.8,642.8 L1368.1,657.6 L1368.4,648.9 L1368.7,620.8 L1369,649.6 L1369.3,656.9 L1369.6,655.6 L1369.9,637.3 L1370.2,636.6 L1370.5,666.2 L1370.8,639.7 L1371.1,664.8 L1371.4,659 L1371.7,649.5 L1372,655.7 L1372.3,656.8 L1372.6,674.3 L1372.9,657.1 L1373.2,664.2 L1373.5,661.5 L1373.8,673.6 L1374.1,689 L1374.4,632 L1374.7,671.7 L1375,646.1 L1375.3,656.1 L1375.6,658.5 L1375.9,711.7 L1376.2,713.6 L1376.5,659.5 L1376.8,652.7 L1377.1,713.1 L1377.4,685.5 L1377.7,715.1 L1378,648.1 L1378.3,699 L1378.6,654.4 L1378.9,618.9 L1379.2,679.9 L1379.5,644.5 L1379.8,684.4 L1380.1,663.9 L1380.4,697.8 L1380.7,644.8 L1381,638.7 L1381.3,697.4 L1381.6,694.7 L1381.9,677.8 L1382.2,650.8 L1382.5,685.2 L1382.8,693.5 L1383.1,673.6 L1383.4,669 L1383.7,661.9 L1384,678.6 L1384.3,672.5 L1384.6,650.6 L1384.9,659.4 L1385.2,684 L1385.5,655.6 L1385.8,672.5 L1386.1,685.3 L1386.4,682.2 L1386.7,644 L1387,674.5 L1387.3,651 L1387.6,641.8 L1387.9,668 L1388.2,640.3 L1388.5,659 L1388.8,684.4 L1389.1,675.4 L1389.4,662.8 L1389.7,678.8 L1390,665.4 L1390.3,676.1 L1390.6,682.4 L1390.9,646.1 L1391.2,688 L1391.5,660.6 L1391.8,660.9 L1392.1,662.6 L1392.4,654 L1392.7,649.7 L1393,666.8 L1393.3,648.3 L1393.6,665.3 L1393.9,671.3 L1394.2,649.9 L1394.5,651.9 L1394.8,666 L1395.1,658.4 L1395.4,667.9 L1395.7,658.2 L1396,653.1 L1396.3,654.4 L1396.6,662.2 L1396.9,675 L1397.2,636.6 L1397.5,649.5 L1397.8,652.1 L1398.1,647.2 L1398.4,651 L1398.7,671.8 L1399,667.5 L1399.3,652.4 L1399.6,641 L1399.9,661.1 L1400.2,663.7 L1400.5,646.2 L1400.8,659.1 L1401.1,662.5 L1401.4,665 L1401.7,654.1 L1402,662.4 L1402.3,657.2 L1402.6,665.4 L1402.9,661.1 L1403.2,664 L1403.5,659.3 L1403.8,656.8 L1404.1,660.7 L1404.4,666.3 L1404.7,657 L1405,662.1 L1405.3,672.7 L1405.6,656.6 L1405.9,649.1 L1406.2,651.5 L1406.5,657.2 L1406.8,660.2 L1407.1,648.2 L1407.4,648.4 L1407.7,665.3 L1408,650.8 L1408.3,665.5 L1408.6,671.2 L1408.9,649.6 L1409.2,663.8 L1409.5,662.5 L1409.8,659.7 L1410.1,533.9 L1410.4,666.7 L1410.7,666.6 L1411,674.7 L1411.3,666.6 L1411.6,654.8 L1411.9,672.5 L1412.2,672.4 L1412.5,674.9 L1412.8,667.7 L1413.1,670.7 L1413.4,675.6 L1413.7,665.4 L1414,660.5 L1414.3,674.3 L1414.6,663.6 L1414.9,672.8 L1415.2,662.5 L1415.5,662.1 L1415.8,667.3 L1416.1,668.1 L1416.4,661.3 L1416.7,676.7 L1417,664.6 L1417.3,671.3 L1417.6,661 L1417.9,662.2 L1418.2,662.7 L1418.5,668.1 L1418.8,668.9 L1419.1,667.2 L1419.4,668.3 L1419.7,675.1 L1420,676 L1420.3,666.1 L1420.6,669.6 L1420.9,672.6 L1421.2,675.2 L1421.5,674.1 L1421.8,667.4 L1422.1,666.9 L1422.4,670.3 L1422.7,674.3 L1423,662 L1423.3,661.4 L1423.6,666.4 L1423.9,671.2 L1424.2,665.5 L1424.5,666.9 L1424.8,663.9 L1425.1,675.4 L1425.4,657 L1425.7,670.2 L1426,665.9 L1426.3,672 L1426.6,674.2 L1426.9,657.3 L1427.2,680.6 L1427.5,685.4 L1427.8,688.7 L1428.1,682.6 L1428.4,683.5 L1428.7,680.2 L1429,690 L1429.3,662.6 L1429.6,672.3 L1429.9,665 L1430.2,682.1 L1430.5,677.5 L1430.8,690 L1431.1,677 L1431.4,672.4 L1431.7,671.8 L1432,666 L1432.3,657.3 L1432.6,670.9 L1432.9,668.7 L1433.2,668.2 L1433.5,663.1 L1433.8,672.5 L1434.1,662.6 L1434.4,674 L1434.7,670.2 L1435,668.9 L1435.3,656.9 L1435.6,673.5 L1435.9,679.9 L1436.2,671.2 L1436.5,666.1 L1436.8,676.4 L1437.1,678.8 L1437.4,671 L1437.7,685.5 L1438,684.4 L1438.3,685.1 L1438.6,675.7 L1438.9,676 L1439.2,662 L1439.5,667.1 L1439.8,670.2 L1440.1,676 L1440.4,666 L1440.7,661.9 L1441,678.8 L1441.3,671.2 L1441.6,677.5 L1441.9,670.8 L1442.2,664 L1442.5,668.2 L1442.8,655 L1443.1,674.7 L1443.4,672.3 L1443.7,677.2 L1444,659.3 L1444.3,681 L1444.6,677.6 L1444.9,623.5 L1445.2,617.7 L1445.5,647.6 L1445.8,612.6 L1446.1,633.7 L1446.4,632.5 L1446.7,602.9 L1447,562.6 L1447.3,633.9 L1447.6,614.9 L1447.9,561.6 L1448.2,599.2 L1448.5,599.5 L1448.8,591.1 L1449.1,546.9 L1449.4,559.9 L1449.7,548.3 L1450,546.5 L1450.3,551.2 L1450.6,611.5 L1450.9,563.4 L1451.2,629.7 L1451.5,573.3 L1451.8,528.5 L1452.1,627.3 L1452.4,551.4 L1452.7,525 L1453,602.1 L1453.3,546.8 L1453.6,576.8 L1453.9,605.8 L1454.2,554.7 L1454.5,523.6 L1454.8,603.9 L1455.1,541.5 L1455.4,534.7 L1455.7,545.4 L1456,566.7 L1456.3,537.7 L1456.6,519.9 L1456.9,563.6 L1457.2,562.2 L1457.5,514.3 L1457.8,542.4 L1458.1,577.8 L1458.4,577.5 L1458.7,569.5 L1459,566.6 L1459.3,582.2 L1459.6,614.7 L1459.9,624.4 L1460.2,527.9 L1460.5,591.7 L1460.8,594.9 L1461.1,629.8 L1461.4,555.9 L1461.7,618.3 L1462,571.6 L1462.3,547 L1462.6,581.2 L1462.9,622.9 L1463.2,592.6 L1463.5,573.4 L1463.8,630.8 L1464.1,612.1 L1464.4,615.6 L1464.7,595 L1465,613.9 L1465.3,590.8 L1465.6,587.4 L1465.9,604.5 L1466.2,614.6 L1466.5,646.7 L1466.8,609.5 L1467.1,598.6 L1467.4,591.2 L1467.7,641.8 L1468,630.3 L1468.3,638.6 L1468.6,658.5 L1468.9,684.6 L1469.2,615.5 L1469.5,686.2 L1469.8,676.4 L1470.1,614 L1470.4,636.3 L1470.7,642.6 L1471,674.1 L1471.3,623.4 L1471.6,685.4 L1471.9,624.2 L1472.2,636.4 L1472.5,632.7 L1472.8,619.2 L1473.1,621.5 L1473.4,633.5 L1473.7,644.2 L1474,638.3 L1474.3,631.9 L1474.6,619.6 L1474.9,643.9 L1475.2,692.3 L1475.5,693.3 L1475.8,688.2 L1476.1,654.5 L1476.4,671.8 L1476.7,651.7 L1477,652.1 L1477.3,665.2 L1477.6,684.1 L1477.9,654.2 L1478.2,647.8 L1478.5,659.4 L1478.8,632.2 L1479.1,674.1 L1479.4,680.7 L1479.7,683.5 L1480,675.7 L1480.3,650.5 L1480.6,654 L1480.9,642.4 L1481.2,661.6 L1481.5,683.6 L1481.8,645.6 L1482.1,665.9 L1482.4,678 L1482.7,643.3 L1483,678.7 L1483.3,649.2 L1483.6,653.2 L1483.9,660.5 L1484.2,668.5 L1484.5,667.9 L1484.8,653.6 L1485.1,646.5 L1485.4,633 L1485.7,645.5 L1486,674.2 L1486.3,646.7 L1486.6,666.6 L1486.9,669 L1487.2,661.3 L1487.5,649.2 L1487.8,648.1 L1488.1,656.3 L1488.4,631.5 L1488.7,678.9 L1489,642.9 L1489.3,646.5 L1489.6,647 L1489.9,652.9 L1490.2,665.6 L1490.5,682 L1490.8,666.2 L1491.1,689.7 L1491.4,656.4 L1491.7,673.2 L1492,677.2 L1492.3,665.4 L1492.6,674.7 L1492.9,648.7 L1493.2,686.2 L1493.5,680.7 L1493.8,667.4 L1494.1,654.6 L1494.4,676.7 L1494.7,639.3 L1495,671.3 L1495.3,677.5 L1495.6,688.2 L1495.9,659.5 L1496.2,681.9 L1496.5,669 L1496.8,624.3 L1497.1,625.3 L1497.4,639.1 L1497.7,671.4 L1498,679.1 L1498.3,647.6 L1498.6,656.2 L1498.9,652.4 L1499.2,617.3 L1499.5,661 L1499.8,671.6 L1500.1,615.3 L1500.4,623.1 L1500.7,639.5 L1501,641.6 L1501.3,662.1 L1501.6,666.7 L1501.9,637.4 L1502.2,656.5 L1502.5,635.6 L1502.8,639.8 L1503.1,650.3 L1503.4,657.2 L1503.7,637.7 L1504,683.2 L1504.3,655.6 L1504.6,650 L1504.9,663.4 L1505.2,640.3 L1505.5,655.2 L1505.8,622.2 L1506.1,622.6 L1506.4,642 L1506.7,643.1 L1507,645.6 L1507.3,641.1 L1507.6,663.1 L1507.9,677 L1508.2,648.1 L1508.5,673.3 L1508.8,669 L1509.1,635.5 L1509.4,630.4 L1509.7,655.6 L1510,677 L1510.3,643.5 L1510.6,625.5 L1510.9,666.7 L1511.2,680.3 L1511.5,656.4 L1511.8,676.9 L1512.1,685.5 L1512.4,646.7 L1512.7,649.8 L1513,650.1 L1513.3,674.7 L1513.6,644.4 L1513.9,650.3 L1514.2,676.9 L1514.5,675 L1514.8,675.2 L1515.1,643.2 L1515.4,661.7 L1515.7,647.2 L1516,669.1 L1516.3,664.6 L1516.6,667 L1516.9,653.6 L1517.2,656.9 L1517.5,660.6 L1517.8,652 L1518.1,658.8 L1518.4,640.5 L1518.7,635.6 L1519,630.2 L1519.3,648.9 L1519.6,664.7 L1519.9,660.3 L1520.2,630.3 L1520.5,655.7 L1520.8,653.5 L1521.1,650.4 L1521.4,655.1 L1521.7,659.9 L1522,670.3 L1522.3,669.4 L1522.6,671.3 L1522.9,661.2 L1523.2,644.9 L1523.5,666.7 L1523.8,637.8 L1524.1,659.4 L1524.4,639 L1524.7,642.1 L1525,664.4 L1525.3,643.7 L1525.6,662.6 L1525.9,658.9 L1526.2,648.6 L1526.5,658.9 L1526.8,658 L1527.1,651.8 L1527.4,640.6 L1527.7,659 L1528,645.1 L1528.3,645.6 L1528.6,654.1 L1528.9,647.1 L1529.2,651.3 L1529.5,652.2 L1529.8,651.9 L1530.1,649.6 L1530.4,667.5 L1530.7,641.8 L1531,639.8 L1531.3,627 L1531.6,620.6 L1531.9,652.5 L1532.2,654 L1532.5,668.9 L1532.8,625.2 L1533.1,631.2 L1533.4,630.7 L1533.7,670.2 L1534,662.8 L1534.3,643.5 L1534.6,639.3 L1534.9,649.3 L1535.2,625.7 L1535.5,647.7 L1535.8,625.7 L1536.1,643.3 L1536.4,655 L1536.7,649 L1537,631.1 L1537.3,636.4 L1537.6,655.9 L1537.9,634.6 L1538.2,617.3 L1538.5,634.8 L1538.8,632.2 L1539.1,632.5 L1539.4,641.6 L1539.7,635.7 L1540,635 L1540.3,658 L1540.6,654.3 L1540.9,660.9 L1541.2,645.2 L1541.5,635.1 L1541.8,646.9 L1542.1,615.1 L1542.4,617.9 L1542.7,655.3 L1543,633.9 L1543.3,628.3 L1543.6,619.6 L1543.9,648 L1544.2,619.3 L1544.5,662.9 L1544.8,647.6 L1545.1,609.7 L1545.4,628.2 L1545.7,620.3 L1546,650.1 L1546.3,652.7 L1546.6,632.9 L1546.9,627.8 L1547.2,648.7 L1547.5,629.6 L1547.8,666.8 L1548.1,631 L1548.4,647.5 L1548.7,609.9 L1549,645.5 L1549.3,630.3 L1549.6,646.2 L1549.9,664.1 L1550.2,641.2 L1550.5,611.8 L1550.8,612.1 L1551.1,508.7 L1551.4,653.4 L1551.7,619.8 L1552,659.7 L1552.3,640.7 L1552.6,660.1 L1552.9,661.8 L1553.2,638.2 L1553.5,645.5 L1553.8,622.8 L1554.1,648.9 L1554.4,643.9 L1554.7,671.8 L1555,661.6 L1555.3,643.2 L1555.6,632.5 L1555.9,639.6 L1556.2,644.2 L1556.5,657.5 L1556.8,663.4 L1557.1,626.9 L1557.4,626.1 L1557.7,649 L1558,625.9 L1558.3,641.6 L1558.6,620 L1558.9,636.7 L1559.2,636.6 L1559.5,638.6 L1559.8,633.8 L1560.1,650 L1560.4,657.2 L1560.7,655.2 L1561,640.6 L1561.3,638.5 L1561.6,633.3 L1561.9,632 L1562.2,639.2 L1562.5,639.7 L1562.8,639.2 L1563.1,644.6 L1563.4,652.7 L1563.7,634.9 L1564,637.9 L1564.3,647.5 L1564.6,644.1 L1564.9,632.1 L1565.2,626.7 L1565.5,646.4 L1565.8,629.6 L1566.1,643.6 L1566.4,630.1 L1566.7,656.7 L1567,631 L1567.3,656.3 L1567.6,648.2 L1567.9,653.5 L1568.2,653.5 L1568.5,647.1 L1568.8,638.3 L1569.1,659.6 L1569.4,639.6 L1569.7,643.9 L1570,626.4 L1570.3,640.9 L1570.6,650.4 L1570.9,635 L1571.2,644.9 L1571.5,640.4 L1571.8,639.3 L1572.1,653.5 L1572.4,659.2 L1572.7,635.8 L1573,620.5 L1573.3,651.1 L1573.6,629.5 L1573.9,637.8 L1574.2,632.5 L1574.5,663.9 L1574.8,677.6 L1575.1,642.1 L1575.4,678.2 L1575.7,655.5 L1576,643.8 L1576.3,668.7 L1576.6,679.5 L1576.9,649.2 L1577.2,644.1 L1577.5,679.2 L1577.8,669.7 L1578.1,623 L1578.4,642.9 L1578.7,635.4 L1579,638.8 L1579.3,652.4 L1579.6,642.9 L1579.9,643.4 L1580.2,683.2 L1580.5,625.8 L1580.8,652.9 L1581.1,663.8 L1581.4,626.8 L1581.7,629.1 L1582,629.5 L1582.3,666.3 L1582.6,634.3 L1582.9,660.3 L1583.2,631.9 L1583.5,628.1 L1583.8,658.7 L1584.1,668.5 L1584.4,630.4 L1584.7,632.6 L1585,655.5 L1585.3,636.1 L1585.6,630.9 L1585.9,631.9 L1586.2,656.2 L1586.5,625.3 L1586.8,679.1 L1587.1,682.5 L1587.4,677.8 L1587.7,652 L1588,641.6 L1588.3,661.2 L1588.6,635.4 L1588.9,682.2 L1589.2,646.6 L1589.5,672.6 L1589.8,668.8 L1590.1,647.7 L1590.4,649.1 L1590.7,639.5 L1591,653.9 L1591.3,663.4 L1591.6,658.8 L1591.9,648.3 L1592.2,653.7 L1592.5,673.6 L1592.8,670.1 L1593.1,663.5 L1593.4,645.1 L1593.7,645.8 L1594,660.9 L1594.3,648.8 L1594.6,643 L1594.9,673.9 L1595.2,657.7 L1595.5,657.9 L1595.8,645.8 L1596.1,658.3 L1596.4,665.9 L1596.7,658.9 L1597,633.6 L1597.3,645 L1597.6,660.2 L1597.9,657.4 L1598.2,667.3 L1598.5,650.9 L1598.8,652.5 L1599.1,665 L1599.4,653.9 L1599.7,664.1 L1600,634.1 L1600.3,639.6 L1600.6,662.8 L1600.9,663.5 L1601.2,662.9 L1601.5,664.4 L1601.8,664.5 L1602.1,641.7 L1602.4,669.1 L1602.7,663.7 L1603,641.4 L1603.3,638 L1603.6,655.3 L1603.9,646.1 L1604.2,657 L1604.5,650.1 L1604.8,638 L1605.1,643.2 L1605.4,648.2 L1605.7,652.1 L1606,659.7 L1606.3,647.7 L1606.6,656.3 L1606.9,651.3 L1607.2,651.7 L1607.5,640.4 L1607.8,647.1 L1608.1,641.1 L1608.4,657.3 L1608.7,661.9 L1609,657.4 L1609.3,666.1 L1609.6,656.9 L1609.9,659.8 L1610.2,651.8 L1610.5,655.9 L1610.8,647.1 L1611.1,651.1 L1611.4,660.2 L1611.7,654.4 L1612,652 L1612.3,653.1 L1612.6,656.9 L1612.9,662.2 L1613.2,645.7 L1613.5,653.4 L1613.8,653.5 L1614.1,653.1 L1614.4,654.2 L1614.7,657 L1615,660.5 L1615.3,646 L1615.6,646 L1615.9,653.8 L1616.2,643.4 L1616.5,656 L1616.8,646.6 L1617.1,651.3 L1617.4,641.9 L1617.7,642.6 L1618,671 L1618.3,651.7 L1618.6,668.9 L1618.9,653.3 L1619.2,660.1 L1619.5,641.9 L1619.8,657.3 L1620.1,644.3 L1620.4,628.7 L1620.7,627.6 L1621,643.9 L1621.3,660.8 L1621.6,641.7 L1621.9,630.5 L1622.2,638.3 L1622.5,676.8 L1622.8,624.7 L1623.1,657.9 L1623.4,669.7 L1623.7,629 L1624,632 L1624.3,641.1 L1624.6,637.5 L1624.9,663.7 L1625.2,652 L1625.5,640.8 L1625.8,654.1 L1626.1,669 L1626.4,645.1 L1626.7,635.5 L1627,662.2 L1627.3,676.4 L1627.6,675.9 L1627.9,664.1 L1628.2,648 L1628.5,661.5 L1628.8,659 L1629.1,661.2 L1629.4,649.9 L1629.7,664.9 L1630,664 L1630.3,632.3 L1630.6,658.1 L1630.9,635.7 L1631.2,649.7 L1631.5,647.3 L1631.8,656 L1632.1,643 L1632.4,643.8 L1632.7,641.9 L1633,642.2 L1633.3,629 L1633.6,655.7 L1633.9,642.8 L1634.2,659.7 L1634.5,644.8 L1634.8,657.1 L1635.1,660.1 L1635.4,633.7 L1635.7,648.1 L1636,654.1 L1636.3,642.1 L1636.6,641.7 L1636.9,656.5 L1637.2,671.1 L1637.5,662.2 L1637.8,663.7 L1638.1,658.5 L1638.4,676.5 L1638.7,660.2 L1639,666.3 L1639.3,677.5 L1639.6,662.5 L1639.9,650.7 L1640.2,621.1 L1640.5,618.3 L1640.8,679.2 L1641.1,652 L1641.4,628.1 L1641.7,633.2 L1642,619.2 L1642.3,641.2 L1642.6,628 L1642.9,654.8 L1643.2,679.7 L1643.5,657.4 L1643.8,643.8 L1644.1,641.9 L1644.4,673.4 L1644.7,611.1 L1645,613.7 L1645.3,623.7 L1645.6,608.8 L1645.9,648.8 L1646.2,630.9 L1646.5,615 L1646.8,646.5 L1647.1,637.6 L1647.4,648 L1647.7,638.9 L1648,625.4 L1648.3,611.2 L1648.6,645.6 L1648.9,616.2 L1649.2,658.9 L1649.5,644.8 L1649.8,636.5 L1650.1,617.4 L1650.4,672.1 L1650.7,633.3 L1651,649 L1651.3,621.9 L1651.6,660.2 L1651.9,647.1 L1652.2,660.4 L1652.5,657.6 L1652.8,636 L1653.1,617 L1653.4,637.5 L1653.7,623.5 L1654,629 L1654.3,678.1 L1654.6,667 L1654.9,651.9 L1655.2,659.3 L1655.5,663.1 L1655.8,651.5 L1656.1,643.7 L1656.4,648.1 L1656.7,658.2 L1657,685.4 L1657.3,623.6 L1657.6,646.9 L1657.9,634.8 L1658.2,698 L1658.5,642.3 L1658.8,682.4 L1659.1,670.4 L1659.4,666.6 L1659.7,682.1 L1660,667.2 L1660.3,647.2 L1660.6,693.5 L1660.9,629.1 L1661.2,610.5 L1661.5,630.5 L1661.8,668.3 L1662.1,640 L1662.4,659.2 L1662.7,674.6 L1663,670.8 L1663.3,664.4 L1663.6,677.5 L1663.9,657.6 L1664.2,681 L1664.5,660.4 L1664.8,680.7 L1665.1,675.9 L1665.4,658.3 L1665.7,673.5 L1666,670.7 L1666.3,668.9 L1666.6,661.4 L1666.9,640.7 L1667.2,647.6 L1667.5,665.5 L1667.8,670.9 L1668.1,640.3 L1668.4,644.6 L1668.7,637.8 L1669,640.4 L1669.3,660.4 L1669.6,650.2 L1669.9,661.2 L1670.2,672.9 L1670.5,639.2 L1670.8,657.2 L1671.1,661.8 L1671.4,664.3 L1671.7,672.6 L1672,675.7 L1672.3,669.1 L1672.6,648.3 L1672.9,675.5 L1673.2,681 L1673.5,648.8 L1673.8,659 L1674.1,667.4 L1674.4,657.6 L1674.7,666.4 L1675,668.7 L1675.3,682.9 L1675.6,660.7 L1675.9,661.9 L1676.2,688.3 L1676.5,687 L1676.8,660.5 L1677.1,645.4 L1677.4,663.7 L1677.7,675.8 L1678,664.3 L1678.3,644 L1678.6,644.4 L1678.9,654.2 L1679.2,667.1 L1679.5,673.2 L1679.8,688.7 L1680.1,658.7 L1680.4,653.8 L1680.7,639 L1681,648.9 L1681.3,663.7 L1681.6,664.5 L1681.9,666.6 L1682.2,674 L1682.5,664.9 L1682.8,645.7 L1683.1,672.8 L1683.4,678.6 L1683.7,659.3 L1684,700.2 L1684.3,643.1 L1684.6,643.5 L1684.9,660.7 L1685.2,662.7 L1685.5,657 L1685.8,677.3 L1686.1,695.2 L1686.4,686.6 L1686.7,679.9 L1687,702.3 L1687.3,650.7 L1687.6,669 L1687.9,675.5 L1688.2,669 L1688.5,671.8 L1688.8,670.5 L1689.1,662.8 L1689.4,652.5 L1689.7,653.3 L1690,666.8 L1690.3,680.8 L1690.6,684 L1690.9,688.2 L1691.2,649.5 L1691.5,654 L1691.8,651.6 L1692.1,671.6 L1692.4,673.9 L1692.7,666.7 L1693,690.3 L1693.3,667.3 L1693.6,675.3 L1693.9,683.2 L1694.2,682.8 L1694.5,669.1 L1694.8,696.9 L1695.1,688.3 L1695.4,691.7 L1695.7,679.6 L1696,677.8 L1696.3,660.9 L1696.6,646.1 L1696.9,651.1 L1697.2,646.2 L1697.5,670.2 L1697.8,648.7 L1698.1,662.4 L1698.4,656.7 L1698.7,671.9 L1699,670.3 L1699.3,704.1 L1699.6,690.3 L1699.9,691.5 L1700.2,675.7 L1700.5,640.9 L1700.8,684.6 L1701.1,698.9 L1701.4,664.6 L1701.7,694.7 L1702,666.5 L1702.3,668.6 L1702.6,663.6 L1702.9,652.5 L1703.2,653.6 L1703.5,629.9 L1703.8,662.6 L1704.1,665.2 L1704.4,677.3 L1704.7,661.5 L1705,669.6 L1705.3,695.5 L1705.6,679.3 L1705.9,658.5 L1706.2,664.8 L1706.5,660.5 L1706.8,688 L1707.1,652 L1707.4,682.1 L1707.7,671.5 L1708,627.4 L1708.3,665.5 L1708.6,650.6 L1708.9,642.6 L1709.2,660 L1709.5,668.1 L1709.8,693 L1710.1,668.9 L1710.4,647.9 L1710.7,659.9 L1711,671.8 L1711.3,648.6 L1711.6,658.9 L1711.9,637.3 L1712.2,641.7 L1712.5,656 L1712.8,676.5 L1713.1,652.7 L1713.4,651.7 L1713.7,663.7 L1714,651.4 L1714.3,657.5 L1714.6,653.3 L1714.9,690.3 L1715.2,663.7 L1715.5,686.6 L1715.8,672 L1716.1,689.1 L1716.4,656.1 L1716.7,667.2 L1717,643 L1717.3,678.6 L1717.6,673.2 L1717.9,658.3 L1718.2,684 L1718.5,683.3 L1718.8,682.5 L1719.1,681.8 L1719.4,661.3 L1719.7,645.4 L1720,632.8 L1720.3,668.4 L1720.6,630.1 L1720.9,647.8 L1721.2,676.7 L1721.5,659.7 L1721.8,632.2 L1722.1,634.7 L1722.4,667.3 L1722.7,633.8 L1723,639.7 L1723.3,625.3 L1723.6,644.9 L1723.9,637.9 L1724.2,663.4 L1724.5,633.7 L1724.8,639.5 L1725.1,621.8 L1725.4,665 L1725.7,669 L1726,645.2" fill="none" stroke="#f00" stroke-width="2.0" stroke-linejoin="round"/>
<path d="M1205.1,516.1 L1216.2,518.1 L1222.9,512.7 L1231.3,509.4 L1238,513.8 L1244.8,516.1 L1251.5,514.8 L1263.3,517.8 L1275,515.4 L1285.1,516.1 L1295.2,511.4 L1300.2,509.4 L1308.6,511.4 L1315.4,510.4 L1325.5,513.1 L1332.2,513.1 L1337.2,514.8 L1344,511.4 L1349,507.7 L1354,510.4 L1360.8,510.4 L1367.5,506 L1374.2,508 L1386,508 L1396.1,509.7 L1406.2,510.4 L1416.2,510.4 L1424.7,507.7 L1433.1,509.7 L1441.5,512.7 L1448.2,510.4 L1452.2,496.9 L1461.6,497.6 L1466.7,502 L1473.4,508.7 L1480.1,513.1 L1486.9,513.1 L1495.3,516.1 L1500,513.1 L1502.2,509.7 L1507.3,508.7 L1512.3,511.4 L1520.7,508.7 L1527.5,507 L1534.2,509.7 L1539.2,507.7 L1546,513.8 L1551,517.1 L1556,518.8 L1557.7,517.1 L1561.1,519.8 L1567.8,517.1 L1576.2,512.1 L1584.6,516.5 L1593,513.1 L1599.8,511.4 L1606.5,514.8 L1614.9,515.5 L1623.3,513.1 L1628.4,511.4 L1635.1,512.1 L1641.8,510.4 L1645.2,508.7 L1650.2,511.1 L1653.6,508.1 L1658.6,510.4 L1665.4,515.5 L1670.4,517.1 L1677.1,514.8 L1682.2,515.5 L1687.2,517.1 L1692.3,516.5 L1697.3,515.5 L1704,516.1 L1710.8,516.5 L1715.8,514.8 L1722.5,513.1" fill="none" stroke="#000" stroke-width="2.1" stroke-linejoin="round"/>
</g>
<line x1="1726" y1="478" x2="1726" y2="822" stroke="#1f77b4" stroke-width="2.0" stroke-dasharray="2.08 3.47"/>
<path d="M1800,478 H1205 V822 H1800" fill="none" stroke="#000" stroke-width="2"/>
<line x1="1800" y1="477" x2="1800" y2="823" stroke="#f00" stroke-width="2.0"/>
<rect x="1244" y="817" width="1" height="4" fill="#000"/>
<rect x="1319" y="817" width="1" height="4" fill="#000"/>
<rect x="1393" y="817" width="1" height="4" fill="#000"/>
<rect x="1467" y="817" width="1" height="4" fill="#000"/>
<rect x="1542" y="817" width="1" height="4" fill="#000"/>
<rect x="1616" y="817" width="1" height="4" fill="#000"/>
<rect x="1691" y="817" width="1" height="4" fill="#000"/>
<rect x="1765" y="817" width="1" height="4" fill="#000"/>
<rect x="1206" y="512" width="4" height="1" fill="#000"/>
<text x="1200.7" y="519.3" font-size="20.0" text-anchor="end" fill="#000">0</text>
<rect x="1206" y="581" width="4" height="1" fill="#000"/>
<text x="1200.7" y="588.2" font-size="20.0" text-anchor="end" fill="#000">−100</text>
<rect x="1206" y="649" width="4" height="1" fill="#000"/>
<text x="1200.7" y="657.1" font-size="20.0" text-anchor="end" fill="#000">−200</text>
<rect x="1206" y="718" width="4" height="1" fill="#000"/>
<text x="1200.7" y="726" font-size="20.0" text-anchor="end" fill="#000">−300</text>
<rect x="1206" y="787" width="4" height="1" fill="#000"/>
<text x="1200.7" y="794.9" font-size="20.0" text-anchor="end" fill="#000">−400</text>
<text x="1805.4" y="829.8" font-size="20.0" text-anchor="start" fill="#f00">10<tspan dx="0.8" dy="-7.2" font-size="14">−2</tspan></text>
<rect x="1797" y="796" width="2" height="1" fill="#f00"/>
<rect x="1797" y="780" width="2" height="1" fill="#f00"/>
<rect x="1797" y="770" width="2" height="1" fill="#f00"/>
<rect x="1797" y="761" width="2" height="1" fill="#f00"/>
<rect x="1797" y="755" width="2" height="1" fill="#f00"/>
<rect x="1797" y="749" width="2" height="1" fill="#f00"/>
<rect x="1797" y="744" width="2" height="1" fill="#f00"/>
<rect x="1797" y="739" width="2" height="1" fill="#f00"/>
<rect x="1795" y="736" width="4" height="1" fill="#f00"/>
<text x="1805.4" y="743.8" font-size="20.0" text-anchor="start" fill="#f00">10<tspan dx="0.8" dy="-7.2" font-size="14">−1</tspan></text>
<rect x="1797" y="710" width="2" height="1" fill="#f00"/>
<rect x="1797" y="694" width="2" height="1" fill="#f00"/>
<rect x="1797" y="684" width="2" height="1" fill="#f00"/>
<rect x="1797" y="675" width="2" height="1" fill="#f00"/>
<rect x="1797" y="669" width="2" height="1" fill="#f00"/>
<rect x="1797" y="663" width="2" height="1" fill="#f00"/>
<rect x="1797" y="658" width="2" height="1" fill="#f00"/>
<rect x="1797" y="653" width="2" height="1" fill="#f00"/>
<rect x="1795" y="650" width="4" height="1" fill="#f00"/>
<text x="1805.4" y="657.8" font-size="20.0" text-anchor="start" fill="#f00">10<tspan dx="0.8" dy="-7.2" font-size="14">0</tspan></text>
<rect x="1797" y="624" width="2" height="1" fill="#f00"/>
<rect x="1797" y="608" width="2" height="1" fill="#f00"/>
<rect x="1797" y="598" width="2" height="1" fill="#f00"/>
<rect x="1797" y="589" width="2" height="1" fill="#f00"/>
<rect x="1797" y="583" width="2" height="1" fill="#f00"/>
<rect x="1797" y="577" width="2" height="1" fill="#f00"/>
<rect x="1797" y="572" width="2" height="1" fill="#f00"/>
<rect x="1797" y="567" width="2" height="1" fill="#f00"/>
<rect x="1795" y="564" width="4" height="1" fill="#f00"/>
<text x="1805.4" y="571.8" font-size="20.0" text-anchor="start" fill="#f00">10<tspan dx="0.8" dy="-7.2" font-size="14">1</tspan></text>
<rect x="1797" y="538" width="2" height="1" fill="#f00"/>
<rect x="1797" y="522" width="2" height="1" fill="#f00"/>
<rect x="1797" y="512" width="2" height="1" fill="#f00"/>
<rect x="1797" y="503" width="2" height="1" fill="#f00"/>
<rect x="1797" y="497" width="2" height="1" fill="#f00"/>
<rect x="1797" y="491" width="2" height="1" fill="#f00"/>
<rect x="1797" y="486" width="2" height="1" fill="#f00"/>
<rect x="1797" y="481" width="2" height="1" fill="#f00"/>
<text x="1805.4" y="485.8" font-size="20.0" text-anchor="start" fill="#f00">10<tspan dx="0.8" dy="-7.2" font-size="14">2</tspan></text>
<text x="1106" y="650" font-size="24.0" text-anchor="middle" fill="#000" transform="rotate(-90 1106 650)">Dst</text>
<text x="1137" y="650" font-size="24.0" text-anchor="middle" fill="#000" transform="rotate(-90 1137 650)">( nT )</text>
<text x="1875.6" y="650" font-size="24.0" text-anchor="middle" fill="#f00" transform="rotate(-90 1875.6 650)">SW Pressure</text>
<text x="1905.9" y="650" font-size="24.0" text-anchor="middle" fill="#f00" transform="rotate(-90 1905.9 650)">( nPa )</text>
<line x1="1205" y1="931" x2="1800" y2="931" stroke="#000" stroke-width="2.0" stroke-dasharray="2.08 3.47"/>
<clipPath id="cp"><rect x="1205" y="845" width="595" height="172"/></clipPath>
<g clip-path="url(#cp)">
<rect x="1205" y="1003" width="520" height="9.8" fill="#000"/>
<path d="M1205.5,1011.5 L1205.5,995.0 L1206.3,995.0 L1206.3,1011.5 L1206.3,1011.5 L1206.3,990.1 L1207.1,990.1 L1207.1,1011.5 L1207.1,1011.5 L1207.1,991.6 L1208.3,991.6 L1208.3,1011.5 L1209.0,1011.5 L1209.0,993.8 L1209.8,993.8 L1209.8,1011.5 L1210.5,1011.5 L1210.5,988.0 L1211.3,988.0 L1211.3,1011.5 L1212.0,1011.5 L1212.0,993.2 L1212.8,993.2 L1212.8,1011.5 L1212.8,1011.5 L1212.8,995.7 L1213.6,995.7 L1213.6,1011.5 L1214.3,1011.5 L1214.3,997.7 L1215.1,997.7 L1215.1,1011.5 L1215.8,1011.5 L1215.8,991.7 L1218.4,991.7 L1218.4,1011.5 L1219.1,1011.5 L1219.1,1000.4 L1220.9,1000.4 L1220.9,1011.5 L1220.9,1011.5 L1220.9,993.5 L1222.1,993.5 L1222.1,1011.5 L1222.1,1011.5 L1222.1,993.3 L1223.3,993.3 L1223.3,1011.5 L1224.0,1011.5 L1224.0,998.1 L1225.2,998.1 L1225.2,1011.5 L1225.2,1011.5 L1225.2,995.9 L1227.0,995.9 L1227.0,1011.5 L1227.0,1011.5 L1227.0,990.0 L1227.8,990.0 L1227.8,1011.5 L1227.8,1011.5 L1227.8,993.6 L1230.4,993.6 L1230.4,1011.5 L1231.1,1011.5 L1231.1,997.7 L1231.9,997.7 L1231.9,1011.5 L1231.9,1011.5 L1231.9,996.1 L1232.7,996.1 L1232.7,1011.5 L1233.4,1011.5 L1233.4,997.3 L1235.2,997.3 L1235.2,1011.5 L1235.2,1011.5 L1235.2,996.0 L1236.0,996.0 L1236.0,1011.5 L1236.0,1011.5 L1236.0,1003.0 L1236.8,1003.0 L1236.8,1011.5 L1236.8,1011.5 L1236.8,996.2 L1237.6,996.2 L1237.6,1011.5 L1237.6,1011.5 L1237.6,993.3 L1238.4,993.3 L1238.4,1011.5 L1238.4,1011.5 L1238.4,996.1 L1241.0,996.1 L1241.0,1011.5 L1241.0,1011.5 L1241.0,999.8 L1241.8,999.8 L1241.8,1011.5 L1241.8,1011.5 L1241.8,991.5 L1242.6,991.5 L1242.6,1011.5 L1242.6,1011.5 L1242.6,993.5 L1243.8,993.5 L1243.8,1011.5 L1243.8,1011.5 L1243.8,992.3 L1245.6,992.3 L1245.6,1011.5 L1245.6,1011.5 L1245.6,995.1 L1247.4,995.1 L1247.4,1011.5 L1248.1,1011.5 L1248.1,993.4 L1249.3,993.4 L1249.3,1011.5 L1249.3,1011.5 L1249.3,1000.6 L1251.1,1000.6 L1251.1,1011.5 L1251.1,1011.5 L1251.1,995.5 L1252.3,995.5 L1252.3,1011.5 L1252.3,1011.5 L1252.3,997.4 L1253.1,997.4 L1253.1,1011.5 L1253.1,1011.5 L1253.1,997.1 L1255.7,997.1 L1255.7,1011.5 L1255.7,1011.5 L1255.7,997.9 L1256.9,997.9 L1256.9,1011.5 L1256.9,1011.5 L1256.9,997.7 L1258.1,997.7 L1258.1,1011.5 L1258.1,1011.5 L1258.1,995.9 L1258.9,995.9 L1258.9,1011.5 L1258.9,1011.5 L1258.9,992.1 L1260.1,992.1 L1260.1,1011.5 L1260.1,1011.5 L1260.1,993.6 L1260.9,993.6 L1260.9,1011.5 L1261.6,1011.5 L1261.6,997.2 L1263.4,997.2 L1263.4,1011.5 L1264.1,1011.5 L1264.1,997.1 L1264.9,997.1 L1264.9,1011.5 L1264.9,1011.5 L1264.9,1003.0 L1266.1,1003.0 L1266.1,1011.5 L1266.8,1011.5 L1266.8,995.8 L1268.0,995.8 L1268.0,1011.5 L1268.7,1011.5 L1268.7,1002.8 L1269.9,1002.8 L1269.9,1011.5 L1269.9,1011.5 L1269.9,1000.2 L1271.7,1000.2 L1271.7,1011.5 L1271.7,1011.5 L1271.7,998.2 L1272.5,998.2 L1272.5,1011.5 L1273.2,1011.5 L1273.2,1002.7 L1274.0,1002.7 L1274.0,1011.5 L1274.0,1011.5 L1274.0,998.2 L1274.8,998.2 L1274.8,1011.5 L1274.8,1011.5 L1274.8,1000.0 L1276.0,1000.0 L1276.0,1011.5 L1276.7,1011.5 L1276.7,991.9 L1277.9,991.9 L1277.9,1011.5 L1277.9,1011.5 L1277.9,998.1 L1280.5,998.1 L1280.5,1011.5 L1281.2,1011.5 L1281.2,990.3 L1283.0,990.3 L1283.0,1011.5 L1283.7,1011.5 L1283.7,997.5 L1284.5,997.5 L1284.5,1011.5 L1284.5,1011.5 L1284.5,995.7 L1287.1,995.7 L1287.1,1011.5 L1287.8,1011.5 L1287.8,991.7 L1290.4,991.7 L1290.4,1011.5 L1290.4,1011.5 L1290.4,993.3 L1291.6,993.3 L1291.6,1011.5 L1292.3,1011.5 L1292.3,990.8 L1293.1,990.8 L1293.1,1011.5 L1293.1,1011.5 L1293.1,1002.7 L1294.9,1002.7 L1294.9,1011.5 L1294.9,1011.5 L1294.9,1003.7 L1295.7,1003.7 L1295.7,1011.5 L1295.7,1011.5 L1295.7,995.5 L1296.9,995.5 L1296.9,1011.5 L1296.9,1011.5 L1296.9,992.2 L1298.7,992.2 L1298.7,1011.5 L1299.4,1011.5 L1299.4,995.5 L1301.2,995.5 L1301.2,1011.5 L1301.2,1011.5 L1301.2,995.5 L1303.0,995.5 L1303.0,1011.5 L1303.0,1011.5 L1303.0,993.5 L1304.8,993.5 L1304.8,1011.5 L1304.8,1011.5 L1304.8,1000.3 L1306.0,1000.3 L1306.0,1011.5 L1306.0,1011.5 L1306.0,993.9 L1306.8,993.9 L1306.8,1011.5 L1306.8,1011.5 L1306.8,1002.7 L1308.0,1002.7 L1308.0,1011.5 L1308.0,1011.5 L1308.0,984.7 L1308.8,984.7 L1308.8,1011.5 L1308.8,1011.5 L1308.8,997.3 L1311.4,997.3 L1311.4,1011.5 L1311.4,1011.5 L1311.4,995.1 L1312.2,995.1 L1312.2,1011.5 L1312.2,1011.5 L1312.2,997.9 L1314.8,997.9 L1314.8,1011.5 L1315.5,1011.5 L1315.5,995.6 L1316.7,995.6 L1316.7,1011.5 L1316.7,1011.5 L1316.7,997.5 L1317.5,997.5 L1317.5,1011.5 L1317.5,1011.5 L1317.5,992.4 L1320.1,992.4 L1320.1,1011.5 L1320.8,1011.5 L1320.8,1000.5 L1323.4,1000.5 L1323.4,1011.5 L1324.1,1011.5 L1324.1,997.1 L1325.3,997.1 L1325.3,1011.5 L1325.3,1011.5 L1325.3,1000.3 L1327.1,1000.3 L1327.1,1011.5 L1327.1,1011.5 L1327.1,997.2 L1328.9,997.2 L1328.9,1011.5 L1329.6,1011.5 L1329.6,995.7 L1330.4,995.7 L1330.4,1011.5 L1331.1,1011.5 L1331.1,995.9 L1332.9,995.9 L1332.9,1011.5 L1332.9,1011.5 L1332.9,997.1 L1333.7,997.1 L1333.7,1011.5 L1333.7,1011.5 L1333.7,995.5 L1334.5,995.5 L1334.5,1011.5 L1335.2,1011.5 L1335.2,995.2 L1336.4,995.2 L1336.4,1011.5 L1337.1,1011.5 L1337.1,1000.5 L1337.9,1000.5 L1337.9,1011.5 L1338.6,1011.5 L1338.6,1002.8 L1339.4,1002.8 L1339.4,1011.5 L1339.4,1011.5 L1339.4,991.8 L1340.2,991.8 L1340.2,1011.5 L1340.9,1011.5 L1340.9,990.1 L1341.7,990.1 L1341.7,1011.5 L1342.4,1011.5 L1342.4,992.3 L1345.0,992.3 L1345.0,1011.5 L1345.0,1011.5 L1345.0,993.6 L1346.2,993.6 L1346.2,1011.5 L1346.9,1011.5 L1346.9,997.5 L1348.1,997.5 L1348.1,1011.5 L1348.8,1011.5 L1348.8,993.2 L1349.6,993.2 L1349.6,1011.5 L1350.3,1011.5 L1350.3,1000.6 L1351.5,1000.6 L1351.5,1011.5 L1351.5,1011.5 L1351.5,993.7 L1352.7,993.7 L1352.7,1011.5 L1352.7,1011.5 L1352.7,997.3 L1354.5,997.3 L1354.5,1011.5 L1354.5,1011.5 L1354.5,993.9 L1356.3,993.9 L1356.3,1011.5 L1357.0,1011.5 L1357.0,997.6 L1358.2,997.6 L1358.2,1011.5 L1358.2,1011.5 L1358.2,1003.5 L1359.0,1003.5 L1359.0,1011.5 L1359.0,1011.5 L1359.0,995.5 L1360.8,995.5 L1360.8,1011.5 L1361.5,1011.5 L1361.5,1002.7 L1362.7,1002.7 L1362.7,1011.5 L1362.7,1011.5 L1362.7,998.0 L1363.9,998.0 L1363.9,1011.5 L1363.9,1011.5 L1363.9,995.3 L1364.7,995.3 L1364.7,1011.5 L1365.4,1011.5 L1365.4,1000.2 L1366.2,1000.2 L1366.2,1011.5 L1366.9,1011.5 L1366.9,997.7 L1368.1,997.7 L1368.1,1011.5 L1368.8,1011.5 L1368.8,999.8 L1369.6,999.8 L1369.6,1011.5 L1369.6,1011.5 L1369.6,997.2 L1370.4,997.2 L1370.4,1011.5 L1371.1,1011.5 L1371.1,1000.4 L1372.9,1000.4 L1372.9,1011.5 L1373.6,1011.5 L1373.6,988.2 L1374.4,988.2 L1374.4,1011.5 L1374.4,1011.5 L1374.4,990.3 L1376.2,990.3 L1376.2,1011.5 L1376.2,1011.5 L1376.2,1002.6 L1377.4,1002.6 L1377.4,1011.5 L1377.4,1011.5 L1377.4,991.1 L1379.2,991.1 L1379.2,1011.5 L1379.9,1011.5 L1379.9,1003.3 L1381.1,1003.3 L1381.1,1011.5 L1381.1,1011.5 L1381.1,995.1 L1381.9,995.1 L1381.9,1011.5 L1382.6,1011.5 L1382.6,991.6 L1383.8,991.6 L1383.8,1011.5 L1383.8,1011.5 L1383.8,995.3 L1385.6,995.3 L1385.6,1011.5 L1385.6,1011.5 L1385.6,994.1 L1386.8,994.1 L1386.8,1011.5 L1386.8,1011.5 L1386.8,1000.4 L1389.4,1000.4 L1389.4,1011.5 L1389.4,1011.5 L1389.4,995.0 L1390.6,995.0 L1390.6,1011.5 L1390.6,1011.5 L1390.6,1003.3 L1391.4,1003.3 L1391.4,1011.5 L1391.4,1011.5 L1391.4,1003.3 L1392.6,1003.3 L1392.6,1011.5 L1392.6,1011.5 L1392.6,997.6 L1393.4,997.6 L1393.4,1011.5 L1394.1,1011.5 L1394.1,988.7 L1394.9,988.7 L1394.9,1011.5 L1394.9,1011.5 L1394.9,987.9 L1396.1,987.9 L1396.1,1011.5 L1396.1,1011.5 L1396.1,997.5 L1396.9,997.5 L1396.9,1011.5 L1396.9,1011.5 L1396.9,995.1 L1398.7,995.1 L1398.7,1011.5 L1398.7,1011.5 L1398.7,996.1 L1401.3,996.1 L1401.3,1011.5 L1401.3,1011.5 L1401.3,997.3 L1402.1,997.3 L1402.1,1011.5 L1402.1,1011.5 L1402.1,991.9 L1403.3,991.9 L1403.3,1011.5 L1403.3,1011.5 L1403.3,999.7 L1404.5,999.7 L1404.5,1011.5 L1405.2,1011.5 L1405.2,1000.0 L1406.0,1000.0 L1406.0,1011.5 L1406.0,1011.5 L1406.0,1003.4 L1406.8,1003.4 L1406.8,1011.5 L1406.8,1011.5 L1406.8,992.7 L1408.0,992.7 L1408.0,1011.5 L1408.0,1011.5 L1408.0,993.4 L1410.6,993.4 L1410.6,1011.5 L1410.6,1011.5 L1410.6,1003.3 L1411.8,1003.3 L1411.8,1011.5 L1411.8,1011.5 L1411.8,995.2 L1413.0,995.2 L1413.0,1011.5 L1413.0,1011.5 L1413.0,993.3 L1414.2,993.3 L1414.2,1011.5 L1414.9,1011.5 L1414.9,993.5 L1415.7,993.5 L1415.7,1011.5 L1416.4,1011.5 L1416.4,997.2 L1417.2,997.2 L1417.2,1011.5 L1417.2,1011.5 L1417.2,1000.5 L1418.4,1000.5 L1418.4,1011.5 L1418.4,1011.5 L1418.4,997.2 L1419.2,997.2 L1419.2,1011.5 L1419.9,1011.5 L1419.9,998.1 L1420.7,998.1 L1420.7,1011.5 L1420.7,1011.5 L1420.7,1000.5 L1422.5,1000.5 L1422.5,1011.5 L1422.5,1011.5 L1422.5,995.8 L1423.3,995.8 L1423.3,1011.5 L1423.3,1011.5 L1423.3,999.7 L1424.1,999.7 L1424.1,1011.5 L1424.1,1011.5 L1424.1,995.0 L1424.9,995.0 L1424.9,1011.5 L1424.9,1011.5 L1424.9,1000.3 L1425.7,1000.3 L1425.7,1011.5 L1425.7,1011.5 L1425.7,1000.6 L1428.3,1000.6 L1428.3,1011.5 L1429.0,1011.5 L1429.0,992.1 L1429.8,992.1 L1429.8,1011.5 L1429.8,1011.5 L1429.8,997.2 L1432.4,997.2 L1432.4,1011.5 L1432.4,1011.5 L1432.4,1002.7 L1433.2,1002.7 L1433.2,1011.5 L1433.2,1011.5 L1433.2,1000.6 L1434.0,1000.6 L1434.0,1011.5 L1434.0,1011.5 L1434.0,991.9 L1435.8,991.9 L1435.8,1011.5 L1436.5,1011.5 L1436.5,991.6 L1438.3,991.6 L1438.3,1011.5 L1439.0,1011.5 L1439.0,995.1 L1440.8,995.1 L1440.8,1011.5 L1440.8,1011.5 L1440.8,1002.8 L1442.0,1002.8 L1442.0,1011.5 L1442.0,1011.5 L1442.0,1000.6 L1442.8,1000.6 L1442.8,1011.5 L1443.5,1011.5 L1443.5,996.1 L1444.3,996.1 L1444.3,1011.5 L1445.0,1011.5 L1445.0,1002.9 L1446.2,1002.9 L1446.2,1011.5 L1446.9,1011.5 L1446.9,1000.4 L1448.1,1000.4 L1448.1,1011.5 L1448.1,1011.5 L1448.1,1003.3 L1448.9,1003.3 L1448.9,1011.5 L1448.9,1011.5 L1448.9,993.1 L1450.7,993.1 L1450.7,1011.5 L1450.7,1011.5 L1450.7,1000.6 L1452.5,1000.6 L1452.5,1011.5 L1452.5,1011.5 L1452.5,999.7 L1455.1,999.7 L1455.1,1011.5 L1455.1,1011.5 L1455.1,991.8 L1456.3,991.8 L1456.3,1011.5 L1456.3,1011.5 L1456.3,999.7 L1458.1,999.7 L1458.1,1011.5 L1458.1,1011.5 L1458.1,997.8 L1458.9,997.8 L1458.9,1011.5 L1458.9,1011.5 L1458.9,999.6 L1461.5,999.6 L1461.5,1011.5 L1462.2,1011.5 L1462.2,997.9 L1464.0,997.9 L1464.0,1011.5 L1464.0,1011.5 L1464.0,997.4 L1466.6,997.4 L1466.6,1011.5 L1467.3,1011.5 L1467.3,993.5 L1468.1,993.5 L1468.1,1011.5 L1468.1,1011.5 L1468.1,997.4 L1469.9,997.4 L1469.9,1011.5 L1470.6,1011.5 L1470.6,998.1 L1471.4,998.1 L1471.4,1011.5 L1471.4,1011.5 L1471.4,997.2 L1472.2,997.2 L1472.2,1011.5 L1472.2,1011.5 L1472.2,995.0 L1473.4,995.0 L1473.4,1011.5 L1473.4,1011.5 L1473.4,991.8 L1474.2,991.8 L1474.2,1011.5 L1474.2,1011.5 L1474.2,993.9 L1475.0,993.9 L1475.0,1011.5 L1475.0,1011.5 L1475.0,1000.1 L1476.2,1000.1 L1476.2,1011.5 L1476.2,1011.5 L1476.2,998.1 L1478.0,998.1 L1478.0,1011.5 L1478.0,1011.5 L1478.0,1002.9 L1479.2,1002.9 L1479.2,1011.5 L1479.2,1011.5 L1479.2,999.5 L1480.4,999.5 L1480.4,1011.5 L1480.4,1011.5 L1480.4,995.3 L1481.2,995.3 L1481.2,1011.5 L1481.2,1011.5 L1481.2,993.7 L1482.0,993.7 L1482.0,1011.5 L1482.7,1011.5 L1482.7,996.2 L1483.5,996.2 L1483.5,1011.5 L1483.5,1011.5 L1483.5,993.7 L1484.3,993.7 L1484.3,1011.5 L1484.3,1011.5 L1484.3,996.1 L1485.1,996.1 L1485.1,1011.5 L1485.1,1011.5 L1485.1,996.1 L1485.9,996.1 L1485.9,1011.5 L1486.6,1011.5 L1486.6,995.1 L1488.4,995.1 L1488.4,1011.5 L1488.4,1011.5 L1488.4,996.0 L1489.6,996.0 L1489.6,1011.5 L1489.6,1011.5 L1489.6,1002.6 L1490.4,1002.6 L1490.4,1011.5 L1491.1,1011.5 L1491.1,998.0 L1492.9,998.0 L1492.9,1011.5 L1492.9,1011.5 L1492.9,993.8 L1494.1,993.8 L1494.1,1011.5 L1494.8,1011.5 L1494.8,991.5 L1496.0,991.5 L1496.0,1011.5 L1496.7,1011.5 L1496.7,993.9 L1497.5,993.9 L1497.5,1011.5 L1498.2,1011.5 L1498.2,1002.5 L1500.8,1002.5 L1500.8,1011.5 L1500.8,1011.5 L1500.8,1000.4 L1503.4,1000.4 L1503.4,1011.5 L1504.1,1011.5 L1504.1,999.9 L1504.9,999.9 L1504.9,1011.5 L1505.6,1011.5 L1505.6,992.6 L1507.4,992.6 L1507.4,1011.5 L1508.1,1011.5 L1508.1,994.1 L1508.9,994.1 L1508.9,1011.5 L1508.9,1011.5 L1508.9,1003.5 L1510.1,1003.5 L1510.1,1011.5 L1510.1,1011.5 L1510.1,993.4 L1511.3,993.4 L1511.3,1011.5 L1511.3,1011.5 L1511.3,995.6 L1512.5,995.6 L1512.5,1011.5 L1513.2,1011.5 L1513.2,995.7 L1514.4,995.7 L1514.4,1011.5 L1514.4,1011.5 L1514.4,993.8 L1515.6,993.8 L1515.6,1011.5 L1515.6,1011.5 L1515.6,1003.0 L1516.4,1003.0 L1516.4,1011.5 L1516.4,1011.5 L1516.4,1003.0 L1518.2,1003.0 L1518.2,1011.5 L1518.9,1011.5 L1518.9,994.0 L1520.1,994.0 L1520.1,1011.5 L1520.1,1011.5 L1520.1,994.0 L1520.9,994.0 L1520.9,1011.5 L1521.6,1011.5 L1521.6,993.5 L1522.8,993.5 L1522.8,1011.5 L1522.8,1011.5 L1522.8,993.3 L1524.0,993.3 L1524.0,1011.5 L1524.7,1011.5 L1524.7,1003.6 L1525.5,1003.6 L1525.5,1011.5 L1525.5,1011.5 L1525.5,997.9 L1526.7,997.9 L1526.7,1011.5 L1526.7,1011.5 L1526.7,993.9 L1528.5,993.9 L1528.5,1011.5 L1528.5,1011.5 L1528.5,996.0 L1529.3,996.0 L1529.3,1011.5 L1529.3,1011.5 L1529.3,995.8 L1530.5,995.8 L1530.5,1011.5 L1530.5,1011.5 L1530.5,988.5 L1531.3,988.5 L1531.3,1011.5 L1532.0,1011.5 L1532.0,997.2 L1532.8,997.2 L1532.8,1011.5 L1532.8,1011.5 L1532.8,990.6 L1534.0,990.6 L1534.0,1011.5 L1534.0,1011.5 L1534.0,1003.1 L1535.8,1003.1 L1535.8,1011.5 L1535.8,1011.5 L1535.8,1003.6 L1537.6,1003.6 L1537.6,1011.5 L1537.6,1011.5 L1537.6,997.2 L1539.4,997.2 L1539.4,1011.5 L1539.4,1011.5 L1539.4,992.1 L1540.2,992.1 L1540.2,1011.5 L1540.2,1011.5 L1540.2,991.9 L1541.0,991.9 L1541.0,1011.5 L1541.7,1011.5 L1541.7,993.7 L1543.5,993.7 L1543.5,1011.5 L1543.5,1011.5 L1543.5,995.1 L1545.3,995.1 L1545.3,1011.5 L1545.3,1011.5 L1545.3,1003.2 L1546.5,1003.2 L1546.5,1011.5 L1547.2,1011.5 L1547.2,997.5 L1548.4,997.5 L1548.4,1011.5 L1548.4,1011.5 L1548.4,993.4 L1549.2,993.4 L1549.2,1011.5 L1549.2,1011.5 L1549.2,997.2 L1550.0,997.2 L1550.0,1011.5 L1550.0,1011.5 L1550.0,1000.4 L1550.8,1000.4 L1550.8,1011.5 L1550.8,1011.5 L1550.8,1000.6 L1551.6,1000.6 L1551.6,1011.5 L1552.3,1011.5 L1552.3,993.0 L1554.9,993.0 L1554.9,1011.5 L1554.9,1011.5 L1554.9,995.2 L1555.7,995.2 L1555.7,1011.5 L1556.4,1011.5 L1556.4,995.4 L1557.2,995.4 L1557.2,1011.5 L1557.2,1011.5 L1557.2,1000.6 L1558.4,1000.6 L1558.4,1011.5 L1558.4,1011.5 L1558.4,994.1 L1560.2,994.1 L1560.2,1011.5 L1560.9,1011.5 L1560.9,995.9 L1562.1,995.9 L1562.1,1011.5 L1562.8,1011.5 L1562.8,1002.7 L1564.0,1002.7 L1564.0,1011.5 L1564.7,1011.5 L1564.7,1002.6 L1565.9,1002.6 L1565.9,1011.5 L1565.9,1011.5 L1565.9,993.5 L1567.7,993.5 L1567.7,1011.5 L1567.7,1011.5 L1567.7,995.3 L1569.5,995.3 L1569.5,1011.5 L1569.5,1011.5 L1569.5,1000.3 L1570.3,1000.3 L1570.3,1011.5 L1570.3,1011.5 L1570.3,995.8 L1571.1,995.8 L1571.1,1011.5 L1571.1,1011.5 L1571.1,1003.4 L1571.9,1003.4 L1571.9,1011.5 L1571.9,1011.5 L1571.9,1003.1 L1573.7,1003.1 L1573.7,1011.5 L1573.7,1011.5 L1573.7,993.7 L1575.5,993.7 L1575.5,1011.5 L1575.5,1011.5 L1575.5,1000.0 L1576.7,1000.0 L1576.7,1011.5 L1577.4,1011.5 L1577.4,1003.0 L1579.2,1003.0 L1579.2,1011.5 L1579.9,1011.5 L1579.9,992.0 L1580.7,992.0 L1580.7,1011.5 L1580.7,1011.5 L1580.7,994.0 L1581.9,994.0 L1581.9,1011.5 L1581.9,1011.5 L1581.9,996.0 L1583.1,996.0 L1583.1,1011.5 L1583.1,1011.5 L1583.1,995.0 L1584.3,995.0 L1584.3,1011.5 L1585.0,1011.5 L1585.0,993.9 L1586.8,993.9 L1586.8,1011.5 L1586.8,1011.5 L1586.8,997.7 L1587.6,997.7 L1587.6,1011.5 L1587.6,1011.5 L1587.6,1000.4 L1588.4,1000.4 L1588.4,1011.5 L1588.4,1011.5 L1588.4,1003.7 L1589.2,1003.7 L1589.2,1011.5 L1589.2,1011.5 L1589.2,1002.6 L1590.0,1002.6 L1590.0,1011.5 L1590.0,1011.5 L1590.0,997.5 L1591.8,997.5 L1591.8,1011.5 L1592.5,1011.5 L1592.5,995.0 L1593.3,995.0 L1593.3,1011.5 L1593.3,1011.5 L1593.3,999.9 L1594.1,999.9 L1594.1,1011.5 L1594.1,1011.5 L1594.1,997.3 L1595.3,997.3 L1595.3,1011.5 L1596.0,1011.5 L1596.0,995.6 L1596.8,995.6 L1596.8,1011.5 L1597.5,1011.5 L1597.5,1000.3 L1598.3,1000.3 L1598.3,1011.5 L1598.3,1011.5 L1598.3,996.0 L1600.1,996.0 L1600.1,1011.5 L1600.1,1011.5 L1600.1,997.5 L1602.7,997.5 L1602.7,1011.5 L1602.7,1011.5 L1602.7,996.0 L1603.5,996.0 L1603.5,1011.5 L1603.5,1011.5 L1603.5,1002.8 L1604.7,1002.8 L1604.7,1011.5 L1604.7,1011.5 L1604.7,995.7 L1605.9,995.7 L1605.9,1011.5 L1605.9,1011.5 L1605.9,997.2 L1606.7,997.2 L1606.7,1011.5 L1606.7,1011.5 L1606.7,1000.4 L1607.5,1000.4 L1607.5,1011.5 L1607.5,1011.5 L1607.5,1000.6 L1608.3,1000.6 L1608.3,1011.5 L1608.3,1011.5 L1608.3,995.6 L1610.9,995.6 L1610.9,1011.5 L1610.9,1011.5 L1610.9,992.4 L1612.7,992.4 L1612.7,1011.5 L1613.4,1011.5 L1613.4,995.8 L1614.6,995.8 L1614.6,1011.5 L1614.6,1011.5 L1614.6,993.2 L1616.4,993.2 L1616.4,1011.5 L1616.4,1011.5 L1616.4,999.8 L1618.2,999.8 L1618.2,1011.5 L1618.2,1011.5 L1618.2,995.7 L1619.4,995.7 L1619.4,1011.5 L1620.1,1011.5 L1620.1,993.5 L1622.7,993.5 L1622.7,1011.5 L1623.4,1011.5 L1623.4,995.8 L1624.2,995.8 L1624.2,1011.5 L1624.9,1011.5 L1624.9,993.4 L1626.1,993.4 L1626.1,1011.5 L1626.1,1011.5 L1626.1,997.6 L1627.9,997.6 L1627.9,1011.5 L1627.9,1011.5 L1627.9,997.9 L1628.7,997.9 L1628.7,1011.5 L1628.7,1011.5 L1628.7,995.0 L1631.3,995.0 L1631.3,1011.5 L1631.3,1011.5 L1631.3,1000.4 L1632.1,1000.4 L1632.1,1011.5 L1632.1,1011.5 L1632.1,990.7 L1632.9,990.7 L1632.9,1011.5 L1632.9,1011.5 L1632.9,995.7 L1635.5,995.7 L1635.5,1011.5 L1635.5,1011.5 L1635.5,993.2 L1638.1,993.2 L1638.1,1011.5 L1638.1,1011.5 L1638.1,993.1 L1638.9,993.1 L1638.9,1011.5 L1638.9,1011.5 L1638.9,1002.7 L1640.1,1002.7 L1640.1,1011.5 L1640.8,1011.5 L1640.8,1000.5 L1643.4,1000.5 L1643.4,1011.5 L1644.1,1011.5 L1644.1,1003.3 L1644.9,1003.3 L1644.9,1011.5 L1644.9,1011.5 L1644.9,995.7 L1647.5,995.7 L1647.5,1011.5 L1648.2,1011.5 L1648.2,992.5 L1649.0,992.5 L1649.0,1011.5 L1649.0,1011.5 L1649.0,988.3 L1650.2,988.3 L1650.2,1011.5 L1650.9,1011.5 L1650.9,995.6 L1651.7,995.6 L1651.7,1011.5 L1651.7,1011.5 L1651.7,1003.4 L1652.9,1003.4 L1652.9,1011.5 L1652.9,1011.5 L1652.9,1003.0 L1654.7,1003.0 L1654.7,1011.5 L1655.4,1011.5 L1655.4,995.7 L1656.6,995.7 L1656.6,1011.5 L1656.6,1011.5 L1656.6,997.9 L1659.2,997.9 L1659.2,1011.5 L1659.9,1011.5 L1659.9,993.4 L1661.1,993.4 L1661.1,1011.5 L1661.1,1011.5 L1661.1,997.4 L1661.9,997.4 L1661.9,1011.5 L1661.9,1011.5 L1661.9,988.6 L1664.5,988.6 L1664.5,1011.5 L1665.2,1011.5 L1665.2,997.3 L1667.0,997.3 L1667.0,1011.5 L1667.0,1011.5 L1667.0,997.4 L1667.8,997.4 L1667.8,1011.5 L1667.8,1011.5 L1667.8,996.1 L1668.6,996.1 L1668.6,1011.5 L1669.3,1011.5 L1669.3,993.9 L1670.5,993.9 L1670.5,1011.5 L1671.2,1011.5 L1671.2,998.0 L1673.0,998.0 L1673.0,1011.5 L1673.0,1011.5 L1673.0,1000.4 L1673.8,1000.4 L1673.8,1011.5 L1674.5,1011.5 L1674.5,993.7 L1675.3,993.7 L1675.3,1011.5 L1675.3,1011.5 L1675.3,993.4 L1677.1,993.4 L1677.1,1011.5 L1677.1,1011.5 L1677.1,999.8 L1678.3,999.8 L1678.3,1011.5 L1679.0,1011.5 L1679.0,1002.8 L1680.8,1002.8 L1680.8,1011.5 L1680.8,1011.5 L1680.8,991.6 L1681.6,991.6 L1681.6,1011.5 L1681.6,1011.5 L1681.6,997.0 L1682.8,997.0 L1682.8,1011.5 L1682.8,1011.5 L1682.8,997.9 L1684.6,997.9 L1684.6,1011.5 L1684.6,1011.5 L1684.6,998.0 L1685.8,998.0 L1685.8,1011.5 L1685.8,1011.5 L1685.8,995.6 L1686.6,995.6 L1686.6,1011.5 L1686.6,1011.5 L1686.6,1000.1 L1687.8,1000.1 L1687.8,1011.5 L1688.5,1011.5 L1688.5,995.6 L1689.7,995.6 L1689.7,1011.5 L1689.7,1011.5 L1689.7,993.4 L1690.5,993.4 L1690.5,1011.5 L1690.5,1011.5 L1690.5,1003.4 L1692.3,1003.4 L1692.3,1011.5 L1692.3,1011.5 L1692.3,991.0 L1693.5,991.0 L1693.5,1011.5 L1693.5,1011.5 L1693.5,996.1 L1695.3,996.1 L1695.3,1011.5 L1695.3,1011.5 L1695.3,995.6 L1697.1,995.6 L1697.1,1011.5 L1697.1,1011.5 L1697.1,995.3 L1697.9,995.3 L1697.9,1011.5 L1697.9,1011.5 L1697.9,994.0 L1700.5,994.0 L1700.5,1011.5 L1700.5,1011.5 L1700.5,993.7 L1701.7,993.7 L1701.7,1011.5 L1701.7,1011.5 L1701.7,1003.0 L1702.5,1003.0 L1702.5,1011.5 L1702.5,1011.5 L1702.5,998.2 L1703.7,998.2 L1703.7,1011.5 L1703.7,1011.5 L1703.7,992.0 L1705.5,992.0 L1705.5,1011.5 L1705.5,1011.5 L1705.5,995.5 L1706.3,995.5 L1706.3,1011.5 L1706.3,1011.5 L1706.3,995.7 L1708.9,995.7 L1708.9,1011.5 L1709.6,1011.5 L1709.6,995.1 L1710.4,995.1 L1710.4,1011.5 L1710.4,1011.5 L1710.4,992.3 L1711.2,992.3 L1711.2,1011.5 L1711.2,1011.5 L1711.2,991.8 L1712.0,991.8 L1712.0,1011.5 L1712.0,1011.5 L1712.0,999.7 L1714.6,999.7 L1714.6,1011.5 L1714.6,1011.5 L1714.6,1000.6 L1717.2,1000.6 L1717.2,1011.5 L1717.2,1011.5 L1717.2,997.1 L1718.4,997.1 L1718.4,1011.5 L1718.4,1011.5 L1718.4,998.0 L1719.2,998.0 L1719.2,1011.5 L1719.2,1011.5 L1719.2,997.7 L1720.4,997.7 L1720.4,1011.5 L1720.4,1011.5 L1720.4,995.5 L1722.2,995.5 L1722.2,1011.5 L1722.9,1011.5 L1722.9,999.8 L1724.7,999.8 L1724.7,1011.5Z" fill="#000" stroke="#000" stroke-width="0.9" stroke-linejoin="round"/>
</g>
<line x1="1726" y1="845" x2="1726" y2="1017" stroke="#1f77b4" stroke-width="2.0" stroke-dasharray="2.08 3.47"/>
<rect x="1205" y="845" width="595" height="172" fill="none" stroke="#000" stroke-width="2.0"/>
<rect x="1244" y="1012" width="1" height="4" fill="#000"/>
<text x="1244.1" y="1037.4" font-size="20.0" text-anchor="middle" fill="#000">01</text>
<rect x="1319" y="1012" width="1" height="4" fill="#000"/>
<text x="1318.5" y="1037.4" font-size="20.0" text-anchor="middle" fill="#000">02</text>
<rect x="1393" y="1012" width="1" height="4" fill="#000"/>
<text x="1392.8" y="1037.4" font-size="20.0" text-anchor="middle" fill="#000">03</text>
<rect x="1467" y="1012" width="1" height="4" fill="#000"/>
<text x="1467.2" y="1037.4" font-size="20.0" text-anchor="middle" fill="#000">04</text>
<rect x="1542" y="1012" width="1" height="4" fill="#000"/>
<text x="1541.6" y="1037.4" font-size="20.0" text-anchor="middle" fill="#000">05</text>
<rect x="1616" y="1012" width="1" height="4" fill="#000"/>
<text x="1616" y="1037.4" font-size="20.0" text-anchor="middle" fill="#000">06</text>
<rect x="1691" y="1012" width="1" height="4" fill="#000"/>
<text x="1690.3" y="1037.4" font-size="20.0" text-anchor="middle" fill="#000">07</text>
<rect x="1765" y="1012" width="1" height="4" fill="#000"/>
<text x="1764.7" y="1037.4" font-size="20.0" text-anchor="middle" fill="#000">08</text>
<text x="1200.4" y="1024.8" font-size="20.0" text-anchor="end" fill="#000">10<tspan dx="0.8" dy="-7.2" font-size="14">−1</tspan></text>
<rect x="1206" y="1004" width="2" height="1" fill="#000"/>
<rect x="1796" y="1004" width="3" height="1" fill="#000"/>
<rect x="1206" y="996" width="2" height="1" fill="#000"/>
<rect x="1796" y="996" width="3" height="1" fill="#000"/>
<rect x="1206" y="991" width="2" height="1" fill="#000"/>
<rect x="1796" y="991" width="3" height="1" fill="#000"/>
<rect x="1206" y="986" width="2" height="1" fill="#000"/>
<rect x="1796" y="986" width="3" height="1" fill="#000"/>
<rect x="1206" y="983" width="2" height="1" fill="#000"/>
<rect x="1796" y="983" width="3" height="1" fill="#000"/>
<rect x="1206" y="980" width="2" height="1" fill="#000"/>
<rect x="1796" y="980" width="3" height="1" fill="#000"/>
<rect x="1206" y="978" width="2" height="1" fill="#000"/>
<rect x="1796" y="978" width="3" height="1" fill="#000"/>
<rect x="1206" y="975" width="2" height="1" fill="#000"/>
<rect x="1796" y="975" width="3" height="1" fill="#000"/>
<rect x="1206" y="974" width="5" height="1" fill="#000"/>
<rect x="1794" y="974" width="5" height="1" fill="#000"/>
<text x="1200.4" y="981.8" font-size="20.0" text-anchor="end" fill="#000">10<tspan dx="0.8" dy="-7.2" font-size="14">0</tspan></text>
<rect x="1206" y="961" width="2" height="1" fill="#000"/>
<rect x="1796" y="961" width="3" height="1" fill="#000"/>
<rect x="1206" y="953" width="2" height="1" fill="#000"/>
<rect x="1796" y="953" width="3" height="1" fill="#000"/>
<rect x="1206" y="948" width="2" height="1" fill="#000"/>
<rect x="1796" y="948" width="3" height="1" fill="#000"/>
<rect x="1206" y="943" width="2" height="1" fill="#000"/>
<rect x="1796" y="943" width="3" height="1" fill="#000"/>
<rect x="1206" y="940" width="2" height="1" fill="#000"/>
<rect x="1796" y="940" width="3" height="1" fill="#000"/>
<rect x="1206" y="937" width="2" height="1" fill="#000"/>
<rect x="1796" y="937" width="3" height="1" fill="#000"/>
<rect x="1206" y="935" width="2" height="1" fill="#000"/>
<rect x="1796" y="935" width="3" height="1" fill="#000"/>
<rect x="1206" y="932" width="2" height="1" fill="#000"/>
<rect x="1796" y="932" width="3" height="1" fill="#000"/>
<rect x="1206" y="931" width="5" height="1" fill="#000"/>
<rect x="1794" y="931" width="5" height="1" fill="#000"/>
<text x="1200.4" y="938.8" font-size="20.0" text-anchor="end" fill="#000">10<tspan dx="0.8" dy="-7.2" font-size="14">1</tspan></text>
<rect x="1206" y="918" width="2" height="1" fill="#000"/>
<rect x="1796" y="918" width="3" height="1" fill="#000"/>
<rect x="1206" y="910" width="2" height="1" fill="#000"/>
<rect x="1796" y="910" width="3" height="1" fill="#000"/>
<rect x="1206" y="905" width="2" height="1" fill="#000"/>
<rect x="1796" y="905" width="3" height="1" fill="#000"/>
<rect x="1206" y="900" width="2" height="1" fill="#000"/>
<rect x="1796" y="900" width="3" height="1" fill="#000"/>
<rect x="1206" y="897" width="2" height="1" fill="#000"/>
<rect x="1796" y="897" width="3" height="1" fill="#000"/>
<rect x="1206" y="894" width="2" height="1" fill="#000"/>
<rect x="1796" y="894" width="3" height="1" fill="#000"/>
<rect x="1206" y="892" width="2" height="1" fill="#000"/>
<rect x="1796" y="892" width="3" height="1" fill="#000"/>
<rect x="1206" y="889" width="2" height="1" fill="#000"/>
<rect x="1796" y="889" width="3" height="1" fill="#000"/>
<rect x="1206" y="888" width="5" height="1" fill="#000"/>
<rect x="1794" y="888" width="5" height="1" fill="#000"/>
<text x="1200.4" y="895.8" font-size="20.0" text-anchor="end" fill="#000">10<tspan dx="0.8" dy="-7.2" font-size="14">2</tspan></text>
<rect x="1206" y="875" width="2" height="1" fill="#000"/>
<rect x="1796" y="875" width="3" height="1" fill="#000"/>
<rect x="1206" y="867" width="2" height="1" fill="#000"/>
<rect x="1796" y="867" width="3" height="1" fill="#000"/>
<rect x="1206" y="862" width="2" height="1" fill="#000"/>
<rect x="1796" y="862" width="3" height="1" fill="#000"/>
<rect x="1206" y="857" width="2" height="1" fill="#000"/>
<rect x="1796" y="857" width="3" height="1" fill="#000"/>
<rect x="1206" y="854" width="2" height="1" fill="#000"/>
<rect x="1796" y="854" width="3" height="1" fill="#000"/>
<rect x="1206" y="851" width="2" height="1" fill="#000"/>
<rect x="1796" y="851" width="3" height="1" fill="#000"/>
<rect x="1206" y="849" width="2" height="1" fill="#000"/>
<rect x="1796" y="849" width="3" height="1" fill="#000"/>
<rect x="1206" y="846" width="2" height="1" fill="#000"/>
<rect x="1796" y="846" width="3" height="1" fill="#000"/>
<text x="1200.4" y="852.8" font-size="20.0" text-anchor="end" fill="#000">10<tspan dx="0.8" dy="-7.2" font-size="14">3</tspan></text>
<text x="1107" y="931" font-size="24.0" text-anchor="middle" fill="#000" transform="rotate(-90 1107 931)">&gt;10 MeV Proton Flux</text>
<text x="1141" y="931" font-size="24.0" text-anchor="middle" fill="#000" transform="rotate(-90 1141 931)">( cm<tspan dy="-8.4" font-size="16.8">2</tspan><tspan dx="-1.5" dy="8.4"> s</tspan><tspan dy="-8.4" font-size="16.8">−1</tspan><tspan dx="-1.5" dy="8.4"> sr</tspan><tspan dy="-8.4" font-size="16.8">−1</tspan><tspan dy="8.4"> )</tspan></text>
<text x="1499" y="1065" font-size="24.0" text-anchor="middle" fill="#000">October/November</text>
<text x="1502.5" y="1093" font-size="24.0" text-anchor="middle" fill="#000">2019 (UT)</text>
</svg>
</body></html>
